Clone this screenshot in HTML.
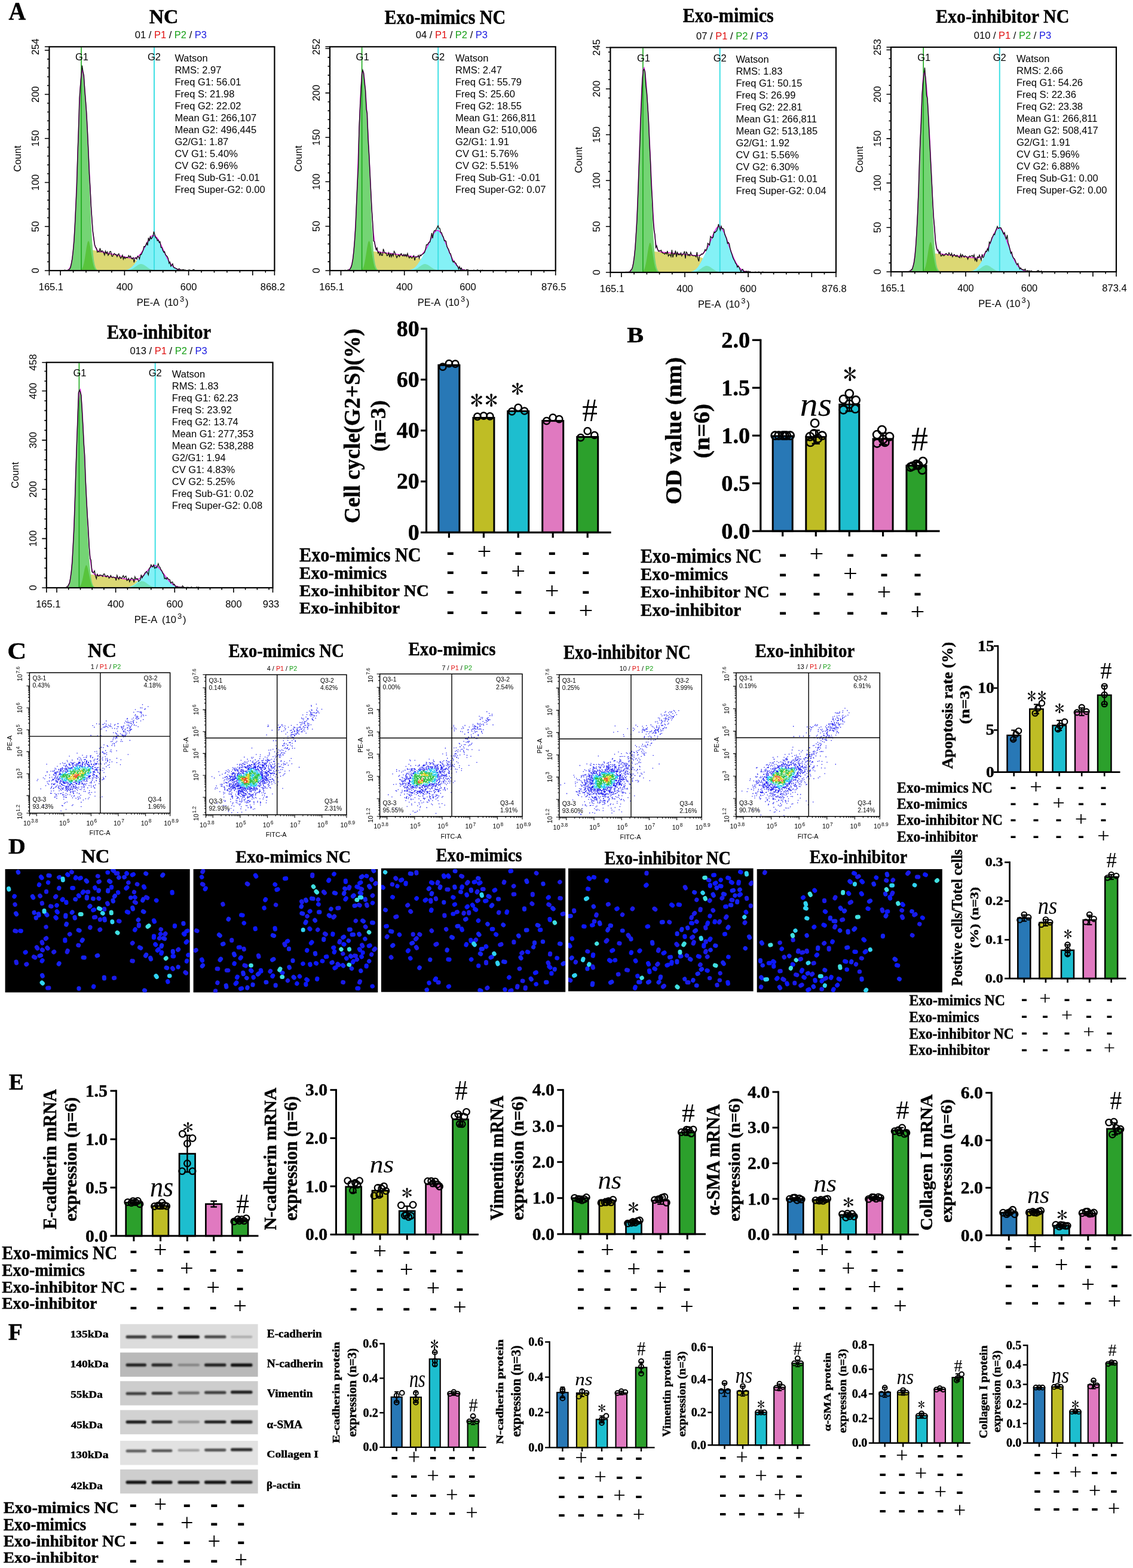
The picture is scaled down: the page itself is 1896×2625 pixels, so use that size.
<!DOCTYPE html>
<html><head><meta charset="utf-8"><title>Figure</title><style>
html,body{margin:0;padding:0;background:#fff;}
svg{display:block;}
.Sb{font-family:'Liberation Serif','Times New Roman',serif;font-weight:bold;stroke:#000;stroke-width:0.45px;}
.Sn{font-family:'Liberation Serif','Times New Roman',serif;font-weight:normal;}
.Sni{font-family:'Liberation Serif','Times New Roman',serif;font-weight:normal;font-style:italic;}
.Sbi{font-family:'Liberation Serif','Times New Roman',serif;font-weight:bold;font-style:italic;}
.Ast{font-family:IPAGothic,'Liberation Serif',serif;font-weight:normal;}
.An{font-family:'Liberation Sans',Arial,sans-serif;font-weight:normal;}
.Ab{font-family:'Liberation Sans',Arial,sans-serif;font-weight:bold;}
</style></head><body><svg width="1896" height="2625" viewBox="0 0 1896 2625"><rect width="1896" height="2625" fill="#fff"/>
<text x="14.61" y="33" class="Sb" font-size="43.02" textLength="28.68" lengthAdjust="spacingAndGlyphs">A</text>
<path d="M107.4 453L107.4 453L108.9 453L110.4 453L111.9 453L113.4 453L114.9 453L116.4 453L117.9 453L119.4 453L120.9 453L122.4 453L123.9 453L125.4 453L126.9 452.9L128.4 452.8L129.9 452.7L131.4 452.5L132.9 452.1L134.4 451.4L135.9 450.2L137.4 448.1L138.9 445.1L140.4 440.8L141.9 435.7L143.4 430.5L144.9 426L146.4 422.8L147.9 420.7L149.4 419.3L150.9 418.6L152.4 418.4L153.9 418.5L155.4 418.7L156.9 418.9L158.4 419.2L159.9 419.5L161.4 419.8L162.9 420.1L164.4 420.4L165.9 420.7L167.4 421.1L168.9 421.4L170.4 421.7L171.9 422L173.4 422.3L174.9 422.6L176.4 423L177.9 423.3L179.4 423.6L180.9 423.9L182.4 424.2L183.9 424.6L185.4 424.9L186.9 425.2L188.4 425.5L189.9 425.8L191.4 426.2L192.9 426.5L194.4 426.8L195.9 427.2L197.4 427.5L198.9 427.8L200.4 428.2L201.9 428.5L203.4 428.9L204.9 429.2L206.4 429.6L207.9 429.9L209.4 430.3L210.9 430.7L212.4 431.1L213.9 431.5L215.4 431.9L216.9 432.3L218.4 432.7L219.9 433.2L221.4 433.7L222.9 434.2L224.4 434.7L225.9 435.3L227.4 435.9L228.9 436.3L230.4 436.7L231.9 437.1L233.4 437.6L234.9 438.1L236.4 438.7L237.9 439.4L239.4 440L240.9 440.8L242.4 441.5L243.9 442.3L245.4 443.1L246.9 443.9L248.4 444.7L249.9 445.5L251.4 446.2L252.9 446.9L254.4 447.6L255.9 448.2L257.4 448.8L258.9 449.3L260.4 449.8L261.9 450.2L263.4 450.6L264.9 450.9L266.4 451.2L267.9 451.5L269.4 451.7L270.9 451.9L272.4 452L273.9 452.2L275.4 452.3L276.9 452.4L278.4 452.5L279.9 452.6L281.4 452.6L282.9 452.7L284.4 452.7L285.9 452.8L287.4 452.8L288.9 452.8L290.4 452.9L291.9 452.9L293.4 452.9L294.9 452.9L296.4 452.9L297.9 452.9L299.4 452.9L300.9 453L302.4 453L303.9 453L305.4 453L306.9 453L308.4 453L309.9 453L311.4 453L312.9 453L314.4 453L315.9 453L317.4 453L318.9 453L320.4 453L321.9 453L323.4 453L324.9 453L326.4 453L327.9 453L329.4 453L330.9 453L332.4 453L332.4 453 Z" fill="#dcd874"/>
<path d="M107.4 453L107.4 453L108.9 453L110.4 453L111.9 453L113.4 453L114.9 453L116.4 453L117.9 453L119.4 453L120.9 453L122.4 453L123.9 453L125.4 453L126.9 453L128.4 453L129.9 453L131.4 453L132.9 453L134.4 453L135.9 453L137.4 453L138.9 453L140.4 453L141.9 453L143.4 453L144.9 453L146.4 453L147.9 453L149.4 453L150.9 453L152.4 453L153.9 453L155.4 453L156.9 453L158.4 453L159.9 453L161.4 453L162.9 453L164.4 453L165.9 453L167.4 453L168.9 453L170.4 453L171.9 453L173.4 453L174.9 453L176.4 453L177.9 453L179.4 453L180.9 453L182.4 453L183.9 453L185.4 453L186.9 453L188.4 453L189.9 453L191.4 453L192.9 453L194.4 453L195.9 452.9L197.4 452.9L198.9 452.9L200.4 452.8L201.9 452.8L203.4 452.7L204.9 452.6L206.4 452.5L207.9 452.3L209.4 452.1L210.9 451.8L212.4 451.5L213.9 451L215.4 450.4L216.9 449.6L218.4 448.6L219.9 447.5L221.4 446.1L222.9 444.6L224.4 442.8L225.9 441L227.4 439.1L228.9 437L230.4 434.7L231.9 432.4L233.4 430.1L234.9 427.7L236.4 425.1L237.9 422.5L239.4 419.7L240.9 416.9L242.4 413.9L243.9 411L245.4 408L246.9 405.1L248.4 402.4L249.9 399.9L251.4 397.8L252.9 396.1L254.4 394.9L255.9 394.3L257.4 394.3L258.9 394.8L260.4 395.8L261.9 397.3L263.4 399.2L264.9 401.5L266.4 404.1L267.9 406.9L269.4 410L270.9 413.3L272.4 416.6L273.9 419.9L275.4 423.2L276.9 426.4L278.4 429.5L279.9 432.4L281.4 435.2L282.9 437.7L284.4 439.9L285.9 442L287.4 443.8L288.9 445.4L290.4 446.7L291.9 447.9L293.4 448.9L294.9 449.7L296.4 450.4L297.9 451L299.4 451.4L300.9 451.8L302.4 452.1L303.9 452.3L305.4 452.5L306.9 452.6L308.4 452.7L309.9 452.8L311.4 452.8L312.9 452.9L314.4 452.9L315.9 452.9L317.4 453L318.9 453L320.4 453L321.9 453L323.4 453L324.9 453L326.4 453L327.9 453L329.4 453L330.9 453L332.4 453L332.4 453 Z" fill="#84f1f6"/>
<path d="M107.4 453L107.4 453L108.9 453L110.4 453L111.9 453L113.4 453L114.9 453L116.4 453L117.9 453L119.4 453L120.9 453L122.4 453L123.9 453L125.4 453L126.9 453L128.4 453L129.9 453L131.4 453L132.9 453L134.4 453L135.9 453L137.4 453L138.9 453L140.4 453L141.9 453L143.4 453L144.9 453L146.4 453L147.9 453L149.4 453L150.9 453L152.4 453L153.9 453L155.4 453L156.9 453L158.4 453L159.9 453L161.4 453L162.9 453L164.4 453L165.9 453L167.4 453L168.9 453L170.4 453L171.9 453L173.4 453L174.9 453L176.4 453L177.9 453L179.4 453L180.9 453L182.4 453L183.9 453L185.4 453L186.9 453L188.4 453L189.9 453L191.4 453L192.9 453L194.4 453L195.9 453L197.4 453L198.9 453L200.4 453L201.9 453L203.4 453L204.9 453L206.4 453L207.9 452.9L209.4 452.9L210.9 452.8L212.4 452.6L213.9 452.5L215.4 452.2L216.9 451.8L218.4 451.4L219.9 450.8L221.4 450L222.9 449.2L224.4 448.2L225.9 447.1L227.4 446L228.9 444.9L230.4 443.9L231.9 443.1L233.4 442.4L234.9 442.1L236.4 442L237.9 442.2L239.4 442.8L240.9 443.5L242.4 444.5L243.9 445.5L245.4 446.6L246.9 447.7L248.4 448.7L249.9 449.7L251.4 450.5L252.9 451.1L254.4 451.6L255.9 452L257.4 452.3L258.9 452.6L260.4 452.7L261.9 452.8L263.4 452.9L264.9 452.9L266.4 453L267.9 453L269.4 453L270.9 453L272.4 453L273.9 453L275.4 453L276.9 453L278.4 453L279.9 453L281.4 453L282.9 453L284.4 453L285.9 453L287.4 453L288.9 453L290.4 453L291.9 453L293.4 453L294.9 453L296.4 453L297.9 453L299.4 453L300.9 453L302.4 453L303.9 453L305.4 453L306.9 453L308.4 453L309.9 453L311.4 453L312.9 453L314.4 453L315.9 453L317.4 453L318.9 453L320.4 453L321.9 453L323.4 453L324.9 453L326.4 453L327.9 453L329.4 453L330.9 453L332.4 453L332.4 453 Z" fill="#6ee0b4" fill-opacity="0.9"/>
<path d="M107.4 453L107.4 453L108.9 452.9L110.4 452.8L111.9 452.6L113.4 452.2L114.9 451.3L116.4 449.7L117.9 446.7L119.4 441.5L120.9 433.1L122.4 420.3L123.9 401.8L125.4 376.5L126.9 344.2L128.4 305.7L129.9 262.8L131.4 219.1L132.9 178.9L134.4 146.5L135.9 125.6L137.4 118L138.9 121.2L140.4 132.6L141.9 150L143.4 171.9L144.9 197.8L146.4 227.7L147.9 262L149.4 299.5L150.9 337.5L152.4 372L153.9 399.9L155.4 420.4L156.9 434.3L158.4 442.8L159.9 447.8L161.4 450.4L162.9 451.8L164.4 452.4L165.9 452.7L167.4 452.9L168.9 452.9L170.4 453L171.9 453L173.4 453L174.9 453L174.9 453 Z" fill="#74d474"/>
<path d="M107.4 453L107.4 453L108.9 453L110.4 453L111.9 453L113.4 453L114.9 453L116.4 453L117.9 453L119.4 453L120.9 453L122.4 453L123.9 453L125.4 453L126.9 453L128.4 453L129.9 453L131.4 452.9L132.9 452.8L134.4 452.5L135.9 451.7L137.4 449.9L138.9 446.5L140.4 441L141.9 433L143.4 423.3L144.9 413.6L146.4 406.1L147.9 403L149.4 405.4L150.9 412.4L152.4 422L153.9 431.8L155.4 440.1L156.9 445.9L158.4 449.5L159.9 451.5L161.4 452.4L162.9 452.8L164.4 452.9L165.9 453L167.4 453L168.9 453L170.4 453L171.9 453L173.4 453L174.9 453L174.9 453 Z" fill="#58c43c"/>
<line x1="136" y1="79.3" x2="136" y2="453" stroke="#1aa81a" stroke-width="1.6"/>
<line x1="258" y1="79.3" x2="258" y2="453" stroke="#3ee0e4" stroke-width="2"/>
<path d="M107.4 453L108.9 452.9L110.4 452.8L111.9 452.6L113.4 452.2L114.9 451.3L116.4 449.7L117.9 446.7L119.4 441.5L120.9 433.1L122.4 420.3L123.9 401.8L125.4 376.5L126.9 344.2L128.4 305.7L129.9 262.8L131.4 219.1L132.9 178.9L134.4 146.5L135.9 125.6L137.4 118L138.9 121.2L140.4 132.5L141.9 149.7L143.4 171.1L144.9 195.8L146.4 223.4L147.9 253.6L149.4 285.2L150.9 316.5L152.4 345.4L153.9 369.7L155.4 388.3L156.9 401.2L158.4 409.5L159.9 414.5L161.4 417.3L162.9 418.9L164.4 419.9L165.9 420.5L167.4 420.9L168.9 421.3L170.4 421.7L171.9 422L173.4 422.3L174.9 422.6L176.4 423L177.9 423.3L179.4 423.6L180.9 423.9L182.4 424.2L183.9 424.6L185.4 424.9L186.9 425.2L188.4 425.5L189.9 425.8L191.4 426.2L192.9 426.5L194.4 426.8L195.9 427.2L197.4 427.5L198.9 427.8L200.4 428.2L201.9 428.5L203.4 428.8L204.9 429.2L206.4 429.5L207.9 429.9L209.4 430.2L210.9 430.5L212.4 430.9L213.9 431.2L215.4 431.5L216.9 431.8L218.4 432L219.9 432.2L221.4 432.3L222.9 432.3L224.4 432.3L225.9 432L227.4 431.7L228.9 431L230.4 430L231.9 428.7L233.4 427.2L234.9 425.5L236.4 423.6L237.9 421.3L239.4 418.9L240.9 416.3L242.4 413.5L243.9 410.7L245.4 407.8L246.9 405L248.4 402.3L249.9 399.9L251.4 397.8L252.9 396.1L254.4 394.9L255.9 394.3L257.4 394.3L258.9 394.8L260.4 395.8L261.9 397.3L263.4 399.2L264.9 401.5L266.4 404.1L267.9 406.9L269.4 410L270.9 413.3L272.4 416.6L273.9 419.9L275.4 423.2L276.9 426.4L278.4 429.5L279.9 432.4L281.4 435.2L282.9 437.7L284.4 439.9L285.9 442L287.4 443.8L288.9 445.4L290.4 446.7L291.9 447.9L293.4 448.9L294.9 449.7L296.4 450.4L297.9 451L299.4 451.4L300.9 451.8L302.4 452.1L303.9 452.3L305.4 452.5L306.9 452.6L308.4 452.7L309.9 452.8L311.4 452.8L312.9 452.9L314.4 452.9L315.9 452.9L317.4 453L318.9 453L320.4 453L321.9 453L323.4 453L324.9 453L326.4 453L327.9 453L329.4 453L330.9 453L332.4 453" fill="none" stroke="#e41ce4" stroke-width="1.6"/>
<path d="M107.4 452.2L108.9 452.1L110.4 452.8L111.9 453L113.4 452.9L114.9 451.3L116.4 450.5L117.9 448L119.4 441.3L120.9 433L122.4 419.5L123.9 403.3L125.4 376.5L126.9 344.5L128.4 313L129.9 259.9L131.4 217.2L132.9 163.8L134.4 145.1L135.9 126.6L137.4 109.5L138.9 119.8L140.4 126.3L141.9 152.1L143.4 169.7L144.9 189.5L146.4 219.4L147.9 252.9L149.4 290.8L150.9 314.3L152.4 345.1L153.9 366.9L155.4 387.5L156.9 397.6L158.4 409.7L159.9 413.9L161.4 415.3L162.9 422.1L164.4 421L165.9 421.9L167.4 415.3L168.9 421.6L170.4 419.8L171.9 420.2L173.4 423.1L174.9 427L176.4 420.3L177.9 424.4L179.4 421.6L180.9 427.5L182.4 425.5L183.9 421.1L185.4 420.9L186.9 428.8L188.4 429.2L189.9 426L191.4 424.2L192.9 426.1L194.4 426L195.9 429.8L197.4 425.9L198.9 424.8L200.4 429.3L201.9 432.3L203.4 430.8L204.9 427.2L206.4 434L207.9 430.1L209.4 432.8L210.9 430.9L212.4 431.5L213.9 431.2L215.4 427.7L216.9 430.7L218.4 428.6L219.9 432.5L221.4 433.5L222.9 431.4L224.4 439.4L225.9 432.1L227.4 431.3L228.9 434.1L230.4 428.7L231.9 430.2L233.4 433.8L234.9 426.1L236.4 426.3L237.9 422.8L239.4 419.4L240.9 412.6L242.4 413.2L243.9 410.8L245.4 406.5L246.9 410.9L248.4 398.2L249.9 403.5L251.4 396.3L252.9 400L254.4 398.3L255.9 395.7L257.4 387.6L258.9 392.4L260.4 397.9L261.9 398.3L263.4 403.1L264.9 401.6L266.4 406L267.9 404.6L269.4 414.3L270.9 414.3L272.4 419.1L273.9 422L275.4 421.2L276.9 426.1L278.4 428L279.9 429.5L281.4 432.4L282.9 440.8L284.4 438.7L285.9 445.7L287.4 443.9L288.9 441.6L290.4 447.1L291.9 448.6L293.4 448.6L294.9 449.7L296.4 450.4L297.9 452.1L299.4 449.8L300.9 450.5L302.4 452.4L303.9 451.9L305.4 451.6L306.9 451.3L308.4 452.2L309.9 451.9L311.4 453L312.9 453L314.4 453L315.9 451.8L317.4 451.8L318.9 452.8L320.4 453L321.9 452.6L323.4 451.1L324.9 451.5L326.4 453L327.9 453L329.4 453L330.9 453L332.4 452.8" fill="none" stroke="#111" stroke-width="1.3"/>
<rect x="82.4" y="78.3" width="377" height="374.7" fill="none" stroke="#000" stroke-width="2.2"/>
<text x="65.4" y="453" class="An" font-size="16.5" text-anchor="middle" transform="rotate(-90 65.4 453)">0</text>
<text x="65.4" y="379.2" class="An" font-size="16.5" text-anchor="middle" transform="rotate(-90 65.4 379.2)">50</text>
<text x="65.4" y="305.5" class="An" font-size="16.5" text-anchor="middle" transform="rotate(-90 65.4 305.5)">100</text>
<text x="65.4" y="231.7" class="An" font-size="16.5" text-anchor="middle" transform="rotate(-90 65.4 231.7)">150</text>
<text x="65.4" y="158" class="An" font-size="16.5" text-anchor="middle" transform="rotate(-90 65.4 158)">200</text>
<text x="65.4" y="78.3" class="An" font-size="16.5" text-anchor="middle" transform="rotate(-90 65.4 78.3)">254</text>
<text x="35.4" y="265.6" class="An" font-size="16.5" text-anchor="middle" transform="rotate(-90 35.4 265.6)">Count</text>
<path d="M74.9 453H82.4M78.9 438.2H82.4M78.9 423.5H82.4M78.9 408.7H82.4M78.9 394H82.4M74.9 379.2H82.4M78.9 364.5H82.4M78.9 349.7H82.4M78.9 335H82.4M78.9 320.2H82.4M74.9 305.5H82.4M78.9 290.7H82.4M78.9 276H82.4M78.9 261.2H82.4M78.9 246.5H82.4M74.9 231.7H82.4M78.9 217H82.4M78.9 202.2H82.4M78.9 187.5H82.4M78.9 172.7H82.4M74.9 158H82.4M78.9 143.2H82.4M78.9 128.5H82.4M78.9 113.7H82.4M78.9 99H82.4M74.9 84.2H82.4M74.9 78.3H82.4M101.1 453V461M122.6 453V456.5M144 453V456.5M165.5 453V456.5M186.9 453V456.5M208.4 453V461M229.8 453V456.5M251.2 453V456.5M272.7 453V456.5M294.1 453V456.5M315.6 453V461M337 453V456.5M358.5 453V456.5M379.9 453V456.5M401.4 453V456.5M422.8 453V461M444.3 453V456.5M82.4 453V461M459.4 453V461" fill="none" stroke="#000" stroke-width="1.6"/>
<text x="85.4" y="486" class="An" font-size="16.5" text-anchor="middle">165.1</text>
<text x="208.4" y="486" class="An" font-size="16.5" text-anchor="middle">400</text>
<text x="315.6" y="486" class="An" font-size="16.5" text-anchor="middle">600</text>
<text x="456.4" y="486" class="An" font-size="16.5" text-anchor="middle">868.2</text>
<text x="247.9" y="512" class="An" font-size="16.5" text-anchor="middle">PE-A</text>
<text x="274.9" y="512" class="An" font-size="16.5">(10</text>
<text x="300.9" y="505" class="An" font-size="13">3</text>
<text x="309.9" y="512" class="An" font-size="16.5">)</text>
<text x="137" y="101.3" class="An" font-size="16.5" text-anchor="middle">G1</text>
<text x="258" y="101.3" class="An" font-size="16.5" text-anchor="middle">G2</text>
<text x="292.4" y="103.3" class="An" font-size="16.5">Watson</text>
<text x="292.4" y="123.3" class="An" font-size="16.5">RMS: 2.97</text>
<text x="292.4" y="143.3" class="An" font-size="16.5">Freq G1: 56.01</text>
<text x="292.4" y="163.3" class="An" font-size="16.5">Freq S: 21.98</text>
<text x="292.4" y="183.3" class="An" font-size="16.5">Freq G2: 22.02</text>
<text x="292.4" y="203.3" class="An" font-size="16.5">Mean G1: 266,107</text>
<text x="292.4" y="223.3" class="An" font-size="16.5">Mean G2: 496,445</text>
<text x="292.4" y="243.3" class="An" font-size="16.5">G2/G1: 1.87</text>
<text x="292.4" y="263.3" class="An" font-size="16.5">CV G1: 5.40%</text>
<text x="292.4" y="283.3" class="An" font-size="16.5">CV G2: 6.96%</text>
<text x="292.4" y="303.3" class="An" font-size="16.5">Freq Sub-G1: -0.01</text>
<text x="292.4" y="323.3" class="An" font-size="16.5">Freq Super-G2: 0.00</text>
<text x="249.65" y="39.08" class="Sb" font-size="32.74" textLength="48.93" lengthAdjust="spacingAndGlyphs">NC</text>
<text x="285.9" y="64.3" class="An" font-size="16.5" text-anchor="middle"><tspan>01 / </tspan><tspan fill="#e01010">P1</tspan><tspan> / </tspan><tspan fill="#18a018">P2</tspan><tspan> / </tspan><tspan fill="#1818e0">P3</tspan></text>
<path d="M577 453L577 453L578.5 453L580 453L581.5 453L583 453L584.5 453L586 453L587.5 453L589 453L590.5 453L592 453L593.5 453L595 453L596.5 452.9L598 452.9L599.5 452.7L601 452.5L602.5 452.2L604 451.5L605.5 450.4L607 448.5L608.5 445.7L610 441.7L611.5 437L613 432.2L614.5 428.1L616 425.1L617.5 423.1L619 421.9L620.5 421.2L622 421L623.5 420.9L625 421L626.5 421.1L628 421.3L629.5 421.4L631 421.6L632.5 421.8L634 422L635.5 422.2L637 422.4L638.5 422.5L640 422.7L641.5 422.9L643 423.1L644.5 423.3L646 423.5L647.5 423.7L649 423.9L650.5 424.1L652 424.3L653.5 424.4L655 424.6L656.5 424.8L658 425L659.5 425.2L661 425.4L662.5 425.6L664 425.8L665.5 426L667 426.2L668.5 426.4L670 426.6L671.5 426.8L673 427L674.5 427.2L676 427.4L677.5 427.7L679 427.9L680.5 428.1L682 428.3L683.5 428.6L685 428.8L686.5 429.1L688 429.4L689.5 429.7L691 430L692.5 430.3L694 430.6L695.5 431L697 431.4L698.5 431.8L700 432.3L701.5 432.8L703 433.3L704.5 433.7L706 434.2L707.5 434.7L709 435.3L710.5 435.9L712 436.6L713.5 437.3L715 438.2L716.5 439L718 439.9L719.5 440.8L721 441.7L722.5 442.7L724 443.6L725.5 444.5L727 445.3L728.5 446.1L730 446.9L731.5 447.6L733 448.3L734.5 448.9L736 449.4L737.5 449.9L739 450.3L740.5 450.7L742 451L743.5 451.3L745 451.5L746.5 451.7L748 451.9L749.5 452.1L751 452.2L752.5 452.3L754 452.4L755.5 452.5L757 452.6L758.5 452.7L760 452.7L761.5 452.7L763 452.8L764.5 452.8L766 452.8L767.5 452.9L769 452.9L770.5 452.9L772 452.9L773.5 452.9L775 452.9L776.5 453L778 453L779.5 453L781 453L782.5 453L784 453L785.5 453L787 453L788.5 453L790 453L791.5 453L793 453L794.5 453L796 453L797.5 453L799 453L800.5 453L802 453L803.5 453L805 453L806.5 453L808 453L808 453 Z" fill="#dcd874"/>
<path d="M577 453L577 453L578.5 453L580 453L581.5 453L583 453L584.5 453L586 453L587.5 453L589 453L590.5 453L592 453L593.5 453L595 453L596.5 453L598 453L599.5 453L601 453L602.5 453L604 453L605.5 453L607 453L608.5 453L610 453L611.5 453L613 453L614.5 453L616 453L617.5 453L619 453L620.5 453L622 453L623.5 453L625 453L626.5 453L628 453L629.5 453L631 453L632.5 453L634 453L635.5 453L637 453L638.5 453L640 453L641.5 453L643 453L644.5 453L646 453L647.5 453L649 453L650.5 453L652 453L653.5 453L655 453L656.5 453L658 453L659.5 453L661 453L662.5 453L664 453L665.5 453L667 453L668.5 453L670 452.9L671.5 452.9L673 452.9L674.5 452.9L676 452.8L677.5 452.8L679 452.7L680.5 452.6L682 452.4L683.5 452.2L685 452L686.5 451.6L688 451.2L689.5 450.6L691 449.9L692.5 448.9L694 447.8L695.5 446.4L697 444.8L698.5 442.9L700 440.8L701.5 438.6L703 436.3L704.5 433.8L706 431.2L707.5 428.5L709 425.8L710.5 423L712 420.1L713.5 417L715 413.9L716.5 410.6L718 407.2L719.5 403.8L721 400.4L722.5 397.2L724 394.2L725.5 391.5L727 389.2L728.5 387.4L730 386.2L731.5 385.7L733 385.8L734.5 386.6L736 388L737.5 389.8L739 392.1L740.5 394.8L742 397.8L743.5 401.2L745 404.8L746.5 408.5L748 412.3L749.5 416.2L751 419.9L752.5 423.6L754 427.1L755.5 430.3L757 433.4L758.5 436.2L760 438.7L761.5 441L763 443L764.5 444.7L766 446.2L767.5 447.5L769 448.6L770.5 449.5L772 450.2L773.5 450.8L775 451.3L776.5 451.7L778 452L779.5 452.2L781 452.4L782.5 452.6L784 452.7L785.5 452.8L787 452.8L788.5 452.9L790 452.9L791.5 452.9L793 453L794.5 453L796 453L797.5 453L799 453L800.5 453L802 453L803.5 453L805 453L806.5 453L808 453L808 453 Z" fill="#84f1f6"/>
<path d="M577 453L577 453L578.5 453L580 453L581.5 453L583 453L584.5 453L586 453L587.5 453L589 453L590.5 453L592 453L593.5 453L595 453L596.5 453L598 453L599.5 453L601 453L602.5 453L604 453L605.5 453L607 453L608.5 453L610 453L611.5 453L613 453L614.5 453L616 453L617.5 453L619 453L620.5 453L622 453L623.5 453L625 453L626.5 453L628 453L629.5 453L631 453L632.5 453L634 453L635.5 453L637 453L638.5 453L640 453L641.5 453L643 453L644.5 453L646 453L647.5 453L649 453L650.5 453L652 453L653.5 453L655 453L656.5 453L658 453L659.5 453L661 453L662.5 453L664 453L665.5 453L667 453L668.5 453L670 453L671.5 453L673 453L674.5 453L676 453L677.5 453L679 453L680.5 453L682 452.9L683.5 452.9L685 452.8L686.5 452.7L688 452.6L689.5 452.4L691 452.1L692.5 451.7L694 451.2L695.5 450.6L697 449.8L698.5 448.9L700 447.9L701.5 446.8L703 445.7L704.5 444.7L706 443.7L707.5 442.9L709 442.3L710.5 442L712 442L713.5 442.4L715 442.9L716.5 443.8L718 444.7L719.5 445.8L721 446.9L722.5 448L724 449L725.5 449.9L727 450.6L728.5 451.3L730 451.8L731.5 452.1L733 452.4L734.5 452.6L736 452.8L737.5 452.8L739 452.9L740.5 452.9L742 453L743.5 453L745 453L746.5 453L748 453L749.5 453L751 453L752.5 453L754 453L755.5 453L757 453L758.5 453L760 453L761.5 453L763 453L764.5 453L766 453L767.5 453L769 453L770.5 453L772 453L773.5 453L775 453L776.5 453L778 453L779.5 453L781 453L782.5 453L784 453L785.5 453L787 453L788.5 453L790 453L791.5 453L793 453L794.5 453L796 453L797.5 453L799 453L800.5 453L802 453L803.5 453L805 453L806.5 453L808 453L808 453 Z" fill="#6ee0b4" fill-opacity="0.9"/>
<path d="M577 453L577 453L578.5 452.9L580 452.8L581.5 452.6L583 452.2L584.5 451.3L586 449.7L587.5 446.7L589 441.5L590.5 433.2L592 420.4L593.5 401.8L595 376.6L596.5 344.4L598 305.8L599.5 263.1L601 219.4L602.5 179.2L604 146.9L605.5 126.2L607 118.7L608.5 122.2L610 133.8L611.5 151.6L613 173.8L614.5 199.9L616 229.9L617.5 263.9L619 301.1L620.5 338.6L622 372.6L623.5 400.2L625 420.6L626.5 434.3L628 442.9L629.5 447.8L631 450.4L632.5 451.8L634 452.4L635.5 452.7L637 452.9L638.5 452.9L640 453L641.5 453L643 453L644.5 453L644.5 453 Z" fill="#74d474"/>
<path d="M577 453L577 453L578.5 453L580 453L581.5 453L583 453L584.5 453L586 453L587.5 453L589 453L590.5 453L592 453L593.5 453L595 453L596.5 453L598 453L599.5 453L601 452.9L602.5 452.8L604 452.5L605.5 451.7L607 449.9L608.5 446.5L610 441L611.5 433L613 423.3L614.5 413.6L616 406.1L617.5 403L619 405.4L620.5 412.4L622 422L623.5 431.8L625 440.1L626.5 445.9L628 449.5L629.5 451.5L631 452.4L632.5 452.8L634 452.9L635.5 453L637 453L638.5 453L640 453L641.5 453L643 453L644.5 453L644.5 453 Z" fill="#58c43c"/>
<line x1="605.6" y1="79.3" x2="605.6" y2="453" stroke="#1aa81a" stroke-width="1.6"/>
<line x1="733.2" y1="79.3" x2="733.2" y2="453" stroke="#3ee0e4" stroke-width="2"/>
<path d="M577 453L578.5 452.9L580 452.8L581.5 452.6L583 452.2L584.5 451.3L586 449.7L587.5 446.7L589 441.5L590.5 433.2L592 420.4L593.5 401.8L595 376.6L596.5 344.4L598 305.8L599.5 263.1L601 219.4L602.5 179.2L604 146.9L605.5 126.2L607 118.7L608.5 122.1L610 133.7L611.5 151.3L613 173.1L614.5 198.1L616 225.9L617.5 256.2L619 287.8L620.5 319.1L622 348L623.5 372.2L625 390.6L626.5 403.4L628 411.6L629.5 416.4L631 419.1L632.5 420.6L634 421.4L635.5 421.9L637 422.2L638.5 422.5L640 422.7L641.5 422.9L643 423.1L644.5 423.3L646 423.5L647.5 423.7L649 423.9L650.5 424.1L652 424.3L653.5 424.4L655 424.6L656.5 424.8L658 425L659.5 425.2L661 425.4L662.5 425.6L664 425.8L665.5 426L667 426.2L668.5 426.4L670 426.6L671.5 426.8L673 427L674.5 427.2L676 427.4L677.5 427.6L679 427.9L680.5 428.1L682 428.3L683.5 428.5L685 428.7L686.5 428.9L688 429.1L689.5 429.3L691 429.5L692.5 429.6L694 429.7L695.5 429.7L697 429.7L698.5 429.5L700 429.2L701.5 428.8L703 428.2L704.5 427.2L706 426L707.5 424.5L709 422.7L710.5 420.7L712 418.4L713.5 415.8L715 413L716.5 409.9L718 406.8L719.5 403.5L721 400.2L722.5 397L724 394.1L725.5 391.4L727 389.1L728.5 387.4L730 386.2L731.5 385.7L733 385.8L734.5 386.6L736 388L737.5 389.8L739 392.1L740.5 394.8L742 397.8L743.5 401.2L745 404.8L746.5 408.5L748 412.3L749.5 416.2L751 419.9L752.5 423.6L754 427.1L755.5 430.3L757 433.4L758.5 436.2L760 438.7L761.5 441L763 443L764.5 444.7L766 446.2L767.5 447.5L769 448.6L770.5 449.5L772 450.2L773.5 450.8L775 451.3L776.5 451.7L778 452L779.5 452.2L781 452.4L782.5 452.6L784 452.7L785.5 452.8L787 452.8L788.5 452.9L790 452.9L791.5 452.9L793 453L794.5 453L796 453L797.5 453L799 453L800.5 453L802 453L803.5 453L805 453L806.5 453L808 453" fill="none" stroke="#e41ce4" stroke-width="1.6"/>
<path d="M577 451.7L578.5 453L580 452.6L581.5 452.5L583 451.6L584.5 452.4L586 450L587.5 447.4L589 442.7L590.5 434.2L592 421.1L593.5 402.3L595 380.1L596.5 342.5L598 308.5L599.5 280.4L601 212.4L602.5 181.7L604 151.8L605.5 124.3L607 117.2L608.5 121.8L610 139.5L611.5 150L613 182.8L614.5 189.3L616 233.3L617.5 257.3L619 287.7L620.5 318.1L622 349L623.5 370.3L625 403.6L626.5 404.2L628 412.5L629.5 418.1L631 415L632.5 423.8L634 422L635.5 428.1L637 421.8L638.5 427.5L640 427.5L641.5 416.6L643 421.5L644.5 423.7L646 423.4L647.5 428.1L649 427.2L650.5 423.2L652 430.5L653.5 424.1L655 429.8L656.5 424.9L658 428.5L659.5 420.7L661 423L662.5 427.4L664 431.4L665.5 428.5L667 426.7L668.5 429.5L670 426.2L671.5 424.5L673 427.5L674.5 428.8L676 425.7L677.5 428.8L679 425.9L680.5 429.3L682 424.3L683.5 429.6L685 431.9L686.5 429L688 431.2L689.5 432.2L691 430.2L692.5 428L694 435.8L695.5 430.2L697 430.4L698.5 430.2L700 427.4L701.5 432.6L703 426.7L704.5 428.2L706 426L707.5 425.5L709 424L710.5 422.6L712 417.5L713.5 409.8L715 410L716.5 407.6L718 405.3L719.5 405.4L721 398.5L722.5 390.2L724 399L725.5 388.8L727 385.8L728.5 386.7L730 383.6L731.5 380.8L733 377.9L734.5 382.1L736 382.2L737.5 388.9L739 389.4L740.5 394.4L742 397.1L743.5 403L745 402.8L746.5 404.1L748 413L749.5 415.6L751 418.3L752.5 423.7L754 424.6L755.5 429.8L757 436.4L758.5 438.8L760 437.1L761.5 439.7L763 440.7L764.5 444.3L766 445.9L767.5 450.4L769 446.2L770.5 451.1L772 448.6L773.5 452.6L775 452.3L776.5 451.5L778 452.6L779.5 453L781 451.3L782.5 451.7L784 452.2L785.5 453L787 453L788.5 453L790 453L791.5 453L793 452.1L794.5 453L796 453L797.5 453L799 451.6L800.5 452.8L802 452.8L803.5 452.7L805 452.4L806.5 452.9L808 451.7" fill="none" stroke="#111" stroke-width="1.3"/>
<rect x="552" y="78.3" width="377.7" height="374.7" fill="none" stroke="#000" stroke-width="2.2"/>
<text x="535" y="453" class="An" font-size="16.5" text-anchor="middle" transform="rotate(-90 535 453)">0</text>
<text x="535" y="378.7" class="An" font-size="16.5" text-anchor="middle" transform="rotate(-90 535 378.7)">50</text>
<text x="535" y="304.3" class="An" font-size="16.5" text-anchor="middle" transform="rotate(-90 535 304.3)">100</text>
<text x="535" y="230" class="An" font-size="16.5" text-anchor="middle" transform="rotate(-90 535 230)">150</text>
<text x="535" y="155.6" class="An" font-size="16.5" text-anchor="middle" transform="rotate(-90 535 155.6)">200</text>
<text x="535" y="78.3" class="An" font-size="16.5" text-anchor="middle" transform="rotate(-90 535 78.3)">252</text>
<text x="505" y="265.6" class="An" font-size="16.5" text-anchor="middle" transform="rotate(-90 505 265.6)">Count</text>
<path d="M544.5 453H552M548.5 438.1H552M548.5 423.3H552M548.5 408.4H552M548.5 393.5H552M544.5 378.7H552M548.5 363.8H552M548.5 348.9H552M548.5 334H552M548.5 319.2H552M544.5 304.3H552M548.5 289.4H552M548.5 274.6H552M548.5 259.7H552M548.5 244.8H552M544.5 230H552M548.5 215.1H552M548.5 200.2H552M548.5 185.4H552M548.5 170.5H552M544.5 155.6H552M548.5 140.8H552M548.5 125.9H552M548.5 111H552M548.5 96.1H552M544.5 81.3H552M544.5 78.3H552M570.5 453V461M591.8 453V456.5M613 453V456.5M634.2 453V456.5M655.5 453V456.5M676.7 453V461M698 453V456.5M719.2 453V456.5M740.4 453V456.5M761.7 453V456.5M782.9 453V461M804.1 453V456.5M825.4 453V456.5M846.6 453V456.5M867.8 453V456.5M889.1 453V461M910.3 453V456.5M552 453V461M929.7 453V461" fill="none" stroke="#000" stroke-width="1.6"/>
<text x="555" y="486" class="An" font-size="16.5" text-anchor="middle">165.1</text>
<text x="676.7" y="486" class="An" font-size="16.5" text-anchor="middle">400</text>
<text x="782.9" y="486" class="An" font-size="16.5" text-anchor="middle">600</text>
<text x="926.7" y="486" class="An" font-size="16.5" text-anchor="middle">876.5</text>
<text x="717.9" y="512" class="An" font-size="16.5" text-anchor="middle">PE-A</text>
<text x="744.9" y="512" class="An" font-size="16.5">(10</text>
<text x="770.9" y="505" class="An" font-size="13">3</text>
<text x="779.9" y="512" class="An" font-size="16.5">)</text>
<text x="606.6" y="101.3" class="An" font-size="16.5" text-anchor="middle">G1</text>
<text x="733.2" y="101.3" class="An" font-size="16.5" text-anchor="middle">G2</text>
<text x="762" y="103.3" class="An" font-size="16.5">Watson</text>
<text x="762" y="123.3" class="An" font-size="16.5">RMS: 2.47</text>
<text x="762" y="143.3" class="An" font-size="16.5">Freq G1: 55.79</text>
<text x="762" y="163.3" class="An" font-size="16.5">Freq S: 25.60</text>
<text x="762" y="183.3" class="An" font-size="16.5">Freq G2: 18.55</text>
<text x="762" y="203.3" class="An" font-size="16.5">Mean G1: 266,811</text>
<text x="762" y="223.3" class="An" font-size="16.5">Mean G2: 510,006</text>
<text x="762" y="243.3" class="An" font-size="16.5">G2/G1: 1.91</text>
<text x="762" y="263.3" class="An" font-size="16.5">CV G1: 5.76%</text>
<text x="762" y="283.3" class="An" font-size="16.5">CV G2: 5.51%</text>
<text x="762" y="303.3" class="An" font-size="16.5">Freq Sub-G1: -0.01</text>
<text x="762" y="323.3" class="An" font-size="16.5">Freq Super-G2: 0.07</text>
<text x="643.39" y="39.87" class="Sb" font-size="33.93" textLength="202.9" lengthAdjust="spacingAndGlyphs">Exo-mimics NC</text>
<text x="755.9" y="64.3" class="An" font-size="16.5" text-anchor="middle"><tspan>04 / </tspan><tspan fill="#e01010">P1</tspan><tspan> / </tspan><tspan fill="#18a018">P2</tspan><tspan> / </tspan><tspan fill="#1818e0">P3</tspan></text>
<path d="M1046.4 456L1046.4 456L1047.9 456L1049.4 456L1050.9 456L1052.4 456L1053.9 456L1055.4 456L1056.9 456L1058.4 456L1059.9 456L1061.4 456L1062.9 456L1064.4 456L1065.9 455.9L1067.4 455.9L1068.9 455.8L1070.4 455.6L1071.9 455.4L1073.4 454.9L1074.9 454L1076.4 452.5L1077.9 450.1L1079.4 446.5L1080.9 441.8L1082.4 436.6L1083.9 431.6L1085.4 427.6L1086.9 424.9L1088.4 423.1L1089.9 422L1091.4 421.5L1092.9 421.3L1094.4 421.2L1095.9 421.2L1097.4 421.3L1098.9 421.4L1100.4 421.5L1101.9 421.7L1103.4 421.8L1104.9 421.9L1106.4 422.1L1107.9 422.2L1109.4 422.4L1110.9 422.5L1112.4 422.6L1113.9 422.8L1115.4 422.9L1116.9 423L1118.4 423.2L1119.9 423.3L1121.4 423.5L1122.9 423.6L1124.4 423.7L1125.9 423.9L1127.4 424L1128.9 424.2L1130.4 424.3L1131.9 424.5L1133.4 424.6L1134.9 424.7L1136.4 424.9L1137.9 425L1139.4 425.2L1140.9 425.3L1142.4 425.5L1143.9 425.6L1145.4 425.8L1146.9 426L1148.4 426.1L1149.9 426.3L1151.4 426.5L1152.9 426.7L1154.4 426.9L1155.9 427.1L1157.4 427.3L1158.9 427.6L1160.4 427.8L1161.9 428.1L1163.4 428.4L1164.9 428.7L1166.4 429L1167.9 429.4L1169.4 429.8L1170.9 430.3L1172.4 430.8L1173.9 431.3L1175.4 431.9L1176.9 432.4L1178.4 433L1179.9 433.7L1181.4 434.5L1182.9 435.3L1184.4 436.2L1185.9 437.2L1187.4 438.2L1188.9 439.3L1190.4 440.4L1191.9 441.6L1193.4 442.7L1194.9 443.9L1196.4 445L1197.9 446.1L1199.4 447.1L1200.9 448.1L1202.4 449L1203.9 449.8L1205.4 450.6L1206.9 451.3L1208.4 451.9L1209.9 452.4L1211.4 452.9L1212.9 453.3L1214.4 453.7L1215.9 454L1217.4 454.3L1218.9 454.6L1220.4 454.8L1221.9 455L1223.4 455.1L1224.9 455.2L1226.4 455.4L1227.9 455.5L1229.4 455.5L1230.9 455.6L1232.4 455.7L1233.9 455.7L1235.4 455.8L1236.9 455.8L1238.4 455.8L1239.9 455.9L1241.4 455.9L1242.9 455.9L1244.4 455.9L1245.9 455.9L1247.4 455.9L1248.9 455.9L1250.4 456L1251.9 456L1253.4 456L1254.9 456L1256.4 456L1257.9 456L1259.4 456L1260.9 456L1262.4 456L1263.9 456L1265.4 456L1266.9 456L1268.4 456L1269.9 456L1271.4 456L1272.9 456L1274.4 456L1275.9 456L1277.4 456L1278.9 456L1278.9 456 Z" fill="#dcd874"/>
<path d="M1046.4 456L1046.4 456L1047.9 456L1049.4 456L1050.9 456L1052.4 456L1053.9 456L1055.4 456L1056.9 456L1058.4 456L1059.9 456L1061.4 456L1062.9 456L1064.4 456L1065.9 456L1067.4 456L1068.9 456L1070.4 456L1071.9 456L1073.4 456L1074.9 456L1076.4 456L1077.9 456L1079.4 456L1080.9 456L1082.4 456L1083.9 456L1085.4 456L1086.9 456L1088.4 456L1089.9 456L1091.4 456L1092.9 456L1094.4 456L1095.9 456L1097.4 456L1098.9 456L1100.4 456L1101.9 456L1103.4 456L1104.9 456L1106.4 456L1107.9 456L1109.4 456L1110.9 456L1112.4 456L1113.9 456L1115.4 456L1116.9 456L1118.4 456L1119.9 456L1121.4 456L1122.9 456L1124.4 456L1125.9 456L1127.4 456L1128.9 456L1130.4 456L1131.9 456L1133.4 456L1134.9 456L1136.4 456L1137.9 456L1139.4 456L1140.9 455.9L1142.4 455.9L1143.9 455.9L1145.4 455.9L1146.9 455.8L1148.4 455.8L1149.9 455.7L1151.4 455.6L1152.9 455.4L1154.4 455.2L1155.9 454.9L1157.4 454.6L1158.9 454.1L1160.4 453.5L1161.9 452.6L1163.4 451.6L1164.9 450.3L1166.4 448.8L1167.9 446.9L1169.4 444.8L1170.9 442.3L1172.4 439.7L1173.9 437L1175.4 434L1176.9 431L1178.4 428L1179.9 424.9L1181.4 421.7L1182.9 418.5L1184.4 415.1L1185.9 411.6L1187.4 408L1188.9 404.3L1190.4 400.5L1191.9 396.8L1193.4 393.1L1194.9 389.7L1196.4 386.6L1197.9 383.9L1199.4 381.7L1200.9 380.2L1202.4 379.3L1203.9 379.3L1205.4 380L1206.9 381.3L1208.4 383.2L1209.9 385.6L1211.4 388.5L1212.9 391.9L1214.4 395.6L1215.9 399.6L1217.4 403.8L1218.9 408.1L1220.4 412.5L1221.9 416.8L1223.4 421L1224.9 425L1226.4 428.8L1227.9 432.4L1229.4 435.7L1230.9 438.7L1232.4 441.4L1233.9 443.7L1235.4 445.8L1236.9 447.6L1238.4 449.2L1239.9 450.5L1241.4 451.6L1242.9 452.5L1244.4 453.3L1245.9 453.9L1247.4 454.3L1248.9 454.7L1250.4 455L1251.9 455.3L1253.4 455.5L1254.9 455.6L1256.4 455.7L1257.9 455.8L1259.4 455.8L1260.9 455.9L1262.4 455.9L1263.9 455.9L1265.4 456L1266.9 456L1268.4 456L1269.9 456L1271.4 456L1272.9 456L1274.4 456L1275.9 456L1277.4 456L1278.9 456L1278.9 456 Z" fill="#84f1f6"/>
<path d="M1046.4 456L1046.4 456L1047.9 456L1049.4 456L1050.9 456L1052.4 456L1053.9 456L1055.4 456L1056.9 456L1058.4 456L1059.9 456L1061.4 456L1062.9 456L1064.4 456L1065.9 456L1067.4 456L1068.9 456L1070.4 456L1071.9 456L1073.4 456L1074.9 456L1076.4 456L1077.9 456L1079.4 456L1080.9 456L1082.4 456L1083.9 456L1085.4 456L1086.9 456L1088.4 456L1089.9 456L1091.4 456L1092.9 456L1094.4 456L1095.9 456L1097.4 456L1098.9 456L1100.4 456L1101.9 456L1103.4 456L1104.9 456L1106.4 456L1107.9 456L1109.4 456L1110.9 456L1112.4 456L1113.9 456L1115.4 456L1116.9 456L1118.4 456L1119.9 456L1121.4 456L1122.9 456L1124.4 456L1125.9 456L1127.4 456L1128.9 456L1130.4 456L1131.9 456L1133.4 456L1134.9 456L1136.4 456L1137.9 456L1139.4 456L1140.9 456L1142.4 456L1143.9 456L1145.4 456L1146.9 456L1148.4 456L1149.9 456L1151.4 456L1152.9 456L1154.4 455.9L1155.9 455.9L1157.4 455.8L1158.9 455.7L1160.4 455.5L1161.9 455.2L1163.4 454.9L1164.9 454.4L1166.4 453.9L1167.9 453.2L1169.4 452.3L1170.9 451.3L1172.4 450.3L1173.9 449.2L1175.4 448.1L1176.9 447.1L1178.4 446.2L1179.9 445.5L1181.4 445.1L1182.9 445L1184.4 445.2L1185.9 445.7L1187.4 446.4L1188.9 447.3L1190.4 448.4L1191.9 449.5L1193.4 450.6L1194.9 451.6L1196.4 452.5L1197.9 453.4L1199.4 454L1200.9 454.6L1202.4 455L1203.9 455.3L1205.4 455.5L1206.9 455.7L1208.4 455.8L1209.9 455.9L1211.4 455.9L1212.9 456L1214.4 456L1215.9 456L1217.4 456L1218.9 456L1220.4 456L1221.9 456L1223.4 456L1224.9 456L1226.4 456L1227.9 456L1229.4 456L1230.9 456L1232.4 456L1233.9 456L1235.4 456L1236.9 456L1238.4 456L1239.9 456L1241.4 456L1242.9 456L1244.4 456L1245.9 456L1247.4 456L1248.9 456L1250.4 456L1251.9 456L1253.4 456L1254.9 456L1256.4 456L1257.9 456L1259.4 456L1260.9 456L1262.4 456L1263.9 456L1265.4 456L1266.9 456L1268.4 456L1269.9 456L1271.4 456L1272.9 456L1274.4 456L1275.9 456L1277.4 456L1278.9 456L1278.9 456 Z" fill="#6ee0b4" fill-opacity="0.9"/>
<path d="M1046.4 456L1046.4 456L1047.9 456L1049.4 455.9L1050.9 455.8L1052.4 455.5L1053.9 454.9L1055.4 453.7L1056.9 451.6L1058.4 447.7L1059.9 441.3L1061.4 431.1L1062.9 415.7L1064.4 394.1L1065.9 365.4L1067.4 329.6L1068.9 288.1L1070.4 243.5L1071.9 199.6L1073.4 161.1L1074.9 132.4L1076.4 116.3L1077.9 113.7L1079.4 120.8L1080.9 135.4L1082.4 155.5L1083.9 179.9L1085.4 208.3L1086.9 240.8L1088.4 277.3L1089.9 316.2L1091.4 353.7L1092.9 386.2L1094.4 411.4L1095.9 429.3L1097.4 441L1098.9 448L1100.4 452L1101.9 454L1103.4 455.1L1104.9 455.6L1106.4 455.8L1107.9 455.9L1109.4 456L1110.9 456L1112.4 456L1113.9 456L1115.4 456L1115.4 456 Z" fill="#74d474"/>
<path d="M1046.4 456L1046.4 456L1047.9 456L1049.4 456L1050.9 456L1052.4 456L1053.9 456L1055.4 456L1056.9 456L1058.4 456L1059.9 456L1061.4 456L1062.9 456L1064.4 456L1065.9 456L1067.4 456L1068.9 456L1070.4 456L1071.9 455.9L1073.4 455.7L1074.9 455.2L1076.4 454.1L1077.9 451.8L1079.4 447.6L1080.9 441.1L1082.4 432.3L1083.9 422.3L1085.4 413.2L1086.9 407.2L1088.4 406.3L1089.9 410.7L1091.4 419.1L1092.9 429L1094.4 438.4L1095.9 445.7L1097.4 450.6L1098.9 453.5L1100.4 454.9L1101.9 455.6L1103.4 455.9L1104.9 456L1106.4 456L1107.9 456L1109.4 456L1110.9 456L1112.4 456L1113.9 456L1115.4 456L1115.4 456 Z" fill="#58c43c"/>
<line x1="1075.9" y1="80.5" x2="1075.9" y2="456" stroke="#1aa81a" stroke-width="1.6"/>
<line x1="1204.7" y1="80.5" x2="1204.7" y2="456" stroke="#3ee0e4" stroke-width="2"/>
<path d="M1046.4 456L1047.9 456L1049.4 455.9L1050.9 455.8L1052.4 455.5L1053.9 454.9L1055.4 453.7L1056.9 451.6L1058.4 447.7L1059.9 441.3L1061.4 431.1L1062.9 415.7L1064.4 394.1L1065.9 365.4L1067.4 329.6L1068.9 288.1L1070.4 243.5L1071.9 199.6L1073.4 161.1L1074.9 132.4L1076.4 116.3L1077.9 113.7L1079.4 120.7L1080.9 135.2L1082.4 155L1083.9 178.7L1085.4 205.6L1086.9 235.1L1088.4 266.8L1089.9 299.2L1091.4 330.2L1092.9 357.8L1094.4 380L1095.9 396.2L1097.4 407.1L1098.9 413.8L1100.4 417.7L1101.9 419.8L1103.4 420.9L1104.9 421.5L1106.4 421.9L1107.9 422.1L1109.4 422.3L1110.9 422.5L1112.4 422.6L1113.9 422.8L1115.4 422.9L1116.9 423L1118.4 423.2L1119.9 423.3L1121.4 423.5L1122.9 423.6L1124.4 423.7L1125.9 423.9L1127.4 424L1128.9 424.2L1130.4 424.3L1131.9 424.5L1133.4 424.6L1134.9 424.7L1136.4 424.9L1137.9 425L1139.4 425.2L1140.9 425.3L1142.4 425.5L1143.9 425.6L1145.4 425.8L1146.9 426L1148.4 426.1L1149.9 426.3L1151.4 426.5L1152.9 426.6L1154.4 426.8L1155.9 427L1157.4 427.2L1158.9 427.3L1160.4 427.5L1161.9 427.6L1163.4 427.7L1164.9 427.8L1166.4 427.8L1167.9 427.7L1169.4 427.5L1170.9 427.2L1172.4 426.7L1173.9 426.1L1175.4 425.2L1176.9 423.9L1178.4 422.4L1179.9 420.6L1181.4 418.5L1182.9 416.1L1184.4 413.4L1185.9 410.4L1187.4 407.1L1188.9 403.7L1190.4 400.1L1191.9 396.5L1193.4 392.9L1194.9 389.5L1196.4 386.5L1197.9 383.8L1199.4 381.6L1200.9 380.1L1202.4 379.3L1203.9 379.2L1205.4 380L1206.9 381.3L1208.4 383.2L1209.9 385.6L1211.4 388.5L1212.9 391.9L1214.4 395.6L1215.9 399.6L1217.4 403.8L1218.9 408.1L1220.4 412.5L1221.9 416.8L1223.4 421L1224.9 425L1226.4 428.8L1227.9 432.4L1229.4 435.7L1230.9 438.7L1232.4 441.4L1233.9 443.7L1235.4 445.8L1236.9 447.6L1238.4 449.2L1239.9 450.5L1241.4 451.6L1242.9 452.5L1244.4 453.3L1245.9 453.9L1247.4 454.3L1248.9 454.7L1250.4 455L1251.9 455.3L1253.4 455.5L1254.9 455.6L1256.4 455.7L1257.9 455.8L1259.4 455.8L1260.9 455.9L1262.4 455.9L1263.9 455.9L1265.4 456L1266.9 456L1268.4 456L1269.9 456L1271.4 456L1272.9 456L1274.4 456L1275.9 456L1277.4 456L1278.9 456" fill="none" stroke="#e41ce4" stroke-width="1.6"/>
<path d="M1046.4 455.9L1047.9 455.2L1049.4 456L1050.9 455.2L1052.4 455.7L1053.9 455.1L1055.4 452.3L1056.9 451.4L1058.4 447.8L1059.9 440.4L1061.4 429.6L1062.9 415.8L1064.4 392L1065.9 369.4L1067.4 331.3L1068.9 290.4L1070.4 251L1071.9 208.9L1073.4 171.7L1074.9 134L1076.4 117.5L1077.9 115.9L1079.4 120.3L1080.9 144.2L1082.4 155.6L1083.9 177.2L1085.4 201L1086.9 240L1088.4 268.9L1089.9 309.3L1091.4 332.6L1092.9 367L1094.4 385.4L1095.9 392.4L1097.4 414.4L1098.9 411.3L1100.4 416.7L1101.9 420.7L1103.4 419.6L1104.9 420L1106.4 418.8L1107.9 422.8L1109.4 424L1110.9 424.2L1112.4 425.5L1113.9 422.9L1115.4 425.2L1116.9 420L1118.4 428.6L1119.9 426.5L1121.4 426.2L1122.9 429.6L1124.4 418.3L1125.9 430.8L1127.4 424.8L1128.9 425.7L1130.4 419.6L1131.9 430.1L1133.4 421.5L1134.9 426.8L1136.4 425.3L1137.9 426.9L1139.4 423.4L1140.9 428.5L1142.4 425.7L1143.9 424.7L1145.4 420.6L1146.9 432.7L1148.4 421.9L1149.9 423.7L1151.4 427.8L1152.9 425.8L1154.4 428.1L1155.9 422.4L1157.4 426.6L1158.9 427.9L1160.4 428.1L1161.9 428.2L1163.4 428.2L1164.9 430.2L1166.4 422.1L1167.9 433L1169.4 437.5L1170.9 427.5L1172.4 427.1L1173.9 425L1175.4 425.7L1176.9 424.4L1178.4 421.5L1179.9 417.8L1181.4 419.9L1182.9 417.3L1184.4 407.3L1185.9 408.7L1187.4 410.3L1188.9 395.8L1190.4 397.4L1191.9 398.5L1193.4 397.1L1194.9 388.4L1196.4 389.5L1197.9 387.8L1199.4 386.6L1200.9 382.1L1202.4 375.1L1203.9 380.9L1205.4 385.5L1206.9 378.7L1208.4 382.9L1209.9 382.5L1211.4 384.1L1212.9 392.5L1214.4 396.1L1215.9 399.8L1217.4 407.6L1218.9 405.9L1220.4 408.1L1221.9 416.2L1223.4 421.7L1224.9 425.7L1226.4 431L1227.9 434.5L1229.4 436.7L1230.9 440.7L1232.4 442.4L1233.9 447.2L1235.4 445.1L1236.9 447.5L1238.4 451.4L1239.9 454.7L1241.4 451.6L1242.9 450.7L1244.4 454.4L1245.9 454.6L1247.4 455.2L1248.9 453.8L1250.4 456L1251.9 453.9L1253.4 455.9L1254.9 454.4L1256.4 455.7L1257.9 456L1259.4 456L1260.9 456L1262.4 456L1263.9 455.2L1265.4 455.7L1266.9 456L1268.4 455.5L1269.9 454.9L1271.4 456L1272.9 456L1274.4 456L1275.9 455.1L1277.4 455.4L1278.9 456" fill="none" stroke="#111" stroke-width="1.3"/>
<rect x="1021.4" y="79.5" width="377.6" height="376.5" fill="none" stroke="#000" stroke-width="2.2"/>
<text x="1004.4" y="456" class="An" font-size="16.5" text-anchor="middle" transform="rotate(-90 1004.4 456)">0</text>
<text x="1004.4" y="379.2" class="An" font-size="16.5" text-anchor="middle" transform="rotate(-90 1004.4 379.2)">50</text>
<text x="1004.4" y="302.3" class="An" font-size="16.5" text-anchor="middle" transform="rotate(-90 1004.4 302.3)">100</text>
<text x="1004.4" y="225.5" class="An" font-size="16.5" text-anchor="middle" transform="rotate(-90 1004.4 225.5)">150</text>
<text x="1004.4" y="148.7" class="An" font-size="16.5" text-anchor="middle" transform="rotate(-90 1004.4 148.7)">200</text>
<text x="1004.4" y="79.5" class="An" font-size="16.5" text-anchor="middle" transform="rotate(-90 1004.4 79.5)">245</text>
<text x="974.4" y="267.8" class="An" font-size="16.5" text-anchor="middle" transform="rotate(-90 974.4 267.8)">Count</text>
<path d="M1013.9 456H1021.4M1017.9 440.6H1021.4M1017.9 425.3H1021.4M1017.9 409.9H1021.4M1017.9 394.5H1021.4M1013.9 379.2H1021.4M1017.9 363.8H1021.4M1017.9 348.4H1021.4M1017.9 333.1H1021.4M1017.9 317.7H1021.4M1013.9 302.3H1021.4M1017.9 287H1021.4M1017.9 271.6H1021.4M1017.9 256.2H1021.4M1017.9 240.9H1021.4M1013.9 225.5H1021.4M1017.9 210.1H1021.4M1017.9 194.8H1021.4M1017.9 179.4H1021.4M1017.9 164H1021.4M1013.9 148.7H1021.4M1017.9 133.3H1021.4M1017.9 117.9H1021.4M1017.9 102.6H1021.4M1017.9 87.2H1021.4M1013.9 79.5H1021.4M1039.9 456V464M1061.1 456V459.5M1082.4 456V459.5M1103.6 456V459.5M1124.8 456V459.5M1146 456V464M1167.3 456V459.5M1188.5 456V459.5M1209.7 456V459.5M1230.9 456V459.5M1252.1 456V464M1273.4 456V459.5M1294.6 456V459.5M1315.8 456V459.5M1337 456V459.5M1358.3 456V464M1379.5 456V459.5M1021.4 456V464M1399 456V464" fill="none" stroke="#000" stroke-width="1.6"/>
<text x="1024.4" y="489" class="An" font-size="16.5" text-anchor="middle">165.1</text>
<text x="1146" y="489" class="An" font-size="16.5" text-anchor="middle">400</text>
<text x="1252.1" y="489" class="An" font-size="16.5" text-anchor="middle">600</text>
<text x="1396" y="489" class="An" font-size="16.5" text-anchor="middle">876.8</text>
<text x="1187.2" y="515" class="An" font-size="16.5" text-anchor="middle">PE-A</text>
<text x="1214.2" y="515" class="An" font-size="16.5">(10</text>
<text x="1240.2" y="508" class="An" font-size="13">3</text>
<text x="1249.2" y="515" class="An" font-size="16.5">)</text>
<text x="1076.9" y="102.5" class="An" font-size="16.5" text-anchor="middle">G1</text>
<text x="1204.7" y="102.5" class="An" font-size="16.5" text-anchor="middle">G2</text>
<text x="1231.4" y="104.5" class="An" font-size="16.5">Watson</text>
<text x="1231.4" y="124.5" class="An" font-size="16.5">RMS: 1.83</text>
<text x="1231.4" y="144.5" class="An" font-size="16.5">Freq G1: 50.15</text>
<text x="1231.4" y="164.5" class="An" font-size="16.5">Freq S: 26.99</text>
<text x="1231.4" y="184.5" class="An" font-size="16.5">Freq G2: 22.81</text>
<text x="1231.4" y="204.5" class="An" font-size="16.5">Mean G1: 266,811</text>
<text x="1231.4" y="224.5" class="An" font-size="16.5">Mean G2: 513,185</text>
<text x="1231.4" y="244.5" class="An" font-size="16.5">G2/G1: 1.92</text>
<text x="1231.4" y="264.5" class="An" font-size="16.5">CV G1: 5.56%</text>
<text x="1231.4" y="284.5" class="An" font-size="16.5">CV G2: 6.30%</text>
<text x="1231.4" y="304.5" class="An" font-size="16.5">Freq Sub-G1: 0.01</text>
<text x="1231.4" y="324.5" class="An" font-size="16.5">Freq Super-G2: 0.04</text>
<text x="1142.69" y="37.37" class="Sb" font-size="33.41" textLength="152.05" lengthAdjust="spacingAndGlyphs">Exo-mimics</text>
<text x="1225.2" y="65.5" class="An" font-size="16.5" text-anchor="middle"><tspan>07 / </tspan><tspan fill="#e01010">P1</tspan><tspan> / </tspan><tspan fill="#18a018">P2</tspan><tspan> / </tspan><tspan fill="#1818e0">P3</tspan></text>
<path d="M1516 455L1516 455L1517.5 455L1519 455L1520.5 455L1522 455L1523.5 455L1525 455L1526.5 455L1528 455L1529.5 455L1531 455L1532.5 455L1534 455L1535.5 454.9L1537 454.9L1538.5 454.8L1540 454.7L1541.5 454.4L1543 453.9L1544.5 453L1546 451.5L1547.5 449.2L1549 445.9L1550.5 441.6L1552 436.9L1553.5 432.7L1555 429.4L1556.5 427.1L1558 425.7L1559.5 424.9L1561 424.5L1562.5 424.4L1564 424.4L1565.5 424.5L1567 424.6L1568.5 424.7L1570 424.9L1571.5 425L1573 425.2L1574.5 425.3L1576 425.5L1577.5 425.7L1579 425.8L1580.5 426L1582 426.1L1583.5 426.3L1585 426.5L1586.5 426.6L1588 426.8L1589.5 427L1591 427.1L1592.5 427.3L1594 427.5L1595.5 427.6L1597 427.8L1598.5 428L1600 428.1L1601.5 428.3L1603 428.5L1604.5 428.6L1606 428.8L1607.5 429L1609 429.1L1610.5 429.3L1612 429.5L1613.5 429.7L1615 429.9L1616.5 430.1L1618 430.2L1619.5 430.4L1621 430.6L1622.5 430.9L1624 431.1L1625.5 431.3L1627 431.6L1628.5 431.8L1630 432.1L1631.5 432.4L1633 432.7L1634.5 433L1636 433.3L1637.5 433.7L1639 434.1L1640.5 434.6L1642 435.1L1643.5 435.6L1645 436L1646.5 436.5L1648 437L1649.5 437.7L1651 438.3L1652.5 439L1654 439.8L1655.5 440.7L1657 441.5L1658.5 442.4L1660 443.4L1661.5 444.3L1663 445.2L1664.5 446.1L1666 447L1667.5 447.8L1669 448.6L1670.5 449.3L1672 450L1673.5 450.6L1675 451.2L1676.5 451.7L1678 452.1L1679.5 452.5L1681 452.9L1682.5 453.2L1684 453.4L1685.5 453.7L1687 453.8L1688.5 454L1690 454.2L1691.5 454.3L1693 454.4L1694.5 454.5L1696 454.6L1697.5 454.6L1699 454.7L1700.5 454.7L1702 454.8L1703.5 454.8L1705 454.8L1706.5 454.9L1708 454.9L1709.5 454.9L1711 454.9L1712.5 454.9L1714 454.9L1715.5 454.9L1717 455L1718.5 455L1720 455L1721.5 455L1723 455L1724.5 455L1726 455L1727.5 455L1729 455L1730.5 455L1732 455L1733.5 455L1735 455L1736.5 455L1738 455L1739.5 455L1741 455L1742.5 455L1744 455L1745.5 455L1747 455L1747 455 Z" fill="#dcd874"/>
<path d="M1516 455L1516 455L1517.5 455L1519 455L1520.5 455L1522 455L1523.5 455L1525 455L1526.5 455L1528 455L1529.5 455L1531 455L1532.5 455L1534 455L1535.5 455L1537 455L1538.5 455L1540 455L1541.5 455L1543 455L1544.5 455L1546 455L1547.5 455L1549 455L1550.5 455L1552 455L1553.5 455L1555 455L1556.5 455L1558 455L1559.5 455L1561 455L1562.5 455L1564 455L1565.5 455L1567 455L1568.5 455L1570 455L1571.5 455L1573 455L1574.5 455L1576 455L1577.5 455L1579 455L1580.5 455L1582 455L1583.5 455L1585 455L1586.5 455L1588 455L1589.5 455L1591 455L1592.5 455L1594 455L1595.5 455L1597 455L1598.5 455L1600 455L1601.5 455L1603 455L1604.5 455L1606 455L1607.5 455L1609 455L1610.5 454.9L1612 454.9L1613.5 454.9L1615 454.8L1616.5 454.8L1618 454.7L1619.5 454.6L1621 454.5L1622.5 454.3L1624 454.1L1625.5 453.8L1627 453.4L1628.5 452.9L1630 452.2L1631.5 451.3L1633 450.2L1634.5 448.9L1636 447.3L1637.5 445.5L1639 443.5L1640.5 441.2L1642 438.8L1643.5 436.2L1645 433.5L1646.5 430.7L1648 427.8L1649.5 424.8L1651 421.7L1652.5 418.4L1654 414.9L1655.5 411.3L1657 407.6L1658.5 403.8L1660 400L1661.5 396.3L1663 392.8L1664.5 389.6L1666 386.8L1667.5 384.6L1669 382.9L1670.5 382L1672 381.8L1673.5 382.3L1675 383.5L1676.5 385.2L1678 387.5L1679.5 390.3L1681 393.4L1682.5 397L1684 400.8L1685.5 404.8L1687 408.9L1688.5 413.1L1690 417.2L1691.5 421.3L1693 425.2L1694.5 428.8L1696 432.3L1697.5 435.4L1699 438.3L1700.5 440.9L1702 443.2L1703.5 445.2L1705 446.9L1706.5 448.4L1708 449.7L1709.5 450.8L1711 451.6L1712.5 452.4L1714 452.9L1715.5 453.4L1717 453.8L1718.5 454.1L1720 454.3L1721.5 454.5L1723 454.6L1724.5 454.7L1726 454.8L1727.5 454.9L1729 454.9L1730.5 454.9L1732 454.9L1733.5 455L1735 455L1736.5 455L1738 455L1739.5 455L1741 455L1742.5 455L1744 455L1745.5 455L1747 455L1747 455 Z" fill="#84f1f6"/>
<path d="M1516 455L1516 455L1517.5 455L1519 455L1520.5 455L1522 455L1523.5 455L1525 455L1526.5 455L1528 455L1529.5 455L1531 455L1532.5 455L1534 455L1535.5 455L1537 455L1538.5 455L1540 455L1541.5 455L1543 455L1544.5 455L1546 455L1547.5 455L1549 455L1550.5 455L1552 455L1553.5 455L1555 455L1556.5 455L1558 455L1559.5 455L1561 455L1562.5 455L1564 455L1565.5 455L1567 455L1568.5 455L1570 455L1571.5 455L1573 455L1574.5 455L1576 455L1577.5 455L1579 455L1580.5 455L1582 455L1583.5 455L1585 455L1586.5 455L1588 455L1589.5 455L1591 455L1592.5 455L1594 455L1595.5 455L1597 455L1598.5 455L1600 455L1601.5 455L1603 455L1604.5 455L1606 455L1607.5 455L1609 455L1610.5 455L1612 455L1613.5 455L1615 455L1616.5 455L1618 455L1619.5 455L1621 455L1622.5 454.9L1624 454.9L1625.5 454.8L1627 454.7L1628.5 454.5L1630 454.2L1631.5 453.9L1633 453.4L1634.5 452.9L1636 452.2L1637.5 451.3L1639 450.3L1640.5 449.3L1642 448.2L1643.5 447.1L1645 446.1L1646.5 445.2L1648 444.5L1649.5 444.1L1651 444L1652.5 444.2L1654 444.7L1655.5 445.4L1657 446.3L1658.5 447.4L1660 448.5L1661.5 449.6L1663 450.6L1664.5 451.5L1666 452.4L1667.5 453L1669 453.6L1670.5 454L1672 454.3L1673.5 454.5L1675 454.7L1676.5 454.8L1678 454.9L1679.5 454.9L1681 455L1682.5 455L1684 455L1685.5 455L1687 455L1688.5 455L1690 455L1691.5 455L1693 455L1694.5 455L1696 455L1697.5 455L1699 455L1700.5 455L1702 455L1703.5 455L1705 455L1706.5 455L1708 455L1709.5 455L1711 455L1712.5 455L1714 455L1715.5 455L1717 455L1718.5 455L1720 455L1721.5 455L1723 455L1724.5 455L1726 455L1727.5 455L1729 455L1730.5 455L1732 455L1733.5 455L1735 455L1736.5 455L1738 455L1739.5 455L1741 455L1742.5 455L1744 455L1745.5 455L1747 455L1747 455 Z" fill="#6ee0b4" fill-opacity="0.9"/>
<path d="M1516 455L1516 455L1517.5 455L1519 454.9L1520.5 454.7L1522 454.4L1523.5 453.8L1525 452.5L1526.5 450.1L1528 445.9L1529.5 439L1531 428.1L1532.5 412L1534 389.6L1535.5 360.1L1537 324L1538.5 282.6L1540 238.9L1541.5 196.8L1543 160.8L1544.5 135.2L1546 122.4L1547.5 122.1L1549 130.9L1550.5 146.6L1552 167.4L1553.5 192.1L1555 220.6L1556.5 253L1558 288.9L1559.5 326.5L1561 362.1L1562.5 392.3L1564 415.4L1565.5 431.6L1567 442L1568.5 448.2L1570 451.6L1571.5 453.3L1573 454.2L1574.5 454.6L1576 454.8L1577.5 454.9L1579 455L1580.5 455L1582 455L1583.5 455L1585 455L1585 455 Z" fill="#74d474"/>
<path d="M1516 455L1516 455L1517.5 455L1519 455L1520.5 455L1522 455L1523.5 455L1525 455L1526.5 455L1528 455L1529.5 455L1531 455L1532.5 455L1534 455L1535.5 455L1537 455L1538.5 455L1540 455L1541.5 454.9L1543 454.7L1544.5 454.1L1546 452.7L1547.5 450.1L1549 445.5L1550.5 438.5L1552 429.4L1553.5 419.3L1555 410.6L1556.5 405.6L1558 405.8L1559.5 411.1L1561 420L1562.5 430L1564 439L1565.5 445.9L1567 450.3L1568.5 452.9L1570 454.1L1571.5 454.7L1573 454.9L1574.5 455L1576 455L1577.5 455L1579 455L1580.5 455L1582 455L1583.5 455L1585 455L1585 455 Z" fill="#58c43c"/>
<line x1="1545.2" y1="80" x2="1545.2" y2="455" stroke="#1aa81a" stroke-width="1.6"/>
<line x1="1672.8" y1="80" x2="1672.8" y2="455" stroke="#3ee0e4" stroke-width="2"/>
<path d="M1516 455L1517.5 455L1519 454.9L1520.5 454.7L1522 454.4L1523.5 453.8L1525 452.5L1526.5 450.1L1528 445.9L1529.5 439L1531 428.1L1532.5 412L1534 389.6L1535.5 360.1L1537 324L1538.5 282.6L1540 238.9L1541.5 196.8L1543 160.8L1544.5 135.2L1546 122.4L1547.5 122.1L1549 130.8L1550.5 146.5L1552 166.9L1553.5 190.9L1555 217.8L1556.5 247.2L1558 278.5L1559.5 310.3L1561 340.4L1562.5 366.6L1564 387.4L1565.5 402.3L1567 412.2L1568.5 418.2L1570 421.6L1571.5 423.4L1573 424.4L1574.5 425L1576 425.3L1577.5 425.6L1579 425.8L1580.5 426L1582 426.1L1583.5 426.3L1585 426.5L1586.5 426.6L1588 426.8L1589.5 427L1591 427.1L1592.5 427.3L1594 427.5L1595.5 427.6L1597 427.8L1598.5 428L1600 428.1L1601.5 428.3L1603 428.5L1604.5 428.6L1606 428.8L1607.5 429L1609 429.1L1610.5 429.3L1612 429.5L1613.5 429.7L1615 429.9L1616.5 430L1618 430.2L1619.5 430.4L1621 430.6L1622.5 430.8L1624 431L1625.5 431.2L1627 431.3L1628.5 431.5L1630 431.6L1631.5 431.7L1633 431.8L1634.5 431.8L1636 431.7L1637.5 431.5L1639 431.2L1640.5 430.7L1642 430L1643.5 429.1L1645 427.8L1646.5 426.2L1648 424.4L1649.5 422.2L1651 419.8L1652.5 417L1654 413.9L1655.5 410.6L1657 407.1L1658.5 403.4L1660 399.7L1661.5 396.1L1663 392.7L1664.5 389.5L1666 386.8L1667.5 384.5L1669 382.9L1670.5 382L1672 381.8L1673.5 382.3L1675 383.5L1676.5 385.2L1678 387.5L1679.5 390.3L1681 393.4L1682.5 397L1684 400.8L1685.5 404.8L1687 408.9L1688.5 413.1L1690 417.2L1691.5 421.3L1693 425.2L1694.5 428.8L1696 432.3L1697.5 435.4L1699 438.3L1700.5 440.9L1702 443.2L1703.5 445.2L1705 446.9L1706.5 448.4L1708 449.7L1709.5 450.8L1711 451.6L1712.5 452.4L1714 452.9L1715.5 453.4L1717 453.8L1718.5 454.1L1720 454.3L1721.5 454.5L1723 454.6L1724.5 454.7L1726 454.8L1727.5 454.9L1729 454.9L1730.5 454.9L1732 454.9L1733.5 455L1735 455L1736.5 455L1738 455L1739.5 455L1741 455L1742.5 455L1744 455L1745.5 455L1747 455" fill="none" stroke="#e41ce4" stroke-width="1.6"/>
<path d="M1516 455L1517.5 454.7L1519 455L1520.5 454.5L1522 453.8L1523.5 453.5L1525 451.2L1526.5 450.9L1528 445.8L1529.5 439.8L1531 429.2L1532.5 412.3L1534 388.8L1535.5 358.4L1537 321.6L1538.5 270.9L1540 233.9L1541.5 206.6L1543 159.5L1544.5 139.4L1546 126L1547.5 113.2L1549 132.3L1550.5 159.4L1552 164.9L1553.5 192.7L1555 224.7L1556.5 252.4L1558 281.8L1559.5 310.4L1561 342.3L1562.5 366.3L1564 380.6L1565.5 405L1567 414.7L1568.5 418.9L1570 418.4L1571.5 425.4L1573 420.4L1574.5 428.7L1576 428.2L1577.5 425.7L1579 428.2L1580.5 427.7L1582 424.9L1583.5 424.3L1585 426.2L1586.5 427.4L1588 423.1L1589.5 425.9L1591 427.8L1592.5 424L1594 429.9L1595.5 427.2L1597 426L1598.5 428L1600 429.7L1601.5 427.3L1603 429.9L1604.5 430.2L1606 431.5L1607.5 425.5L1609 430.6L1610.5 426.2L1612 428.5L1613.5 430.4L1615 428.1L1616.5 429.3L1618 429.9L1619.5 434L1621 430.4L1622.5 428.4L1624 429.7L1625.5 428.6L1627 427.4L1628.5 430.4L1630 426.5L1631.5 435.7L1633 432.4L1634.5 438.3L1636 429.6L1637.5 431.2L1639 426.8L1640.5 431.7L1642 435.4L1643.5 425.6L1645 431.4L1646.5 429.7L1648 424.9L1649.5 420.4L1651 421.3L1652.5 416.4L1654 419.7L1655.5 405.1L1657 407.3L1658.5 403L1660 397.7L1661.5 395.5L1663 392L1664.5 392.9L1666 387.2L1667.5 382.9L1669 379L1670.5 382.4L1672 381.4L1673.5 381.1L1675 381.4L1676.5 384.5L1678 388.4L1679.5 392.1L1681 389.4L1682.5 395.9L1684 400.7L1685.5 393.3L1687 406.1L1688.5 410.4L1690 416.8L1691.5 424.2L1693 422L1694.5 429.1L1696 432.1L1697.5 432.9L1699 435.9L1700.5 440.3L1702 443.1L1703.5 440.9L1705 445.8L1706.5 450.4L1708 448.3L1709.5 450.5L1711 451.6L1712.5 451.3L1714 452.6L1715.5 450.4L1717 453.5L1718.5 453.7L1720 452.7L1721.5 455L1723 453.3L1724.5 454.8L1726 453.3L1727.5 455L1729 454.4L1730.5 455L1732 455L1733.5 454.9L1735 454.4L1736.5 452.8L1738 452.9L1739.5 455L1741 455L1742.5 453.6L1744 454.5L1745.5 455L1747 454.5" fill="none" stroke="#111" stroke-width="1.3"/>
<rect x="1491" y="79" width="377" height="376" fill="none" stroke="#000" stroke-width="2.2"/>
<text x="1474" y="455" class="An" font-size="16.5" text-anchor="middle" transform="rotate(-90 1474 455)">0</text>
<text x="1474" y="380.7" class="An" font-size="16.5" text-anchor="middle" transform="rotate(-90 1474 380.7)">50</text>
<text x="1474" y="306.4" class="An" font-size="16.5" text-anchor="middle" transform="rotate(-90 1474 306.4)">100</text>
<text x="1474" y="232.1" class="An" font-size="16.5" text-anchor="middle" transform="rotate(-90 1474 232.1)">150</text>
<text x="1474" y="157.8" class="An" font-size="16.5" text-anchor="middle" transform="rotate(-90 1474 157.8)">200</text>
<text x="1474" y="79" class="An" font-size="16.5" text-anchor="middle" transform="rotate(-90 1474 79)">253</text>
<text x="1444" y="267" class="An" font-size="16.5" text-anchor="middle" transform="rotate(-90 1444 267)">Count</text>
<path d="M1483.5 455H1491M1487.5 440.1H1491M1487.5 425.3H1491M1487.5 410.4H1491M1487.5 395.6H1491M1483.5 380.7H1491M1487.5 365.8H1491M1487.5 351H1491M1487.5 336.1H1491M1487.5 321.2H1491M1483.5 306.4H1491M1487.5 291.5H1491M1487.5 276.7H1491M1487.5 261.8H1491M1487.5 246.9H1491M1483.5 232.1H1491M1487.5 217.2H1491M1487.5 202.4H1491M1487.5 187.5H1491M1487.5 172.6H1491M1483.5 157.8H1491M1487.5 142.9H1491M1487.5 128H1491M1487.5 113.2H1491M1487.5 98.3H1491M1483.5 83.5H1491M1483.5 79H1491M1509.6 455V463M1530.9 455V458.5M1552.2 455V458.5M1573.4 455V458.5M1594.7 455V458.5M1616 455V463M1637.3 455V458.5M1658.6 455V458.5M1679.9 455V458.5M1701.2 455V458.5M1722.5 455V463M1743.8 455V458.5M1765.1 455V458.5M1786.4 455V458.5M1807.6 455V458.5M1828.9 455V463M1850.2 455V458.5M1491 455V463M1868 455V463" fill="none" stroke="#000" stroke-width="1.6"/>
<text x="1494" y="488" class="An" font-size="16.5" text-anchor="middle">165.1</text>
<text x="1616" y="488" class="An" font-size="16.5" text-anchor="middle">400</text>
<text x="1722.5" y="488" class="An" font-size="16.5" text-anchor="middle">600</text>
<text x="1865" y="488" class="An" font-size="16.5" text-anchor="middle">873.4</text>
<text x="1656.5" y="514" class="An" font-size="16.5" text-anchor="middle">PE-A</text>
<text x="1683.5" y="514" class="An" font-size="16.5">(10</text>
<text x="1709.5" y="507" class="An" font-size="13">3</text>
<text x="1718.5" y="514" class="An" font-size="16.5">)</text>
<text x="1546.2" y="102" class="An" font-size="16.5" text-anchor="middle">G1</text>
<text x="1672.8" y="102" class="An" font-size="16.5" text-anchor="middle">G2</text>
<text x="1701" y="104" class="An" font-size="16.5">Watson</text>
<text x="1701" y="124" class="An" font-size="16.5">RMS: 2.66</text>
<text x="1701" y="144" class="An" font-size="16.5">Freq G1: 54.26</text>
<text x="1701" y="164" class="An" font-size="16.5">Freq S: 22.36</text>
<text x="1701" y="184" class="An" font-size="16.5">Freq G2: 23.38</text>
<text x="1701" y="204" class="An" font-size="16.5">Mean G1: 266,811</text>
<text x="1701" y="224" class="An" font-size="16.5">Mean G2: 508,417</text>
<text x="1701" y="244" class="An" font-size="16.5">G2/G1: 1.91</text>
<text x="1701" y="264" class="An" font-size="16.5">CV G1: 5.96%</text>
<text x="1701" y="284" class="An" font-size="16.5">CV G2: 6.88%</text>
<text x="1701" y="304" class="An" font-size="16.5">Freq Sub-G1: 0.00</text>
<text x="1701" y="324" class="An" font-size="16.5">Freq Super-G2: 0.00</text>
<text x="1566.09" y="38.19" class="Sb" font-size="31.98" textLength="223.19" lengthAdjust="spacingAndGlyphs">Exo-inhibitor NC</text>
<text x="1694.5" y="65" class="An" font-size="16.5" text-anchor="middle"><tspan>010 / </tspan><tspan fill="#e01010">P1</tspan><tspan> / </tspan><tspan fill="#18a018">P2</tspan><tspan> / </tspan><tspan fill="#1818e0">P3</tspan></text>
<path d="M102.8 984L102.8 984L104.3 984L105.8 984L107.3 984L108.8 984L110.3 984L111.8 984L113.3 984L114.8 984L116.3 984L117.8 984L119.3 984L120.8 984L122.3 984L123.8 983.9L125.3 983.9L126.8 983.8L128.3 983.6L129.8 983.3L131.3 982.7L132.8 981.8L134.3 980.3L135.8 978L137.3 975L138.8 971.5L140.3 968.3L141.8 965.6L143.3 963.8L144.8 962.6L146.3 961.9L147.8 961.5L149.3 961.5L150.8 961.5L152.3 961.7L153.8 961.8L155.3 962L156.8 962.2L158.3 962.4L159.8 962.6L161.3 962.7L162.8 962.9L164.3 963.1L165.8 963.3L167.3 963.5L168.8 963.7L170.3 963.9L171.8 964.1L173.3 964.3L174.8 964.5L176.3 964.7L177.8 964.9L179.3 965.1L180.8 965.3L182.3 965.5L183.8 965.7L185.3 965.9L186.8 966.1L188.3 966.3L189.8 966.5L191.3 966.7L192.8 966.9L194.3 967.1L195.8 967.3L197.3 967.5L198.8 967.7L200.3 967.9L201.8 968.1L203.3 968.3L204.8 968.5L206.3 968.8L207.8 969L209.3 969.2L210.8 969.4L212.3 969.7L213.8 969.9L215.3 970.1L216.8 970.4L218.3 970.7L219.8 970.9L221.3 971.2L222.8 971.5L224.3 971.8L225.8 972.2L227.3 972.5L228.8 972.9L230.3 973.2L231.8 973.4L233.3 973.7L234.8 974L236.3 974.4L237.8 974.7L239.3 975.1L240.8 975.6L242.3 976L243.8 976.5L245.3 977L246.8 977.5L248.3 978L249.8 978.5L251.3 979L252.8 979.5L254.3 980L255.8 980.4L257.3 980.8L258.8 981.2L260.3 981.6L261.8 981.9L263.3 982.1L264.8 982.4L266.3 982.6L267.8 982.8L269.3 983L270.8 983.1L272.3 983.2L273.8 983.4L275.3 983.5L276.8 983.5L278.3 983.6L279.8 983.7L281.3 983.7L282.8 983.8L284.3 983.8L285.8 983.8L287.3 983.9L288.8 983.9L290.3 983.9L291.8 983.9L293.3 983.9L294.8 983.9L296.3 983.9L297.8 984L299.3 984L300.8 984L302.3 984L303.8 984L305.3 984L306.8 984L308.3 984L309.8 984L311.3 984L312.8 984L314.3 984L315.8 984L317.3 984L318.8 984L320.3 984L321.8 984L323.3 984L324.8 984L326.3 984L327.8 984L329.3 984L330.8 984L332.3 984L333.8 984L333.8 984 Z" fill="#dcd874"/>
<path d="M102.8 984L102.8 984L104.3 984L105.8 984L107.3 984L108.8 984L110.3 984L111.8 984L113.3 984L114.8 984L116.3 984L117.8 984L119.3 984L120.8 984L122.3 984L123.8 984L125.3 984L126.8 984L128.3 984L129.8 984L131.3 984L132.8 984L134.3 984L135.8 984L137.3 984L138.8 984L140.3 984L141.8 984L143.3 984L144.8 984L146.3 984L147.8 984L149.3 984L150.8 984L152.3 984L153.8 984L155.3 984L156.8 984L158.3 984L159.8 984L161.3 984L162.8 984L164.3 984L165.8 984L167.3 984L168.8 984L170.3 984L171.8 984L173.3 984L174.8 984L176.3 984L177.8 984L179.3 984L180.8 984L182.3 984L183.8 984L185.3 984L186.8 984L188.3 984L189.8 984L191.3 984L192.8 984L194.3 984L195.8 984L197.3 984L198.8 983.9L200.3 983.9L201.8 983.9L203.3 983.9L204.8 983.8L206.3 983.8L207.8 983.7L209.3 983.6L210.8 983.5L212.3 983.3L213.8 983.1L215.3 982.8L216.8 982.4L218.3 981.9L219.8 981.3L221.3 980.6L222.8 979.8L224.3 978.8L225.8 977.7L227.3 976.5L228.8 975.3L230.3 974L231.8 972.6L233.3 971.1L234.8 969.7L236.3 968.1L237.8 966.5L239.3 964.9L240.8 963.1L242.3 961.4L243.8 959.5L245.3 957.6L246.8 955.7L248.3 953.9L249.8 952.2L251.3 950.6L252.8 949.2L254.3 948.1L255.8 947.3L257.3 946.8L258.8 946.7L260.3 947L261.8 947.6L263.3 948.5L264.8 949.6L266.3 951L267.8 952.6L269.3 954.4L270.8 956.3L272.3 958.4L273.8 960.5L275.3 962.6L276.8 964.7L278.3 966.8L279.8 968.7L281.3 970.6L282.8 972.4L284.3 974L285.8 975.4L287.3 976.8L288.8 977.9L290.3 979L291.8 979.9L293.3 980.6L294.8 981.3L296.3 981.8L297.8 982.3L299.3 982.6L300.8 982.9L302.3 983.2L303.8 983.4L305.3 983.5L306.8 983.6L308.3 983.7L309.8 983.8L311.3 983.9L312.8 983.9L314.3 983.9L315.8 983.9L317.3 984L318.8 984L320.3 984L321.8 984L323.3 984L324.8 984L326.3 984L327.8 984L329.3 984L330.8 984L332.3 984L333.8 984L333.8 984 Z" fill="#84f1f6"/>
<path d="M102.8 984L102.8 984L104.3 984L105.8 984L107.3 984L108.8 984L110.3 984L111.8 984L113.3 984L114.8 984L116.3 984L117.8 984L119.3 984L120.8 984L122.3 984L123.8 984L125.3 984L126.8 984L128.3 984L129.8 984L131.3 984L132.8 984L134.3 984L135.8 984L137.3 984L138.8 984L140.3 984L141.8 984L143.3 984L144.8 984L146.3 984L147.8 984L149.3 984L150.8 984L152.3 984L153.8 984L155.3 984L156.8 984L158.3 984L159.8 984L161.3 984L162.8 984L164.3 984L165.8 984L167.3 984L168.8 984L170.3 984L171.8 984L173.3 984L174.8 984L176.3 984L177.8 984L179.3 984L180.8 984L182.3 984L183.8 984L185.3 984L186.8 984L188.3 984L189.8 984L191.3 984L192.8 984L194.3 984L195.8 984L197.3 984L198.8 984L200.3 984L201.8 984L203.3 984L204.8 984L206.3 984L207.8 984L209.3 983.9L210.8 983.9L212.3 983.8L213.8 983.7L215.3 983.5L216.8 983.3L218.3 982.9L219.8 982.5L221.3 981.9L222.8 981.2L224.3 980.4L225.8 979.4L227.3 978.4L228.8 977.3L230.3 976.2L231.8 975.1L233.3 974.2L234.8 973.6L236.3 973.1L237.8 973L239.3 973.2L240.8 973.6L242.3 974.3L243.8 975.3L245.3 976.3L246.8 977.4L248.3 978.5L249.8 979.5L251.3 980.5L252.8 981.3L254.3 982L255.8 982.5L257.3 983L258.8 983.3L260.3 983.5L261.8 983.7L263.3 983.8L264.8 983.9L266.3 983.9L267.8 984L269.3 984L270.8 984L272.3 984L273.8 984L275.3 984L276.8 984L278.3 984L279.8 984L281.3 984L282.8 984L284.3 984L285.8 984L287.3 984L288.8 984L290.3 984L291.8 984L293.3 984L294.8 984L296.3 984L297.8 984L299.3 984L300.8 984L302.3 984L303.8 984L305.3 984L306.8 984L308.3 984L309.8 984L311.3 984L312.8 984L314.3 984L315.8 984L317.3 984L318.8 984L320.3 984L321.8 984L323.3 984L324.8 984L326.3 984L327.8 984L329.3 984L330.8 984L332.3 984L333.8 984L333.8 984 Z" fill="#6ee0b4" fill-opacity="0.9"/>
<path d="M102.8 984L102.8 984L104.3 984L105.8 984L107.3 983.9L108.8 983.8L110.3 983.6L111.8 983.1L113.3 982L114.8 979.8L116.3 975.8L117.8 968.7L119.3 957.2L120.8 939.6L122.3 914.5L123.8 881.3L125.3 840.4L126.8 794.4L128.3 747.3L129.8 704.6L131.3 672L132.8 653.7L134.3 652L135.8 662.7L137.3 683.4L138.8 710.8L140.3 742.2L141.8 775.6L143.3 809.8L144.8 844.3L146.3 877.9L147.8 908.5L149.3 933.9L150.8 953L152.3 966.2L153.8 974.5L155.3 979.3L156.8 981.8L158.3 983L159.8 983.6L161.3 983.8L162.8 983.9L164.3 984L165.8 984L167.3 984L168.8 984L170.3 984L171.8 984L171.8 984 Z" fill="#74d474"/>
<path d="M102.8 984L102.8 984L104.3 984L105.8 984L107.3 984L108.8 984L110.3 984L111.8 984L113.3 984L114.8 984L116.3 984L117.8 984L119.3 984L120.8 984L122.3 984L123.8 984L125.3 984L126.8 984L128.3 983.9L129.8 983.8L131.3 983.5L132.8 982.6L134.3 980.9L135.8 977.9L137.3 973.1L138.8 966.5L140.3 958.9L141.8 951.8L143.3 947.1L144.8 946.1L146.3 949.2L147.8 955.4L149.3 963L150.8 970.2L152.3 975.9L153.8 979.7L155.3 982L156.8 983.1L158.3 983.7L159.8 983.9L161.3 984L162.8 984L164.3 984L165.8 984L167.3 984L168.8 984L170.3 984L171.8 984L171.8 984 Z" fill="#58c43c"/>
<line x1="132.4" y1="607.7" x2="132.4" y2="984" stroke="#1aa81a" stroke-width="1.6"/>
<line x1="259.7" y1="607.7" x2="259.7" y2="984" stroke="#3ee0e4" stroke-width="2"/>
<path d="M102.8 984L104.3 984L105.8 984L107.3 983.9L108.8 983.8L110.3 983.6L111.8 983.1L113.3 982L114.8 979.8L116.3 975.8L117.8 968.7L119.3 957.2L120.8 939.6L122.3 914.5L123.8 881.3L125.3 840.4L126.8 794.4L128.3 747.3L129.8 704.6L131.3 672L132.8 653.7L134.3 652L135.8 662.7L137.3 683.3L138.8 710.5L140.3 741.5L141.8 773.9L143.3 806.3L144.8 837.7L146.3 867.1L147.8 893.4L149.3 915.6L150.8 932.8L152.3 945L153.8 952.8L155.3 957.5L156.8 960.1L158.3 961.5L159.8 962.2L161.3 962.6L162.8 962.9L164.3 963.1L165.8 963.3L167.3 963.5L168.8 963.7L170.3 963.9L171.8 964.1L173.3 964.3L174.8 964.5L176.3 964.7L177.8 964.9L179.3 965.1L180.8 965.3L182.3 965.5L183.8 965.7L185.3 965.9L186.8 966.1L188.3 966.3L189.8 966.5L191.3 966.7L192.8 966.9L194.3 967.1L195.8 967.3L197.3 967.5L198.8 967.7L200.3 967.9L201.8 968.1L203.3 968.3L204.8 968.5L206.3 968.7L207.8 969L209.3 969.2L210.8 969.4L212.3 969.6L213.8 969.8L215.3 970L216.8 970.2L218.3 970.4L219.8 970.5L221.3 970.6L222.8 970.7L224.3 970.7L225.8 970.7L227.3 970.6L228.8 970.4L230.3 970L231.8 969.4L233.3 968.6L234.8 967.7L236.3 966.7L237.8 965.4L239.3 964.1L240.8 962.6L242.3 960.9L243.8 959.2L245.3 957.4L246.8 955.6L248.3 953.8L249.8 952.1L251.3 950.5L252.8 949.2L254.3 948.1L255.8 947.2L257.3 946.8L258.8 946.7L260.3 947L261.8 947.6L263.3 948.5L264.8 949.6L266.3 951L267.8 952.6L269.3 954.4L270.8 956.3L272.3 958.4L273.8 960.5L275.3 962.6L276.8 964.7L278.3 966.8L279.8 968.7L281.3 970.6L282.8 972.4L284.3 974L285.8 975.4L287.3 976.8L288.8 977.9L290.3 979L291.8 979.9L293.3 980.6L294.8 981.3L296.3 981.8L297.8 982.3L299.3 982.6L300.8 982.9L302.3 983.2L303.8 983.4L305.3 983.5L306.8 983.6L308.3 983.7L309.8 983.8L311.3 983.9L312.8 983.9L314.3 983.9L315.8 983.9L317.3 984L318.8 984L320.3 984L321.8 984L323.3 984L324.8 984L326.3 984L327.8 984L329.3 984L330.8 984L332.3 984L333.8 984" fill="none" stroke="#e41ce4" stroke-width="1.6"/>
<path d="M102.8 984L104.3 984L105.8 983.6L107.3 984L108.8 983.9L110.3 984L111.8 982.3L113.3 981.8L114.8 978.6L116.3 976.3L117.8 968.2L119.3 957.6L120.8 942L122.3 914L123.8 886.6L125.3 842.1L126.8 790.6L128.3 746.9L129.8 707.2L131.3 657.5L132.8 653.3L134.3 656L135.8 661.6L137.3 686.7L138.8 713L140.3 743.6L141.8 762.5L143.3 806.2L144.8 836.8L146.3 864.1L147.8 885.2L149.3 916.4L150.8 934.9L152.3 937.4L153.8 957L155.3 958.5L156.8 958.3L158.3 955.6L159.8 964.6L161.3 968.8L162.8 961.2L164.3 964.4L165.8 964.3L167.3 962.4L168.8 963.2L170.3 963.2L171.8 965.2L173.3 961.1L174.8 960.8L176.3 964.6L177.8 966L179.3 963.3L180.8 964.1L182.3 968L183.8 966.8L185.3 963.3L186.8 966.3L188.3 967.1L189.8 966L191.3 966.8L192.8 966.9L194.3 971.7L195.8 963.1L197.3 967L198.8 969.8L200.3 965.6L201.8 967.4L203.3 968.3L204.8 966.1L206.3 963.5L207.8 967.7L209.3 965.5L210.8 964.4L212.3 971.9L213.8 971L215.3 968.2L216.8 974L218.3 971L219.8 967.6L221.3 968.3L222.8 969.4L224.3 975L225.8 965.5L227.3 969.3L228.8 968.6L230.3 968.9L231.8 973.3L233.3 971.9L234.8 970.6L236.3 962.1L237.8 967.5L239.3 964.7L240.8 963.2L242.3 959.5L243.8 957.9L245.3 956.7L246.8 959.1L248.3 962.6L249.8 951.6L251.3 949.8L252.8 945.5L254.3 948.4L255.8 949.1L257.3 945.5L258.8 951.4L260.3 950.1L261.8 950.6L263.3 947.6L264.8 943.5L266.3 948.8L267.8 949.4L269.3 953.7L270.8 955.6L272.3 959.6L273.8 961.2L275.3 968.8L276.8 967.7L278.3 969.8L279.8 966.8L281.3 969.1L282.8 969.9L284.3 970.7L285.8 976.1L287.3 974.7L288.8 974.3L290.3 979L291.8 978L293.3 980.9L294.8 983.9L296.3 981.6L297.8 983.5L299.3 982.5L300.8 983.6L302.3 982.7L303.8 984L305.3 980.8L306.8 981.9L308.3 984L309.8 984L311.3 983.8L312.8 983.1L314.3 983.4L315.8 983.5L317.3 984L318.8 984L320.3 982.5L321.8 983.7L323.3 984L324.8 984L326.3 984L327.8 984L329.3 982.7L330.8 984L332.3 982.8L333.8 983.8" fill="none" stroke="#111" stroke-width="1.3"/>
<rect x="77.8" y="606.7" width="378.7" height="377.3" fill="none" stroke="#000" stroke-width="2.2"/>
<text x="60.8" y="984" class="An" font-size="16.5" text-anchor="middle" transform="rotate(-90 60.8 984)">0</text>
<text x="60.8" y="901.6" class="An" font-size="16.5" text-anchor="middle" transform="rotate(-90 60.8 901.6)">100</text>
<text x="60.8" y="819.2" class="An" font-size="16.5" text-anchor="middle" transform="rotate(-90 60.8 819.2)">200</text>
<text x="60.8" y="736.9" class="An" font-size="16.5" text-anchor="middle" transform="rotate(-90 60.8 736.9)">300</text>
<text x="60.8" y="654.5" class="An" font-size="16.5" text-anchor="middle" transform="rotate(-90 60.8 654.5)">400</text>
<text x="60.8" y="606.7" class="An" font-size="16.5" text-anchor="middle" transform="rotate(-90 60.8 606.7)">458</text>
<text x="30.8" y="795.4" class="An" font-size="16.5" text-anchor="middle" transform="rotate(-90 30.8 795.4)">Count</text>
<path d="M70.3 984H77.8M74.3 967.5H77.8M74.3 951H77.8M74.3 934.6H77.8M74.3 918.1H77.8M70.3 901.6H77.8M74.3 885.1H77.8M74.3 868.7H77.8M74.3 852.2H77.8M74.3 835.7H77.8M70.3 819.2H77.8M74.3 802.8H77.8M74.3 786.3H77.8M74.3 769.8H77.8M74.3 753.3H77.8M70.3 736.9H77.8M74.3 720.4H77.8M74.3 703.9H77.8M74.3 687.4H77.8M74.3 671H77.8M70.3 654.5H77.8M74.3 638H77.8M74.3 621.5H77.8M70.3 606.7H77.8M95 984V992M114.7 984V987.5M134.5 984V987.5M154.2 984V987.5M173.9 984V987.5M193.6 984V992M213.4 984V987.5M233.1 984V987.5M252.8 984V987.5M272.6 984V987.5M292.3 984V992M312 984V987.5M331.7 984V987.5M351.5 984V987.5M371.2 984V987.5M390.9 984V992M410.6 984V987.5M430.4 984V987.5M450.1 984V987.5M77.8 984V992M456.5 984V992" fill="none" stroke="#000" stroke-width="1.6"/>
<text x="80.8" y="1017" class="An" font-size="16.5" text-anchor="middle">165.1</text>
<text x="193.6" y="1017" class="An" font-size="16.5" text-anchor="middle">400</text>
<text x="292.3" y="1017" class="An" font-size="16.5" text-anchor="middle">600</text>
<text x="390.9" y="1017" class="An" font-size="16.5" text-anchor="middle">800</text>
<text x="453.5" y="1017" class="An" font-size="16.5" text-anchor="middle">933</text>
<text x="244.1" y="1043" class="An" font-size="16.5" text-anchor="middle">PE-A</text>
<text x="271.1" y="1043" class="An" font-size="16.5">(10</text>
<text x="297.1" y="1036" class="An" font-size="13">3</text>
<text x="306.1" y="1043" class="An" font-size="16.5">)</text>
<text x="133.4" y="629.7" class="An" font-size="16.5" text-anchor="middle">G1</text>
<text x="259.7" y="629.7" class="An" font-size="16.5" text-anchor="middle">G2</text>
<text x="287.8" y="631.7" class="An" font-size="16.5">Watson</text>
<text x="287.8" y="651.7" class="An" font-size="16.5">RMS: 1.83</text>
<text x="287.8" y="671.7" class="An" font-size="16.5">Freq G1: 62.23</text>
<text x="287.8" y="691.7" class="An" font-size="16.5">Freq S: 23.92</text>
<text x="287.8" y="711.7" class="An" font-size="16.5">Freq G2: 13.74</text>
<text x="287.8" y="731.7" class="An" font-size="16.5">Mean G1: 277,353</text>
<text x="287.8" y="751.7" class="An" font-size="16.5">Mean G2: 538,288</text>
<text x="287.8" y="771.7" class="An" font-size="16.5">G2/G1: 1.94</text>
<text x="287.8" y="791.7" class="An" font-size="16.5">CV G1: 4.83%</text>
<text x="287.8" y="811.7" class="An" font-size="16.5">CV G2: 5.25%</text>
<text x="287.8" y="831.7" class="An" font-size="16.5">Freq Sub-G1: 0.02</text>
<text x="287.8" y="851.7" class="An" font-size="16.5">Freq Super-G2: 0.08</text>
<text x="178.88" y="567.27" class="Sb" font-size="33.54" textLength="174.16" lengthAdjust="spacingAndGlyphs">Exo-inhibitor</text>
<text x="282.1" y="592.7" class="An" font-size="16.5" text-anchor="middle"><tspan>013 / </tspan><tspan fill="#e01010">P1</tspan><tspan> / </tspan><tspan fill="#18a018">P2</tspan><tspan> / </tspan><tspan fill="#1818e0">P3</tspan></text>
<rect x="733.9" y="611.3" width="35" height="280" fill="#2878b6" stroke="#000" stroke-width="3"/>
<rect x="791.9" y="699.5" width="35" height="191.8" fill="#bfbd25" stroke="#000" stroke-width="3"/>
<rect x="849.7" y="688.4" width="35" height="202.9" fill="#1dbecf" stroke="#000" stroke-width="3"/>
<rect x="907.7" y="704.6" width="35" height="186.7" fill="#e079c0" stroke="#000" stroke-width="3"/>
<rect x="965.7" y="731.5" width="35" height="159.8" fill="#2ca02c" stroke="#000" stroke-width="3"/>
<circle cx="740.9" cy="614.2" r="5.6" fill="none" stroke="#000" stroke-width="2.5"/>
<circle cx="751.4" cy="608.7" r="5.6" fill="none" stroke="#000" stroke-width="2.5"/>
<circle cx="761.9" cy="609.1" r="5.6" fill="none" stroke="#000" stroke-width="2.5"/>
<circle cx="798.9" cy="697.4" r="5.6" fill="none" stroke="#000" stroke-width="2.5"/>
<circle cx="809.4" cy="696.1" r="5.6" fill="none" stroke="#000" stroke-width="2.5"/>
<circle cx="819.9" cy="696.9" r="5.6" fill="none" stroke="#000" stroke-width="2.5"/>
<circle cx="856.7" cy="688.8" r="5.6" fill="none" stroke="#000" stroke-width="2.5"/>
<circle cx="867.2" cy="682.4" r="5.6" fill="none" stroke="#000" stroke-width="2.5"/>
<circle cx="877.7" cy="688" r="5.6" fill="none" stroke="#000" stroke-width="2.5"/>
<circle cx="914.7" cy="704.6" r="5.6" fill="none" stroke="#000" stroke-width="2.5"/>
<circle cx="925.2" cy="699.1" r="5.6" fill="none" stroke="#000" stroke-width="2.5"/>
<circle cx="935.7" cy="701.6" r="5.6" fill="none" stroke="#000" stroke-width="2.5"/>
<circle cx="971.7" cy="732.7" r="5.6" fill="none" stroke="#000" stroke-width="2.5"/>
<circle cx="983.2" cy="721.7" r="5.6" fill="none" stroke="#000" stroke-width="2.5"/>
<circle cx="994.8" cy="728.5" r="5.6" fill="none" stroke="#000" stroke-width="2.5"/>
<line x1="713.5" y1="548.7" x2="713.5" y2="891.3" stroke="#000" stroke-width="3.2"/>
<line x1="704" y1="891.3" x2="1022.6" y2="891.3" stroke="#000" stroke-width="3.2"/>
<text x="682.78" y="903.73" class="Sb" font-size="37.94" textLength="18.97" lengthAdjust="spacingAndGlyphs">0</text>
<line x1="704" y1="806" x2="713.5" y2="806" stroke="#000" stroke-width="3.2"/>
<text x="663.81" y="818.48" class="Sb" font-size="37.94" textLength="37.94" lengthAdjust="spacingAndGlyphs">20</text>
<line x1="704" y1="720.8" x2="713.5" y2="720.8" stroke="#000" stroke-width="3.2"/>
<text x="663.81" y="733.23" class="Sb" font-size="37.94" textLength="37.94" lengthAdjust="spacingAndGlyphs">40</text>
<line x1="704" y1="635.5" x2="713.5" y2="635.5" stroke="#000" stroke-width="3.2"/>
<text x="663.81" y="647.98" class="Sb" font-size="37.94" textLength="37.94" lengthAdjust="spacingAndGlyphs">60</text>
<line x1="704" y1="550.3" x2="713.5" y2="550.3" stroke="#000" stroke-width="3.2"/>
<text x="663.81" y="562.73" class="Sb" font-size="37.94" textLength="37.94" lengthAdjust="spacingAndGlyphs">80</text>
<line x1="751.4" y1="891.3" x2="751.4" y2="900.3" stroke="#000" stroke-width="3.2"/>
<line x1="809.4" y1="891.3" x2="809.4" y2="900.3" stroke="#000" stroke-width="3.2"/>
<line x1="867.2" y1="891.3" x2="867.2" y2="900.3" stroke="#000" stroke-width="3.2"/>
<line x1="925.2" y1="891.3" x2="925.2" y2="900.3" stroke="#000" stroke-width="3.2"/>
<line x1="983.2" y1="891.3" x2="983.2" y2="900.3" stroke="#000" stroke-width="3.2"/>
<text class="Ast" font-size="43.63" transform="translate(786.74 687.04) scale(1 0.99)">*</text>
<text class="Ast" font-size="43.63" transform="translate(811.19 687.04) scale(1 0.99)">*</text>
<text class="Ast" font-size="43.04" transform="translate(855.36 665.53) scale(1 0.95)">*</text>
<text class="Sn" font-size="51.31" transform="translate(974.27 704.6) scale(1 1.09)">#</text>
<text x="602.48" y="875.9" class="Sb" font-size="37.16" textLength="325.63" lengthAdjust="spacingAndGlyphs" transform="rotate(-90 602.48 875.9)">Cell cycle(G2+S)(%)</text>
<text x="645.18" y="755.95" class="Sb" font-size="36.28" textLength="85.89" lengthAdjust="spacingAndGlyphs" transform="rotate(-90 645.18 755.95)">(n=3)</text>
<text x="501.08" y="939.87" class="Sb" font-size="33.79" textLength="203.51" lengthAdjust="spacingAndGlyphs">Exo-mimics NC</text>
<text x="501.11" y="969.21" class="Sb" font-size="29.79" textLength="146.2" lengthAdjust="spacingAndGlyphs">Exo-mimics</text>
<text x="501.1" y="997.74" class="Sb" font-size="27" textLength="216.6" lengthAdjust="spacingAndGlyphs">Exo-inhibitor NC</text>
<text x="501.1" y="1026.63" class="Sb" font-size="27.43" textLength="168.12" lengthAdjust="spacingAndGlyphs">Exo-inhibitor</text>
<text class="Ab" font-size="39.38" transform="translate(747.26 935.56) scale(1 0.92)">-</text>
<text class="Sn" font-size="42.34" transform="translate(798.54 936.03) scale(1 0.91)">+</text>
<text class="Ab" font-size="39.38" transform="translate(860.76 935.56) scale(1 0.92)">-</text>
<text class="Ab" font-size="39.38" transform="translate(917.16 935.56) scale(1 0.92)">-</text>
<text class="Ab" font-size="39.38" transform="translate(973.86 935.56) scale(1 0.92)">-</text>
<text class="Ab" font-size="39.38" transform="translate(747.26 968.46) scale(1 0.92)">-</text>
<text class="Ab" font-size="39.38" transform="translate(803.96 968.46) scale(1 0.92)">-</text>
<text class="Sn" font-size="42.34" transform="translate(855.34 968.93) scale(1 0.91)">+</text>
<text class="Ab" font-size="39.38" transform="translate(917.16 968.46) scale(1 0.92)">-</text>
<text class="Ab" font-size="39.38" transform="translate(973.86 968.46) scale(1 0.92)">-</text>
<text class="Ab" font-size="39.38" transform="translate(747.26 1001.36) scale(1 0.92)">-</text>
<text class="Ab" font-size="39.38" transform="translate(803.96 1001.36) scale(1 0.92)">-</text>
<text class="Ab" font-size="39.38" transform="translate(860.76 1001.36) scale(1 0.92)">-</text>
<text class="Sn" font-size="42.34" transform="translate(911.74 1001.83) scale(1 0.91)">+</text>
<text class="Ab" font-size="39.38" transform="translate(973.86 1001.36) scale(1 0.92)">-</text>
<text class="Ab" font-size="39.38" transform="translate(747.26 1034.66) scale(1 0.92)">-</text>
<text class="Ab" font-size="39.38" transform="translate(803.96 1034.66) scale(1 0.92)">-</text>
<text class="Ab" font-size="39.38" transform="translate(860.76 1034.66) scale(1 0.92)">-</text>
<text class="Ab" font-size="39.38" transform="translate(917.16 1034.66) scale(1 0.92)">-</text>
<text class="Sn" font-size="42.34" transform="translate(968.44 1035.13) scale(1 0.91)">+</text>
<text x="1049.31" y="572.89" class="Sb" font-size="36.49" textLength="27.86" lengthAdjust="spacingAndGlyphs">B</text>
<rect x="1293.2" y="730" width="33" height="159.1" fill="#2878b6" stroke="#000" stroke-width="3"/>
<rect x="1348.8" y="731.6" width="33" height="157.5" fill="#bfbd25" stroke="#000" stroke-width="3"/>
<rect x="1404.8" y="677.2" width="33" height="211.9" fill="#1dbecf" stroke="#000" stroke-width="3"/>
<rect x="1461.1" y="734.8" width="33" height="154.3" fill="#e079c0" stroke="#000" stroke-width="3"/>
<rect x="1517" y="779.6" width="33" height="109.5" fill="#2ca02c" stroke="#000" stroke-width="3"/>
<circle cx="1297.2" cy="729.2" r="6.6" fill="none" stroke="#000" stroke-width="2.6"/>
<circle cx="1303.1" cy="729.2" r="6.6" fill="none" stroke="#000" stroke-width="2.6"/>
<circle cx="1309.7" cy="729.2" r="6.6" fill="none" stroke="#000" stroke-width="2.6"/>
<circle cx="1316.3" cy="729.2" r="6.6" fill="none" stroke="#000" stroke-width="2.6"/>
<circle cx="1322.2" cy="729.2" r="6.6" fill="none" stroke="#000" stroke-width="2.6"/>
<circle cx="1313" cy="729.2" r="6.6" fill="none" stroke="#000" stroke-width="2.6"/>
<line x1="1365.3" y1="720.4" x2="1365.3" y2="742.8" stroke="#000" stroke-width="2.6"/>
<line x1="1358.7" y1="720.4" x2="1371.9" y2="720.4" stroke="#000" stroke-width="2.6"/>
<line x1="1358.7" y1="742.8" x2="1371.9" y2="742.8" stroke="#000" stroke-width="2.6"/>
<circle cx="1355.4" cy="730.8" r="6.6" fill="none" stroke="#000" stroke-width="2.6"/>
<circle cx="1363.6" cy="708.4" r="6.6" fill="none" stroke="#000" stroke-width="2.6"/>
<circle cx="1375.9" cy="729.2" r="6.6" fill="none" stroke="#000" stroke-width="2.6"/>
<circle cx="1356.1" cy="740.4" r="6.6" fill="none" stroke="#000" stroke-width="2.6"/>
<circle cx="1368.6" cy="734" r="6.6" fill="none" stroke="#000" stroke-width="2.6"/>
<circle cx="1362" cy="726" r="6.6" fill="none" stroke="#000" stroke-width="2.6"/>
<line x1="1421.3" y1="666" x2="1421.3" y2="688.4" stroke="#000" stroke-width="2.6"/>
<line x1="1414.7" y1="666" x2="1427.9" y2="666" stroke="#000" stroke-width="2.6"/>
<line x1="1414.7" y1="688.4" x2="1427.9" y2="688.4" stroke="#000" stroke-width="2.6"/>
<circle cx="1411.4" cy="668.4" r="6.6" fill="none" stroke="#000" stroke-width="2.6"/>
<circle cx="1421.3" cy="658.8" r="6.6" fill="none" stroke="#000" stroke-width="2.6"/>
<circle cx="1432.2" cy="670" r="6.6" fill="none" stroke="#000" stroke-width="2.6"/>
<circle cx="1411.4" cy="686" r="6.6" fill="none" stroke="#000" stroke-width="2.6"/>
<circle cx="1431.2" cy="684.4" r="6.6" fill="none" stroke="#000" stroke-width="2.6"/>
<circle cx="1421.3" cy="676.4" r="6.6" fill="none" stroke="#000" stroke-width="2.6"/>
<line x1="1477.6" y1="725.2" x2="1477.6" y2="744.4" stroke="#000" stroke-width="2.6"/>
<line x1="1471" y1="725.2" x2="1484.2" y2="725.2" stroke="#000" stroke-width="2.6"/>
<line x1="1471" y1="744.4" x2="1484.2" y2="744.4" stroke="#000" stroke-width="2.6"/>
<circle cx="1467.7" cy="727.6" r="6.6" fill="none" stroke="#000" stroke-width="2.6"/>
<circle cx="1475.9" cy="719.6" r="6.6" fill="none" stroke="#000" stroke-width="2.6"/>
<circle cx="1488.5" cy="730.8" r="6.6" fill="none" stroke="#000" stroke-width="2.6"/>
<circle cx="1467.7" cy="742" r="6.6" fill="none" stroke="#000" stroke-width="2.6"/>
<circle cx="1480.9" cy="740.4" r="6.6" fill="none" stroke="#000" stroke-width="2.6"/>
<circle cx="1477.6" cy="735.6" r="6.6" fill="none" stroke="#000" stroke-width="2.6"/>
<line x1="1533.5" y1="774" x2="1533.5" y2="785.2" stroke="#000" stroke-width="2.6"/>
<line x1="1526.9" y1="774" x2="1540.1" y2="774" stroke="#000" stroke-width="2.6"/>
<line x1="1526.9" y1="785.2" x2="1540.1" y2="785.2" stroke="#000" stroke-width="2.6"/>
<circle cx="1523.6" cy="782" r="6.6" fill="none" stroke="#000" stroke-width="2.6"/>
<circle cx="1533.5" cy="777.2" r="6.6" fill="none" stroke="#000" stroke-width="2.6"/>
<circle cx="1544.4" cy="772.4" r="6.6" fill="none" stroke="#000" stroke-width="2.6"/>
<circle cx="1526.9" cy="780.4" r="6.6" fill="none" stroke="#000" stroke-width="2.6"/>
<circle cx="1543.4" cy="786.8" r="6.6" fill="none" stroke="#000" stroke-width="2.6"/>
<circle cx="1536.8" cy="778.8" r="6.6" fill="none" stroke="#000" stroke-width="2.6"/>
<line x1="1272.8" y1="567.7" x2="1272.8" y2="889.1" stroke="#000" stroke-width="3.2"/>
<line x1="1258.8" y1="889.1" x2="1572.6" y2="889.1" stroke="#000" stroke-width="3.2"/>
<text x="1207.31" y="901.56" class="Sb" font-size="38.28" textLength="47.85" lengthAdjust="spacingAndGlyphs">0.0</text>
<line x1="1258.8" y1="809.1" x2="1272.8" y2="809.1" stroke="#000" stroke-width="3.2"/>
<text x="1207.25" y="821.61" class="Sb" font-size="38.28" textLength="47.85" lengthAdjust="spacingAndGlyphs">0.5</text>
<line x1="1258.8" y1="729.2" x2="1272.8" y2="729.2" stroke="#000" stroke-width="3.2"/>
<text x="1207.31" y="741.66" class="Sb" font-size="38.28" textLength="47.85" lengthAdjust="spacingAndGlyphs">1.0</text>
<line x1="1258.8" y1="649.2" x2="1272.8" y2="649.2" stroke="#000" stroke-width="3.2"/>
<text x="1206.92" y="661.7" class="Sb" font-size="38.56" textLength="48.2" lengthAdjust="spacingAndGlyphs">1.5</text>
<line x1="1258.8" y1="569.3" x2="1272.8" y2="569.3" stroke="#000" stroke-width="3.2"/>
<text x="1207.31" y="581.76" class="Sb" font-size="38.28" textLength="47.85" lengthAdjust="spacingAndGlyphs">2.0</text>
<line x1="1309.7" y1="889.1" x2="1309.7" y2="898.1" stroke="#000" stroke-width="3.2"/>
<line x1="1365.3" y1="889.1" x2="1365.3" y2="898.1" stroke="#000" stroke-width="3.2"/>
<line x1="1421.3" y1="889.1" x2="1421.3" y2="898.1" stroke="#000" stroke-width="3.2"/>
<line x1="1477.6" y1="889.1" x2="1477.6" y2="898.1" stroke="#000" stroke-width="3.2"/>
<line x1="1533.5" y1="889.1" x2="1533.5" y2="898.1" stroke="#000" stroke-width="3.2"/>
<text x="1338.88" y="696.45" class="Sni" font-size="56.14" textLength="52.92" lengthAdjust="spacingAndGlyphs">ns</text>
<text class="Ast" font-size="45.41" transform="translate(1411.07 643.68) scale(1 1.05)">*</text>
<text class="Sn" font-size="56.05" transform="translate(1524.99 754) scale(1 1.01)">#</text>
<text x="1140.44" y="844.5" class="Sb" font-size="38.82" textLength="246.51" lengthAdjust="spacingAndGlyphs" transform="rotate(-90 1140.44 844.5)">OD value (nm)</text>
<text x="1186.63" y="767.15" class="Sb" font-size="38.38" textLength="91.2" lengthAdjust="spacingAndGlyphs" transform="rotate(-90 1186.63 767.15)">(n=6)</text>
<text x="1071.99" y="941.68" class="Sb" font-size="32.74" textLength="202.8" lengthAdjust="spacingAndGlyphs">Exo-mimics NC</text>
<text x="1072.01" y="970.71" class="Sb" font-size="30.1" textLength="146.2" lengthAdjust="spacingAndGlyphs">Exo-mimics</text>
<text x="1072.01" y="999.73" class="Sb" font-size="27.71" textLength="215.69" lengthAdjust="spacingAndGlyphs">Exo-inhibitor NC</text>
<text x="1072" y="1030.72" class="Sb" font-size="28.42" textLength="168.12" lengthAdjust="spacingAndGlyphs">Exo-inhibitor</text>
<text class="Ab" font-size="39.38" transform="translate(1303.46 939.36) scale(1 0.92)">-</text>
<text class="Sn" font-size="42.34" transform="translate(1354.54 939.83) scale(1 0.91)">+</text>
<text class="Ab" font-size="39.38" transform="translate(1416.46 939.36) scale(1 0.92)">-</text>
<text class="Ab" font-size="39.38" transform="translate(1472.96 939.36) scale(1 0.92)">-</text>
<text class="Ab" font-size="39.38" transform="translate(1528.96 939.36) scale(1 0.92)">-</text>
<text class="Ab" font-size="39.38" transform="translate(1303.46 972.06) scale(1 0.92)">-</text>
<text class="Ab" font-size="39.38" transform="translate(1359.96 972.06) scale(1 0.92)">-</text>
<text class="Sn" font-size="42.34" transform="translate(1411.04 972.53) scale(1 0.91)">+</text>
<text class="Ab" font-size="39.38" transform="translate(1472.96 972.06) scale(1 0.92)">-</text>
<text class="Ab" font-size="39.38" transform="translate(1528.96 972.06) scale(1 0.92)">-</text>
<text class="Ab" font-size="39.38" transform="translate(1303.46 1003.86) scale(1 0.92)">-</text>
<text class="Ab" font-size="39.38" transform="translate(1359.96 1003.86) scale(1 0.92)">-</text>
<text class="Ab" font-size="39.38" transform="translate(1416.46 1003.86) scale(1 0.92)">-</text>
<text class="Sn" font-size="42.34" transform="translate(1467.54 1004.33) scale(1 0.91)">+</text>
<text class="Ab" font-size="39.38" transform="translate(1528.96 1003.86) scale(1 0.92)">-</text>
<text class="Ab" font-size="39.38" transform="translate(1303.46 1036.36) scale(1 0.92)">-</text>
<text class="Ab" font-size="39.38" transform="translate(1359.96 1036.36) scale(1 0.92)">-</text>
<text class="Ab" font-size="39.38" transform="translate(1416.46 1036.36) scale(1 0.92)">-</text>
<text class="Ab" font-size="39.38" transform="translate(1472.96 1036.36) scale(1 0.92)">-</text>
<text class="Sn" font-size="42.34" transform="translate(1523.54 1036.83) scale(1 0.91)">+</text>
<text x="12.23" y="1102.61" class="Sb" font-size="39.44" textLength="32.05" lengthAdjust="spacingAndGlyphs">C</text>
<path d="M238.5 1179.6h0m9.3 3.3h0m-12.6 2.1h0m2.5 0.2h0m4.3 2.3h0m1.3-0.9h0m-16.8 1.2h0m3.4 3.6h0m2.6-0.1h0m-8.7 1h0m11.9-0.8h0m-1.3 1.2h0m1.9 0.5h0m0.4-0.6h0m-0.2 2.2h0m-9.8 1.6h0m12.6 0.3h0m-13.3 1.1h0m10.6 0.1h0m3.8 0.5h0m3.7-0.7h0m-16.3 1.7h0m1.7-0.6h0m1.2 1.4h0m5.5-0.3h0m-7.6 1.6h0m1.4-0.7h0m-6.7 1h0m3.8 0.6h0m-13.9 0.3h0m18 0.7h0m1.1-0.7h0m-19.5 0.8h0m0 0.3h0m8.2 0.1h0m8.1 0.1h0m10.6 0.7h0m-15.7 1.1h0m-46.2 1.2h0m32.2 0.3h0m3.8-0.2h0m8.8 0.1h0m12.9-0.4h0m-16.2 1.2h0m3.3 0h0m-10.8 0.7h0m4.2 0.4h0m7.2 0.2h0m5.3 0h0m-19.8 1.1h0m4.4-0.8h0m1.8 0.4h0m-39.6 0.9h0m21.9 0.6h0m0.5-0.1h0m19.8-0.7h0m2 0.2h0m0.1 0.4h0m3.8-0.5h0m-61.8 0.8h0m4.3 0.6h0m11.8 0.1h0m7.5-0.2h0m-13.2 0.7h0m0.9-0.2h0m19.7 0.2h0m28.6 0.1h0m3.5 0.4h0m-43 0.5h0m9.9 0.3h0m21.3-0.2h0m2.5-0.3h0m9.2 0.4h0m-69.4 0.7h0m21.9 0.5h0m7.5-0.2h0m22.6 0.2h0m8.6 0.1h0m4-0.3h0m7.8-0.4h0m-50.5 1.9h0m2.1-0.3h0m3.9-0.5h0m19.8 0.8h0m3.9-0.4h0m-32.4 0.8h0m11.4-0.4h0m10.7 0.2h0m1.8 0h0m5.1 0.8h0m1.8-0.4h0m12.4-0.5h0m0.5 0.1h0m13.1-0.1h0m-73.4 0.9h0m14.9 0.4h0m2.6-0.3h0m5.3 0.3h0m33.3 0.2h0m4.3 0.3h0m-30.2 0.8h0m16 0h0m2.6-0.3h0m6.2-0.1h0m3.9 0.4h0m-46.4 1.1h0m21.6-0.8h0m3.8 0.5h0m-27.2 0.9h0m36.4 0.2h0m0.5-0.5h0m4.3 0.1h0m8.2-0.1h0m1.6 0.8h0m0.8-0.5h0m-11.3 1.3h0m8.6-0.3h0m-39.7 1.4h0m28.4 0h0m7-0.3h0m4.6-0.4h0m-21.2 1.5h0m18.7-0.2h0m2-0.2h0m-10.7 1.3h0m1.1-0.5h0m2.2 0.6h0m-20.2 1.6h0m3.6 0.3h0m16.4 0.3h0m2.4 0.1h0m4.3-0.6h0m-21.8 1.3h0m6.8 0.4h0m-5.9 0.7h0m8.6 0.2h0m7 0.2h0m-59.1 1.4h0m43.9 0.1h0m2-0.1h0m6.4 0h0m1.5 0.3h0m0.8-0.3h0m2.3 0.1h0m0.5-0.2h0m0.3-0.3h0m-46.5 1.2h0m5.6-0.1h0m25.6 1.8h0m1.1-0.7h0m13.6 0.5h0m-18.5 1h0m15.8-0.4h0m-12.5 0.6h0m1.8 0.7h0m-6.2 0.9h0m5.8-0.5h0m-2.3 1h0m-4 1.8h0m14 0.1h0m14.3 1h0m-29.3 1.6h0m7.4 0.1h0m6.8 0.1h0m2.5 0.1h0m-19 0.1h0m8.2 1.3h0m-3.2 1.5h0m-2.5 1h0m3.1 0.4h0m-17.4 1.1h0m5.4 1.3h0m7.9-0.1h0m4.4 0.5h0m-12.3 0.1h0m1.1 0.9h0m-11.1 1.6h0m0.3 0h0m3.2 0.6h0m-6.5 1.2h0m19.4 2.6h0m-9.2 1h0m18.5 0.4h0m-36.4 1.5h0m3.1-0.5h0m22.7 0h0m-13.3 1h0m1.3-0.1h0m14-0.2h0m-18.9 1.5h0m4-0.5h0m6.9 0.5h0m-49.4 0.7h0m33.2 0.4h0m11.6-0.5h0m-7 1.8h0m7.4-0.5h0m2.2-0.5h0m2 1.8h0m35.9-0.2h0m-76.4 1.2h0m14.1 0.6h0m12-0.2h0m-48 1.2h0m29-0.4h0m6 0.2h0m0.6 0.3h0m12.1 0.4h0m3.6-0.4h0m-0.1 1.4h0m8.9-0.7h0m-43.9 1.1h0m8.2 0.4h0m3.4-0.3h0m0.9 0.3h0m6.7-0.2h0m3.7-0.1h0m0-0.1h0m16.6 0h0m-37.3 1.3h0m20.3-0.5h0m40.7 0.9h0m-65.7 0.7h0m33.9-0.4h0m7.5 0.3h0m5.7-0.2h0m2.6-0.3h0m-49.4 1.3h0m5.5 0.2h0m23.3-0.2h0m3.4 0.2h0m0.7 0.3h0m4.4-0.2h0m-46.6 1.3h0m20.2-0.8h0m1 0.1h0m1-0.3h0m14.4 0.8h0m19.3 0.1h0m3-0.4h0m4.2 0h0m18.4-0.2h0m-89.9 1.4h0m21-0.6h0m3 0.5h0m8.7 0.4h0m5.9 0h0m14.8-0.3h0m6-0.7h0m8.5 1h0m-35.7 1h0m0.8-0.7h0m6.8 0.3h0m5.2 0.1h0m-44.5 0.9h0m24.9 0.3h0m3.6-0.3h0m3.9 0.2h0m17.7-0.3h0m16.6-0.4h0m7.8 0.7h0m-68.8 0.9h0m6.3 0.3h0m6.6-0.2h0m0.1-0.1h0m1.1-0.6h0m1.6 0.5h0m9.9 0h0m3.3 0.3h0m0.9-0.6h0m3.4 0.1h0m31.6 0.3h0m-78.8 1h0m14.6 0h0m3.3-0.3h0m9.3 0.5h0m0.9-0.3h0m1-0.3h0m0.3-0.2h0m3.7 0.8h0m1.4-0.7h0m0.9 0.4h0m4.4-0.5h0m3.9 0.5h0m29.2-0.1h0m18-0.3h0m-88.4 1.6h0m2.1-0.4h0m6.6 0h0m5-0.1h0m0.7 0.5h0m0.8-0.1h0m10-0.1h0m12.4-0.3h0m0.1-0.2h0m13.8-0.1h0m2 0.9h0m1.7-0.7h0m5.8-0.1h0m-90 1.7h0m22.8-0.7h0m14.8 0.9h0m7.4-0.5h0m4.6 0.3h0m1-0.7h0m0.5 0.1h0m1.5 0.5h0m0.5-0.7h0m3.2 0.3h0m3 0.5h0m0.5-0.6h0m4.5 0.5h0m0.5-0.5h0m2.8 0.7h0m0.6-0.2h0m6.4-0.5h0m3.9 0.7h0m3-0.5h0m2.3 0.1h0m3.5 0h0m3.7 0.1h0m5.9-0.1h0m-64 1.1h0m4.3-0.3h0m1.6 0.4h0m3.8-0.5h0m4.9 0.6h0m12.5 0.2h0m0.3-0.6h0m3.1-0.1h0m5.1 0h0m0.9 0.7h0m0.3-0.9h0m2.3 0.2h0m3.2 0.5h0m0.1-0.4h0m3.3 0.4h0m3.9-0.5h0m22.2 0.4h0m18.7 0h0m-94.6 1.3h0m9.9-0.8h0m0.4 0.7h0m0.1-0.8h0m3.7 0.2h0m4.7 0h0m2.6 0.2h0m1.3-0.1h0m5.9 0.3h0m7.6 0.2h0m5.8-0.1h0m9.4-0.6h0m0.3-0.1h0m22.1 0.8h0m-70.5 0.9h0m1.1-0.3h0m11.8-0.1h0m3.9 0.3h0m5.3-0.7h0m1.6 0.8h0m0.3-0.3h0m0.3 0.1h0m0.1 0.1h0m3.3-0.2h0m11.1-0.3h0m0.2 0.3h0m0.5 0.2h0m-53.7 0.7h0m13.4-0.1h0m0-0.1h0m3.6 0.7h0m8.8-0.6h0m5.7 0.1h0m6-0.1h0m2.5 0h0m5.9 0.2h0m0.1-0.2h0m5.3 0.1h0m1.6 0.2h0m0.6-0.6h0m0.3 0.5h0m1.5 0.3h0m3.2 0.1h0m1.4-0.7h0m21.9 0.8h0m-54.7 0.2h0m13.6 0h0m1.3-0.1h0m13.6 0.2h0m0.3 0h0m3.4-0.3h0m-51.1 1.5h0m6.1 0.2h0m0.1-0.4h0m3.5 0.2h0m0.1 0.3h0m5 0h0m0.8-0.1h0m1.1-0.3h0m0.1 0.2h0m33.1 0h0m4.4-0.3h0m0.8 0.1h0m0.6-0.1h0m3.3 0h0m2.2 0.1h0m17.8-0.2h0m-91.1 1.4h0m12.8 0h0m9.9 0.3h0m1.6-0.8h0m0.5 0.9h0m0.6-0.1h0m0.1-0.2h0m0.7-0.2h0m1.8-0.4h0m0.3 0.8h0m42.4-0.9h0m9.5 0.5h0m-78.7 1.5h0m7.8-0.9h0m1.8 0.5h0m0.4-0.1h0m0.2 0.3h0m3.4-0.2h0m0.4 0.1h0m1.8 0.1h0m0.6-0.3h0m1 0.2h0m0.9-0.2h0m8.6-0.4h0m33.6 0h0m0.7 0.3h0m0.7 0.2h0m0.1 0.3h0m5.6-0.3h0m13.6 0.3h0m-76.9 0.6h0m3-0.1h0m8.2-0.1h0m2-0.3h0m48.7 1h0m1.9-0.2h0m0.1-0.8h0m5.2 0.4h0m1 0.5h0m-76.7 0.8h0m7.2 0h0m2.5-0.2h0m1 0.2h0m2.5-0.6h0m7.3 0h0m1.4 0.9h0m44.8-0.7h0m2.3 0.2h0m0.9 0h0m2.6-0.2h0m-61.7 1.5h0m0.3-0.7h0m3.5 0.7h0m1.6 0.1h0m2.8-0.8h0m52.2 0.4h0m4.9-0.3h0m1.1-0.1h0m0.2-0.1h0m3.2 0.3h0m-86.8 1.4h0m3.1-0.4h0m0.6 0.6h0m1.9-0.7h0m10.3 0h0m8.4 0.7h0m3.3-0.8h0m0.8 0.6h0m44.8 0h0m-79.9 1.1h0m1.1 0.1h0m16.2-0.4h0m0.3 0.4h0m2.1-0.1h0m2.7-0.6h0m2.9-0.1h0m7.7 0.8h0m0.9 0h0m43.5-0.9h0m0.8 0.7h0m0.4-0.2h0m-65.4 1h0m1.9-0.2h0m1.7 0.2h0m4.7-0.4h0m5.8-0.1h0m4.6 0.1h0m0.9 0.2h0m46.5-0.2h0m1.3 0.5h0m4.2-0.6h0m1.4 0.7h0m9.4 0.2h0m-81.1 0.6h0m58 0.2h0m0.6-0.5h0m4.6-0.1h0m10.4 0.5h0m-75.7 0.7h0m1.6 0.2h0m0.2-0.5h0m1.8 0.4h0m5.9-0.4h0m1.5 0.8h0m54 0h0m-62.1 0.9h0m5.5-0.5h0m1.6-0.2h0m0.8 0.5h0m55.1 0.4h0m1.2-0.1h0m8.4-0.7h0m-83.4 1.7h0m6.5-0.3h0m1.1 0.3h0m8.2-0.4h0m1.2-0.2h0m-5.8 1.1h0m7.1-0.1h0m50 0.5h0m3.8-0.5h0m0.6 0.2h0m2.2-0.4h0m2.7 0.9h0m1.7-0.3h0m-85.7 0.4h0m15.8 0.2h0m4.9 0.4h0m50.8-0.3h0m0 0.6h0m1.4-0.2h0m0.8-0.5h0m11.2 0.7h0m-12 0.2h0m0.8 0.3h0m0.2 0.1h0m0.7-0.4h0m5.8 0h0m5.8 0h0m13.9 0.4h0m-89.6 1.1h0m5.7-0.6h0m0.3 0.5h0m2.7-0.4h0m52.9 0.4h0m0.6 0.1h0m0.1-0.5h0m12.5 0.2h0m10.9 0.6h0m-100.2 0.7h0m10.5-0.1h0m8.1 0.4h0m5.1-0.5h0m2.7 0.4h0m46.6 0.1h0m1.9-0.7h0m7 0.7h0m2-0.7h0m2.7-0.1h0m5.4 0.1h0m-73.1 1.3h0m0.3-0.3h0m3.3 0.1h0m4.5-0.3h0m44.6 0.3h0m0.5 0h0m5.3 0.1h0m0.6 0.2h0m10.7 0.1h0m0.7-0.3h0m5.2 0.5h0m6.5-0.3h0m-98.8 0.7h0m13.1 0.5h0m6-0.5h0m3.3 0.3h0m0.4-0.1h0m3.6-0.4h0m45.9 0.2h0m8.4-0.1h0m17 0.6h0m1.5-0.2h0m-110.6 0.5h0m25.2 0.8h0m0.9-0.7h0m0.6 0.5h0m6.8-0.6h0m1.1 0.6h0m1.5-0.6h0m5 0.6h0m36.6 0.1h0m0.6-0.2h0m0.4 0h0m2.8 0.3h0m0.3-0.3h0m21.5 0h0m4.3 0.4h0m-82.7 0.8h0m4.8 0h0m1.7 0.1h0m2.7-0.3h0m7 0h0m33.6 0h0m1.9-0.5h0m14.2 0.3h0m0.6 0.3h0m6.2 0.1h0m-98.8 0.6h0m20.6 0.6h0m3.6-0.3h0m7.6-0.3h0m6.9-0.3h0m40 0.6h0m4.3-0.4h0m16 0.2h0m-79.2 0.7h0m13.5 0.7h0m1.2 0.1h0m4.6-1h0m1 0.2h0m0.9-0.1h0m3.5 0.9h0m19.2-0.4h0m0.2 0h0m0.4-0.1h0m1.5 0.2h0m0.5-0.1h0m3.5 0.4h0m4.2-0.1h0m4.3-0.7h0m2.9 0.7h0m2.3-0.4h0m20.8 0h0m-87.5 0.7h0m14.6 0h0m0.9 0.4h0m6-0.5h0m4.2 0.4h0m0.3-0.1h0m0.4 0.3h0m2.2 0.2h0m2.3-0.9h0m2.3 0.3h0m11.6 0.7h0m10.1-0.5h0m3.2-0.3h0m15.8-0.2h0m5.1 0.9h0m-61.6 0.6h0m4-0.1h0m5.8 0.2h0m1.3 0.2h0m0.1-0.1h0m2.3 0.2h0m2.3-0.4h0m0.3 0.3h0m10.8-0.7h0m0 0.1h0m0.8 0.2h0m2-0.1h0m7.3 0h0m0 0.7h0m19.1-0.8h0m-72.3 1.8h0m20.8-0.8h0m5.4 0.7h0m1.6-0.2h0m1.2-0.1h0m3.1 0.3h0m2.2 0.1h0m0.2-0.3h0m12.2-0.2h0m1.2 0h0m3.9-0.1h0m0.9-0.3h0m3.9 0.2h0m0.7 0.2h0m13.2-0.4h0m2.3 0.5h0m-66 0.8h0m2.5 0.5h0m2.4-0.4h0m8.2 0.2h0m0.1-0.5h0m2.5 0.7h0m0.7 0h0m4.2-0.7h0m1.6 0h0m5.4 0.3h0m4.2 0h0m0.2-0.4h0m0.9 0.6h0m0.7-0.5h0m7 0.5h0m1-0.3h0m5 0.3h0m4.8-0.4h0m3.8 0.4h0m2.7-0.6h0m20.7 0.3h0m-84 1.4h0m4.6-0.5h0m3.2 0.5h0m1.5-0.5h0m12.2 0.6h0m14.2-0.6h0m10.2 0.1h0m3.2-0.1h0m0.5-0.2h0m1.4 0.7h0m4.5-0.7h0m3 0.1h0m1.9 0.1h0m-51.5 0.9h0m5.4 0.7h0m7.8-0.4h0m0.8 0.2h0m8.6-0.5h0m2.9-0.2h0m1.4 0.2h0m1 0.2h0m3.2-0.2h0m0.5 0.5h0m0.2-0.3h0m2.2-0.2h0m15.2 0h0m3.8 0.5h0m16.2-0.2h0m-83.2 1.3h0m24.3 0.2h0m4.7-0.9h0m1.3 0.2h0m9.7 0.1h0m10.3 0.5h0m13.4-0.2h0m8.9-0.2h0m3.2-0.4h0m-65.4 1.5h0m7.2 0.1h0m4-0.3h0m2.3 0h0m8.2-0.3h0m3.3 0.4h0m2.5 0.2h0m0.5 0h0m0.6 0.2h0m3.5-0.5h0m3.6 0h0m3.4 0.5h0m30.3 0h0m0.5-0.9h0m-62.8 1.7h0m8.4 0.3h0m7.7-0.7h0m0.9 0.1h0m1.5 0.5h0m1.9-0.4h0m5.3 0.5h0m3.2-0.2h0m0-0.6h0m0.2 0.4h0m1.2 0.3h0m11.8-0.5h0m2.8 0.5h0m2.4-0.7h0m11.4 0.8h0m-66.4 0.5h0m6.2 0.1h0m4.8-0.4h0m1.2 0.6h0m11.1-0.5h0m2 0.3h0m7.1 0.3h0m3.3-0.5h0m4.1 0.4h0m1.4-0.4h0m0.5 0.1h0m3.8-0.3h0m-45.7 0.8h0m4 0.6h0m15.5 0.3h0m0.5-0.6h0m9.4-0.2h0m13.6 0.1h0m7.8 0.7h0m3.8-0.9h0m6 0.5h0m10.8-0.4h0m1.2 0.7h0m-73.7 0.8h0m4.2 0.3h0m9.2-0.2h0m0.9 0.1h0m2.8 0.1h0m2-0.5h0m5.3 0h0m1.4-0.4h0m1.6 0.3h0m1.6-0.3h0m8.7 0.3h0m2.6-0.1h0m1.3 0.6h0m4.3-0.4h0m-62.7 0.7h0m36.4 0.6h0m0.9 0.3h0m6.1-0.3h0m3.1 0.3h0m2.3-1h0m1.2 1h0m0.8-0.7h0m2.2-0.2h0m7.2 0.5h0m-27.1 0.8h0m9.6 0.4h0m3.4-0.6h0m0.6 0h0m2.8 0.4h0m3.5-0.1h0m12.7-0.3h0m2 0.1h0m5-0.1h0m-38.3 1.5h0m6.6-0.3h0m3.3-0.3h0m2.5 0h0m14.6 0.5h0m-43.9 1.2h0m4.1-0.4h0m9.3 0h0m13.9 0.3h0m3.8-0.5h0m5.5 0.6h0m2.9 0.1h0m0.4-0.1h0m24.1-0.7h0m-37.4 1.2h0m6 0.7h0m0.6 0h0m3.6-1h0m17.8 0.3h0m2.5 0.2h0m-21.1 0.8h0m0.9 0.6h0m36.3-0.2h0m-53.3 0.4h0m12 0.6h0m11.5 0.2h0m20.8-0.4h0m3.5-0.3h0m-68.8 1.3h0m1.7 0.1h0m5.7 0.3h0m10.5-0.1h0m8 0h0m12.1 0h0m9.8 0.2h0m15.7-0.8h0m-50.6 1.2h0m3.4-0.2h0m22.4-0.2h0m9.4 0.2h0m-38.3 1.3h0m10.7-0.3h0m8.2 0.4h0m3.8 0.3h0m33.7 0h0m-57.4 0.4h0m11.6 0.3h0m2-0.1h0m3.3 0.5h0m24.7-0.2h0m-10.6 0.5h0m-29.4 0.8h0m25 0.1h0m3.6 0.4h0m35.4-0.2h0m-67.7 1.6h0m1.5-0.4h0m13.4 0.1h0m1.4 0h0m25.4-0.4h0m37.9 0h0m-60.9 0.8h0m0.3 0h0m0.8 0.5h0m19.3-0.6h0m18.7 0.6h0m18.5-0.2h0m-72.7 1.6h0m26.5-0.9h0m5.6 0.7h0m7.4-0.1h0m-2.7 0.6h0m11.7 0.3h0m4.2 0.3h0m-40.9 0.4h0m24 0.4h0m8.7 1.1h0m-27.2 3.4h0m23.7 0.3h0m-26.7 0.6h0m-1.6 1.5h0m14.4 2.1h0m-18.2 1.3h0m-30.5 0.1h0m31.7 0.6h0m15.7-0.5h0m15.1 1.6h0m-25.3 4.9h0m-8.4 2.5h0" fill="none" stroke="#1818f0" stroke-width="1.3" stroke-linecap="square"/>
<path d="M131.4 1281.3h0m-1 0.9h0m-1.1 1h0m-0.7 1h0m0-0.2h0m0.4-0.1h0m0.7 0.3h0m0.2-0.4h0m2.7 0.4h0m0.7-0.2h0m6.2 0h0m0.3 0.4h0m2.3 0.1h0m4.4-0.3h0m5.9 0.3h0m-28.8 0.7h0m0.5 0.3h0m1.2-0.5h0m1.2-0.3h0m2.9 0.4h0m3-0.2h0m1.9 0.1h0m2.5-0.2h0m0.3-0.3h0m1 0.9h0m1.7-0.8h0m1.5 0.6h0m2.7-0.3h0m2.5 0.1h0m0.4-0.1h0m0.8 0.1h0m4.8-0.4h0m0.2 0.1h0m-25.6 1.5h0m2.7-0.1h0m2.1-0.1h0m1-0.4h0m1.3-0.1h0m7.3 0.6h0m0.3-0.4h0m2.2 0.6h0m2.8-0.3h0m0.1-0.4h0m3.8 0.1h0m1.4 0.6h0m-34.1 0.9h0m0.5 0.2h0m7-0.7h0m0.5-0.1h0m0.6 0.3h0m1.1 0.1h0m0.2 0.2h0m0.6-0.5h0m0.1-0.2h0m1.7 0.8h0m0.1-0.5h0m0.8 0.4h0m11.8-0.5h0m1.5 0.7h0m0.1-0.8h0m5.6 0.4h0m0.5-0.4h0m0.2 0.8h0m-36.9 0.8h0m0.7-0.2h0m2-0.2h0m1 0h0m5.3 0.5h0m4-0.7h0m0.2 0.4h0m0.4-0.1h0m2.1 0.4h0m1.4 0.1h0m20.9-0.6h0m-34.2 1.5h0m2.6-0.5h0m0.7 0.2h0m1.2 0.2h0m0.7-0.7h0m3.7 1h0m18.5-0.5h0m0.7-0.4h0m0.4 0.1h0m4.1 0.2h0m-33.1 0.6h0m0.3 0.4h0m4.3-0.3h0m23.9 0.2h0m4.8 0.3h0m-36.5 0.9h0m1.4-0.2h0m0.7 0.5h0m34-0.5h0m0.7 0.5h0m0 0.9h0m0.3 0h0m-42.4 0.9h0m2.4 0.2h0m36.7-0.3h0m4.9-0.2h0m-48.3 1h0m5.2 0h0m5.7 0.6h0m0.2-0.1h0m0.1 0h0m30.9-0.6h0m0.1 0.7h0m1.9-0.2h0m0.2-0.5h0m-41.2 1.7h0m0.3-0.6h0m6.8 0.4h0m1.1-0.2h0m28.3 0.5h0m1.9-0.5h0m0.1 0h0m1.2 0.4h0m2 0.1h0m-46.6 0.9h0m0.4-0.1h0m1.1-0.2h0m1.1-0.5h0m1.9 0.4h0m0.5-0.5h0m1.4 0.3h0m0.6-0.3h0m0.5 0.5h0m0.5-0.1h0m2.9-0.2h0m2.8 0.1h0m26.3 0.2h0m0.3 0.1h0m4.7-0.1h0m0.9-0.1h0m1 0h0m-47.6 1.4h0m0.1-0.5h0m0.2-0.2h0m0.5 0.4h0m2.1 0.4h0m36.8-0.9h0m0.9 0.9h0m0.3-0.1h0m0.6 0.2h0m-39.8 0.5h0m1.2 0.5h0m36.6-0.5h0m4.4 0h0m0.3 0.5h0m-44.9 1h0m43.5-1h0m-45.1 1.4h0m42.8 0.2h0m-41.5 0.9h0m40.5 0h0m1 0.2h0m-42.5 0.7h0m3.9 0.1h0m5.8 0.5h0m28.5 0h0m0.1-0.4h0m3.6 0.1h0m1.2-0.1h0m-39.7 1.2h0m1.9-0.7h0m5.7 0.2h0m27.6 0.2h0m0.2 0.1h0m1.3 0.2h0m0.6-0.4h0m1.1 0.3h0m-37.4 1.2h0m0.1 0h0m0-0.5h0m2.5 0.3h0m0.7-0.3h0m1.1-0.1h0m31.1-0.2h0m0 0.5h0m-37.1 0.4h0m0.9 0.2h0m4.7 0.1h0m2 0.5h0m0.4 0.1h0m1.2-0.2h0m0.5-0.2h0m12.8 0.2h0m14.6-0.2h0m1.1-0.2h0m1.6 0.1h0m-35.9 1.3h0m1.7 0.3h0m1.7-0.5h0m0.6 0.2h0m2.3-0.2h0m11.4-0.1h0m7.4-0.3h0m0.7 0.4h0m0.6 0.3h0m1.3 0h0m-28.5 0.8h0m0.6 0h0m0.2 0.2h0m1.1-0.7h0m1.7 0h0m1.2 0.8h0m20.3-0.5h0m2 0.4h0m0.2-0.4h0m0.4-0.1h0m0.1-0.1h0m1.7-0.2h0m0.6 0.6h0m-26.7 0.4h0m7.9 0.7h0m0.5 0.2h0m3 0h0m8.6-0.7h0m-14.7 1.6h0m1.1-0.8h0m2.1 0.6h0m1.5-0.5h0m1.5 0.6h0m9.8-0.1h0m0.9 0.4h0m-14.3 0.5h0m1.4 0h0m11.1-0.1h0m1.7-0.4h0m-14.1 1h0m0.6 0h0m1.4 0.1h0m0.2 0h0" fill="none" stroke="#18c8f0" stroke-width="1.3" stroke-linecap="square"/>
<path d="M132.2 1287.3h0m3.5-0.1h0m2.8-0.1h0m0.9 0h0m1.9 0.3h0m7.3 0h0m-23.5 0.9h0m0.4-0.5h0m6.9 0.5h0m0.9 0h0m5.6-0.7h0m0.4 0.4h0m0-0.3h0m0.8 0h0m1.3 0.8h0m6.7-0.1h0m1.4-0.6h0m0.1 0.2h0m-26.5 1.4h0m0.2-0.9h0m13.4 0.6h0m3-0.5h0m4.2 0.2h0m3.1-0.2h0m0.5 0.7h0m2.2-0.7h0m-24 1.4h0m2.6 0.4h0m1.4 0h0m1.9-0.3h0m1.7-0.6h0m0.2 0h0m3.3 0h0m0.7 0.4h0m0.1-0.4h0m0.2 0h0m1.1 0.3h0m0.5 0.4h0m1.7-0.6h0m0.2 0.5h0m0.9-0.6h0m2.1 1h0m0.3-0.2h0m2.4 0h0m1.4-0.7h0m0.7 0.7h0m0.3-0.3h0m-31.3 0.5h0m0.1 0.7h0m3-0.4h0m1.7 0.4h0m0.3-0.2h0m1.3-0.2h0m0-0.2h0m4.1 0h0m2.1 0.6h0m3.3-0.1h0m0.3-0.5h0m0.2 0.7h0m4.3-0.8h0m1.3 0.8h0m4 0h0m0.7-0.7h0m-26.8 1.4h0m1.6-0.1h0m0.7 0.1h0m0.6 0.3h0m1.6-0.3h0m2.2 0.1h0m1.2-0.3h0m1-0.2h0m2.3 0.9h0m2.7-0.8h0m2.3 0.6h0m0.1-0.6h0m3.9 0.4h0m0.5 0h0m1.3 0.1h0m0.1 0.3h0m2.7-0.8h0m1.4 0.1h0m3.9-0.2h0m0.5 0.7h0m-29.9 0.3h0m1.7 0h0m1.9 0h0m2 0.6h0m1.6-0.3h0m3.5 0.2h0m0.7-0.6h0m0.5 0.3h0m7.7 0h0m3.7 0.1h0m0.9 0.4h0m0.1-0.5h0m3.1-0.2h0m1.9 0.3h0m0.7-0.2h0m-29.8 1.5h0m0.1-0.6h0m0.6 0.1h0m3.4 0.7h0m0.6 0.1h0m0.1-0.3h0m0.2-0.1h0m0.4 0h0m1-0.5h0m0.4-0.1h0m3.3 0.9h0m0.4-0.8h0m0-0.1h0m13.1 0.9h0m0.3-0.4h0m-25.4 1h0m1.1 0.3h0m0.6-0.2h0m0.1 0.2h0m2 0.2h0m0.7-0.1h0m0.4-0.5h0m0.1 0.4h0m0.3-0.2h0m1.2-0.4h0m5.2 0h0m0-0.1h0m0.2 0h0m1.4 0.5h0m0.2-0.6h0m10.2 0.7h0m1-0.2h0m1.2 0.1h0m-34.9 1.1h0m4.5 0h0m1-0.1h0m5-0.6h0m1 0.5h0m0.4-0.3h0m2.2-0.1h0m1.3 0.2h0m7.8 0.1h0m0.3-0.1h0m5.3 0.3h0m0.7 0.2h0m0.7-0.1h0m-33.3 0.9h0m0.4 0h0m0.8-0.6h0m0.5 0.3h0m0.2 0.6h0m1.9-0.6h0m0.4 0.4h0m0.6 0.3h0m1.2-0.3h0m1-0.2h0m5.2 0.3h0m18.2-0.1h0m0.9-0.5h0m1.9 0.3h0m1.5-0.3h0m0.8 0.7h0m-34.9 0.6h0m0.3 0.5h0m1.3-0.2h0m3.3-0.7h0m0.3 0h0m1.4 0.6h0m1.8-0.6h0m2.1 0.9h0m0.4-0.8h0m19.8 0.2h0m1.1 0h0m0.7-0.2h0m0.4 0.7h0m1.3-0.1h0m-37.8 1.1h0m2.3-0.4h0m4.1-0.1h0m1.2-0.1h0m0.3 0.6h0m0 0.1h0m0.3-0.3h0m2.3-0.4h0m2.3-0.1h0m0.2 0.8h0m0.9-0.5h0m0.3 0h0m15.3 0.2h0m1.9 0.1h0m2.3-0.2h0m0.8 0.2h0m1.1 0h0m0.3 0h0m-33.3 0.2h0m0.6 0.7h0m0.3-0.1h0m1.4-0.2h0m0.7 0h0m3.2 0h0m0.7 0.3h0m0.6 0.3h0m3-0.3h0m1.5 0h0m13.2 0.1h0m1.5-0.6h0m1.7 0.6h0m0.2-0.1h0m1.9-0.2h0m3.8 0.4h0m0.9-0.1h0m-37.6 0.7h0m1.1-0.1h0m1.3 0h0m1.6 0.1h0m1-0.1h0m0.9 0.2h0m2.4 0.2h0m0.3-0.3h0m0.3 0.2h0m0.8-0.6h0m0 0.9h0m2.4-0.9h0m0.3 0.3h0m1.6-0.1h0m12.5 0.3h0m0.4 0.4h0m1.5-0.5h0m0.6-0.5h0m2.5 0.7h0m3.1-0.1h0m0.9 0.1h0m2.1-0.5h0m0.1 0.6h0m0.6-0.2h0m-28.6 0.6h0m0-0.1h0m0.5 0.9h0m0.4-0.8h0m16.3 0.2h0m0.9 0h0m0.1 0.5h0m0.5-0.3h0m0.6-0.4h0m3.5 0.2h0m2.8 0h0m1.9-0.3h0m-28.4 1.7h0m17.7-0.4h0m1.1 0.5h0m0.6-0.4h0m6.2 0.4h0m-25.8 0.3h0m0 0.2h0m1.6-0.1h0m17 0.1h0m0.9 0h0m0.8-0.3h0m4 0.2h0m1.2 0.6h0m0.6-0.3h0m-23.2 1.3h0m1.5-0.2h0m4-0.2h0m8.9 0.4h0m5-0.6h0m1.2 0.2h0m0.1-0.4h0m0.6-0.1h0m1.5 0.1h0m-21.6 1.8h0m3.1-0.7h0m4.2 0.1h0m3.8 0.5h0m0.7 0.1h0m1.7-0.8h0m-13 1.7h0m0.4 0h0m1.2 0h0m1.8-0.6h0m0.2 0.6h0m1.2-0.7h0m0.3 0.2h0m0.6 0.6h0m6.9-0.1h0m-10.4 0.2h0m1.6 0.3h0m1.1-0.3h0m6.4 0.4h0" fill="none" stroke="#28c040" stroke-width="1.3" stroke-linecap="square"/>
<path d="M135.1 1290h0m0.2 1.1h0m0.4 0.1h0m0.1 0.2h0m1.1 0.1h0m0.3-1h0m0.1 0.2h0m-1.6 0.8h0m0.4 0.1h0m1.4 0.3h0m0.3-0.1h0m-10.8 1.5h0m10.9-0.5h0m2.7 0.6h0m-14.3 0.2h0m1.1 0.2h0m5.4 0.7h0m0.5-0.9h0m0.6 0.2h0m1.2 0.4h0m3.1 0h0m2.1-0.3h0m-13 1.1h0m1.3 0.3h0m5-0.2h0m0.5 0.4h0m0.9-0.6h0m0.9 0.1h0m1.5-0.3h0m1.7 0.6h0m0.2 0h0m0.2-0.5h0m0.9-0.3h0m-20.2 1.9h0m6.4-0.7h0m5.6 0.7h0m2.9-0.8h0m5 0h0m-20 1h0m1.4 0.8h0m0.9-0.6h0m0.1-0.1h0m-0.8 1.4h0m0.3 0.4h0m0.5-1h0m11 0.1h0m1.4 0.8h0m-14.6 0.8h0m0.2-0.2h0m0.2 0.2h0m0.3-0.4h0m1.8 0.3h0m9.3-0.3h0m1-0.1h0m0.6 0.2h0m-16.1 1.1h0m0.4 0h0m1.1 0.2h0m0.1 0.2h0m0.3-0.4h0m0.9 0h0m2.1 0.1h0m0.2 1h0m-4.7 0.8h0m0.1 0.2h0m4-0.1h0m0.2-0.1h0m0.2-0.3h0m0.7 0.9h0m1.5-0.3h0m0.9 0.2h0m0.8 0h0m0.2 0h0m0 0h0m-12.6 0.8h0m1.3 0h0m1.2 0.1h0m0.7-0.5h0m0.4-0.1h0m1.3 0.1h0m0.3 0h0m0.4-0.2h0m0.4-0.1h0m0.5 0.2h0m1.7 0.8h0m1.8-0.2h0m2.6-0.5h0m-11.8 1.4h0m0.4-0.2h0m1.3 0h0m0.2 0.3h0m0.2-0.2h0m0.2 0h0m0.3-0.2h0m1.3 0.6h0m3.3-0.3h0m1.6 0.1h0m0.1-0.1h0m1.1-0.6h0m0.5 0.3h0m0.4 0.4h0m0.1-0.4h0m0.9-0.2h0m-8 1.1h0m0.4 0h0m2.2 0.1h0m0.2 0h0m1.5-0.3h0m0.1 0.1h0m1.7 0h0" fill="none" stroke="#e0d020" stroke-width="1.3" stroke-linecap="square"/>
<path d="M123.3 1296.1h0m8.3 0.3h0m-6.9 0.2h0m1.9 0.4h0m2.4-0.3h0m0.7 0.8h0m0.5-0.8h0m1.4-0.1h0m-6.2 1.6h0m2-0.6h0m0.4 0.8h0m2.7-0.2h0m1-0.6h0m0.3 0.2h0m-7.5 1.2h0m1.4-0.3h0m2.3 0.3h0m1 0.3h0m0.3-0.6h0m1-0.1h0m-6.9 1.6h0m0.4-0.5h0m1.6 0.3h0m0.6 0h0m0.1 0.3h0m0.5-0.3h0m0.9 0.2h0m-3.8 0.4h0m2.1 0.7h0m2.7-0.5h0m0.3-0.3h0m-2.2 1.5h0m0.6-0.2h0m1.1 0h0m0.4 0h0m0.3-0.3h0" fill="none" stroke="#e8501c" stroke-width="1.3" stroke-linecap="square"/>
<rect x="49.4" y="1126.2" width="235.2" height="235.1" fill="none" stroke="#000" stroke-width="1.5"/>
<line x1="167.9" y1="1126.2" x2="167.9" y2="1361.3" stroke="#000" stroke-width="1.4"/>
<line x1="49.4" y1="1232.6" x2="284.6" y2="1232.6" stroke="#000" stroke-width="1.4"/>
<path d="M51.1 1361.3V1363.8M54.2 1361.3V1363.8M56.8 1361.3V1363.8M59.2 1361.3V1363.8M61.3 1361.3V1366.3M75 1361.3V1363.8M83 1361.3V1363.8M88.7 1361.3V1363.8M93.1 1361.3V1363.8M96.7 1361.3V1363.8M99.8 1361.3V1363.8M102.4 1361.3V1363.8M104.7 1361.3V1363.8M106.8 1361.3V1366.3M120.6 1361.3V1363.8M128.6 1361.3V1363.8M134.3 1361.3V1363.8M138.7 1361.3V1363.8M142.3 1361.3V1363.8M145.4 1361.3V1363.8M148 1361.3V1363.8M150.3 1361.3V1363.8M152.4 1361.3V1366.3M166.1 1361.3V1363.8M174.2 1361.3V1363.8M179.9 1361.3V1363.8M184.3 1361.3V1363.8M187.9 1361.3V1363.8M190.9 1361.3V1363.8M193.6 1361.3V1363.8M195.9 1361.3V1363.8M198 1361.3V1366.3M211.7 1361.3V1363.8M219.7 1361.3V1363.8M225.4 1361.3V1363.8M229.9 1361.3V1363.8M233.5 1361.3V1363.8M236.5 1361.3V1363.8M239.2 1361.3V1363.8M241.5 1361.3V1363.8M243.6 1361.3V1366.3M257.3 1361.3V1363.8M265.3 1361.3V1363.8M271 1361.3V1363.8M275.4 1361.3V1363.8M279 1361.3V1363.8M282.1 1361.3V1363.8M49.4 1361.3V1366.3M284.6 1361.3V1366.3M46.9 1357.6H49.4M46.9 1351.1H49.4M46.9 1346.5H49.4M46.9 1343H49.4M46.9 1340.1H49.4M46.9 1337.6H49.4M46.9 1335.5H49.4M46.9 1333.6H49.4M44.4 1331.9H49.4M46.9 1320.9H49.4M46.9 1314.4H49.4M46.9 1309.8H49.4M46.9 1306.2H49.4M46.9 1303.3H49.4M46.9 1300.9H49.4M46.9 1298.7H49.4M46.9 1296.9H49.4M44.4 1295.2H49.4M46.9 1284.1H49.4M46.9 1277.7H49.4M46.9 1273.1H49.4M46.9 1269.5H49.4M46.9 1266.6H49.4M46.9 1264.1H49.4M46.9 1262H49.4M46.9 1260.1H49.4M44.4 1258.4H49.4M46.9 1247.4H49.4M46.9 1240.9H49.4M46.9 1236.3H49.4M46.9 1232.8H49.4M46.9 1229.9H49.4M46.9 1227.4H49.4M46.9 1225.3H49.4M46.9 1223.4H49.4M44.4 1221.7H49.4M46.9 1210.7H49.4M46.9 1204.2H49.4M46.9 1199.6H49.4M46.9 1196H49.4M46.9 1193.1H49.4M46.9 1190.7H49.4M46.9 1188.5H49.4M46.9 1186.7H49.4M44.4 1185H49.4M46.9 1173.9H49.4M46.9 1167.4H49.4M46.9 1162.9H49.4M46.9 1159.3H49.4M46.9 1156.4H49.4M46.9 1153.9H49.4M46.9 1151.8H49.4M46.9 1149.9H49.4M44.4 1148.2H49.4M46.9 1137.2H49.4M46.9 1130.7H49.4M44.4 1126.2H49.4M44.4 1361.3H49.4" fill="none" stroke="#000" stroke-width="1.1"/>
<text x="39" y="1381.8" class="An" font-size="10.8">10</text>
<text x="52.1" y="1377.3" class="An" font-size="8.4">3.8</text>
<text x="99" y="1381.8" class="An" font-size="10.8">10</text>
<text x="112" y="1377.3" class="An" font-size="8.4">5</text>
<text x="144.6" y="1381.8" class="An" font-size="10.8">10</text>
<text x="157.6" y="1377.3" class="An" font-size="8.4">6</text>
<text x="190.1" y="1381.8" class="An" font-size="10.8">10</text>
<text x="203.2" y="1377.3" class="An" font-size="8.4">7</text>
<text x="235.7" y="1381.8" class="An" font-size="10.8">10</text>
<text x="248.7" y="1377.3" class="An" font-size="8.4">8</text>
<text x="274.2" y="1381.8" class="An" font-size="10.8">10</text>
<text x="287.3" y="1377.3" class="An" font-size="8.4">8.9</text>
<g transform="rotate(-90 37.4 1304.03)">
<text x="37.4" y="1304" class="An" font-size="10.8">10</text>
<text x="50.4" y="1299.5" class="An" font-size="8.4">3</text>
</g>
<g transform="rotate(-90 37.4 1267.29)">
<text x="37.4" y="1267.3" class="An" font-size="10.8">10</text>
<text x="50.4" y="1262.8" class="An" font-size="8.4">4</text>
</g>
<g transform="rotate(-90 37.4 1230.56)">
<text x="37.4" y="1230.6" class="An" font-size="10.8">10</text>
<text x="50.4" y="1226" class="An" font-size="8.4">5</text>
</g>
<g transform="rotate(-90 37.4 1193.82)">
<text x="37.4" y="1193.8" class="An" font-size="10.8">10</text>
<text x="50.4" y="1189.3" class="An" font-size="8.4">6</text>
</g>
<g transform="rotate(-90 37.4 1371.66)">
<text x="37.4" y="1371.7" class="An" font-size="10.8">10</text>
<text x="50.4" y="1367.1" class="An" font-size="8.4">1.2</text>
</g>
<g transform="rotate(-90 37.4 1140.56)">
<text x="37.4" y="1140.6" class="An" font-size="10.8">10</text>
<text x="50.4" y="1136" class="An" font-size="8.4">7.6</text>
</g>
<text x="167" y="1398.3" class="An" font-size="10.8" text-anchor="middle">FITC-A</text>
<text x="20.4" y="1243.8" class="An" font-size="10.8" text-anchor="middle" transform="rotate(-90 20.4 1243.8)">PE-A</text>
<text x="54.4" y="1139.2" class="An" font-size="10.3">Q3-1</text>
<text x="54.4" y="1151.4" class="An" font-size="10.3">0.43%</text>
<text x="240.6" y="1139.2" class="An" font-size="10.3">Q3-2</text>
<text x="240.6" y="1151.4" class="An" font-size="10.3">4.18%</text>
<text x="54.4" y="1342.3" class="An" font-size="10.3">Q3-3</text>
<text x="54.4" y="1354.3" class="An" font-size="10.3">93.43%</text>
<text x="247.6" y="1342.3" class="An" font-size="10.3">Q3-4</text>
<text x="247.6" y="1354.3" class="An" font-size="10.3">1.96%</text>
<text x="177" y="1119.7" class="An" font-size="10.8" text-anchor="middle"><tspan>1 / </tspan><tspan fill="#e01010">P1</tspan><tspan> / </tspan><tspan fill="#18a018">P2</tspan></text>
<text x="146.97" y="1099.68" class="Sb" font-size="32.74" textLength="47.85" lengthAdjust="spacingAndGlyphs">NC</text>
<path d="M529.4 1178.9h0m-8.5 1.9h0m0.3 1.5h0m9.6 3h0m0 0.4h0m7.7 1.7h0m-8.8 0.9h0m-8.6 0.2h0m0.9 0.5h0m8.2 0.2h0m-12.4 1.1h0m14.2 0.4h0m-12.2 1.2h0m12.4 0.3h0m-18.5 0.4h0m6.4 0h0m5.1 0.6h0m0.4-0.6h0m4.3 0.3h0m-9.8 1.2h0m2.4-0.6h0m5.3 0.3h0m2 0.1h0m4.1-0.3h0m-13.5 1.6h0m-6.9 1.1h0m7.3 0.1h0m1.3 0h0m-15.4 0.5h0m12-0.1h0m2.8 0.1h0m2 0h0m1.6 0.9h0m1.4 0.7h0m3-0.1h0m-9.2 0.5h0m-8.2 1.5h0m11.8 0.2h0m-19.2 1.3h0m23.5 0.4h0m-22.5 1h0m2.4-0.4h0m6.7 0.1h0m1 0.1h0m6.4 0.3h0m-7 0.7h0m8-0.1h0m-15.4 1.2h0m15.1 0.2h0m-9.5 0.7h0m11.2 0h0m-15 1.9h0m2.1 0h0m-9.9 1.5h0m4.2-0.5h0m3.2-0.1h0m-5.3 0.9h0m11 0.6h0m-6.3 0.4h0m0.1 0.3h0m0.2-0.1h0m0.9 0h0m-4.1 0.6h0m9.6 0h0m1.8 0.3h0m-45 1.5h0m25.3-0.3h0m6.5 0.3h0m16.5 0h0m-71.8 0.5h0m17.2-0.1h0m5.6 0.1h0m16.1 0.5h0m15.6-0.8h0m6.9 0.4h0m1.6 0.4h0m3-0.8h0m2.4 0.6h0m-40.1 1.1h0m39.2 0.1h0m-68.2 0.9h0m1.5-0.4h0m23.9-0.2h0m35 0.6h0m-40.2 1h0m1.3-0.7h0m13.2 0.8h0m9.3-0.2h0m9.3-0.3h0m1.6-0.1h0m4.6 0.1h0m6.6 0.6h0m0.8-0.3h0m-50.4 1.2h0m2.6-0.5h0m0.9 0.5h0m8.4 0h0m15.9-0.3h0m1.5 0.1h0m3.6 0.2h0m2.5-0.2h0m2.6 0.2h0m8.1-0.8h0m-5.1 1.8h0m3.5-0.5h0m6.2-0.3h0m-37.3 1.1h0m19.7 0.5h0m-30.3 0.9h0m23.4-0.6h0m1 0.4h0m5.3 0.6h0m6.4-0.9h0m1.4 0.8h0m10.3-0.7h0m7.8-0.1h0m-56.5 1.6h0m11-0.5h0m10.6 0.8h0m9.9 0h0m3.2-0.5h0m7.7-0.5h0m-53.4 1h0m30.6 0.5h0m6.3 0.4h0m4.7-0.3h0m10 0.1h0m-35.4 1.3h0m3.3-0.8h0m18.4 0.2h0m5.5-0.3h0m1.6 0.6h0m9.6 0h0m-20.1 1.1h0m3.3-0.3h0m3.7-0.1h0m7.4 0h0m0.3 0.5h0m1.7-0.2h0m-25.4 0.9h0m7.7 0.1h0m9.5 0h0m-34.3 0.6h0m23.7 0h0m9.7 0.4h0m1.9 0.1h0m13.2 0h0m-18.5 1h0m2.5 0.1h0m-17.9 0.4h0m12.6 0.6h0m4.5 0.1h0m5-0.4h0m-54.3 1.2h0m40.7-0.1h0m2.3-0.7h0m3 0.9h0m-4 0.1h0m5.4 0.8h0m-7.6 1.1h0m6.8-0.2h0m0.4-0.6h0m-11.2 1.2h0m6.4 0.7h0m1.6 1h0m1.5 0.1h0m-16.4 1.3h0m5.8-0.4h0m1.5 0.3h0m18.2-0.2h0m-8.9 2h0m-10 1.7h0m-24.1 0.7h0m4.1 0h0m12.7-0.1h0m14.5 0h0m5.4 0.1h0m0 1.4h0m-10.3 1.9h0m1.6-0.7h0m-9.4 1.3h0m9.6-0.2h0m3.3 0.6h0m-13.9 1.2h0m0.4-0.3h0m3.4 0.1h0m2.9 2.1h0m4.2-0.3h0m-24.2 1.4h0m10.9-0.2h0m0.9 0.2h0m2-0.3h0m5.4-0.4h0m7.7 1.1h0m0.2 0.1h0m-11.1 2.5h0m-56.3 0.8h0m59.4-0.2h0m0.4-0.4h0m8.2 0.8h0m-26.8 0.1h0m13.2 0h0m2.8 0.8h0m2 0h0m12.4-0.7h0m-36.3 1.7h0m6.1-0.9h0m21.2 0.5h0m-17.7 1.3h0m5.2 0.1h0m11.1-0.3h0m-32.9 0.8h0m3.1-0.3h0m20.9 0.8h0m-5 0.6h0m9.2 0.8h0m-18.3 0.9h0m5.8 0.7h0m-14.9 0.7h0m13.1 0h0m8.4-0.3h0m2.6 0.7h0m-11.5 0.4h0m8-0.4h0m5.3 0.3h0m-25.5 1.1h0m12.1 0.6h0m-34.3 0.6h0m40.7-0.6h0m3.9 0.6h0m-37.8 0.6h0m14.9 0.1h0m13.1 0.2h0m2.2-0.5h0m0.2 0h0m2.1 0.3h0m5.7 0.3h0m-5.7 0.7h0m1.9 0.6h0m-21.5 0.1h0m12.1 0.4h0m2.1 0.3h0m1.8-0.7h0m-55.7 2h0m26.5-0.8h0m8.3 0.7h0m13.4-0.8h0m10.3 0.5h0m-46.3 0.7h0m2.6 0.1h0m37.7 0.4h0m7.4-0.3h0m-21.6 0.7h0m-25.3 1h0m12.9 0.3h0m6.3 0.4h0m46.3-0.7h0m-73.2 1.3h0m34.7 0.5h0m5.8-0.4h0m4.6-0.2h0m-32 1.1h0m20-0.5h0m4.7 0.6h0m11-0.3h0m-59.5 1.1h0m29.5 0.2h0m6.5 0.3h0m1.2-0.5h0m3.8 0h0m1.6 0.5h0m2.7-0.7h0m1 0.7h0m-34.3 0.7h0m3.6-0.6h0m4.5 0.7h0m8.1-0.1h0m6.2-0.4h0m10.1 0.3h0m3.1-0.4h0m7.6 0.5h0m11.9-0.6h0m14.2 0.2h0m-74.9 1.3h0m19.6 0.3h0m17.8-0.1h0m10.6-0.5h0m1.2 0.3h0m11.2-0.3h0m5.7 0.2h0m-62.8 1h0m9.1-0.3h0m0.9 0.8h0m11-0.3h0m5.4-0.2h0m8 0.3h0m6.4 0.2h0m-46.1 1h0m2.6-0.5h0m14.7 0.4h0m2.3-0.1h0m1-0.1h0m4.4-0.2h0m2.2 0.2h0m3.6-0.2h0m1.9 0.1h0m3.1 0.2h0m1.9-0.1h0m5.4 0.2h0m29.2 0h0m-74.7 0.8h0m8.1-0.2h0m19.5 0.1h0m9 0.1h0m0.7-0.2h0m3.1 0.1h0m5.3-0.4h0m8.9 0.6h0m14.4-0.2h0m-72.5 1.4h0m5-0.4h0m18.1-0.5h0m1.3 0.3h0m0.4 0.4h0m4.8-0.7h0m12.1 0.4h0m1.3 0.3h0m19.2 0h0m2.3-0.5h0m10.2 0.3h0m11.8-0.4h0m-91.2 1.1h0m3.5 0.1h0m3.1 0.3h0m5-0.1h0m1.3-0.4h0m7.2 0.6h0m2.9 0h0m1.5-0.4h0m3.3 0.4h0m1.2 0.2h0m2.4-0.5h0m6.1-0.1h0m1.8 0.6h0m2.2-0.4h0m1.4 0.3h0m2.2-0.4h0m0.8 0.2h0m9.1-0.3h0m3.8-0.3h0m2.9 0.3h0m12.2 0.1h0m6.7 0h0m-73.2 1.1h0m10.2 0.3h0m2.5-0.1h0m1 0.3h0m2.9-0.8h0m3.1 0.1h0m1.9-0.2h0m6.3 0.7h0m0.1-0.4h0m6.7 0.5h0m2.1-0.3h0m3.9-0.3h0m4.4 0.3h0m3.7 0h0m21.4-0.6h0m7.6 0.5h0m-81.4 0.9h0m13.2 0.2h0m1.3 0.4h0m1.9-0.5h0m0.7-0.2h0m1 0.1h0m7.5 0.4h0m1.3-0.5h0m10.9-0.1h0m1.7 0.3h0m0.7 0.2h0m5-0.3h0m0.4-0.2h0m7.7 0.6h0m6.7-0.4h0m-55.1 0.9h0m0.4-0.1h0m0-0.2h0m7.3 0.3h0m5.8 0.1h0m6.1 0.4h0m1.2-0.7h0m0 0.5h0m4.6-0.1h0m0.8 0.1h0m0.9-0.3h0m6.1-0.1h0m2.9 0.3h0m3.5 0h0m4 0.3h0m3.5-0.3h0m6.6-0.2h0m4.5-0.2h0m2.7 0.9h0m3-0.7h0m-71.9 1.5h0m5.7-0.2h0m5 0.1h0m0.8-0.7h0m1.2 0.9h0m0.7-0.4h0m0.2-0.3h0m3.6 0.4h0m5.7-0.5h0m3.4 0.4h0m2.9-0.2h0m1.2 0.1h0m2.3-0.2h0m0.7 0.4h0m2.7 0.4h0m1.3-0.3h0m4.5-0.1h0m14.4-0.1h0m4.4-0.1h0m9.6-0.2h0m-78.8 1.6h0m11.9-0.6h0m3.2 0.3h0m1.6 0.3h0m4.6-0.1h0m0.5 0.2h0m1.8-0.6h0m1.9 0.1h0m2.3-0.3h0m0.4 0.2h0m0.7 0h0m7.3-0.2h0m0.2 0.6h0m1.4 0h0m0.3 0.1h0m0.6-0.1h0m0.1 0.2h0m6.7 0h0m1.4-0.6h0m0.2 0.2h0m0.8 0.3h0m1.6-0.3h0m1.8-0.4h0m1.9 0.3h0m1.1 0.6h0m5.3-0.7h0m6.7-0.3h0m2.1 0.6h0m0.5 0.4h0m6.1-0.1h0m7.8-0.5h0m1.9 0h0m26.5-0.4h0m-108.8 1.2h0m2.8 0.3h0m5.7-0.1h0m1.1-0.4h0m10.9 0.6h0m2.8 0.3h0m4.4-0.3h0m2.1-0.5h0m1.6 0.6h0m0.1 0.2h0m0.9-0.7h0m2.7 0.4h0m0.5-0.2h0m3.3 0.3h0m4.6-0.3h0m2.4-0.3h0m6.9 0h0m9.2 0.4h0m-62.4 1.4h0m1-0.1h0m22.3-0.2h0m1.1-0.4h0m1.1-0.2h0m3.5 0.1h0m0.4 0h0m3.5-0.1h0m7.1 0.8h0m0.9 0.2h0m3.8-0.2h0m2-0.3h0m3.1 0.4h0m3-0.4h0m5.8-0.4h0m6.1-0.1h0m-62 1.8h0m2-0.6h0m4.1-0.2h0m3 0.2h0m11.6-0.1h0m0.9 0.6h0m0.2-0.2h0m0.8 0h0m10.5 0.2h0m1.1-0.1h0m0.9 0.2h0m1.4-0.2h0m12.1 0.3h0m0.1-0.7h0m7-0.1h0m1 0.5h0m9-0.6h0m12.9 0.9h0m-90.9 0.2h0m7.4 0.3h0m3.5 0.3h0m1.3-0.5h0m2.8-0.1h0m1 0.9h0m5.9-0.7h0m0.8 0.4h0m0.9-0.6h0m1.2 0.7h0m0.5-0.3h0m7 0.4h0m1.7-0.8h0m11.3-0.1h0m1.5 0.2h0m0.3 0.3h0m0.5-0.3h0m3.1 0.2h0m4.6-0.3h0m1.3 0.5h0m13.9 0.2h0m1.3-0.2h0m9.1 0.4h0m0.9-0.3h0m6.3-0.7h0m-91.4 1.8h0m14.3-0.4h0m1.5 0.6h0m2.1-0.9h0m2.4 0.1h0m33.5-0.1h0m1.8 0.4h0m4.6 0.4h0m0.5-0.1h0m6.8-0.3h0m4.7-0.1h0m0 0h0m1.1-0.2h0m2.3-0.1h0m12.1 0.2h0m18.1 0.5h0m-100.7 0.3h0m13.9 0.8h0m4.7-0.9h0m0.8 1h0m1.3-0.7h0m2.2 0h0m1.2 0.6h0m1.2-0.5h0m2.6 0.5h0m0.2-0.9h0m0.2 0.9h0m26.1 0h0m10.6-0.3h0m0.8-0.2h0m8.4-0.4h0m3.8 0.4h0m15.2 0.2h0m-110.6 0.8h0m14.6-0.2h0m6.8-0.1h0m11.7 0.4h0m5-0.2h0m2-0.2h0m0.4 0.2h0m0.7-0.2h0m2.9 0.1h0m2.7 0.6h0m0.6-0.2h0m19.7-0.2h0m2.2 0.1h0m2.7 0.3h0m3.2-0.7h0m2.3 0.4h0m0.8 0.3h0m3.4-0.3h0m1.6-0.2h0m0.5 0.4h0m8.8-0.5h0m-81.2 1.8h0m5.4-0.3h0m8.5 0.3h0m22.2-0.9h0m0.1 0.2h0m22.5 0.1h0m1-0.2h0m0.5 0.2h0m0.7 0h0m6-0.4h0m1.1 0.4h0m1.4 0.6h0m4.3-0.6h0m15.8 0.6h0m2.3-0.4h0m-80.6 1h0m0.9-0.5h0m0.8 0.5h0m8.7 0.1h0m1.3-0.6h0m2.4 0.8h0m2.2-0.1h0m0.4-0.4h0m1 0.1h0m1.3-0.1h0m31.7-0.1h0m3.5 0.2h0m1.7-0.5h0m1 0.4h0m0.6-0.3h0m5.7 0.5h0m0.3 0.3h0m3.2-0.9h0m2.4 0.5h0m-81.3 0.7h0m14 0.6h0m1.9-0.4h0m0.2 0.6h0m2.2-0.9h0m3 0.8h0m0.3-0.8h0m3.8 0.8h0m4.9-0.7h0m29.2 0h0m1 0.4h0m1-0.3h0m2.1 0.3h0m3.6 0.3h0m1.9-0.2h0m0.7-0.1h0m0.2 0.1h0m0.5 0h0m5-0.6h0m0.6 0.1h0m0.2 0.8h0m1.2-0.7h0m0.5 0.6h0m1.4-0.5h0m2.6 0.4h0m0.9-0.5h0m17.2 0.1h0m-104.7 1.2h0m15.2-0.5h0m1.7 0.2h0m0.7-0.2h0m2.9 0.1h0m5.2 0.4h0m1-0.4h0m2.2 0.1h0m0.7 0h0m6.1-0.1h0m28.1 0.3h0m2.2 0.5h0m10.6-0.4h0m13.5 0h0m0.3 0h0m12.7 0.2h0m-93.8 0.5h0m7.5 0.2h0m4.5 0.4h0m0-0.7h0m0.5 0.4h0m3.3 0h0m42.2-0.5h0m7.7 0h0m2.1-0.1h0m14.1 0.7h0m-95.5 0.7h0m29.5-0.3h0m0.8 0.4h0m38.6-0.4h0m0.7 0.1h0m0.7 0.2h0m0.3-0.4h0m0.9 0.1h0m0.8 0.5h0m5.3-0.6h0m3.7 0.2h0m0.5 0.5h0m3.3 0.2h0m4.7-0.5h0m16.2 0.4h0m-89.6 0.4h0m0.1 0h0m2.8 0.8h0m5.8-0.8h0m0.6 0.4h0m3.4-0.3h0m41.5-0.2h0m0.5-0.1h0m0.3 1h0m3.3-1h0m0.1 1h0m2.8-0.1h0m1.7-0.2h0m0-0.5h0m1 0.2h0m21.5 0.6h0m-114.9 0.6h0m24.2 0.1h0m0.1-0.2h0m5 0h0m1.6-0.1h0m0.8-0.3h0m1-0.1h0m0.2 0.3h0m0.7-0.1h0m0.8 0.3h0m1.8-0.3h0m1.2-0.1h0m1.4 0.4h0m0-0.1h0m0.5 0.5h0m47 0h0m3.3-0.5h0m-68 1.4h0m1.1-0.1h0m2.9-0.7h0m6.1 0.8h0m7.5-0.4h0m44.5 0h0m0.9 0.1h0m4.2 0.3h0m1.3 0h0m0.9-0.3h0m4.6 0.4h0m2.6-0.4h0m8.1-0.5h0m-75.2 1.3h0m3.5 0h0m1.9 0.2h0m1.9 0.2h0m0.3 0h0m1.3 0.2h0m43.4-0.5h0m2 0.3h0m0.2 0.1h0m5.6-0.2h0m19-0.2h0m-106.2 0.6h0m14.6 0.1h0m7.5-0.1h0m3.9 0.3h0m1.7-0.1h0m3.6 0h0m2.7 0.6h0m3.2-0.7h0m0.1 0.8h0m42.8-0.6h0m0.1 0.4h0m2.5-0.2h0m1.1-0.2h0m2.5-0.1h0m0.9 0h0m0 0.1h0m1.2 0.2h0m8.4 0.3h0m-76.6 0.5h0m3.3 0.3h0m1.5-0.4h0m5.7 0.7h0m0.6-0.6h0m2.8-0.2h0m1.2 0.1h0m44.4 0.4h0m1-0.3h0m0.2-0.2h0m0.1 0.6h0m3.3 0.2h0m2.5-0.7h0m3.4 0.5h0m7 0.3h0m-79.6 0.9h0m10.3-0.8h0m0.3 0.6h0m1.1 0.1h0m0.9 0.1h0m1.5-0.3h0m0.5-0.1h0m0.7 0.3h0m1.3-0.7h0m4.2 0.9h0m39.7-0.1h0m4.1 0h0m1.7-0.7h0m0.8-0.1h0m1.7 0h0m1.4 0h0m1.5 0.3h0m3.5-0.2h0m0.5 0.1h0m1.5 0.5h0m3.7-0.5h0m-77.2 0.8h0m5.2 0.1h0m3-0.1h0m1 0.7h0m0.9 0.2h0m2.2-0.8h0m5.5-0.1h0m1.1 0.8h0m41.3 0h0m1.4-0.5h0m2.4 0.3h0m0.3 0h0m1.1 0.1h0m2.5 0h0m10.7 0h0m-83.6 1h0m10-0.5h0m1.1 0h0m4.3 0.1h0m5.9-0.2h0m39.8 0h0m2.9 0.7h0m0.2-0.7h0m1.2 0.5h0m4.5-0.7h0m1.7 0.5h0m2.9-0.1h0m8.5 0h0m0.4-0.3h0m-75.5 1.3h0m0.2 0.1h0m5.3-0.2h0m4.6 0.6h0m1.7-0.6h0m1.4 0.3h0m42.3 0h0m3.4-0.1h0m0.3-0.3h0m8.1 0.3h0m-58.9 1.3h0m0.5-0.6h0m5.8 0.8h0m35.4-0.1h0m0.6-0.3h0m2.8-0.4h0m0.4-0.1h0m2.1 0.4h0m1.7 0.3h0m2.3-0.7h0m4.6 0.9h0m3.4-0.6h0m2.9 0.2h0m1.4-0.4h0m3.5 0.6h0m6.9-0.5h0m-88.1 1.1h0m1.5 0h0m3.2 0.2h0m6.9 0h0m7.8-0.4h0m35.3 0.6h0m4-0.3h0m4.1-0.5h0m0.3 0.5h0m2.1 0.1h0m2.7-0.5h0m5.7 0.5h0m-76 0.9h0m3.7-0.4h0m1.4 0.2h0m8.8-0.2h0m2.9 0.1h0m4.1 0.1h0m1.9 0.6h0m1.1-0.1h0m0.6-0.1h0m0.3 0h0m42.7 0.3h0m0.9-0.9h0m-58.8 1.1h0m2.3 0.5h0m4.1-0.1h0m3.2-0.4h0m0.1 0.1h0m0.2 0.3h0m7.4 0.2h0m31.8-0.6h0m0.8 0h0m0.1 0.5h0m0.2 0h0m1.3-0.3h0m3.2 0.1h0m1.6 0.3h0m1.2-0.6h0m2.8-0.1h0m4.9 0h0m10.7 0.1h0m-91.6 1.5h0m2.4-0.6h0m12.4 0.4h0m0.3-0.1h0m2.2 0.1h0m4.5 0.4h0m0.4-0.6h0m3.2 0.7h0m1.1-0.9h0m1.7 0.4h0m2.7-0.2h0m55.2-0.3h0m-83.5 1.5h0m12.5 0.3h0m4.3-0.5h0m1.5 0.1h0m3.2 0.3h0m0.7 0h0m4.1-0.3h0m0.4 0h0m1.4 0.1h0m32.7 0.3h0m3.3 0.1h0m1.3 0h0m3.7-0.1h0m7.7-0.7h0m1.1 0.3h0m14.7 0.4h0m-85 1.1h0m6-0.4h0m7.8 0h0m3 0.1h0m2.1-0.1h0m0.2-0.1h0m0.4 0.2h0m2 0.1h0m1.1-0.6h0m0.2 0.6h0m32.4-0.5h0m6.9 0.8h0m9.7-0.6h0m-88.7 0.8h0m7.9 0.3h0m11.1-0.2h0m2.4-0.1h0m4.4 0.4h0m1.3-0.4h0m0.9 0h0m1.1-0.2h0m4 0.9h0m1-0.4h0m0.9-0.4h0m0.2 0.6h0m1.7-0.5h0m0.6 0.1h0m31-0.2h0m2.5 0.2h0m-61.5 0.9h0m3.4 0.3h0m8.8 0h0m0.2-0.1h0m3.2 0.3h0m2.8-0.3h0m2.7-0.1h0m5.1 0.1h0m0.9-0.3h0m2.6 0.7h0m0.4-0.5h0m3 0.5h0m2 0h0m12.8 0h0m4.5-0.1h0m0.5 0h0m9.2-0.5h0m1.3 0.3h0m7.6 0.2h0m1.4 0.3h0m5.2-1h0m-74.2 1.6h0m10.6-0.4h0m0.4 0.7h0m2.2-0.4h0m2 0.4h0m0.5-0.4h0m1.9 0.2h0m2.5-0.4h0m3.1 0.1h0m3.2 0h0m0.7 0.6h0m0.4-0.5h0m0.3-0.3h0m3.5 0.7h0m2.6 0h0m6-0.5h0m1.3-0.4h0m0.6 0.3h0m0.4 0.6h0m0.1-0.5h0m0.5 0.1h0m0.2 0.1h0m6-0.4h0m1.6 0.7h0m3.2 0h0m8.9 0h0m2.5-0.2h0m11.2 0.2h0m-90.9 0.2h0m2.7 0.9h0m12.9-0.4h0m13.2 0.2h0m1.5-0.6h0m0.6 0.1h0m1.3 0.6h0m0.8-0.4h0m7.6 0.5h0m1.3 0h0m1.3-0.4h0m0.7 0h0m0.1-0.5h0m1.8 0.3h0m2.1 0.2h0m1.5 0.3h0m0.6-0.2h0m3.5 0.2h0m5.8 0.1h0m0.5-0.5h0m5-0.1h0m1.3-0.1h0m2.1 0.4h0m10.7-0.1h0m4.5 0.3h0m8.6-0.2h0m0.3-0.1h0m-70.2 0.9h0m4.6 0.5h0m3.3-0.9h0m6.9 0.6h0m1.7-0.2h0m0.1-0.4h0m0.1 0h0m0.1 0.5h0m8.2-0.1h0m1.3 0.1h0m5.1-0.4h0m0.6 0.8h0m2.4-0.1h0m0.9-0.2h0m0.9-0.1h0m1.2 0.3h0m1.1-0.3h0m0.3-0.2h0m0.4 0.5h0m2.2-0.8h0m0.4 0.3h0m5.5 0h0m0.3 0.4h0m11.4-0.5h0m5-0.3h0m26.3 0.4h0m-113 0.9h0m16.1 0.2h0m7.8-0.1h0m0.9-0.1h0m0.3-0.3h0m4.4 0h0m4.1 0.7h0m0.6-0.6h0m0.6 0.3h0m2.7-0.2h0m0.4 0h0m3 0h0m0.8 0.2h0m2.8 0.6h0m1.3-1h0m4.8 0.1h0m0.2 0.1h0m0.8 0.1h0m1.9 0.6h0m1.4-0.3h0m1.6 0h0m6.2-0.2h0m2.7 0.1h0m1.5-0.2h0m0.1 0.1h0m1.2-0.1h0m2.6-0.2h0m9.2 0.5h0m0.5-0.4h0m-60.3 1.7h0m0.9-0.4h0m6.2 0.2h0m4.6 0.1h0m12-0.6h0m2 0.8h0m1.5-0.7h0m0.7 0.5h0m2.5-0.2h0m7.1 0.1h0m1.1-0.1h0m0-0.2h0m6 0.5h0m5.3-0.5h0m4.6-0.3h0m-58.3 0.9h0m3.4 0.6h0m6.7 0.4h0m11.9-0.3h0m0.7-0.3h0m1.6 0.2h0m0.9 0.3h0m2.7-0.3h0m4.3 0.2h0m0.5-0.6h0m3.2 0.7h0m0.5 0.1h0m7.2-0.8h0m2.2 0.2h0m1.5-0.1h0m0-0.1h0m3.4 0.2h0m0.6-0.1h0m13.5 0.4h0m-59.8 0.6h0m2.5 0.5h0m8.7-0.8h0m7.8 0.5h0m0.2-0.3h0m1.3 0.6h0m0.7-0.1h0m0.2-0.1h0m3.2-0.1h0m6.5-0.1h0m5-0.1h0m2.7 0.4h0m6.5 0h0m7.6-0.5h0m1.4 0.6h0m5.8-0.2h0m-73.6 1.3h0m18.1-0.2h0m13.1-0.6h0m0.3 0.4h0m2.9-0.2h0m2.2-0.3h0m1.4 0.4h0m5.3-0.4h0m7.2 0.9h0m1.6-0.3h0m13.6 0.3h0m1-0.2h0m1.3-0.6h0m-61.8 1.7h0m9.7-0.2h0m12.1-0.5h0m2.6-0.1h0m0.7 1h0m2.5-0.3h0m0.9-0.7h0m1.8 0.5h0m0.6-0.4h0m0.7 0.4h0m1.9-0.4h0m0.3 0.8h0m6.3-0.5h0m6.5-0.2h0m12.3 0.5h0m8.1 0.2h0m-53 0.8h0m10.4-0.5h0m0.9 0.2h0m7.7 0.6h0m0.1-0.3h0m6.5-0.3h0m12.5-0.3h0m4.2 0.6h0m0.4-0.6h0m3 0.5h0m4.4 0.2h0m-62.1 0.3h0m22.8 0h0m1.1 0.7h0m1.4-0.7h0m1.4 0.8h0m4.8-0.5h0m2.2-0.2h0m18.7 0.2h0m15.5 0.3h0m-69.8 0.9h0m9.2-0.3h0m2.9 0.5h0m0.3-0.5h0m11.9-0.1h0m1.5 0.4h0m4.2 0.2h0m4-0.7h0m2.1 0h0m0.6 0.4h0m0.8-0.3h0m3.5 0.5h0m1.5-0.7h0m1.2 0.3h0m0.3-0.1h0m5.9 0.5h0m3.7-0.2h0m14.5-0.2h0m13.6 0.4h0m-72.2 0.5h0m3.4 0.7h0m7.3-0.7h0m3.7 0h0m0.9 0.3h0m1-0.4h0m4.9 0.4h0m7.2 0.1h0m7.2 0.4h0m2.1-0.4h0m0.2 0.3h0m0.5-0.3h0m0.7 0.2h0m-23.9 0.6h0m7.2 0.2h0m1.8-0.5h0m0.6 0.9h0m1.1-0.1h0m1.7 0h0m6.2-0.7h0m2.4 0.7h0m3.7 0h0m3.6-0.2h0m0.6-0.3h0m11.2 0.3h0m-49.9 1.3h0m5.8 0h0m6.2-0.9h0m4.7 0.4h0m1.1 0.2h0m1.5-0.5h0m12.4 0.3h0m21.7 0.2h0m-54.3 0.3h0m14.8 0.9h0m5.6-0.5h0m6.1 0.1h0m3.8 0.4h0m1.8-0.5h0m2.1-0.1h0m0.2 0.5h0m-47.9 1.1h0m12.7-0.6h0m2 0.3h0m7.6-0.3h0m6.4-0.3h0m3 0.4h0m2.1-0.4h0m8.6 0.8h0m0.7-0.6h0m28.8-0.1h0m0.5 0.9h0m-58.1 0h0m8.7 0.6h0m1.6 0.3h0m7.2 0h0m2.7-0.5h0m4.5 0.3h0m0.2-0.1h0m1-0.5h0m1.1 0.6h0m6.1-0.3h0m1.4 0.2h0m3.7-0.4h0m13.8 0.4h0m4.3-0.5h0m-56 1.9h0m8.4-0.1h0m16.8-0.3h0m14.1-0.3h0m-32.4 1h0m8.6 0h0m5.8 0.7h0m14.3-0.7h0m10 0.4h0m-49.1 0.8h0m14.8-0.3h0m21.2 0.1h0m18.4-0.2h0m-35.4 1.6h0m3.8-0.6h0m-33.9 1.2h0m20.3 0h0m9.8 0.1h0m3.9-0.1h0m7.8-0.2h0m29.5 0.5h0m-68.7 0.6h0m19.3-0.1h0m4.7 0.6h0m13-0.5h0m1.2 0h0m2.1 0.7h0m1.6-0.3h0m11.9 0.3h0m-54.7 0.3h0m9.5 0.5h0m15.8-0.2h0m3.2-0.4h0m8.1 0.2h0m22.6 0.6h0m-40.4 0.8h0m8.7-0.3h0m6.3-0.2h0m7.4 0h0m6.6-0.1h0m0.5 0h0m0.8 0.3h0m5.5 0.3h0m5.3 0.3h0m-46.4 0.5h0m7 0.4h0m15.5-0.4h0m1.9-0.3h0m1-0.1h0m30.2 0.2h0m-82.3 1.2h0m72.5-0.4h0m-46.7 1.3h0m10.9 0.2h0m2.2-0.1h0m23-0.2h0m-50.6 2.7h0m26.6-0.6h0m10.8 0.6h0m6.7-0.9h0m17.2 0h0m-57.4 1.3h0m9.5-0.2h0m25.9 0.1h0m-22.3 0.8h0m28 0.8h0m-15.8 0.3h0m16.6-0.2h0m-5.1 1.5h0m5.7 0.1h0m-34.4 1.2h0m33-0.8h0m-16.5 1.5h0m23.3-0.2h0m-2.5 1.1h0m-50.3 0.7h0m9.6 0.3h0m7.6 0.5h0m20.7-0.3h0m-29 2.4h0m15.3 1.9h0m6.9-0.7h0m-16.8 0.8h0" fill="none" stroke="#1818f0" stroke-width="1.3" stroke-linecap="square"/>
<path d="M419.6 1287.5h0m1.8-0.2h0m1.4-0.2h0m-5.6 0.5h0m0.6 0.3h0m0.2-0.2h0m0.9 0.4h0m1.8 0.4h0m4-0.9h0m0.1 0.2h0m0.2 0.3h0m-7.4 0.5h0m1.5 0h0m6.1 0.4h0m-9.3 1.1h0m3.3-0.4h0m1.5-0.2h0m0.4 0.5h0m2 0.4h0m4.2-0.1h0m1.1-0.3h0m2.7 0.3h0m-15.8 1.2h0m2.2-0.7h0m1.2-0.1h0m0.1 0.2h0m5.7 0.5h0m1.7-0.3h0m3 0.4h0m0.6-0.7h0m-13.6 1.3h0m0.5 0.3h0m0.6 0.1h0m0.2-0.4h0m1.2 0h0m0.6 0.3h0m7.3-0.8h0m3.8 0.3h0m-19 1.3h0m0.2 0h0m1.2 0h0m0.8 0.2h0m0.4-0.1h0m5.9-0.8h0m3.2 0.4h0m1.6-0.2h0m2.4 0.2h0m0.6-0.2h0m2.3 0.7h0m0.4-0.8h0m0.6 0.7h0m-18.9 0.9h0m0.3-0.4h0m0.1 0.2h0m1.1 0.4h0m0.1 0h0m15.7-0.2h0m0.2-0.2h0m0.2 0.1h0m0.3 0h0m0.5-0.5h0m2.3 0.6h0m1.6-0.6h0m-26.4 1.3h0m2-0.3h0m2.1 0h0m0.6 0.3h0m0.4-0.3h0m17.3 0.8h0m0.4-0.3h0m1.8-0.3h0m-33.3 1.3h0m4.2 0.3h0m16.5-0.2h0m2.7-0.1h0m1.1 0.1h0m5.1-0.4h0m0.4 0h0m0.8 0h0m0.2 0.1h0m0.6-0.1h0m0.8-0.3h0m1.5 0.2h0m1.6-0.1h0m-34.7 1.5h0m0.8 0.2h0m3.2 0h0m0-0.7h0m3.7 0.8h0m1-0.9h0m1.7 0h0m12.1 0h0m0.8 0.6h0m0.3 0.2h0m1.4 0.1h0m-25.8 0.9h0m0.8-0.6h0m1.9 0.8h0m0.4-0.2h0m0.1-0.5h0m0.8 0.1h0m1-0.2h0m3.6 0.6h0m1.8 0h0m0.9-0.1h0m9.4-0.2h0m2.1-0.4h0m0.2 0.3h0m1.2-0.3h0m1 0.9h0m-24.8 0.2h0m3-0.1h0m1.4-0.1h0m2.6 0.1h0m14.3 0.1h0m0.9 0.6h0m1.4-0.4h0m-26 1.1h0m22.8-0.2h0m2.1-0.1h0m0.5 0h0m1.1-0.1h0m9 0.2h0m0.1-0.2h0m1.6 0.8h0m0.1-0.3h0m0.8 0.1h0m1.3-0.3h0m0 0.4h0m0.6-0.6h0m-41.2 1.3h0m0.5-0.5h0m1 0h0m23.7 0.9h0m0.9-0.8h0m3.3 0.5h0m11-0.3h0m-15 1h0m0.4 0.5h0m2.4-0.7h0m8.7 0.6h0m1.9-0.1h0m2.2-0.2h0m0-0.3h0m-39.5 1.6h0m0.5-0.4h0m0.7-0.1h0m22.8 0.3h0m0.9 0.2h0m10.8-0.4h0m1.2-0.2h0m0.8 0.2h0m2.5 0.5h0m-41.9 0.8h0m0.9-0.1h0m0.4-0.5h0m1.4 0.1h0m22-0.1h0m1 0.9h0m11.5-0.7h0m3.1 0.7h0m0.1-0.3h0m-35 1.2h0m0.1 0.2h0m0.1-0.4h0m31 0.3h0m-31.5 1.1h0m0.2-0.7h0m33 0.6h0m0.6-0.1h0m-34.2 0.8h0m31.8-0.1h0m-33.1 1h0m1.7-0.2h0m0.6 0h0m30.9 0.1h0m0.3-0.1h0m1.2 0h0m-34.5 1.9h0m0 0.4h0m0.6-0.2h0m0.3 0h0m2 0.5h0m1.5-0.5h0m0.5 0.5h0m0.4-0.2h0m-5.1 0.7h0m5.2 0h0m13.1 0.6h0m2.7-0.4h0m0.2 0.3h0m5.5-0.1h0m0.5-0.2h0m0.1 0h0m-21.8 1.2h0m0.1-0.2h0m1.2-0.3h0m0.7-0.1h0m12 0.2h0m0.2 0h0m0.8 0h0m0.6 0.2h0m0.1 0.1h0m1.8-0.4h0m3.8 0h0m2.1 0.6h0m0.4 0h0m0.2-0.2h0m0.8-0.2h0m-27.9 0.6h0m0.9 0.1h0m1.2 0.8h0m1.9-0.6h0m1 0h0m0.6-0.1h0m9.8 0h0m1.8 0.4h0m3.3 0h0m0.1-0.1h0m4-0.5h0m3.2 0.2h0m-25 1.1h0m1 0.2h0m2.2 0.3h0m0.3-0.1h0m2.1-0.1h0m6.2 0h0m0.1-0.2h0m2.1 0.5h0m0.8-0.6h0m0.4-0.3h0m0-0.1h0m0.5 0.4h0m2.3-0.4h0m1.4 0.8h0m0.3-0.1h0m2.1-0.6h0m2.1 0h0m0.6-0.1h0m-27 1.9h0m0.9-0.5h0m1.5 0.3h0m0.4-0.3h0m2-0.1h0m7.2 0.5h0m5.5-0.1h0m1.3-0.2h0m0.2 0.4h0m1.8-0.1h0m1.8-0.4h0m0.1 0.6h0m1.4-0.6h0m1 0.6h0m0.2-0.6h0m0.6-0.1h0m0-0.2h0m0.3 0.7h0m-25.4 0.7h0m2.3-0.4h0m2.1-0.1h0m0.3 0.7h0m2.9 0h0m4.2-0.2h0m0.2 0.1h0m0.3-0.4h0m2.6 0.3h0m2.1 0h0m2.1 0.4h0m4.4-0.1h0m2-0.1h0m-25 0.5h0m4.7-0.1h0m0.8 0.1h0m4 0.7h0m2.5-0.5h0m8.7-0.1h0m1-0.2h0m-13.7 1.2h0m1.3 0.6h0m-1.8 0.4h0m0.1 0.6h0m0.4-0.8h0m0.3 0.4h0m1.9 0.1h0" fill="none" stroke="#18c8f0" stroke-width="1.3" stroke-linecap="square"/>
<path d="M420.5 1290.5h0m0.9 0h0m0.1 0.8h0m0.1-0.3h0m0.2 0.4h0m0.8-0.3h0m0.2-0.5h0m-1.9 1.2h0m0.1-0.1h0m1.5 0.7h0m-3.6 0.9h0m2.8-0.2h0m0.5-0.3h0m1 0.6h0m-5.5 0.1h0m1.4 0.8h0m0.6-0.2h0m2.5-0.4h0m0.5 0.2h0m0.2-0.3h0m0.5 0.3h0m1.2 0.2h0m0.1 0.2h0m1.1-0.5h0m0.5 0.6h0m0.6-0.1h0m0.4-0.1h0m0-0.4h0m-10.6 1.4h0m0.9-0.6h0m0.8 0.8h0m0.1-0.2h0m0.8 0.1h0m0.8-0.3h0m0-0.2h0m0.8 0.5h0m0.3 0.1h0m3.4 0h0m1.9 0h0m1.3-0.7h0m-16 1.8h0m0.5-0.2h0m1.8-0.7h0m3.1 0.6h0m3.7-0.3h0m0.5-0.2h0m5.1 0.6h0m5.5 0.1h0m0.3 0h0m0.4-0.2h0m-21.3 0.5h0m0.6-0.1h0m0.6 0.9h0m0.5-0.7h0m5.5 0.1h0m0.1 0.5h0m7.5-0.1h0m0.1 0h0m0-0.5h0m2 0h0m1.2 0.7h0m0.8-0.3h0m1.4-0.5h0m1.1 0.4h0m0-0.5h0m0.6 0.3h0m0.6 0.3h0m0.4-0.1h0m-21.5 0.9h0m4.9-0.3h0m0 0.6h0m0.8-0.1h0m9.8 0.1h0m2.2-0.2h0m0.1-0.2h0m0.8 0h0m0.5 0.4h0m1.3-0.1h0m-34.3 0.8h0m1 0.4h0m0.5-0.1h0m0.3 0.1h0m3.7-0.2h0m7.5-0.3h0m0.8-0.1h0m0.3 0h0m0.2 0.1h0m5.9-0.3h0m0.7 0.5h0m6.8 0.3h0m1-0.5h0m3.1 0.2h0m3.5-0.1h0m-34.7 0.8h0m1.1 0.4h0m0.9-0.5h0m1.5 0.7h0m1.5-0.8h0m1.4 0.6h0m0.1-0.4h0m0.8 0.1h0m1 0.2h0m0.7 0.2h0m0.8 0.1h0m8.6-0.6h0m8 0.5h0m0.1-0.4h0m3-0.1h0m0.7-0.2h0m1.4 0.8h0m0.8-0.1h0m-32.9 0.8h0m3.4-0.1h0m0.2 0.2h0m0.4 0h0m0.3-0.4h0m0.4 0.6h0m0.6-0.2h0m1.4-0.2h0m1.8 0.1h0m1.8-0.6h0m1.1 0.1h0m0.1 0.7h0m6.5-0.2h0m0.9 0h0m8.3 0.2h0m0.7-0.8h0m0.9 0.2h0m0 0.3h0m0.5 0.2h0m1.1 0.2h0m0.1-0.2h0m-29.4 1h0m1.2 0.1h0m0.5 0.1h0m0.3-0.5h0m2.1-0.2h0m3 0.2h0m0.7-0.2h0m1.4 0h0m9.7 0.2h0m4.4 0.1h0m1 0.4h0m1.9-0.6h0m1.6-0.1h0m0.9 0.5h0m0.7-0.2h0m0.9-0.3h0m0.4 0.2h0m0.2 0.3h0m-12.4 0.7h0m0.5-0.3h0m5.3 0.7h0m0.2 0.1h0m1.1 0h0m0.5-0.5h0m0.8-0.1h0m0-0.1h0m1.3 0h0m0.2 0.8h0m1.8-0.3h0m0.1-0.3h0m0.2 0.1h0m0.4-0.1h0m-32 0.8h0m1.2 0.4h0m0.5-0.2h0m0.1 0.5h0m16.4-0.6h0m0.4-0.1h0m1.4 0.2h0m0 0.6h0m0.4-0.4h0m4.4 0.3h0m0.7-0.9h0m3.4 0.8h0m1 0h0m0.6 0.1h0m0.1 0h0m-30.7 0.3h0m0.9 0.1h0m2.8 0.6h0m0.6-0.2h0m0.6 0.1h0m13.6-0.2h0m1.3 0.1h0m0.3-0.2h0m4.3-0.2h0m0.1 0.6h0m0.9 0h0m1.2-0.2h0m4.2 0.2h0m0.3-0.6h0m0.6 0.3h0m1.1-0.2h0m-29.7 0.9h0m0.9-0.2h0m1.4 0h0m13.4 0h0m1-0.1h0m1.5 0.1h0m1.3 0.4h0m0.6 0.3h0m2.6-0.4h0m0.9 0.4h0m3.6 0.1h0m0.5-0.6h0m0.5 0.4h0m0.2-0.1h0m-26.2 0.7h0m0.5 0.6h0m13.8-0.8h0m0.4 0.6h0m0.4-0.5h0m1 0.5h0m0 0h0m0.5 0h0m1.3 0h0m0.2 0.3h0m2.8-0.4h0m4.1 0.1h0m0.3-0.6h0m0.8 0.4h0m-27.3 0.7h0m4 0.5h0m11-0.6h0m1.9 0.3h0m0.9-0.1h0m0 0.6h0m2.1-0.5h0m0.3 0.5h0m0-0.7h0m5.4 0.7h0m0.3-0.3h0m0.4 0h0m1.8 0.1h0m-13.9 1.2h0m0-0.7h0m0.9 0.5h0m0.1-0.3h0m0.7 0h0m0.3 0.1h0m0.4 0h0m0.7-0.3h0m0.8 0.3h0m2.3 0.1h0m1.1-0.2h0m1.6-0.4h0m0.5 0.9h0m0.5-0.4h0m1.6 0h0m0.9-0.2h0m0.1 0.2h0m0.2-0.1h0m0.1 0.1h0m1.4-0.2h0m-26.4 0.9h0m0.6-0.1h0m1.4 0h0m10.9 0.9h0m1.1-0.4h0m1.4-0.5h0m2.1 0.1h0m0.8 0.6h0m0-0.4h0m0.5 0.4h0m2.5 0h0m3.4-0.6h0m0-0.2h0m-24.6 1.1h0m2.5 0.4h0m0.7 0.1h0m0.2 0.2h0m3.2-0.1h0m0.3-0.1h0m2.8 0.3h0m0.4-0.1h0m0.4 0h0m3-0.6h0m4.4 0.3h0m1.1 0.4h0m1.2 0h0m1.9-0.8h0m-17.7 1.8h0m0.4-0.8h0m0.5 0.2h0m0.1 0.4h0m0.1-0.4h0m1.2 0.1h0m0.9-0.4h0m0 0.7h0m0.7 0.1h0m0.2-0.6h0m1.9 0.2h0m8-0.3h0m0 0.1h0m0.5 0.4h0m1-0.2h0m-17 1.3h0m2-0.6h0m0.2 0.1h0m1.5 0.2h0m2.8 0.5h0m0.3 0h0m0.6-0.6h0m0.7 0.6h0m0.2-0.5h0m0.5 0.4h0m0.1-0.2h0m7.2 0h0m0.1-0.3h0m1.7 0.3h0m-16.4 0.7h0m2.2 0h0m0.7 0.3h0m0.3 0h0m0.3 0.7h0m-0.8 1.3h0m0.6-0.2h0m0.4 0.1h0" fill="none" stroke="#28c040" stroke-width="1.3" stroke-linecap="square"/>
<path d="M414.4 1296.1h0m1.5 0.2h0m-1.7 0.9h0m0.1 0h0m0.2 0.2h0m1.7-0.7h0m0.7-0.1h0m0 0.8h0m-1.4 1h0m0.3-0.4h0m0.1-0.2h0m1.1 0.7h0m-3.3 0.9h0m1.9 0h0m-3.1 0.9h0m1.6-0.4h0m1.6 0.3h0m0 0.1h0m0.3-0.4h0m0.1-0.4h0m0.6 0.5h0m-5.5 1.2h0m0.1-0.7h0m0.3 0.1h0m0 0.2h0m0.4 0.3h0m0.2 0.1h0m1.8-0.1h0m0.4-0.1h0m0.3 0.4h0m0.3-0.6h0m0.5 0.7h0m1-0.4h0m-12.7 1.1h0m10.8 0h0m0.2 0h0m1.4 0h0m-1.5 1.3h0m0.5-0.7h0m0 0.2h0m0.3-0.2h0m1.3 0.5h0m-13.8 0.5h0m1.5-0.1h0m0.3-0.2h0m0.1 0.8h0m0.1-0.8h0m9.4 0.9h0m0.2-0.4h0m1.2-0.3h0m0.9 0.5h0m-13.1 0.6h0m2.1 0.3h0m0.7 0.3h0m8.9-0.2h0m0.3 0.1h0m0.2 0.1h0m0.1-0.3h0m0.9-0.5h0m10.4 0.7h0m0.4 0.1h0m0.2-0.2h0m0.4-0.1h0m-23.1 1.1h0m0.6-0.3h0m0.3-0.1h0m0.9-0.1h0m0.4 0.4h0m19.5-0.3h0m1.1 0.6h0m0.3-0.3h0m0.7-0.1h0m-23.8 0.7h0m0.6 0.1h0m0.2 0.3h0m0.5-0.1h0m0.2 0.4h0m8-0.6h0m0.3 0h0m0.3 0.4h0m1.7-0.6h0m10.8 0.3h0m0.4 0.5h0m0.3-0.5h0m-22 1h0m8.2-0.2h0m1.1 0.1h0m1.1 0.7h0m11.2-0.8h0m-12.5 1.3h0m0.2 1.3h0m1.1 0.2h0m-1.7 0.2h0" fill="none" stroke="#e0d020" stroke-width="1.3" stroke-linecap="square"/>
<path d="M405.9 1302.2h0m0.5 0h0m0.1-0.1h0m4 0.2h0m0.1 0.1h0m-4.9 0.6h0m0.2 0.4h0m0.1-0.1h0m1.3-0.1h0m1.9-0.4h0m0.2 0.5h0m0-0.6h0m1 0.2h0m0.7-0.2h0m0.3 0.7h0m0.6-0.2h0m0.5-0.5h0m0.4 0.3h0m0.1 0.1h0m0.5 0.2h0m-8.4 0.6h0m0.9 0.2h0m0.2-0.1h0m1-0.1h0m2.1 0.2h0m1 0.1h0m1.6-0.5h0m0.2 0.4h0m-5 0.5h0m1.2 0.5h0m0 0h0m0.8 0h0m0.4 0h0m0.8-0.5h0m0.4 0.9h0m0-0.1h0m-1.8 0.5h0m0.4 0.1h0m0.5 0.1h0m0.4-0.2h0m0.2-0.1h0m0.7 0.6h0m0.9-0.8h0m0 0.6h0m0.4-0.6h0m0.8 0.7h0m-4.3 1.1h0m0.4-0.2h0m0.4-0.5h0m2.6 0.7h0m0.3-0.2h0m0.3-0.6h0m0.6 0.6h0m-5.1 0.9h0m0.1-0.6h0m0.1 0.8h0m3.5 0h0m0.4-0.1h0m0.8 0h0m0.6-0.3h0m-2 1.2h0m0.4 0.2h0m1.5-0.8h0m-4.9 1.5h0m0.7 0.3h0m1.6 0.1h0m0.1 0.1h0m0.6-0.3h0m0.3 0h0m1.1-0.7h0m0.6 0.1h0m-5.3 1.3h0" fill="none" stroke="#e8501c" stroke-width="1.3" stroke-linecap="square"/>
<rect x="344.4" y="1129.5" width="235.5" height="234.5" fill="none" stroke="#000" stroke-width="1.5"/>
<line x1="463.7" y1="1129.5" x2="463.7" y2="1364" stroke="#000" stroke-width="1.4"/>
<line x1="344.4" y1="1235.5" x2="579.9" y2="1235.5" stroke="#000" stroke-width="1.4"/>
<path d="M346.1 1364V1366.5M349.2 1364V1366.5M351.8 1364V1366.5M354.2 1364V1366.5M356.3 1364V1369M370 1364V1366.5M378 1364V1366.5M383.7 1364V1366.5M388.2 1364V1366.5M391.8 1364V1366.5M394.8 1364V1366.5M397.5 1364V1366.5M399.8 1364V1366.5M401.9 1364V1369M415.6 1364V1366.5M423.7 1364V1366.5M429.4 1364V1366.5M433.8 1364V1366.5M437.4 1364V1366.5M440.5 1364V1366.5M443.1 1364V1366.5M445.5 1364V1366.5M447.5 1364V1369M461.3 1364V1366.5M469.3 1364V1366.5M475 1364V1366.5M479.4 1364V1366.5M483.1 1364V1366.5M486.1 1364V1366.5M488.8 1364V1366.5M491.1 1364V1366.5M493.2 1364V1369M506.9 1364V1366.5M515 1364V1366.5M520.7 1364V1366.5M525.1 1364V1366.5M528.7 1364V1366.5M531.8 1364V1366.5M534.4 1364V1366.5M536.7 1364V1366.5M538.8 1364V1369M552.6 1364V1366.5M560.6 1364V1366.5M566.3 1364V1366.5M570.7 1364V1366.5M574.3 1364V1366.5M577.4 1364V1366.5M344.4 1364V1369M579.9 1364V1369M341.9 1360.3H344.4M341.9 1353.8H344.4M341.9 1349.3H344.4M341.9 1345.7H344.4M341.9 1342.8H344.4M341.9 1340.4H344.4M341.9 1338.2H344.4M341.9 1336.4H344.4M339.4 1334.7H344.4M341.9 1323.7H344.4M341.9 1317.2H344.4M341.9 1312.6H344.4M341.9 1309.1H344.4M341.9 1306.2H344.4M341.9 1303.7H344.4M341.9 1301.6H344.4M341.9 1299.7H344.4M339.4 1298H344.4M341.9 1287H344.4M341.9 1280.6H344.4M341.9 1276H344.4M341.9 1272.4H344.4M341.9 1269.5H344.4M341.9 1267.1H344.4M341.9 1265H344.4M341.9 1263.1H344.4M339.4 1261.4H344.4M341.9 1250.4H344.4M341.9 1243.9H344.4M341.9 1239.3H344.4M341.9 1235.8H344.4M341.9 1232.9H344.4M341.9 1230.4H344.4M341.9 1228.3H344.4M341.9 1226.4H344.4M339.4 1224.8H344.4M341.9 1213.7H344.4M341.9 1207.3H344.4M341.9 1202.7H344.4M341.9 1199.2H344.4M341.9 1196.3H344.4M341.9 1193.8H344.4M341.9 1191.7H344.4M341.9 1189.8H344.4M339.4 1188.1H344.4M341.9 1177.1H344.4M341.9 1170.6H344.4M341.9 1166.1H344.4M341.9 1162.5H344.4M341.9 1159.6H344.4M341.9 1157.2H344.4M341.9 1155H344.4M341.9 1153.2H344.4M339.4 1151.5H344.4M341.9 1140.5H344.4M341.9 1134H344.4M339.4 1129.5H344.4M339.4 1364H344.4" fill="none" stroke="#000" stroke-width="1.1"/>
<text x="334" y="1384.5" class="An" font-size="10.8">10</text>
<text x="347.1" y="1380" class="An" font-size="8.4">3.8</text>
<text x="394.1" y="1384.5" class="An" font-size="10.8">10</text>
<text x="407.1" y="1380" class="An" font-size="8.4">5</text>
<text x="439.7" y="1384.5" class="An" font-size="10.8">10</text>
<text x="452.7" y="1380" class="An" font-size="8.4">6</text>
<text x="485.3" y="1384.5" class="An" font-size="10.8">10</text>
<text x="498.3" y="1380" class="An" font-size="8.4">7</text>
<text x="531" y="1384.5" class="An" font-size="10.8">10</text>
<text x="544" y="1380" class="An" font-size="8.4">8</text>
<text x="569.5" y="1384.5" class="An" font-size="10.8">10</text>
<text x="582.6" y="1380" class="An" font-size="8.4">8.9</text>
<g transform="rotate(-90 332.4 1306.9)">
<text x="332.4" y="1306.9" class="An" font-size="10.8">10</text>
<text x="345.4" y="1302.4" class="An" font-size="8.4">3</text>
</g>
<g transform="rotate(-90 332.4 1270.26)">
<text x="332.4" y="1270.3" class="An" font-size="10.8">10</text>
<text x="345.4" y="1265.7" class="An" font-size="8.4">4</text>
</g>
<g transform="rotate(-90 332.4 1233.61)">
<text x="332.4" y="1233.6" class="An" font-size="10.8">10</text>
<text x="345.4" y="1229.1" class="An" font-size="8.4">5</text>
</g>
<g transform="rotate(-90 332.4 1196.97)">
<text x="332.4" y="1197" class="An" font-size="10.8">10</text>
<text x="345.4" y="1192.4" class="An" font-size="8.4">6</text>
</g>
<g transform="rotate(-90 332.4 1374.36)">
<text x="332.4" y="1374.4" class="An" font-size="10.8">10</text>
<text x="345.4" y="1369.8" class="An" font-size="8.4">1.2</text>
</g>
<g transform="rotate(-90 332.4 1143.86)">
<text x="332.4" y="1143.9" class="An" font-size="10.8">10</text>
<text x="345.4" y="1139.3" class="An" font-size="8.4">7.6</text>
</g>
<text x="462.1" y="1401" class="An" font-size="10.8" text-anchor="middle">FITC-A</text>
<text x="315.4" y="1246.8" class="An" font-size="10.8" text-anchor="middle" transform="rotate(-90 315.4 1246.8)">PE-A</text>
<text x="349.4" y="1142.5" class="An" font-size="10.3">Q3-1</text>
<text x="349.4" y="1154.7" class="An" font-size="10.3">0.14%</text>
<text x="535.9" y="1142.5" class="An" font-size="10.3">Q3-2</text>
<text x="535.9" y="1154.7" class="An" font-size="10.3">4.62%</text>
<text x="349.4" y="1345" class="An" font-size="10.3">Q3-3</text>
<text x="349.4" y="1357" class="An" font-size="10.3">92.93%</text>
<text x="542.9" y="1345" class="An" font-size="10.3">Q3-4</text>
<text x="542.9" y="1357" class="An" font-size="10.3">2.31%</text>
<text x="472.1" y="1123" class="An" font-size="10.8" text-anchor="middle"><tspan>4 / </tspan><tspan fill="#e01010">P1</tspan><tspan> / </tspan><tspan fill="#18a018">P2</tspan></text>
<text x="382.51" y="1099.7" class="Sb" font-size="30.51" textLength="193.07" lengthAdjust="spacingAndGlyphs">Exo-mimics NC</text>
<path d="M814.7 1191.5h0m3.9 2.9h0m4.9 1.3h0m-3.6 2.3h0m3.5 0h0m-21.3 1.1h0m3 2h0m2.4 0h0m9.3 0.3h0m-9.9 1.8h0m8.3-0.7h0m-11.4 1.3h0m11.7 0.1h0m2.7 0.6h0m-14.7 0h0m13.1 0.5h0m3.5-0.1h0m-6.9 0.7h0m4.5 0.6h0m-3.7 0.5h0m1.9 0.8h0m-7.7 0.2h0m5.7 1.4h0m-2.6 0.5h0m-12.3 1.3h0m4.6 0.3h0m-4.1 1.1h0m1.9-0.1h0m7.2-0.1h0m6.2 0.2h0m-23.3 0.3h0m11.9 0.9h0m2.6-0.5h0m19 0.5h0m-65.8 0.9h0m18.9 0.1h0m31.2-0.5h0m-17.7 1.3h0m2.9-0.7h0m0 1.3h0m2.2 0.6h0m6-0.9h0m1.2 0.5h0m-44.6 0.5h0m15.2 0.3h0m10.9 0.2h0m10-0.5h0m3.9 0.3h0m-42.9 1.5h0m37-0.9h0m-32.2 1.2h0m14.4 0.3h0m18.6 0.5h0m4.5-0.7h0m0.8-0.3h0m-43.2 1.4h0m7 0.4h0m9.6-0.4h0m19.5 0.4h0m2.5-0.7h0m8.2 0.1h0m0.1 0.2h0m-43.2 0.9h0m31-0.3h0m3.8 0.1h0m2.1 0.1h0m2.7 0.2h0m2.4 0.5h0m2.9-0.4h0m-21.8 1.4h0m0.4-0.9h0m5.8 0.5h0m19.3-0.4h0m-48.5 1.9h0m10.7 1h0m18.9-0.1h0m4.2-0.7h0m11.9 0.5h0m-31.9 1h0m22.2-0.6h0m2.1 0h0m7.8 0.9h0m-22.5 0.1h0m11.6 0.7h0m-11.5 0.4h0m8.5 1.2h0m15.2-0.2h0m-29.6 1.3h0m10.8 1.2h0m12-0.4h0m-0.8 0.8h0m0.9 1.3h0m-11.7 0.7h0m-5.1 1.6h0m0.6-0.3h0m8.9 0.2h0m-3.7 0.4h0m4.4 0.8h0m5.1 0.9h0m-20.1 0.4h0m1.3 0.5h0m1.9-0.5h0m14.7 0h0m-14.1 1.2h0m-6.7 3.4h0m8.7-0.6h0m-2.3 0.9h0m0.3 0.4h0m2.4-0.2h0m-5 0.9h0m3.3 0.6h0m-15.1 1.1h0m21.4-0.1h0m-20.4 1.2h0m19.3 0.6h0m-11.9 0.6h0m2.1 0h0m7.4 0.4h0m-13.9 0.6h0m14 0.1h0m-2.4 0.9h0m-14.3 1.8h0m0.4-0.2h0m5.5-0.1h0m-15.9 2.1h0m3.6-0.3h0m13.3 0.5h0m-31.3 0.1h0m26.4 2h0m2.3-0.2h0m7.1 0h0m-14.5 1h0m16.8-0.1h0m6.5-0.3h0m-25.9 1.6h0m11.7 0h0m26-0.6h0m-31.5 1.5h0m-8.2 0.5h0m14 0.5h0m-9.7 0.1h0m10.6 1.2h0m-29.9 0.9h0m-6.2 1.5h0m20.5-0.3h0m1.3-0.2h0m0.9 0.6h0m13.4 0.4h0m-29.7 1.4h0m13 0.3h0m9.5-0.4h0m11.8 0.6h0m-18.9 0.3h0m3.1 0.1h0m-10.6 0.8h0m3.5-0.1h0m0.1 0h0m29.2 0.6h0m-26.7 0.4h0m3 1.7h0m0.1-0.8h0m17.1 0.7h0m-32.7 1.3h0m18.3-0.2h0m-9.4 0.2h0m-39.4 1.4h0m40.6 0.4h0m-72.9 0.9h0m39.4 0.3h0m-31 0.4h0m48.4 0.4h0m4.7-0.2h0m6.9 0.2h0m4.3-0.2h0m-71.8 0.6h0m60.1-0.1h0m-20.9 1h0m0.4 0.4h0m10 0.1h0m4.6 0.2h0m7.9-0.5h0m2.4 0.2h0m13 0.1h0m-50.9 1h0m23.5 0.2h0m0.5-0.5h0m14 0.6h0m3.1-0.1h0m43.4 0.1h0m-83.7 0.4h0m4 0h0m1.4 0h0m3.4 0.1h0m1.5 0.5h0m14.9-0.1h0m8.4-0.1h0m18.8 0h0m-53.5 1.2h0m7.9-0.8h0m28.2 0.8h0m-28.5 0.3h0m3.8 0.7h0m0.7-0.3h0m0.8 0.1h0m14.2-0.3h0m1.2 0.2h0m13.1-0.3h0m-70.2 0.7h0m17.4 1h0m7.4-0.1h0m4.9-0.7h0m5.5-0.1h0m6.3 0h0m5.6 0.6h0m2.4-0.5h0m7.3 0.1h0m8.1 0.6h0m0.4-0.9h0m0.6 0.8h0m2.5-0.6h0m4.5 0.5h0m3.1-0.6h0m-64.7 1.7h0m12.8-0.1h0m2.2-0.1h0m1-0.5h0m16.6 0.4h0m3.9-0.1h0m4.4 0.3h0m1.1-0.5h0m5.7 0.4h0m3.4 0h0m38 0.3h0m-97.3 0.6h0m14-0.3h0m0.5-0.1h0m5.7 0.8h0m1.6 0.1h0m0.1-0.8h0m6.6 0.2h0m0.1 0.3h0m10.1-0.4h0m4.6 0h0m0.7 0.6h0m0.7 0h0m4.9-0.5h0m1.5 0.4h0m10 0h0m2.8 0.1h0m2.9-0.7h0m0.6 0h0m2-0.2h0m1.7 1h0m10.4-0.8h0m-89.5 1.5h0m20.2-0.7h0m17.9 0.7h0m0.4 0h0m5.5 0.3h0m4.5-0.7h0m1.4 0.1h0m2.6-0.2h0m6.9 0.8h0m2.7-1h0m1.5 0.5h0m0 0.1h0m9.1 0.2h0m-45.9 0.8h0m7.8 0h0m0.6-0.4h0m2.4 0.2h0m0.2-0.2h0m3.2-0.1h0m1 0.4h0m0.2-0.3h0m2.3 0.5h0m4.1 0h0m0.4-0.7h0m4.8 0.3h0m6.1 0.7h0m0.1-0.2h0m14.9-0.7h0m2 0.3h0m3.8-0.2h0m-56.9 1.2h0m2.5 0h0m1.5 0.6h0m5.5 0h0m4.5-0.5h0m2.7-0.5h0m2.1 0.4h0m2.4-0.3h0m3.9 0.5h0m2.4-0.4h0m7.2 0.1h0m3.4 0.4h0m9.4 0h0m0.1-0.3h0m0.6 0.6h0m17.3-0.7h0m-60.4 1.2h0m1.7 0h0m13.3-0.2h0m4.1 0.2h0m0.6-0.4h0m2.9 0.7h0m1.1-0.7h0m1.2 0.4h0m4.9 0.2h0m0.4 0.3h0m0.2-1h0m1.2 0.3h0m0.6 0.6h0m6-0.4h0m0.8 0.4h0m-65.7 0.6h0m6.6-0.4h0m2.4 0.4h0m2.3 0.4h0m0.7-0.8h0m8.9 0.1h0m2 0.4h0m9.5-0.4h0m2.7 0.3h0m1.1-0.4h0m0.5 0.2h0m3 0.1h0m0.7-0.1h0m1.5-0.1h0m6.3 0.2h0m4 0.2h0m6.1-0.4h0m5 0.5h0m4.8 0.1h0m5.8-0.6h0m17 0h0m-90.3 1.3h0m0.5 0.2h0m2.3-0.4h0m3.7 0.1h0m1.4-0.3h0m3.8 0.4h0m1.3 0.1h0m5.2 0.2h0m1.1-0.4h0m0.2-0.1h0m2.3 0.7h0m0.8-0.9h0m0 0.6h0m2.7-0.3h0m2.2 0.3h0m1.8-0.2h0m2.5-0.3h0m0 0.6h0m0.7 0h0m15.9 0h0m2.2-0.3h0m4.6 0.2h0m0.4-0.4h0m0 0.5h0m4.4-0.1h0m1.6 0h0m2.3-0.5h0m2.3 0.5h0m6.4-0.4h0m7.4-0.3h0m2.7 0.6h0m-101.2 0.4h0m24.1 0.1h0m15.5 0.9h0m3.8-0.6h0m1.5 0.2h0m2.2-0.1h0m4-0.4h0m15.2 0.4h0m2.6-0.4h0m6.3 0h0m1.8 0.4h0m4.3-0.5h0m-76.9 2h0m9.7-1h0m10.1 0.8h0m1.2-0.7h0m8.8 0.5h0m3.7-0.6h0m0.8 0.3h0m1.3 0.1h0m4.8-0.1h0m0.4-0.1h0m21.4-0.2h0m0.4 0.6h0m0.5-0.4h0m3.9 0.5h0m7.1-0.6h0m8.7-0.1h0m21.4 0.3h0m-108.6 1.6h0m10.9-0.6h0m16.1-0.3h0m2.3 0.2h0m1.7 0.7h0m40.7-0.1h0m1-0.2h0m0.5 0h0m2.9-0.3h0m4.7 0.4h0m-57.5 0.4h0m7.2 0.2h0m1.3-0.1h0m3.4 0.8h0m31.6-0.3h0m6.1 0.1h0m0.3-0.4h0m0.5 0.4h0m2.1 0.1h0m0.6-0.3h0m1.7 0.2h0m1.8 0.1h0m7.6-0.9h0m1.1 0.5h0m11.5 0.3h0m-91.7 0.3h0m12.4 0.1h0m9.1 0.1h0m37.3 0.1h0m1.4 0h0m2.1-0.3h0m1.9 0.5h0m1.3-0.4h0m5.2 0.2h0m-61.4 1.5h0m6.6-0.6h0m3.4 0.2h0m0.8-0.1h0m0.6 0.4h0m39.8-0.2h0m3.3-0.3h0m1.2 0.3h0m12.9-0.5h0m0.7 0.3h0m5.2 0.5h0m-74.8 0.2h0m1.9 0.9h0m7.6-0.2h0m47.6-0.4h0m5.2 0.3h0m7.9 0h0m0.9-0.7h0m-95.2 1.1h0m23.1 0.4h0m4.5-0.1h0m2.3 0.6h0m1.8-0.7h0m3.6-0.3h0m41.5 0.4h0m0.6 0.6h0m5.6-0.1h0m7.2-0.3h0m-72.3 1.1h0m5-0.2h0m52.4-0.2h0m6.1 0.6h0m0.3 0.1h0m2.3-0.2h0m3.9 0h0m2.2 0h0m-78.5 0.8h0m10.3 0.4h0m10.1-0.1h0m0.3-0.8h0m43.3 0.8h0m0.6-0.2h0m0.2 0h0m8.2-0.2h0m0.7-0.2h0m0.6 0.5h0m0.9-0.1h0m1.9-0.2h0m-78.4 1.5h0m18.4-0.5h0m2.8-0.2h0m1.4 0.4h0m43.1 0.1h0m2.3 0.2h0m0-0.3h0m2.3 0.1h0m2.4-0.5h0m7.4 0.7h0m-68.7 0.1h0m1.7 0.1h0m0.6 0.1h0m55.2 0.3h0m3-0.4h0m4.6-0.2h0m2.1 0.2h0m2-0.1h0m4.1-0.1h0m-79.1 1.9h0m8.6 0h0m4.9 0h0m0.8-0.3h0m45-0.3h0m0.3 0.2h0m0.9 0.2h0m0.4 0.2h0m8.4-0.2h0m-63.4 0.4h0m1.8 0.4h0m5.8-0.1h0m49.8-0.2h0m0.1 0.8h0m6.5-0.3h0m11.2-0.4h0m0.2 0.3h0m-79.9 0.6h0m6.5 0h0m3.2 0.1h0m1.8 0.6h0m0.1-0.4h0m0.9 0.1h0m0.6-0.1h0m1.9-0.3h0m47.1 0.2h0m2.1-0.1h0m0.2 0.1h0m7.3-0.2h0m0.6 0.1h0m3.8 0.4h0m-73.2 0.3h0m0.2 0.7h0m2.5 0.1h0m0.4-0.2h0m0.4 0.1h0m1.8-0.1h0m0.5-0.2h0m1.1 0.5h0m48.9-0.1h0m0.6-0.4h0m1.7 0.3h0m0.5 0.2h0m5.9-0.6h0m0.1-0.2h0m7.5-0.1h0m-80.6 1.5h0m1-0.1h0m9.2-0.2h0m51.3 0.7h0m5-0.4h0m0.6-0.3h0m12.3 0.3h0m4-0.4h0m-81 1.3h0m3 0.2h0m4.1-0.4h0m6.9 0.5h0m0.3-0.3h0m47.5 0.3h0m11-0.6h0m0.5 0.8h0m-72.1 1.1h0m4.6-0.3h0m0.7-0.5h0m7.1-0.1h0m0.7 0.3h0m0.4 0.2h0m45.6-0.4h0m4.4 0.2h0m0 0.3h0m6 0.1h0m-67 0.9h0m1.1-0.5h0m2.5 0.2h0m6.9 0.4h0m0.7-0.3h0m0.6-0.2h0m44.6-0.1h0m4.8 0.6h0m6.1 0.2h0m8.8-0.7h0m0.7-0.2h0m2.5 0h0m7.1 0h0m-88.3 1.1h0m1.1 0.8h0m10.8-0.2h0m0.8-0.2h0m0.2-0.4h0m44.3 0.2h0m5.1 0.3h0m4.2-0.1h0m3.7-0.5h0m3.1 0.1h0m-63.9 1.5h0m52.1-0.6h0m0 0.9h0m8 0h0m16.2-0.4h0m-89.4 1.4h0m7.4-0.5h0m3.2 0.2h0m4.4-0.1h0m0.2-0.4h0m0.6 0.8h0m48.6-0.2h0m0.4-0.6h0m15 0.6h0m3.7-0.7h0m-78.8 1.5h0m0.3-0.5h0m4.3 0.3h0m5 0.3h0m0.3-0.7h0m1 0.9h0m34.9-0.3h0m2.5 0.1h0m1.7 0.2h0m2.5-0.3h0m0.2-0.3h0m3 0.2h0m1.2 0.5h0m6.6-0.4h0m2-0.2h0m5.5-0.1h0m-86.3 1.6h0m4.4-0.6h0m7.2 0.6h0m0.3-0.5h0m2.6-0.3h0m2-0.1h0m7.4 0.1h0m4 0.6h0m0.1 0.2h0m32.5-0.5h0m2.1-0.1h0m1.7 0.4h0m2.3-0.3h0m2.3-0.1h0m3.4-0.2h0m0.9 0.2h0m3.7 0.5h0m-62.9 0.9h0m7.2-0.3h0m6.9 0.4h0m0.7 0.1h0m11.2 0h0m4.1-0.2h0m5.9-0.2h0m1.1 0.5h0m8.2-1h0m0 0.5h0m0.7 0.4h0m0.6-0.9h0m5 0.1h0m0.5-0.1h0m0.1 0.5h0m0.8 0.5h0m4.6-0.2h0m3.2-0.4h0m0.3 0h0m0.8 0.6h0m2.1-1h0m10.6 0.2h0m-68.9 0.8h0m4.8 0.3h0m0.4-0.2h0m1.1 0.8h0m7.2-0.8h0m4.4 0.2h0m1.1 0h0m9.3 0.1h0m1.7 0.4h0m0.8 0h0m0.3-0.2h0m2.7-0.3h0m4.1-0.1h0m5.6 0.4h0m8.2 0.2h0m-60.1 0.7h0m6.1 0.1h0m5.6 0.4h0m8.2-0.5h0m7.1-0.2h0m0.4 0h0m0.6 0.1h0m5.2-0.3h0m3.3 0.6h0m4.5 0.2h0m1.8-0.5h0m1.7-0.2h0m0.1-0.1h0m2.6 0.6h0m1.1-0.6h0m2.1 0h0m3 0.2h0m1.7 0.6h0m2.5-0.9h0m0.6 0h0m1.1 0.4h0m0.3 0.5h0m7.6-0.2h0m-61.8 0.7h0m2.6 0.6h0m8.6-1h0m2.3 0.5h0m1.4-0.4h0m0.9 0.7h0m1.1-0.2h0m0.1 0.3h0m3.2 0.1h0m0.1 0h0m10.8-0.1h0m3.7-0.1h0m1.5-0.4h0m1.9-0.2h0m0.1 0.2h0m1.9-0.2h0m8.9 0h0m0.5-0.1h0m-46.9 1.9h0m0-0.9h0m2.7 0.4h0m1.3-0.1h0m5.6 0.6h0m2.8-0.5h0m1.9-0.4h0m0.4 0.7h0m2.9-0.7h0m3.4 0.1h0m0.1 0.2h0m2.6 0.3h0m0.7 0.1h0m2.3-0.4h0m2.2 0.6h0m4.2-0.3h0m5.1 0.1h0m0 0h0m6.1 0.1h0m0.9-0.1h0m0 0.2h0m5.1-0.7h0m3.8 0.3h0m12.2 0.4h0m-67.2 0.7h0m3.3-0.1h0m2.7-0.3h0m5.9 0.7h0m1.7-0.3h0m2.9-0.4h0m2.8-0.2h0m6.6 0.4h0m4.3-0.2h0m7.4 0.4h0m23.3 0.1h0m0.3-0.7h0m5.5 0h0m-54.8 1.6h0m7.3-0.6h0m5.4 0.4h0m2-0.1h0m8.6 0.3h0m2.6-0.5h0m3.3 0.3h0m3.1-0.4h0m2 0.5h0m12.6 0h0m7.9 0.2h0m-63.4 0.8h0m2.4-0.1h0m2-0.2h0m0.2 0.4h0m1.4 0h0m0.1-0.1h0m5.2 0.2h0m17.3-0.4h0m3.2 0.5h0m8-0.1h0m7.6-0.6h0m0.6 0.8h0m0.7-0.1h0m3.2 0h0m2.3 0.1h0m10.1 0h0m3.9-0.9h0m-82.2 1.2h0m38.3-0.2h0m1.2 0.6h0m0.7-0.6h0m0 0.6h0m5.1-0.2h0m1.7-0.5h0m16.5 0.1h0m1.6 0.1h0m10.2 0.4h0m-68.7 1.1h0m4.4 0.2h0m4.2 0.1h0m0.5-0.7h0m6.8 0.2h0m4.7 0.5h0m1.8-0.3h0m0.4 0.2h0m11-0.4h0m1.6 0.4h0m2.8-0.4h0m19.9-0.3h0m2.6 0.2h0m3.1 0.5h0m8.4-0.1h0m-82.8 0.3h0m1.3 0.8h0m13.1-0.1h0m1.1-0.3h0m2.3 0.3h0m0.2-0.4h0m17.8 0.5h0m3.6-0.6h0m2 0.2h0m0.1-0.5h0m3.6 0.9h0m0.5 0h0m0.4-0.5h0m3.1 0.2h0m7.9 0.2h0m6.1-0.4h0m1.5-0.3h0m7.4-0.1h0m-52.4 1.3h0m2.8-0.3h0m9.3 0.4h0m4.5 0.5h0m0.6-0.8h0m0.9 0.1h0m2.1 0h0m4.6 0.2h0m3 0.4h0m4.3-0.4h0m1.2 0.2h0m0.4 0.4h0m2.1-0.2h0m2-0.6h0m2.3 0.4h0m6.4 0.1h0m4.2-0.6h0m1.7 0.4h0m-61.5 0.6h0m14 0.4h0m6-0.1h0m8.2-0.1h0m0.2 0.7h0m0.3-0.8h0m1.1 0.2h0m0.1 0.6h0m1.6-1h0m6.3 0.8h0m3.8 0h0m0.6-0.6h0m12.3 0.6h0m6.7-0.6h0m-62.8 1.7h0m13.6-0.6h0m3.1 0h0m1.4 0.2h0m0.9 0.1h0m0.5-0.3h0m5.7-0.2h0m1.7 0.2h0m6.5 0.2h0m1-0.5h0m9.8 0.2h0m11.4 0.6h0m28.2-0.6h0m-67.1 1.5h0m2.4-0.2h0m8.2 0.3h0m0.3-0.4h0m0.4 0.4h0m7.5-0.6h0m1.4 0.5h0m7.1-0.4h0m2.5 0.1h0m0.9 0.5h0m18.7-0.3h0m-60.6 1.4h0m4.7-0.7h0m12 0.1h0m9.8-0.2h0m5.1 0h0m0.4 0.3h0m4.2 0.2h0m5.7-0.6h0m0.5 0.5h0m-69.4 1.4h0m34.5-0.3h0m0-0.2h0m12.2 0.1h0m13.5-0.5h0m14.9 0.6h0m-54.6 1h0m14.5-0.2h0m0.9 0.5h0m2.3-0.8h0m19.7 0.4h0m15.5-0.1h0m6.5-0.3h0m1.7 0.4h0m0.6 0.2h0m-46.2 0.2h0m0.5 0.1h0m2.7-0.1h0m11.4 0.5h0m18.3-0.1h0m11.3 0.6h0m-27.3 0.9h0m5.1-0.4h0m17.1-0.2h0m9.4-0.3h0m6.8 0.9h0m-85.2 0.8h0m25-0.7h0m6.1 0.2h0m27.9 0.5h0m3.9 0.2h0m0.5-0.4h0m0.9-0.4h0m4 0.7h0m4.2-0.6h0m-51.1 1.7h0m2.8-0.4h0m0.1 0.3h0m3.9-0.4h0m10.3 0.5h0m31.1-0.7h0m7.4 0.1h0m6.8-0.2h0m-60 1.6h0m0.6 0.2h0m28.1 0h0m0.1-0.2h0m0.9 0.2h0m10.3 0h0m5.2-0.4h0m6.6 0.2h0m-48.3 0.6h0m17.9 0.5h0m10.2-0.8h0m-23.5 1h0m3.3 0.7h0m19-0.2h0m10.9-0.5h0m8.5 0.3h0m-41.5 1.1h0m29.3 0.6h0m0.3-0.6h0m-38.6 1.4h0m25.1 0.2h0m19.7-0.2h0m9.3 0h0m-14.7 0.6h0m-33.7 1.9h0m9.7 0.3h0m14.4-0.2h0m5.7-0.2h0m1.5 0.5h0m-14.8 0.4h0m4.9 0.5h0m33.6 1.3h0m-50.9 0.2h0m13.1 0.5h0m20.2-0.2h0m12.5-0.2h0m-10.9 1.7h0m-34.7 0.2h0m55.2 0.2h0m-45.4 1.1h0m-17.5 1.3h0m22.3-0.1h0m32.4 1.2h0m-33 0.5h0m11.1 0.2h0m-52.2 1.6h0m40.2 2.3h0m-10.9 1.9h0m7.2 0.2h0m-4.5 2.1h0m2.1-0.3h0m33.5 1.8h0m-42.8 1.7h0" fill="none" stroke="#1818f0" stroke-width="1.3" stroke-linecap="square"/>
<path d="M718 1287.1h0m2.6 0h0m5.2 0h0m-7.9 1.2h0m0.4 0h0m1.6-0.4h0m0.1 0.5h0m2.6-0.8h0m2.1 0.1h0m3.3-0.1h0m0.8 0.2h0m-8.5 1h0m2.5-0.3h0m3.9 0.7h0m-26.2 0.9h0m2.9 0h0m11.7 0.3h0m3.3-0.7h0m1.6 0.2h0m0.9 0.3h0m0.9 0.3h0m0.2-0.8h0m0.5 0.7h0m3.8-0.4h0m0.5-0.4h0m-25.4 1.2h0m0.8 0h0m2.2 0h0m7.1 0.5h0m1.3 0h0m0.6-0.1h0m2.7-0.6h0m3.7 0.8h0m0.1-0.3h0m0.3 0.4h0m0.3-0.3h0m4.3-0.2h0m2.9 0h0m1.2-0.3h0m-29.6 1h0m1.5 0.3h0m3.8 0h0m6.4 0h0m1.6-0.1h0m0.5 0.5h0m0.3-0.6h0m0.2 0.5h0m6.7 0h0m2.9-0.3h0m1.8-0.2h0m0.6 0.6h0m2.1-0.1h0m-32.9 1.1h0m0.6 0.1h0m9.5-0.9h0m7.6 0.1h0m0.6 0h0m1.5-0.2h0m3.3 0.1h0m3 0.2h0m3.4 0h0m0.8 0.1h0m0.8-0.2h0m0.8 0.6h0m1.4-0.4h0m0.1 0.3h0m0.5-0.5h0m0 0.8h0m2.9-0.3h0m-38.1 1h0m0.6 0.2h0m0.3-0.9h0m1.1 0.9h0m0.8-0.7h0m3.6 0.6h0m25.5 0.1h0m3.2-0.6h0m2.5 0.3h0m0.7 0h0m-37.2 0.9h0m2.8-0.4h0m0.9-0.1h0m0.2 0.1h0m1.6 0h0m0.5 0.1h0m0 0h0m23.6 0.7h0m6-0.7h0m0.8-0.2h0m0.6 0.1h0m-39.1 1.6h0m7.8-0.5h0m27.5 0.1h0m-4.7 1h0m1.4 0.6h0m0.1 0h0m1.2-0.7h0m0.9 0h0m1.5 0h0m0.1 0h0m1.3-0.2h0m1.6 0.2h0m-7.8 0.9h0m0.2 0.1h0m0 0h0m1.1 0.1h0m1.1 0.3h0m1.7-0.4h0m1.2-0.1h0m1.2 0.6h0m1 0.2h0m-39.1 0.9h0m35.4-0.7h0m4 0.8h0m-40.7 0.6h0m38.7 0.4h0m1.1-0.1h0m1.1 0.3h0m-40.3 1.3h0m37.4 0.2h0m0.7 0.3h0m0.2-0.1h0m2-0.1h0m0.2 0h0m-41.3 0.7h0m1.5 0.5h0m0.6-0.4h0m-1.4 1h0m35.6 0.1h0m0.2 0.2h0m1-0.1h0m0.2-0.3h0m1 0.2h0m-39.4 0.9h0m38.6-0.1h0m0 0.4h0m1.7-0.6h0m-40.5 1h0m1.9 0.5h0m0.9-0.5h0m0.8 0.3h0m30.3-0.1h0m0.2 0.1h0m0.1-0.4h0m2.9 0.3h0m1.6 0.3h0m-37.7 1.2h0m2.5 0h0m33.7 0h0m0.5-0.9h0m1.5 0.4h0m0.4 0.2h0m-39.9 0.8h0m1.5 0.6h0m0.7-0.2h0m0.7-0.6h0m25.6 0.8h0m6.5-0.6h0m0.1 0.5h0m1-0.4h0m0.5-0.5h0m1.1 0.4h0m1-0.4h0m-40.2 1.8h0m1-0.8h0m30.5 0h0m7.4 0.7h0m-38.3 0.3h0m0.1 0.4h0m1.9 0.3h0m0.3 0h0m0.2 0.2h0m0.8-0.2h0m0.5 0h0m0.5 0.3h0m24.9 0h0m0-0.1h0m0-0.2h0m0.2-0.4h0m1.3 0.6h0m0.2-0.6h0m0.3-0.1h0m0 0.1h0m3.9-0.3h0m0.1 0.9h0m5.5-0.2h0m-37.6 1.1h0m0.2-0.4h0m0-0.1h0m0.1 0.5h0m14.4 0.2h0m12.9-0.8h0m7.3-0.1h0m1.6 0h0m-37.3 1.4h0m0.7 0.3h0m1.4-0.1h0m12.5-0.2h0m4.3-0.4h0m2.5 0.6h0m1 0.1h0m1 0h0m-24.8 0.5h0m0.1 0.2h0m2.9 0.2h0m0.6-0.6h0m12.5 0h0m0.6 0.1h0m3.5 0.3h0m0.5 0.5h0m2.8-0.7h0m2.8 0.2h0m-19.7 1.1h0m3.5 0.2h0m1.2-0.2h0m11.7-0.4h0m1.1 0.3h0m1.4-0.1h0m-20.5 0.8h0m-0.4 0.8h0m0.4 0.4h0m1 0.1h0m4 0.1h0" fill="none" stroke="#18c8f0" stroke-width="1.3" stroke-linecap="square"/>
<path d="M709.5 1290.1h0m-4 1.2h0m1.7-0.2h0m0.8-0.3h0m0.9 0.5h0m0.4-0.1h0m1.4 0h0m-5.5 0.8h0m-1.4 1.1h0m1.9-0.4h0m0.3 0.5h0m1.7-0.4h0m2.7 0h0m3.3 0.6h0m2.8-0.2h0m2.7 0.2h0m-15.9 0.6h0m2.4-0.4h0m0.7 0.7h0m0-0.7h0m4.8 0h0m1.1 0.6h0m0.9-0.1h0m0.9 0.2h0m1.4-0.1h0m0.3-0.1h0m0.4 0h0m0.7 0.1h0m1.6-0.3h0m3.7-0.1h0m-19.4 1.3h0m1.3-0.1h0m0.4 0.4h0m0.6-0.1h0m0.6-0.5h0m2 0.6h0m0.2-0.5h0m3.6 0.2h0m0.8-0.2h0m2.8 0h0m1.9-0.2h0m1.6 0.6h0m0.6-0.7h0m0.1 0h0m1.2 0.3h0m2.2-0.2h0m0.1 0.7h0m-28.7 0.6h0m1.2 0.2h0m6.7-0.5h0m0.6-0.1h0m1.7-0.1h0m2.6 0.4h0m5.5 0h0m1.2 0.1h0m3.4 0h0m1.8-0.1h0m0.2 0.4h0m2.5-0.6h0m-26.9 1.8h0m0.3-0.5h0m0 0.3h0m1-0.1h0m0.3-0.1h0m0.6-0.2h0m0.8 0.2h0m0.2-0.4h0m19.3-0.1h0m0.2 0.1h0m0.9 0.2h0m1.7 0.3h0m1.9 0.2h0m0.1-0.3h0m0.1 0.2h0m0.3 0.1h0m-28.6 0.5h0m0.8-0.4h0m0.1 0.1h0m0.7 0.6h0m5.7 0h0m0.1-0.2h0m0.1-0.4h0m0.1 0.3h0m1.1 0.3h0m0.1-0.4h0m17 0.1h0m0.9 0h0m-27.1 1h0m1 0.5h0m0.4 0.1h0m0.6-0.1h0m2.6-0.2h0m0.1-0.6h0m1.1 0.1h0m0.5 0.1h0m0.7 0.5h0m3.5 0.1h0m0.3 0h0m3.7-0.4h0m0.3 0.2h0m0.7 0.3h0m0.4-0.3h0m2.8-0.2h0m1.8 0.4h0m3.7-0.5h0m0.2 0h0m0.5 0.2h0m0.7-0.1h0m2.9 0.4h0m0.5-0.3h0m2.1 0.1h0m-31.4 1.1h0m1-0.7h0m2 0.1h0m0.6-0.2h0m1.8 0.4h0m1.5-0.3h0m0.2 0.4h0m0.2 0.4h0m1.5-0.5h0m0.2 0.2h0m0 0h0m2.4-0.3h0m0.5 0.5h0m0.6 0.2h0m0.4-0.7h0m0.1 0.4h0m0.7-0.5h0m2 0.7h0m0.4-0.2h0m1.5-0.3h0m3.7 0h0m0 0.2h0m2 0.4h0m1.1-0.7h0m0.9-0.2h0m0.9 0h0m0.3 0.3h0m1.2-0.2h0m0-0.1h0m0.6 0.2h0m2.8 0.2h0m1.2 0.2h0m0.5-0.6h0m1.1 0.4h0m2.1-0.1h0m-35.7 0.8h0m2.3 0.1h0m1.6-0.3h0m4.5 0.8h0m0.8-0.5h0m0.8 0.3h0m1.6 0.3h0m0.1-0.1h0m0.1-0.1h0m5-0.1h0m0.5 0.1h0m0.6-0.3h0m0.3-0.2h0m1.1 0.1h0m3.1 0.3h0m1-0.2h0m0.2 0.5h0m2.8-0.1h0m1-0.5h0m0.2 0.6h0m2.7-0.3h0m1.7 0.3h0m-32.2 0.8h0m1.5-0.7h0m0.2 0h0m1.8 0.8h0m0.3-0.8h0m1 0.3h0m3.6-0.3h0m3.1 0.2h0m7.7 0.8h0m0.7-0.1h0m3.3-0.3h0m0.7-0.2h0m6.3 0.1h0m0.4-0.3h0m1.2 0.3h0m-31 0.9h0m0.8 0.3h0m2.8 0.1h0m0.8-0.5h0m0.5 0.7h0m0-0.9h0m0.7 0h0m0.8 0.8h0m0.1-0.1h0m2.4-0.8h0m0.3 0.2h0m0.7 0.3h0m4.7 0.2h0m0.2 0h0m2.7-0.2h0m4.8 0.2h0m0.9 0.2h0m2.7-0.4h0m1.5 0.1h0m0.8-0.4h0m1.8 0h0m2 0.2h0m-32 0.9h0m1.1 0h0m5 0h0m3.3-0.1h0m0.6 0.6h0m0.5-0.6h0m3.9-0.2h0m1 0.1h0m0.3 0.3h0m0.3 0.3h0m1.1 0.1h0m1.2 0.1h0m0.8-0.2h0m3.5 0.1h0m1 0.2h0m2-0.8h0m1.4 0.7h0m0.7-0.3h0m1.5-0.5h0m0.1 0.5h0m-30.1 0.9h0m2.4-0.4h0m1.4 0.6h0m1.1-0.1h0m0.2 0.4h0m0.7-0.1h0m0.5-0.5h0m3.7-0.1h0m1.3 0.1h0m0.1-0.2h0m4.2 0.8h0m1.8-0.7h0m0.6 0h0m2.7 0h0m0.3 0.5h0m0-0.1h0m1.2-0.2h0m0.3-0.4h0m2.3 0.4h0m0.4-0.1h0m1.7 0.3h0m0.2-0.3h0m2 0.1h0m0.4 0.4h0m1-0.5h0m2.1-0.1h0m-30.1 1.2h0m2.4-0.2h0m11.4 0.7h0m0.2-0.7h0m0.8 0.1h0m0.2 0.1h0m0.9 0.1h0m2.1-0.2h0m2 0.6h0m1.2 0h0m1.5-0.3h0m0.4 0.2h0m1.4-0.4h0m-26.7 0.5h0m0.2 0.1h0m0.6 0.5h0m0.1 0.1h0m0.7-0.6h0m1.3 0.2h0m1.6 0.3h0m0.5-0.6h0m0.4 0.9h0m10.2-0.1h0m0.8-0.7h0m0.3-0.1h0m0.6 0.9h0m3.8-0.4h0m0-0.1h0m0.1-0.3h0m2.7 0.1h0m2.4 0.7h0m0.1 0.1h0m0.6-0.7h0m1.6 0.5h0m0.7 0.1h0m-28.8 0.3h0m0.2 0.8h0m0.1-0.7h0m2.1 0.5h0m0.1-0.6h0m12 0.3h0m0.7-0.1h0m0.5-0.2h0m0.2 0.5h0m1 0.2h0m0.7 0h0m0.5-0.3h0m1.6-0.5h0m3.4 0.6h0m4.8-0.4h0m0.4 0h0m0.7-0.1h0m-29.5 1.2h0m3.1 0.2h0m1.2-0.6h0m0.8 0.7h0m10.1 0h0m0.6-0.3h0m2.4 0.1h0m0.7 0.3h0m1.1-0.5h0m0.6-0.3h0m-20.5 1.5h0m1.1 0h0m3.1-0.2h0m0.4-0.1h0m0.7 0.4h0m10.1-0.2h0m2.9 0h0m1.4-0.3h0m1.6 0.6h0m0.1-0.1h0m0.2 0h0m-20.1 0.5h0m1.6 0.7h0m0.6-0.2h0m1.2-0.5h0m0.9 0.7h0m16-0.6h0m1.3 0.2h0m-23.1 0.7h0m0.9 0.6h0m2.4-0.4h0m0.2 0.2h0m1.8 0.5h0m1.2-0.6h0m2.8-0.1h0m0.3-0.1h0m0.4 0h0m1 0.3h0m0.2-0.2h0m-7 1.7h0m0.1-0.5h0m3.3-0.5h0m1.8 0.2h0m-3.6 1h0m1.6 0.3h0" fill="none" stroke="#28c040" stroke-width="1.3" stroke-linecap="square"/>
<path d="M709.4 1294.2h0m0.7 0.6h0m0.1-0.1h0m-3.9 1.8h0m1.4-0.3h0m0.7-0.2h0m0.2-0.2h0m0.1-0.1h0m0.6 0.1h0m0.2 0.3h0m0.9-0.6h0m0.2 0.8h0m1-0.2h0m0.8 0.1h0m-7.2 0.3h0m0.6 0.9h0m5.3 0h0m1.8 0h0m2.4-0.4h0m0.6 0.4h0m-9.7 0.1h0m3.7 0.3h0m0.4 0.2h0m0.3 0.3h0m1.6-0.3h0m2.3-0.3h0m1 0.4h0m0.8-0.3h0m0.1 0.4h0m-10.8 0.4h0m0.4 0.1h0m2.9 0h0m3.1 0h0m1.7-0.1h0m1.1 0.2h0m0.8 0h0m-11 6.6h0m-2 0.4h0m0.2 0.2h0m2-0.4h0m-2.7 1h0m0.6 0h0m-0.2 1.2h0m0.1 0h0m1.7 0.6h0m-2.1 1h0m0.6-0.1h0m0.1 0h0m0.2-0.7h0m0.4 0.9h0m1-0.9h0m0.3 0h0m2.4 0.2h0m-4 1.2h0m1.6 0h0m0.1-0.4h0m1.1 0.8h0m0.8-0.6h0m0.2 0.3h0m-3.6 0.9h0m0.6 0h0m2.1-0.3h0m0.6 0.3h0" fill="none" stroke="#e0d020" stroke-width="1.3" stroke-linecap="square"/>
<path d="M706.6 1302.1h0m-1.3 1h0m2.6 0.7h0m-2.1 1.5h0m-4.9 0.7h0m4.3 0.5h0m2-0.5h0m0.2 0.4h0m0.2-0.5h0m-2.3 1.6h0m0.1-0.4h0m0.2 0h0m1.4 0h0m-6.9 1h0m7.7-0.4h0m-8.2 1.1h0m0.3-0.2h0m0.2 0h0m0.5-0.1h0m0.6 0.1h0m0.2 0.9h0m-1 0.3h0m1.4 0.4h0m-0.9 0.6h0m0.7-0.3h0m0 0.3h0" fill="none" stroke="#e8501c" stroke-width="1.3" stroke-linecap="square"/>
<rect x="635.6" y="1128.3" width="238.4" height="238.5" fill="none" stroke="#000" stroke-width="1.5"/>
<line x1="756" y1="1128.3" x2="756" y2="1366.8" stroke="#000" stroke-width="1.4"/>
<line x1="635.6" y1="1235.5" x2="874" y2="1235.5" stroke="#000" stroke-width="1.4"/>
<path d="M637.4 1366.8V1369.3M640.5 1366.8V1369.3M643.1 1366.8V1369.3M645.5 1366.8V1369.3M647.6 1366.8V1371.8M661.5 1366.8V1369.3M669.7 1366.8V1369.3M675.4 1366.8V1369.3M679.9 1366.8V1369.3M683.6 1366.8V1369.3M686.7 1366.8V1369.3M689.3 1366.8V1369.3M691.7 1366.8V1369.3M693.8 1366.8V1371.8M707.7 1366.8V1369.3M715.9 1366.8V1369.3M721.6 1366.8V1369.3M726.1 1366.8V1369.3M729.8 1366.8V1369.3M732.9 1366.8V1369.3M735.5 1366.8V1369.3M737.9 1366.8V1369.3M740 1366.8V1371.8M753.9 1366.8V1369.3M762.1 1366.8V1369.3M767.8 1366.8V1369.3M772.3 1366.8V1369.3M776 1366.8V1369.3M779.1 1366.8V1369.3M781.7 1366.8V1369.3M784.1 1366.8V1369.3M786.2 1366.8V1371.8M800.1 1366.8V1369.3M808.3 1366.8V1369.3M814 1366.8V1369.3M818.5 1366.8V1369.3M822.2 1366.8V1369.3M825.3 1366.8V1369.3M827.9 1366.8V1369.3M830.3 1366.8V1369.3M832.4 1366.8V1371.8M846.3 1366.8V1369.3M854.5 1366.8V1369.3M860.2 1366.8V1369.3M864.7 1366.8V1369.3M868.4 1366.8V1369.3M871.5 1366.8V1369.3M635.6 1366.8V1371.8M874 1366.8V1371.8M633.1 1363H635.6M633.1 1356.5H635.6M633.1 1351.8H635.6M633.1 1348.2H635.6M633.1 1345.3H635.6M633.1 1342.8H635.6M633.1 1340.6H635.6M633.1 1338.7H635.6M630.6 1337H635.6M633.1 1325.8H635.6M633.1 1319.2H635.6M633.1 1314.6H635.6M633.1 1310.9H635.6M633.1 1308H635.6M633.1 1305.5H635.6M633.1 1303.3H635.6M633.1 1301.4H635.6M630.6 1299.7H635.6M633.1 1288.5H635.6M633.1 1281.9H635.6M633.1 1277.3H635.6M633.1 1273.7H635.6M633.1 1270.7H635.6M633.1 1268.2H635.6M633.1 1266.1H635.6M633.1 1264.2H635.6M630.6 1262.5H635.6M633.1 1251.2H635.6M633.1 1244.7H635.6M633.1 1240H635.6M633.1 1236.4H635.6M633.1 1233.5H635.6M633.1 1231H635.6M633.1 1228.8H635.6M633.1 1226.9H635.6M630.6 1225.2H635.6M633.1 1214H635.6M633.1 1207.4H635.6M633.1 1202.8H635.6M633.1 1199.1H635.6M633.1 1196.2H635.6M633.1 1193.7H635.6M633.1 1191.5H635.6M633.1 1189.6H635.6M630.6 1187.9H635.6M633.1 1176.7H635.6M633.1 1170.1H635.6M633.1 1165.5H635.6M633.1 1161.9H635.6M633.1 1158.9H635.6M633.1 1156.4H635.6M633.1 1154.3H635.6M633.1 1152.4H635.6M630.6 1150.7H635.6M633.1 1139.4H635.6M633.1 1132.9H635.6M630.6 1128.3H635.6M630.6 1366.8H635.6" fill="none" stroke="#000" stroke-width="1.1"/>
<text x="625.2" y="1387.3" class="An" font-size="10.8">10</text>
<text x="638.3" y="1382.8" class="An" font-size="8.4">3.8</text>
<text x="686" y="1387.3" class="An" font-size="10.8">10</text>
<text x="699" y="1382.8" class="An" font-size="8.4">5</text>
<text x="732.2" y="1387.3" class="An" font-size="10.8">10</text>
<text x="745.2" y="1382.8" class="An" font-size="8.4">6</text>
<text x="778.4" y="1387.3" class="An" font-size="10.8">10</text>
<text x="791.4" y="1382.8" class="An" font-size="8.4">7</text>
<text x="824.6" y="1387.3" class="An" font-size="10.8">10</text>
<text x="837.6" y="1382.8" class="An" font-size="8.4">8</text>
<text x="863.6" y="1387.3" class="An" font-size="10.8">10</text>
<text x="876.7" y="1382.8" class="An" font-size="8.4">8.9</text>
<g transform="rotate(-90 623.6 1308.57)">
<text x="623.6" y="1308.6" class="An" font-size="10.8">10</text>
<text x="636.6" y="1304" class="An" font-size="8.4">3</text>
</g>
<g transform="rotate(-90 623.6 1271.31)">
<text x="623.6" y="1271.3" class="An" font-size="10.8">10</text>
<text x="636.6" y="1266.8" class="An" font-size="8.4">4</text>
</g>
<g transform="rotate(-90 623.6 1234.04)">
<text x="623.6" y="1234" class="An" font-size="10.8">10</text>
<text x="636.6" y="1229.5" class="An" font-size="8.4">5</text>
</g>
<g transform="rotate(-90 623.6 1196.77)">
<text x="623.6" y="1196.8" class="An" font-size="10.8">10</text>
<text x="636.6" y="1192.2" class="An" font-size="8.4">6</text>
</g>
<g transform="rotate(-90 623.6 1377.16)">
<text x="623.6" y="1377.2" class="An" font-size="10.8">10</text>
<text x="636.6" y="1372.6" class="An" font-size="8.4">1.2</text>
</g>
<g transform="rotate(-90 623.6 1142.66)">
<text x="623.6" y="1142.7" class="An" font-size="10.8">10</text>
<text x="636.6" y="1138.1" class="An" font-size="8.4">7.6</text>
</g>
<text x="754.8" y="1403.8" class="An" font-size="10.8" text-anchor="middle">FITC-A</text>
<text x="606.6" y="1247.5" class="An" font-size="10.8" text-anchor="middle" transform="rotate(-90 606.6 1247.5)">PE-A</text>
<text x="640.6" y="1141.3" class="An" font-size="10.3">Q3-1</text>
<text x="640.6" y="1153.5" class="An" font-size="10.3">0.00%</text>
<text x="830" y="1141.3" class="An" font-size="10.3">Q3-2</text>
<text x="830" y="1153.5" class="An" font-size="10.3">2.54%</text>
<text x="640.6" y="1347.8" class="An" font-size="10.3">Q3-3</text>
<text x="640.6" y="1359.8" class="An" font-size="10.3">95.55%</text>
<text x="837" y="1347.8" class="An" font-size="10.3">Q3-4</text>
<text x="837" y="1359.8" class="An" font-size="10.3">1.91%</text>
<text x="764.8" y="1121.8" class="An" font-size="10.8" text-anchor="middle"><tspan>7 / </tspan><tspan fill="#e01010">P1</tspan><tspan> / </tspan><tspan fill="#18a018">P2</tspan></text>
<text x="683.51" y="1096.99" class="Sb" font-size="31.3" textLength="145.9" lengthAdjust="spacingAndGlyphs">Exo-mimics</text>
<path d="M1127.5 1189.4h0m8.3 0.3h0m-21.8 1.5h0m7.1 0.1h0m3 0.2h0m4.7-0.9h0m-16 2h0m6.2 0.5h0m3.8-0.5h0m7.7 0.6h0m-4.7 1.5h0m-19.4 0.9h0m8.5 0.7h0m5.7-0.2h0m11.7 0.2h0m-20.8 1.1h0m0.6-0.4h0m-4.3 1.3h0m9.8-0.3h0m5.1 0.3h0m5.8-0.4h0m-13.2 0.8h0m9 0.9h0m2 0h0m1 0.4h0m-13.3 1.4h0m5.2-0.4h0m0.7-0.4h0m6.4 0.3h0m-24.7 1h0m21.1 0.1h0m-19 0.5h0m7.7 0.3h0m2.9-0.1h0m2.1 0.7h0m8.9-0.6h0m-11.6 0.8h0m0.3 0.6h0m2.4-0.6h0m2.6 0.1h0m-15.3 1.7h0m3.2 0h0m11.8-0.4h0m5.1 0.4h0m-17.2 0.9h0m6.2-0.1h0m0.2 0.2h0m-3.8 0.7h0m7.9 0.4h0m-17.3 0.4h0m7.9 0.5h0m4.8-0.3h0m-15.7 0.4h0m10.4 1.2h0m-6.3 0.9h0m5.5 0.9h0m12.5-0.8h0m-6.6 1.4h0m5.4 0.2h0m-28.4 1.2h0m-25.2 0.5h0m42.7 0.4h0m2-0.1h0m0.4-0.1h0m4.1-0.7h0m-84 1.8h0m52.5-0.7h0m17 0.5h0m9-0.3h0m-41 1.5h0m8.3-0.5h0m16.1 0.1h0m12-0.4h0m-10.2 1.6h0m6.1-0.2h0m-22.6 1.4h0m6.9-0.1h0m15.2-0.1h0m13.2-0.6h0m3.4 0.8h0m-55.7 0.7h0m35.7 0.1h0m6.5-0.6h0m2 0h0m10.4 0.1h0m-63.9 1.3h0m31.1-0.3h0m20.5 0.7h0m7.3 0.1h0m0.4-0.6h0m1.4-0.1h0m-49.2 0.9h0m13.7 0.2h0m1.8 0h0m2.6 0.5h0m2-0.5h0m1.1-0.1h0m14.8 0.5h0m3.4 0.1h0m0.9-0.5h0m3.6 0.6h0m-26.8 0.8h0m17.7-0.2h0m3.2 0h0m-40.1 1h0m15.1-0.3h0m2.3-0.2h0m13.5 0.7h0m5.1 0.2h0m0.2 0h0m1.2-0.9h0m2.5 0.5h0m1.9-0.2h0m5.4 0.5h0m2.5-0.5h0m-30.4 0.8h0m16.2-0.1h0m7.2 0.7h0m3.6-0.4h0m-72.1 0.9h0m41.3 0.6h0m6.8-0.5h0m2.1-0.2h0m4 0.1h0m2.1 0.1h0m6.1 0.3h0m5.6 0.4h0m-75 0.4h0m42.6-0.2h0m5.2-0.1h0m12.8 0h0m6 0.2h0m4-0.2h0m-3.1 1.6h0m3 0.3h0m0.7-0.3h0m-12.1 1.2h0m5.9-0.7h0m5 0h0m10.6 0h0m-51.7 1.8h0m25.6-0.4h0m23.2 0.2h0m0.9-0.6h0m-62 0.9h0m44.1 2.6h0m8-0.7h0m-51.4 1.1h0m34.4 0.4h0m22.1-0.3h0m-15.6 1h0m4.5 0h0m-11.6 0.9h0m0.5 0.1h0m11.2 0.2h0m10.9 0.2h0m-15.4 2.4h0m4.3 1.6h0m4.7 0.2h0m2.7-0.6h0m-12.3 3.7h0m-3 0.3h0m0-0.2h0m9.1 1.5h0m-1.2 0.9h0m-14.1 1.1h0m8.3 0h0m0.4 1.1h0m-20.6 0.7h0m16.1-0.1h0m8.6 0.1h0m-13.8 1.1h0m3 0.5h0m3.8-0.2h0m-15.7 0.8h0m14.5 0.1h0m-10.3 0.5h0m12.6 0.7h0m-10.3 2.2h0m2.9 0.6h0m-5 1.2h0m6.4 0.6h0m-8.4 0.8h0m-10.4 1.3h0m7.6-0.3h0m8.8 0.3h0m-38.9 0.9h0m21.5 0.3h0m4 0h0m17.3-0.3h0m-29.4 1.4h0m13.5-0.3h0m4.5 0.4h0m0.3-0.7h0m14.2 0.6h0m-30.9 1.1h0m4.2-0.4h0m1.2-0.1h0m19.5-0.2h0m-34.9 0.9h0m37 0.5h0m1.4-0.1h0m-49.8 0.6h0m29.9 0.5h0m9.6 0.3h0m-11.9 0.4h0m1.2 0.6h0m3.6-0.3h0m5.8 0h0m11.4 0.3h0m0.6-0.1h0m14.4 0.3h0m-91.8 1h0m38.2 0.8h0m2.7-0.1h0m3.2 0.1h0m13.1-0.5h0m14.7 0.5h0m-35.7 0.3h0m12.7 0.7h0m1.8-0.4h0m9 0.5h0m-6.5 1.4h0m14.6 0.5h0m-43.8 0.3h0m25.9 0.7h0m0.7-0.6h0m4.3 0.2h0m1.7 0.2h0m7.4-0.4h0m-40.7 1.2h0m12.4 0.2h0m22.3-0.4h0m4-0.2h0m-24.8 1.6h0m32.4-0.2h0m-41.4 1.4h0m9.4-0.3h0m14.4 0.4h0m6.5-0.9h0m6.9 0.1h0m-39.3 1.3h0m0.9-0.5h0m8.7 0.5h0m15.2 0.1h0m-41.5 1h0m26.2-0.5h0m0.8 0.6h0m0.3-0.4h0m31.5 0.6h0m-51.6 0.9h0m3.2-0.6h0m0.7 0.4h0m11.1-0.5h0m7.3 0.2h0m12.3-0.1h0m5.2 0.1h0m-46.8 1h0m0.7 0.4h0m6.6 0.3h0m17.2-0.2h0m1 0.1h0m5.4-0.8h0m1.2 0.6h0m26.1-0.4h0m2.9-0.3h0m-83 1.7h0m27-0.2h0m29-0.1h0m0.5 0h0m1.8-0.1h0m1.5 0.3h0m9.4 0.1h0m-76.1 0.6h0m26 0.5h0m31 0h0m0.8-0.6h0m4.5 0.6h0m6.2-0.2h0m12.7 0.2h0m2.8-0.7h0m37 0.4h0m-109.6 0.7h0m0.7 0.5h0m3.8-0.4h0m3.8-0.3h0m1.5 0.9h0m2.7 0.1h0m3.4-0.3h0m8.9-0.4h0m3.6 0.2h0m3 0h0m2.7-0.2h0m1.5 0.2h0m17.1 0.1h0m2.7-0.3h0m-61.3 0.8h0m1.3 0.6h0m30.3-0.6h0m8.3 0.7h0m7.8 0h0m0.8-0.2h0m0.6-0.2h0m5.2 0.3h0m4.7 0.2h0m1.6-0.5h0m4.6 0.2h0m-82.4 0.4h0m36.9 0.6h0m3.7 0.1h0m3.7 0h0m2.4 0.1h0m2.1-0.1h0m5.5 0h0m2.9-0.1h0m3 0.3h0m6.3-0.8h0m7.1 0.5h0m4.4 0.1h0m3.8-0.5h0m1.3 0.2h0m3 0.1h0m-54.4 1.3h0m13.2 0.2h0m1-0.8h0m2 0.3h0m2.8 0.4h0m7.3-0.2h0m2 0.2h0m16.6 0h0m5.4-0.6h0m17.9-0.2h0m-77.9 1.5h0m0.8 0.2h0m0.5-0.3h0m4.2-0.3h0m6.9 0.3h0m6.2-0.1h0m4.1 0.4h0m2.3 0h0m4.6-0.1h0m2.8-0.5h0m4.4 0.5h0m6.5-0.3h0m7.2-0.3h0m3.7 0.3h0m2.4 0.5h0m0.3 0h0m6.9-0.1h0m2.5 0.1h0m12.2-0.6h0m-67.9 0.8h0m2.3 0.8h0m4.7-0.8h0m5.9 0.7h0m2.8-0.1h0m0.5 0.2h0m0.7-0.3h0m9.1-0.4h0m1.5 0.3h0m0-0.2h0m0.6-0.2h0m7.5 0.2h0m2.5-0.3h0m7.9 0.8h0m2.8-0.1h0m-59 1.1h0m0.4-0.1h0m1-0.3h0m1.3 0.1h0m2.1-0.4h0m6.5 0.5h0m10.9 0.2h0m2.6-0.8h0m0.4 1h0m10.8-0.8h0m6.9-0.2h0m3.7 0.4h0m9.7 0.5h0m7.4 0.1h0m2.6-1h0m33.3 0.6h0m-104.8 1h0m10.4 0h0m19.7-0.1h0m0.6 0.2h0m2.2-0.3h0m3 0.4h0m1.8-0.6h0m3.2 0h0m3 0.7h0m4-0.2h0m10.1-0.4h0m1.9-0.1h0m3.5-0.2h0m-58.8 1.5h0m15.1 0.5h0m6-0.3h0m1.6-0.3h0m0.9 0.6h0m2.1-0.6h0m4.2 0.2h0m1.8-0.1h0m1.7 0h0m3 0.3h0m5.2-0.6h0m2.3 0.6h0m8.6-0.5h0m5.2-0.3h0m3 0.8h0m3.2-0.3h0m1.5 0.1h0m9.1-0.3h0m4 0.4h0m-92.2 0.4h0m6.9 0.4h0m7-0.3h0m0.5 0.5h0m7.1-0.2h0m3.4-0.2h0m4-0.1h0m5.1 0.2h0m4.3 0.1h0m3.1-0.1h0m2.1-0.2h0m1.4 0.2h0m1.3 0.3h0m2.8-0.1h0m5.8-0.2h0m5.9 0.1h0m4.8-0.3h0m17.3 0h0m5.4 0.1h0m-85.9 1.3h0m5.3 0.4h0m9.3-0.5h0m5.4 0.2h0m1.9 0h0m1.7 0.1h0m4.2-0.2h0m4.3-0.3h0m1 0.1h0m10.4 0.5h0m2.3-0.2h0m0.1-0.1h0m0.3-0.5h0m4.6 0.8h0m1.7-0.2h0m2.6-0.3h0m7.1-0.2h0m4.8 0h0m16.9 0.6h0m-78.4 0.9h0m1.8-0.5h0m4.1-0.1h0m3.1 0.7h0m1.5 0.1h0m2.4-0.4h0m6.1 0.3h0m0.3-0.2h0m9.2-0.1h0m4.9-0.5h0m0.3 0.1h0m1.9 0.3h0m1 0h0m2.5 0.1h0m2.5-0.2h0m0.1 0.6h0m1.7-0.2h0m0.9-0.2h0m1.2-0.3h0m0.6 0.3h0m0.6-0.3h0m6.2 0h0m0.9 0.4h0m2-0.3h0m2.2-0.1h0m2.9 0.6h0m2.9-0.3h0m-73.8 0.6h0m9.4 0.5h0m6.2-0.2h0m2.1 0h0m0.5-0.1h0m3 0.6h0m1.3-0.9h0m4 0.9h0m2.8-0.7h0m0.9 0.6h0m2.8 0.1h0m2.5-0.1h0m0.2-0.7h0m4.6-0.1h0m0.7 0.4h0m1.2 0.2h0m4.5-0.1h0m0.1 0.1h0m0.1 0.3h0m3.4-0.3h0m1.2 0h0m0.2-0.2h0m5.3-0.2h0m1.1 0h0m2.9 0h0m13.1 0.6h0m-61.1 1.1h0m4.1-0.4h0m9.8-0.1h0m4.7-0.4h0m1.7 0.3h0m1 0.1h0m3.4 0.1h0m3.5-0.1h0m0.3-0.3h0m5.7 0.1h0m1.6 0h0m3.6 0.2h0m2.7-0.4h0m1 0.1h0m5-0.1h0m1.2 0.1h0m7.6 0.2h0m1.4-0.2h0m30.4 0.1h0m-89.9 1.1h0m2.3 0h0m0.4 0.7h0m2.1-0.7h0m0.4 0h0m0.1 0.5h0m0.4-0.6h0m1.6 0.7h0m2 0h0m0.8-0.8h0m0.4 0.7h0m5.6 0.1h0m32.2-0.6h0m7.5 0.5h0m2.2-0.2h0m7.3-0.4h0m13.6 0.2h0m5.9 0.4h0m-82.2 0.3h0m2.9 0.7h0m0.4-0.5h0m0.6 0h0m2.4 0.3h0m6 0h0m0.6 0h0m27.5-0.2h0m0.4 0.6h0m18.5-0.9h0m-69.5 1.9h0m4-0.7h0m1.3 0.3h0m4.8-0.4h0m9.2 0.1h0m0.1 0.4h0m31.9-0.4h0m5.9 0.5h0m2.7-0.8h0m4.6 0.7h0m2.8-0.6h0m2.6 0.3h0m1.4 0.1h0m2.8 0.4h0m0.7-0.7h0m2.5 0.1h0m2.3 0.1h0m14.2 0.1h0m-96.5 1.1h0m1.6 0.4h0m12-1h0m8.8 0.5h0m3.2-0.3h0m1.5 0.1h0m28 0.1h0m0.1-0.2h0m4.4 0h0m0 0.3h0m0.8-0.4h0m8.4 0.4h0m-86.3 0.8h0m15 0h0m11.2-0.1h0m1.8-0.1h0m2.2 0.9h0m12.2-0.7h0m1 0.2h0m1.3-0.2h0m25.2 0.5h0m2.2-0.6h0m0.3-0.1h0m0.5 0.5h0m0.8 0.3h0m0-0.1h0m3 0.2h0m1.2-0.3h0m0.5-0.4h0m3.7 0.4h0m12.9-0.4h0m2.1 0.7h0m4.9-0.1h0m0.4 0h0m-90.2 0.7h0m0.9 0.1h0m3.3-0.5h0m8.9-0.1h0m0.1 0.7h0m1-0.5h0m2.9 0.1h0m1 0.2h0m0.2-0.5h0m0 0.1h0m10.6 0h0m0.9 0.2h0m31.6 0.1h0m1.8-0.3h0m0.4 0.4h0m2.9-0.6h0m32 0.2h0m-97.4 0.8h0m8.4 0h0m2.2 0h0m3.2 0.6h0m51-0.6h0m2.5 0.6h0m0.4-0.2h0m4.1-0.4h0m3.2 0.4h0m21.9 0h0m-109.1 1h0m15.5-0.3h0m9.4 0.6h0m3.3-0.6h0m1.6 0.5h0m45.6-0.5h0m0.3 0.7h0m0.6-0.1h0m16.9-0.2h0m-82 0.7h0m8.8 0.2h0m6.2 0.1h0m2.1-0.2h0m43.5 0.5h0m4.3 0.2h0m0.5-0.4h0m2.4-0.5h0m2 0.5h0m0.7-0.2h0m2.8-0.2h0m1.2 0.1h0m0.3 0.4h0m12.1 0.1h0m17.3 0.1h0m-112.1 0.7h0m19.5-0.2h0m5.9 0h0m1.2-0.1h0m0.1 0.2h0m42.6 0.5h0m2.9-0.9h0m0.3 0.4h0m0.1 0.3h0m5.5-0.4h0m-61.2 1.1h0m3.2 0h0m3-0.2h0m3.5-0.3h0m45.3 0.5h0m2 0.5h0m2-0.6h0m2.9 0.2h0m0.4 0.3h0m14-0.4h0m-91.7 1.5h0m3.5 0h0m8-0.3h0m6.3 0.2h0m2.7-0.9h0m2 0.5h0m0.8 0.2h0m3.3-0.6h0m43.9 0.3h0m1.9 0.4h0m1.5-0.5h0m0.2 0.5h0m0.4-0.5h0m0.2 0.4h0m1.3-0.3h0m1.7 0.5h0m1-0.7h0m2.6 0.1h0m0.2-0.3h0m-78.7 1.1h0m9.3 0.7h0m2.5-0.2h0m1.3-0.1h0m4.7-0.5h0m0.3 0.5h0m3.9 0.1h0m1.3 0.4h0m36.8-0.6h0m1.5 0h0m1.3-0.1h0m4.4-0.2h0m12.1 0.8h0m18.2 0h0m-94.4 0.5h0m6.4 0.4h0m9.5 0.1h0m1.5-0.3h0m1.6 0.1h0m0.1 0.2h0m0.9-0.2h0m0.1 0.2h0m37.3 0h0m1.6-0.2h0m0.1-0.6h0m0.6 0.7h0m3-0.7h0m1 0.2h0m2.5 0.5h0m0-0.4h0m3.7-0.2h0m8.4 0.4h0m7.8-0.3h0m5.8-0.1h0m4.5 0.8h0m18.7-0.6h0m-105.4 1.6h0m1-0.7h0m0.7 0.3h0m3.4 0.4h0m4.7-0.1h0m0.9-0.5h0m40-0.3h0m2.8 0.1h0m4.1 0.5h0m9.7-0.2h0m9.3 0h0m-95.7 1.2h0m10.4-0.1h0m5.3-0.2h0m6 0.4h0m2.3 0h0m4.2-0.7h0m44.4 0.3h0m0.2-0.4h0m2.8 0.8h0m0.4-0.8h0m0.7 0.2h0m5 0.1h0m6.6 0h0m16.6 0.4h0m-101.9 0.4h0m8.8 0.3h0m4.8 0.5h0m1.6-0.6h0m7 0.6h0m0.2 0h0m0.8-0.2h0m2.8 0.2h0m40.8-0.3h0m1.2-0.1h0m0.7 0.2h0m1.8-0.3h0m0.5 0.3h0m-91.9 1.2h0m30.1-0.3h0m4 0h0m3.6-0.1h0m5.1 0h0m2-0.3h0m0.7 0h0m2.2 0.6h0m33.5-0.2h0m1.5 0.2h0m0.4-0.2h0m0.1 0.1h0m2.3 0h0m2-0.4h0m0.6 0h0m1.2-0.1h0m2.4 0.5h0m0.2-0.6h0m0.6 0.9h0m-74.4 0.5h0m16.9 0.2h0m0.8-0.2h0m0.3 0.3h0m5-0.3h0m3.1 0.1h0m0.2 0.2h0m0-0.7h0m0.9 0.9h0m0.4-0.1h0m0.1-0.1h0m1.2-0.3h0m2.8-0.5h0m33.3 0.4h0m3.4 0.1h0m3.8 0.4h0m1.9-0.2h0m0.8-0.6h0m0.4 0.6h0m2.7-0.5h0m5.2 0h0m6.8 0.4h0m-26 1h0m1-0.4h0m4.5-0.1h0m3.7 0.1h0m4.1 0.8h0m14.3-0.5h0m-116.3 1h0m33.6-0.1h0m4.4 0.1h0m2.3-0.3h0m1.6-0.2h0m4.2 0.3h0m3.1-0.1h0m1.7 0h0m3.6 0h0m34.1 0.4h0m0.8-0.4h0m2.6 0.8h0m0-0.1h0m1.5-0.2h0m1 0h0m3.8-0.7h0m1.4 0h0m1.5 0.6h0m4.7-0.2h0m9.9-0.2h0m-80.3 1.3h0m3.6-0.4h0m1.4 0.1h0m5.2 0.5h0m42.3-0.6h0m1.3 0.7h0m0.1-0.5h0m0.5 0h0m7.6-0.3h0m4.3 0.5h0m6.1-0.2h0m-82.9 1h0m10.4 0.5h0m7.2-0.7h0m3.2 0.4h0m3.1-0.2h0m4.1 0.5h0m0.9-0.5h0m34.1-0.1h0m2.3 0.4h0m0.7-0.3h0m1.2 0h0m13.8 0.4h0m-65.2 1.3h0m2.5-0.1h0m1.9-0.3h0m7.1 0h0m2.1 0.2h0m0.3-0.3h0m21.9 0.5h0m7.1-0.1h0m7.9-0.1h0m0.4-0.4h0m1.7 0.6h0m11.5-0.3h0m2 0.1h0m-68.5 0.9h0m7.9-0.3h0m1.9-0.1h0m2.7 0.2h0m0.6 0.2h0m1.3-0.3h0m0.5 0.6h0m23.4-0.8h0m2.8-0.2h0m0.5 0.4h0m0.6 0.2h0m0.6-0.1h0m3.4 0.3h0m1.5-0.6h0m8.8 0.1h0m4.4 0.2h0m7-0.2h0m-65.3 1.1h0m4.6 0.4h0m2.2-0.4h0m1 0.4h0m0.1-0.3h0m3.3-0.3h0m0.1-0.1h0m0.5 0h0m0.5 0.2h0m0.3-0.2h0m24.1 0.5h0m0.9-0.2h0m0 0.1h0m3.4 0.1h0m1.6-0.3h0m5.9 0.7h0m1.8-0.1h0m12.3-0.4h0m14.2 0.1h0m-86.8 1.2h0m2.6 0.2h0m8.2-0.2h0m2.9 0h0m4.5-0.6h0m0.9 0.2h0m1.5 0.1h0m3.4 0.4h0m8.9-0.1h0m0.1-0.2h0m7.2 0.3h0m1-0.1h0m3.3-0.2h0m2.7 0.1h0m3.6-0.5h0m0.3 0h0m2.3 0.1h0m4.6-0.1h0m7.9 0.4h0m0.4 0h0m3-0.4h0m6.5 0.6h0m4.4-0.6h0m-77.7 1.1h0m6.1-0.1h0m0.6 0.2h0m0.2-0.1h0m0.6 0.7h0m3.8-0.4h0m1.7 0.4h0m3.7-0.4h0m5.5 0.4h0m1-0.1h0m0.5-0.4h0m0-0.2h0m0.7 0.7h0m2.6-1h0m0.8 0.9h0m0.6-0.1h0m0.3-0.5h0m1.3 0.4h0m1.5 0.2h0m0.6-0.2h0m9 0.1h0m9 0.1h0m12.5-0.2h0m13.2-0.5h0m2.1 0.5h0m-78 0.7h0m7.1-0.4h0m8.5 0.8h0m0.6-0.2h0m2.1-0.5h0m0.2 0.2h0m0.6 0.1h0m0.8-0.1h0m2 0.5h0m2.9-0.6h0m4.3 0.5h0m3.1-0.6h0m0.3 0.5h0m0.7 0.2h0m3.6 0.2h0m0.5-0.6h0m1.3-0.2h0m1 0h0m0.6 0.1h0m2 0.7h0m1.8-1h0m5.3 0.1h0m0 0.2h0m0.7 0h0m5.6 0.1h0m0.2-0.2h0m1.4-0.2h0m10.5 1h0m2.3-1h0m0.5 0.1h0m-64.9 1.3h0m0-0.2h0m6.8 0.1h0m1.1 0.7h0m0.5-0.1h0m3.5-0.2h0m4.6-0.3h0m0.6 0.4h0m4.5-0.3h0m1.4 0.1h0m0.9 0h0m2.3-0.5h0m3.4 0.8h0m1.8-0.7h0m2.1 0.7h0m4.3 0h0m0.6-0.1h0m2.7-0.5h0m0.8-0.1h0m14.5 0.8h0m-65 0.6h0m1.4-0.4h0m9.8 0.5h0m1.3-0.3h0m7.1-0.1h0m1.2-0.1h0m2.8 0.7h0m4.1-0.8h0m3.1 0.6h0m2 0h0m1.6 0h0m2.6-0.5h0m0 0.7h0m5.1-0.9h0m6.8 0.9h0m1.7-0.1h0m1-0.5h0m1.5 0h0m6.2 0.7h0m0.5-0.7h0m3.6 0.1h0m3.2 0.2h0m-71.5 1h0m1.4 0.2h0m3-0.8h0m1.8 0.9h0m3.3-0.7h0m6.3 0h0m6.2 0.2h0m2.7 0.4h0m0.6-0.2h0m5.2-0.4h0m2.1 0h0m2.4-0.2h0m8 0.2h0m2.7 0.2h0m1.4 0.1h0m1-0.1h0m1 0.3h0m7.8-0.1h0m8.5-0.5h0m6.2 0.8h0m3.7-0.3h0m2.5 0h0m-76.1 0.9h0m13.9-0.4h0m6.5 0.5h0m13.1 0h0m0.7-0.2h0m0 0.1h0m11.2 0.2h0m1.3-0.1h0m7.1-0.4h0m0.7 0.4h0m2.8 0h0m1.3 0.3h0m0.5-0.4h0m1.9 0.5h0m6.3 0h0m10.2 0h0m-74.5 0.9h0m6.3-0.4h0m1.9-0.5h0m0.3 0.8h0m0.6-0.6h0m4.2 0.5h0m1.8 0.2h0m6.6-0.7h0m0.7-0.2h0m4.6 0.7h0m0.1 0.2h0m6-0.4h0m4.9 0h0m4.1-0.4h0m1.1 0.1h0m8.4 0.4h0m1.6 0h0m1.5 0.2h0m9.4-0.5h0m8.2 0.3h0m0.9 0.2h0m3.7-0.4h0m-97.2 1.6h0m22-0.1h0m7.6-0.7h0m15.7-0.1h0m4 0.8h0m2-0.5h0m1.9 0.6h0m2.2-0.9h0m1 0.4h0m0.7-0.5h0m0.8 0.8h0m0.6-0.8h0m0.8 0.1h0m1.3 0.7h0m6.9-0.2h0m11 0.1h0m3.9 0.2h0m11.8-0.9h0m4.4 0.7h0m6.5-0.1h0m-69.7 1.1h0m0.1-0.7h0m1.7 0.9h0m1.6 0.1h0m0.7-0.3h0m5.1 0.1h0m0.3-0.6h0m0.4 0.5h0m3.6-0.7h0m0.3 0.1h0m0.3 0.3h0m3.8 0.4h0m0.7-0.2h0m4.1-0.3h0m0.8 0.6h0m1.7-0.4h0m1.7 0.3h0m3-0.7h0m0 0.4h0m0.2 0.5h0m1.9-0.6h0m3.2 0.2h0m6.1 0.3h0m4.4-0.7h0m-62.8 1.3h0m20.1 0h0m3.7-0.5h0m6.9 0.1h0m6.6 0.1h0m3.5 0.6h0m0.1 0.1h0m0.3-0.7h0m1.6 0.4h0m1.5-0.3h0m0.5-0.1h0m1.1 0.6h0m1.1-0.2h0m0.3-0.1h0m3.3-0.3h0m4.7 0.2h0m2.8 0.1h0m2.3-0.1h0m-58.8 1.2h0m10.1-0.5h0m5.1 0.8h0m3.3-0.2h0m11.8-0.1h0m24.3 0.3h0m12.2-0.2h0m0-0.2h0m-67.1 0.8h0m15-0.2h0m28 0.2h0m1.6-0.1h0m23 0.2h0m5.2 0.3h0m20.9 0.2h0m-80 0.5h0m8.5 0.2h0m10.9 0.2h0m7-0.3h0m0.5-0.1h0m1.5 0.4h0m2.3 0.1h0m8.8-0.8h0m-47.8 1.3h0m6.5-0.1h0m1.8-0.1h0m9.6 0.7h0m3-0.1h0m1.6-0.3h0m1.5-0.2h0m7.1 0.2h0m8 0.4h0m1.9-0.6h0m2.9 0.2h0m12.9-0.4h0m-44.3 1.1h0m5.2 0.4h0m0.8 0.3h0m4.4 0h0m0.5-0.4h0m5.6-0.2h0m14.8 0.6h0m0.8-0.9h0m5.9 0.1h0m0.9 0.6h0m7.6-0.5h0m2.4-0.1h0m16 0.8h0m-56 0.3h0m3.1 0.4h0m12.4 0.4h0m-17 0.3h0m2.2 0.7h0m3.4-0.5h0m3.8-0.2h0m6.8 0.2h0m10.3-0.2h0m4.6 0.5h0m0.6-0.5h0m2.2 0.6h0m9.3-0.5h0m-51.7 1.4h0m3.8-0.5h0m7 0.3h0m2.7-0.2h0m20 0.3h0m10.6-0.7h0m11.1 0.5h0m-81.6 1.1h0m31.5-0.2h0m5.5 0h0m2.2 0h0m1.2 0.5h0m6-0.2h0m14.8 0h0m19.3-0.2h0m4.5-0.4h0m-51.6 1.6h0m7.4-0.5h0m10.4 0.1h0m0.8 0.6h0m0.6-0.4h0m1-0.4h0m-21.7 1h0m3.1 0.5h0m0.3-0.5h0m10.6 0.1h0m2.8 0h0m5.7 0.1h0m5.1-0.1h0m26.5 0h0m10.5 0.3h0m-76.7 1.1h0m12.2 0.4h0m9.7-0.1h0m16.5-0.9h0m16.1 0.1h0m-28.9 0.9h0m4 0.2h0m2.4-0.1h0m0.9 0.2h0m5.5 0.3h0m-29.8 1.1h0m13.5 0h0m2.6 0.3h0m1.4-0.8h0m7.9 0.4h0m-21 0.4h0m2.3 0.6h0m39.1-0.4h0m-22.2 1.7h0m1.8-0.8h0m9.8 0.1h0m4 0.6h0m12.5-0.1h0m-59.2 0.6h0m28.9 0h0m13 0.3h0m-46.3 0.5h0m4.5 0.9h0m9.2-0.1h0m0.1-0.1h0m3.5 0h0m-10.7 1h0m5.8-0.7h0m11.4 0.7h0m19-0.4h0m19.6 1.4h0m-40.1 0.5h0m32 1h0m-20 1.1h0m13.5 0.1h0m-48.1 0.9h0m20.1-0.2h0m2.7 1.8h0m2.9-0.7h0m2.4 1.6h0m21.2-0.2h0m12.2-0.5h0m-37.3 1h0m10.4 0.5h0m18.2 1h0m12.9 0.9h0m-48.7 1.2h0m-22.7 0.7h0m17.7 0h0m8.6 0.3h0m28.7-0.2h0m-52 1.7h0m0.2 1.2h0" fill="none" stroke="#1818f0" stroke-width="1.3" stroke-linecap="square"/>
<path d="M1006.7 1293.4h0m1.2 0.1h0m0.6-0.2h0m0.9 0.2h0m8.5-0.4h0m1.1 0.3h0m1.4 0h0m0.7-0.2h0m1.6-0.1h0m3.9 0.1h0m1.8-0.2h0m-21.8 1.2h0m0.9-0.5h0m0.6-0.2h0m0.5 0.4h0m1.2-0.3h0m1.4 0.1h0m1.3 0.4h0m0.9 0.2h0m0.3 0.1h0m1.6-0.1h0m0.9 0h0m4.1-0.1h0m2.6 0.1h0m0.3-0.1h0m0.5-0.1h0m0.3-0.2h0m1.4 0.2h0m1.8-0.4h0m-20.7 1.2h0m0.5 0.2h0m0.8 0.4h0m2.4-0.9h0m0.1 0.2h0m0.8 0.2h0m1.8 0h0m0.5 0.3h0m0.5-0.7h0m0.8 0.9h0m0.3-0.3h0m1.1-0.4h0m2.1 0.6h0m0.1 0.1h0m0.5-0.6h0m0.2-0.3h0m0.7 0.8h0m0.9-0.3h0m0.9-0.4h0m1.6 0.1h0m1.6 0.4h0m0.7 0h0m-19.6 0.3h0m2.6 0.1h0m3 0.2h0m2.4-0.2h0m12.6 0.7h0m0.3-0.1h0m1.2 0.2h0m-34.6 0.9h0m4.2 0.1h0m0.4-0.4h0m9.9 0.1h0m-14.7 1h0m0.4 0.4h0m0.1-0.8h0m2.5 0.2h0m0.8 0.1h0m0.4-0.2h0m8.8 0.5h0m22.6 0h0m0.1-0.3h0m-31.9 1.2h0m0.2 0h0m1.2-0.6h0m1.6 0.9h0m1.1-0.4h0m4 0.1h0m0.7-0.1h0m22-0.3h0m0.3 0h0m3.4 0.6h0m3.6 0h0m-40.8 1h0m0.1-0.2h0m3.2-0.5h0m0 0.5h0m1.6-0.3h0m1.4 0.1h0m0.7 0h0m1.5 0.1h0m0.2 0h0m0.3 0.4h0m1.9-0.6h0m0.9 0.5h0m1.3-0.1h0m0.1 0.2h0m0 0h0m23-0.8h0m0.1-0.1h0m0.8 0.3h0m0.6 0h0m0.9 0.1h0m0 0.1h0m1.1 0.3h0m-40 1h0m0.9-0.3h0m1.3-0.5h0m0.8 0.7h0m1.4-0.2h0m0.5-0.5h0m0.1 0.2h0m1.2 0.3h0m5.1-0.6h0m0.8 0.3h0m23.7 0.4h0m1.3-0.5h0m2.4-0.2h0m-39.5 1.8h0m0.4-0.3h0m0.1-0.2h0m2.1 0.1h0m3.7-0.4h0m0.9 0.3h0m4.1 0h0m25.2 0.1h0m0.3 0.1h0m0.1-0.2h0m0.5-0.1h0m1.7 0h0m-38.6 1.5h0m1.2 0h0m33.8-0.5h0m0.7 0.6h0m1.3-0.8h0m-38.3 1h0m2.4 0.6h0m35.5-0.6h0m-37 1.1h0m0.4 0.8h0m0.2-0.5h0m2.2 0.2h0m26.9 0.2h0m1.6-0.3h0m0.5 0.2h0m0.1 0h0m1.6 0.3h0m-33.9 0.6h0m3.4-0.1h0m1.6 0.2h0m0.3-0.1h0m25.3 0.3h0m3.4 0h0m0.5-0.8h0m-34.7 1.3h0m0.2 0.3h0m2.8 0.1h0m1.8 0h0m25.6-0.5h0m3.4 0.4h0m-33.9 0.5h0m4 0h0m0.2 0.5h0m25.5-0.5h0m0.8 0.7h0m3.4-0.6h0m-30.6 1.1h0m1.6 0.5h0m0.1-0.4h0m0.1-0.2h0m24.7-0.3h0m1.1 0.1h0m0.1-0.1h0m1.5 0.4h0m1.8 0.2h0m0.7 0.2h0m0.5-0.2h0m-33.1 1h0m1.3-0.3h0m0.4 0.6h0m1.6-0.6h0m24.2 0.3h0m0.6 0.3h0m0.5-0.5h0m0.2-0.3h0m-31.4 1h0m4 0.5h0m0.3-0.5h0m12.5 0.5h0m1.6 0.2h0m12-0.1h0m1.1 0h0m2.6-0.5h0m-30.8 1.5h0m0.8 0.1h0m0.9-0.2h0m0.6-0.5h0m9.8 0.1h0m3.9 0.4h0m12-0.1h0m-27.8 0.7h0m0 0.2h0m11.5-0.2h0m2.1 0.5h0m1.2 0.3h0m1.5-0.5h0m10.6-0.2h0m0.1-0.1h0m0.2 0h0m-28.5 1.5h0m3 0.1h0m0.2-0.8h0m6.8 0.9h0m0.6 0h0m4.5-0.9h0m1.1 0.5h0m1.9 0.4h0m0.5-0.4h0m0.2 0.4h0m0.9-0.4h0m1.7 0.2h0m3.7-0.1h0m4.1-0.2h0m0.2-0.1h0m-29.5 1.6h0m2.8-0.7h0m7.1 0.4h0m0.5-0.1h0m0.5 0.3h0m0.7 0h0m0.5-0.4h0m4.2 0.2h0m5.6-0.1h0m3 0.4h0m2.1 0h0m0.2-0.5h0m0.2-0.1h0m0.4 0.6h0m-29.7 0.6h0m4.7-0.5h0m0.7 0.3h0m8.8-0.2h0m2 0.8h0m0.6-0.3h0m0.6-0.6h0m0.7 0.7h0m1.4 0.3h0m3-0.4h0m0-0.4h0m2.7 0h0m1.5-0.1h0m1.7-0.1h0m1.5 0.3h0m-29.3 1.1h0m0-0.2h0m1.5 0.5h0m1.7-0.1h0m0.3 0h0m0.4-0.4h0m3.9 0.4h0m3.4-0.4h0m1.2-0.2h0m0.8 0.6h0m0.2-0.6h0m2 0.3h0m1.1 0.1h0m1 0.6h0m0.5-0.6h0m5.4-0.2h0m-21.1 1.2h0m1.5 0.1h0m0.7-0.4h0m0.8-0.1h0m0.1 0.6h0m5.8-0.6h0m2.8 0h0m3.5 0.3h0m1.8 0.3h0m0 0.2h0m0.2 0.1h0m0.2-0.8h0m-19.4 1.2h0m1.5 0h0m5 0.4h0m0.1-0.2h0m0.2 0.2h0m4.8 0h0m0.3-0.2h0m2.4-0.1h0m0.7 0.1h0m0.3-0.2h0m0.8-0.3h0m1.5 0.5h0m0.6 0.3h0m0.1 0.1h0m-14.7 0.5h0m0 0h0m11.9 0h0m0.2 0h0" fill="none" stroke="#18c8f0" stroke-width="1.3" stroke-linecap="square"/>
<path d="M1009.6 1296.5h0m1.5-0.2h0m1.4 0h0m3.8 0h0m1.5-0.2h0m1.1 0.2h0m-10.8 0.7h0m2 0h0m0.2 0.3h0m0 0.1h0m3.8-0.1h0m2.2 0.1h0m0.1 0.1h0m0.9-0.3h0m0.5-0.7h0m2.5 0.1h0m1.3 0.8h0m2.5-0.6h0m0.8-0.1h0m0.4 0.1h0m0.7 0.7h0m0-0.1h0m-16 1h0m0.4-0.9h0m0.2 0.2h0m0.6 0.6h0m0-0.7h0m0.7 0.2h0m2.9-0.1h0m0.8 0.7h0m0.3 0h0m1.1-0.4h0m1.4 0.2h0m1 0.3h0m3.2-0.4h0m0.7 0h0m0.7 0.3h0m0.4-0.1h0m0.4-0.4h0m-14.8 1.2h0m0.4 0.3h0m0.2-0.1h0m1.5 0h0m1.7-0.3h0m1.6-0.1h0m5.2-0.3h0m1.2-0.1h0m1.6 0.9h0m0.1-0.5h0m0.5 0h0m1.7 0.1h0m2 0.5h0m-19.1 0.3h0m0.6 0.1h0m1.2 0.3h0m0.3-0.6h0m2 0.6h0m0.8-0.6h0m0.1 0.3h0m9.8 0h0m0.8-0.3h0m0.7 0.6h0m0.5-0.4h0m0.4 0.7h0m0.5-0.1h0m0.1-0.2h0m0.3-0.3h0m-17.7 0.9h0m0 0.1h0m0.1 0.1h0m1.4-0.2h0m2.8 0h0m0.2 0.4h0m0-0.1h0m9.7-0.5h0m0.7 0.3h0m0.1 0.4h0m0.5 0.1h0m1.4 0.1h0m-29.1 0.7h0m1.2 0.1h0m0.3 0.2h0m0.9-0.3h0m4.1-0.2h0m1.7 0.2h0m6.7-0.7h0m1.4 0.2h0m8.5 0.8h0m4.6-0.8h0m-30 1.2h0m1.2 0.3h0m2.5-0.2h0m0.7-0.4h0m5.1 0.9h0m0.6-0.6h0m1.1 0.2h0m13.6-0.4h0m0.8 0.3h0m2.2 0.4h0m3.1-0.8h0m1.7 0.5h0m-32.1 1.1h0m0.3 0.1h0m0.9-0.7h0m1.4 0.2h0m0.4-0.2h0m1.2 0.4h0m1.2 0.1h0m0.2 0.1h0m1-0.7h0m0.1 0.7h0m0.5 0.1h0m2.4-0.1h0m0.5-0.6h0m13.6 0.8h0m0.4 0h0m3.4 0.1h0m1.7-0.2h0m0.3-0.2h0m0.3 0h0m0.6-0.4h0m0.9 0.5h0m0.7-0.2h0m0.1 0.1h0m-30.2 0.8h0m2.8 0.2h0m2.9-0.4h0m0.7 0.3h0m0.2-0.1h0m1.7 0.6h0m0.3-0.1h0m0.1-0.7h0m13.4-0.2h0m2 0.1h0m0.5 0.4h0m2 0h0m0.1-0.1h0m0.1-0.3h0m-24.3 1.3h0m3.3 0h0m1.1 0.6h0m1.3-0.1h0m0.5-0.5h0m0.2-0.3h0m1.5 0h0m0.5 0.8h0m0.7-0.3h0m0.8-0.4h0m10 0.8h0m-21.7 0.9h0m0.4-0.3h0m1.5 0.2h0m0.3-0.5h0m0.7 0.3h0m2.3-0.3h0m1.4-0.2h0m0.4 0.3h0m0.5 0.2h0m0.3 0.3h0m1.6-0.3h0m1 0.2h0m1.2 0.1h0m10.7-0.1h0m0.8-0.6h0m0 0.4h0m-23.2 0.7h0m0.7 0.3h0m0.6-0.4h0m1.2 0.3h0m0.4 0h0m0.1 0.2h0m1.3 0.1h0m2 0h0m0.1-0.5h0m0.8 0.3h0m1.5-0.5h0m1.8 0.2h0m0.3 0.2h0m0.6-0.4h0m3.4 0.8h0m3.3-0.2h0m0.1 0h0m3.8-0.4h0m0.5 0.6h0m0.1 0h0m-22.6 0.2h0m2.5 0.2h0m0.3 0h0m1.5 0.5h0m3-0.1h0m3.2 0h0m0.2-0.2h0m3.5 0.5h0m0.1-0.4h0m0.2-0.1h0m4.3-0.5h0m0.2 0.1h0m0.4 0.3h0m0-0.1h0m4.4 0.3h0m-20.4 0.9h0m0.4 0h0m0.6 0.2h0m0.5 0.2h0m0-0.4h0m0.7 0h0m0.9-0.1h0m0.4 0.6h0m0.2-0.4h0m0.8-0.4h0m2.5 0.3h0m0.3-0.2h0m0.7 0h0m2.2-0.3h0m4.9 0.2h0m0.1-0.1h0m1.8-0.1h0m0.3 0.4h0m1.1 0h0m1.1-0.3h0m-22.3 1.5h0m0.8 0h0m0-0.3h0m4.5 0.3h0m1.1-0.1h0m0.2 0.4h0m0.3-0.8h0m2.9 0h0m2.1 0.2h0m0.2-0.1h0m0.3 0.1h0m3.1 0.4h0m2.6 0.3h0m0.6-0.8h0m3.7 0.6h0m-23.2 0.2h0m1.7 0.6h0m0.4 0h0m0.2-0.3h0m1.3 0.1h0m0.5 0.5h0m0.6-0.7h0m1.6 0.4h0m1.7-0.2h0m9.2 0.4h0m1.3-0.6h0m1.3 0.5h0m0.8 0h0m1.4-0.6h0m0.6 0.3h0m0.6-0.1h0m0.4 0.6h0m0 0.1h0m-22.7 0.5h0m0.8-0.3h0m0-0.2h0m1.5 0.5h0m2.4-0.4h0m1.7 0h0m0.8 0.6h0m7.9 0h0m0.9 0.1h0m0.6-0.2h0m1.2 0.4h0m0.1-0.7h0m0 0.6h0m0-0.1h0m0.7-0.1h0m-18.6 0.9h0m0.3 0.1h0m0.6 0.1h0m2.5-0.7h0m0.1-0.1h0m0.2 0.8h0m0.9 0.1h0m0.6-0.6h0m10.2 0.1h0m0.9-0.1h0m0.7 0h0m1.7-0.1h0m0.4-0.2h0m0.4 0.4h0m-19.7 1.3h0m1.5 0.1h0m0.9 0h0m0.9-0.3h0m-2.9 1.2h0m0.2 0h0m0.3-0.3h0m0.4 0.1h0m0.1 0.2h0m3.4 0.1h0m-3.5 0.4h0m1 0.3h0m0.4 0.4h0m0.4-0.5h0m0.4 0.2h0m1-0.1h0m-1.8 1.3h0m1.7-0.1h0m0.9 0.1h0m-1.6 0.3h0m-0.8 1.1h0" fill="none" stroke="#28c040" stroke-width="1.3" stroke-linecap="square"/>
<path d="M1014.4 1299.1h0m5 0.4h0m0.9-0.3h0m1.4 0.3h0m-7.5 0.4h0m1.6 0.6h0m0.2-0.4h0m0.6 0h0m0.1-0.2h0m0.3 0.3h0m4.8-0.7h0m0.1 0.7h0m0.6 0h0m-7.4 0.5h0m0.5 0.2h0m0.7 0.1h0m0.3 0.1h0m1.1-0.2h0m2-0.2h0m0.3 0h0m0.5 0h0m0.7 0.5h0m1-0.1h0m0.2 0.1h0m0.1 0.3h0m-12.2 1h0m7.7-0.1h0m0.6-0.8h0m0-0.1h0m1.1 0.8h0m2.2-0.7h0m-3.1 1.2h0m0.7 0.5h0m0.1 0.1h0m0.1 0h0m-1.9 0.3h0m0.1 0.8h0m0.5-0.1h0m1.2-0.4h0m-9.6 1h0m2.3 0.1h0m5.4-0.4h0m0.9 0.6h0m0.6-0.3h0m0.5-0.1h0m-8.5 1.4h0m0.8-0.7h0m0 0.8h0m1.1-0.3h0m0.5-0.3h0m0.1 0h0m4.9 0.4h0m-7.5 1.1h0m0.4-0.6h0m0.3-0.1h0m0.8 0.8h0m0.6 0.1h0m0-0.1h0m4.5-0.7h0m1.3 0.1h0m0.5 0.6h0m-5.5 0.6h0m1.3 0.1h0m2.2-0.5h0m1.3 0.1h0m1 0.1h0m-5.4 0.7h0m0.2 0.4h0m0.5-0.1h0m0.6 0.2h0m0.2 1.3h0m0.5-0.3h0" fill="none" stroke="#e0d020" stroke-width="1.3" stroke-linecap="square"/>
<path d="M1011.8 1302.5h0m0.2-0.3h0m3.9 0.3h0m-4.4 0.3h0m2.4 0h0m0.1-0.1h0m1.5 0.6h0m0-0.7h0m0.3 0h0m0.2 0.3h0m-4.5 0.8h0m0.8-0.1h0m0.6 0.1h0m0.2 0.3h0m1.7-0.3h0m1.8 0.2h0m-5.1 1.1h0m2.5-0.4h0m0.7 0.6h0m0.2-0.4h0m1.6-0.2h0m-0.9 1.2h0m0.4 0.5h0m0.1 0.1h0m0.1-0.5h0m0.3 0.2h0m-2.4 0.5h0m1.1 0.9h0m1.2-0.2h0m-1.4 0.3h0m0.9 0.2h0" fill="none" stroke="#e8501c" stroke-width="1.3" stroke-linecap="square"/>
<rect x="935.8" y="1129.5" width="238.4" height="238.5" fill="none" stroke="#000" stroke-width="1.5"/>
<line x1="1056" y1="1129.5" x2="1056" y2="1368" stroke="#000" stroke-width="1.4"/>
<line x1="935.8" y1="1237" x2="1174.2" y2="1237" stroke="#000" stroke-width="1.4"/>
<path d="M937.6 1368V1370.5M940.7 1368V1370.5M943.3 1368V1370.5M945.7 1368V1370.5M947.8 1368V1373M961.7 1368V1370.5M969.9 1368V1370.5M975.6 1368V1370.5M980.1 1368V1370.5M983.8 1368V1370.5M986.9 1368V1370.5M989.5 1368V1370.5M991.9 1368V1370.5M994 1368V1373M1007.9 1368V1370.5M1016.1 1368V1370.5M1021.8 1368V1370.5M1026.3 1368V1370.5M1030 1368V1370.5M1033.1 1368V1370.5M1035.7 1368V1370.5M1038.1 1368V1370.5M1040.2 1368V1373M1054.1 1368V1370.5M1062.3 1368V1370.5M1068 1368V1370.5M1072.5 1368V1370.5M1076.2 1368V1370.5M1079.3 1368V1370.5M1081.9 1368V1370.5M1084.3 1368V1370.5M1086.4 1368V1373M1100.3 1368V1370.5M1108.5 1368V1370.5M1114.2 1368V1370.5M1118.7 1368V1370.5M1122.4 1368V1370.5M1125.5 1368V1370.5M1128.1 1368V1370.5M1130.5 1368V1370.5M1132.6 1368V1373M1146.5 1368V1370.5M1154.7 1368V1370.5M1160.4 1368V1370.5M1164.9 1368V1370.5M1168.6 1368V1370.5M1171.7 1368V1370.5M935.8 1368V1373M1174.2 1368V1373M933.3 1364.2H935.8M933.3 1357.7H935.8M933.3 1353H935.8M933.3 1349.4H935.8M933.3 1346.5H935.8M933.3 1344H935.8M933.3 1341.8H935.8M933.3 1339.9H935.8M930.8 1338.2H935.8M933.3 1327H935.8M933.3 1320.4H935.8M933.3 1315.8H935.8M933.3 1312.1H935.8M933.3 1309.2H935.8M933.3 1306.7H935.8M933.3 1304.5H935.8M933.3 1302.6H935.8M930.8 1300.9H935.8M933.3 1289.7H935.8M933.3 1283.1H935.8M933.3 1278.5H935.8M933.3 1274.9H935.8M933.3 1271.9H935.8M933.3 1269.4H935.8M933.3 1267.3H935.8M933.3 1265.4H935.8M930.8 1263.7H935.8M933.3 1252.4H935.8M933.3 1245.9H935.8M933.3 1241.2H935.8M933.3 1237.6H935.8M933.3 1234.7H935.8M933.3 1232.2H935.8M933.3 1230H935.8M933.3 1228.1H935.8M930.8 1226.4H935.8M933.3 1215.2H935.8M933.3 1208.6H935.8M933.3 1204H935.8M933.3 1200.3H935.8M933.3 1197.4H935.8M933.3 1194.9H935.8M933.3 1192.7H935.8M933.3 1190.8H935.8M930.8 1189.1H935.8M933.3 1177.9H935.8M933.3 1171.3H935.8M933.3 1166.7H935.8M933.3 1163.1H935.8M933.3 1160.1H935.8M933.3 1157.6H935.8M933.3 1155.5H935.8M933.3 1153.6H935.8M930.8 1151.9H935.8M933.3 1140.6H935.8M933.3 1134.1H935.8M930.8 1129.5H935.8M930.8 1368H935.8" fill="none" stroke="#000" stroke-width="1.1"/>
<text x="925.4" y="1388.5" class="An" font-size="10.8">10</text>
<text x="938.5" y="1384" class="An" font-size="8.4">3.8</text>
<text x="986.2" y="1388.5" class="An" font-size="10.8">10</text>
<text x="999.2" y="1384" class="An" font-size="8.4">5</text>
<text x="1032.4" y="1388.5" class="An" font-size="10.8">10</text>
<text x="1045.4" y="1384" class="An" font-size="8.4">6</text>
<text x="1078.6" y="1388.5" class="An" font-size="10.8">10</text>
<text x="1091.6" y="1384" class="An" font-size="8.4">7</text>
<text x="1124.8" y="1388.5" class="An" font-size="10.8">10</text>
<text x="1137.8" y="1384" class="An" font-size="8.4">8</text>
<text x="1163.8" y="1388.5" class="An" font-size="10.8">10</text>
<text x="1176.9" y="1384" class="An" font-size="8.4">8.9</text>
<g transform="rotate(-90 923.8 1309.77)">
<text x="923.8" y="1309.8" class="An" font-size="10.8">10</text>
<text x="936.8" y="1305.2" class="An" font-size="8.4">3</text>
</g>
<g transform="rotate(-90 923.8 1272.51)">
<text x="923.8" y="1272.5" class="An" font-size="10.8">10</text>
<text x="936.8" y="1268" class="An" font-size="8.4">4</text>
</g>
<g transform="rotate(-90 923.8 1235.24)">
<text x="923.8" y="1235.2" class="An" font-size="10.8">10</text>
<text x="936.8" y="1230.7" class="An" font-size="8.4">5</text>
</g>
<g transform="rotate(-90 923.8 1197.97)">
<text x="923.8" y="1198" class="An" font-size="10.8">10</text>
<text x="936.8" y="1193.4" class="An" font-size="8.4">6</text>
</g>
<g transform="rotate(-90 923.8 1378.36)">
<text x="923.8" y="1378.4" class="An" font-size="10.8">10</text>
<text x="936.8" y="1373.8" class="An" font-size="8.4">1.2</text>
</g>
<g transform="rotate(-90 923.8 1143.86)">
<text x="923.8" y="1143.9" class="An" font-size="10.8">10</text>
<text x="936.8" y="1139.3" class="An" font-size="8.4">7.6</text>
</g>
<text x="1055" y="1405" class="An" font-size="10.8" text-anchor="middle">FITC-A</text>
<text x="906.8" y="1248.8" class="An" font-size="10.8" text-anchor="middle" transform="rotate(-90 906.8 1248.8)">PE-A</text>
<text x="940.8" y="1142.5" class="An" font-size="10.3">Q3-1</text>
<text x="940.8" y="1154.7" class="An" font-size="10.3">0.25%</text>
<text x="1130.2" y="1142.5" class="An" font-size="10.3">Q3-2</text>
<text x="1130.2" y="1154.7" class="An" font-size="10.3">3.99%</text>
<text x="940.8" y="1349" class="An" font-size="10.3">Q3-3</text>
<text x="940.8" y="1361" class="An" font-size="10.3">93.60%</text>
<text x="1137.2" y="1349" class="An" font-size="10.3">Q3-4</text>
<text x="1137.2" y="1361" class="An" font-size="10.3">2.16%</text>
<text x="1065" y="1123" class="An" font-size="10.8" text-anchor="middle"><tspan>10 / </tspan><tspan fill="#e01010">P1</tspan><tspan> / </tspan><tspan fill="#18a018">P2</tspan></text>
<text x="942.91" y="1102.68" class="Sb" font-size="32.69" textLength="212.65" lengthAdjust="spacingAndGlyphs">Exo-inhibitor NC</text>
<path d="M1414 1185.6h0m4 3.9h0m-7.5 0.3h0m-5.4 2.2h0m-7.2 1.1h0m12.3-0.5h0m10.6 0.8h0m-21 0.4h0m1.7-0.2h0m1.3 0.5h0m2-0.3h0m5.8 3.5h0m8.4-0.2h0m-15 0.9h0m-7.6 1.1h0m4.3-0.3h0m8.8 0.3h0m5.9-0.2h0m-21.7 1.5h0m19.4 0.1h0m-12.4 0.8h0m10-0.2h0m-8.5 1.3h0m8-0.8h0m0.1 0.4h0m-16.3 0.7h0m9-0.1h0m3.2 0h0m3.6 0.7h0m-16.1 1.2h0m0.5-0.3h0m4.1-0.2h0m9 0.3h0m-12.8 0.2h0m8.9 0.9h0m3.1-0.4h0m0.6 0.3h0m-4.3 0.4h0m7.4 0.2h0m-14.8 0.9h0m5.4-0.1h0m1.4-0.1h0m7.6 0.2h0m-18.4 1.2h0m19.3 0.3h0m2.6 0.3h0m-17.1 0.9h0m3.6 0.1h0m2.8 0.3h0m-9.8 1h0m3.9-0.1h0m3.4-0.1h0m2.8 0.6h0m-16.4 0.9h0m0.6 0.3h0m0.9-0.4h0m1.7-0.2h0m1.7 0h0m1.6 0h0m0.5 0.1h0m0.8 0.2h0m10.7 0.2h0m2.4-0.5h0m3.1 0.1h0m-45.8 0.8h0m3.2 0.4h0m24.9 0.1h0m0.9-0.2h0m3.1-0.1h0m1.7 0.5h0m4.4-0.4h0m1.6-0.1h0m0.8-0.2h0m-42 1.6h0m19.9 0h0m11.6-0.9h0m-29.3 1.4h0m1.9-0.1h0m21.3 0.4h0m4.4 0.1h0m3-0.7h0m2.4 0.9h0m5.9-0.3h0m-76.7 0.8h0m58.8 0.1h0m-35.8 0.9h0m5.3-0.5h0m4.5 0h0m13.4 0.3h0m7.7-0.2h0m8.6 0.3h0m9 0.1h0m7.4 0.5h0m-49.2 0.7h0m1.2 0h0m12.4 0.1h0m12 0h0m3-0.6h0m2.5 0.2h0m2.4 0.3h0m9.6-0.2h0m1.5-0.2h0m-11.2 1.5h0m2.3-0.3h0m1.2 0.4h0m0.9-0.1h0m0.8-0.4h0m0.8 0h0m1.6-0.2h0m4.5 0h0m-48.6 0.9h0m29.4 0.4h0m13-0.2h0m3.8 0.7h0m-43.7 1h0m0.3-0.4h0m16.3 0.2h0m2.5-0.5h0m9.6 0.6h0m3.6-0.8h0m-19.7 0.9h0m15 0.2h0m5.5 0.7h0m3-0.4h0m2.4 0.1h0m2.5-0.6h0m-22.7 1.4h0m8.3-0.4h0m0.1 0.3h0m4.4 0.5h0m1.1-0.5h0m4.3 0.1h0m-36.9 0.9h0m12.9 0.7h0m8.6-0.4h0m3.2-0.1h0m3.9 0.3h0m9.5-0.4h0m0.9 0.1h0m5.1-0.2h0m-24.1 1.4h0m24.9-0.2h0m-17.4 0.8h0m-34.5 1h0m23.5 0.3h0m11.8-0.4h0m15 0.5h0m3.3-0.5h0m0.4 0.1h0m-24.7 1.6h0m4.5-0.9h0m0.4 1.3h0m0.8 0.4h0m0.9 1.1h0m-17.6 0.4h0m10.4 0.2h0m0.7 0.5h0m6.2-0.2h0m2.9-0.1h0m3.6-0.2h0m7.2-0.3h0m-43.8 1.4h0m11.4 0.4h0m12-0.9h0m1.3 0.3h0m5.9 0h0m2.1-0.1h0m-59.2 1.3h0m9.6-0.5h0m6.5 0h0m30.3 0.5h0m7.7 0.3h0m0.2-0.8h0m6.1 0.6h0m-16.1 0.9h0m13.7-0.2h0m5.6-0.1h0m-29.6 1.7h0m15.7-0.5h0m0.2 0.4h0m8.5-0.8h0m2.2 0.2h0m-20.8 1.3h0m14-0.1h0m0.2-0.4h0m11.1 0.1h0m-21.3 0.9h0m3.9 0.5h0m0.8 0.5h0m2.8 0.3h0m2.5-0.2h0m-0.4 1.4h0m1.7 0.5h0m-9.7 0.4h0m17.4-0.2h0m-14.7 1.6h0m2.8 1.1h0m-10.9 0.2h0m2.7 1.8h0m2.4 0.1h0m-7.6 0.7h0m3.2 1.5h0m0.6 0.4h0m4.5-0.6h0m-13.5 1.9h0m1.8-0.6h0m10.4 0.2h0m-0.1 0.6h0m9.6 0.2h0m-55.6 2.1h0m38.5 0.2h0m4.1-0.5h0m2.1 0.3h0m-17.2 0.8h0m0.9 0.2h0m13.3 0.3h0m0.8-0.4h0m3.7 0.6h0m9.2-0.4h0m-13.3 0.8h0m-43.3 2.7h0m42.6-0.3h0m3.2-0.6h0m-34.4 1.7h0m13.8-0.2h0m16.6 0.2h0m-24.6 0.2h0m19.5 0.3h0m10.2 1.6h0m2.2-0.5h0m0.4 0.4h0m2.2-0.2h0m-36.5 0.7h0m19.8-0.2h0m1.2 0h0m2.1 0.1h0m-8.8 1.2h0m12-0.2h0m-42.3 1.1h0m37.5 0.3h0m-24.3 1.1h0m12.1 0.1h0m8.8-0.1h0m2.5 0h0m4.5-0.6h0m-52.2 1.6h0m6.8-0.7h0m30.8 0.5h0m3 0.2h0m4.3-0.3h0m3.7 0.2h0m-29.6 1h0m17.1 0.2h0m5.3-0.4h0m0.8-0.3h0m2.6 0.2h0m0.2 0.5h0m-28.8 0.3h0m35.5 0.9h0m-39.5 0.9h0m7.2 0.1h0m6.1-0.1h0m14.8-0.7h0m0.8 0.7h0m2.8-0.1h0m0.1 0h0m15.1-0.7h0m-71.6 1.2h0m16.9-0.2h0m17.5 0.4h0m16.8 0.3h0m3.5-0.6h0m26.3 0.3h0m-88.5 1h0m18.4-0.1h0m23 0.1h0m13.1 0.1h0m1.2 0.4h0m2.9-0.5h0m8.7 0.2h0m-44.3 0.6h0m14.6 0.1h0m1 0h0m15.1 0.1h0m9.9 0h0m4.4 0.1h0m-47 1.1h0m1.3 0h0m14.8-0.3h0m6.5 0h0m7.9 0.2h0m6.4-0.4h0m4.9 0.1h0m0.4-0.1h0m-61.8 1.1h0m0.6 0.4h0m21.8-0.4h0m18 0.1h0m3.2 0.2h0m1.7-0.3h0m5.2 0h0m-35.2 1.4h0m2.2 0.1h0m2.6-0.3h0m1.6-0.2h0m0.7 0.2h0m10.5 0h0m2.7 0.1h0m2.5 0.3h0m1.4-0.9h0m12.2 0.9h0m-34.7 0.8h0m14-0.5h0m5.8-0.2h0m1.6 0.6h0m0.5 0h0m3.7 0.1h0m13.4 0.3h0m1.9 0h0m3.3-0.1h0m-44.7 0.4h0m13 0.6h0m3.9-0.5h0m8.2 0.2h0m6.6 0.3h0m7.5-0.1h0m4.5 0.2h0m15.7-0.7h0m-75.4 1h0m0.1 0.1h0m4.6-0.1h0m5.8 0.7h0m7.8-0.4h0m4.6 0.4h0m1.8-0.1h0m5-0.5h0m5.1 0.1h0m18.7 0.3h0m10.7-0.6h0m8.7-0.1h0m7 0.1h0m-66.9 1.1h0m11 0h0m3.4 0.2h0m10.9 0.2h0m2.6-0.2h0m5.7 0.1h0m5.5-0.2h0m10.1 0.2h0m1.7-0.2h0m0.6 0.1h0m23.9 0.1h0m-95.1 0.9h0m4.6-0.2h0m9.6-0.1h0m7.7 0.3h0m12.2 0.1h0m1.4-0.2h0m3.5-0.1h0m-36 0.8h0m2.5 0.1h0m16-0.2h0m0.5 0.5h0m3.6 0.1h0m4.4-0.5h0m6.8 0.2h0m1.8 0h0m9.3-0.1h0m2.9 0.5h0m2.6 0.1h0m-31.4 0.9h0m1.5 0.3h0m2.1-0.8h0m13.8 0.1h0m2.3-0.2h0m0.2 0.4h0m4.8-0.3h0m2.3 0.2h0m8.9 0.5h0m4.7-0.3h0m5.3 0.4h0m41.5 0h0m-114.3 0.5h0m3.8-0.2h0m7.8 0.5h0m3.2-0.7h0m8.9 0h0m1.3 0.4h0m0.3 0h0m2.6-0.2h0m1.3-0.3h0m1.9 0.3h0m1.7 0.4h0m1.1-0.1h0m3.3 0.3h0m0.5 0h0m1.8-0.8h0m0.4 0.7h0m0.1-0.1h0m0.6 0.3h0m4.6-0.2h0m1.7-0.8h0m0.7 0.7h0m5.8-0.2h0m38-0.3h0m-93 1h0m3.4 0.8h0m5.4-0.6h0m17 0.5h0m8.3-0.4h0m3.4 0.4h0m1.1-0.9h0m0.1 0.5h0m7.7-0.4h0m0.5 0.7h0m3.4-0.5h0m4.8 0.2h0m0.5 0.4h0m0.7-0.1h0m4.1-0.2h0m-53.2 1.2h0m3.6 0h0m8.2-0.8h0m0.4 0.8h0m2.3-0.2h0m0.4 0h0m0.5-0.3h0m0.6 0.1h0m4.5 0.5h0m1.6-0.1h0m1.9 0h0m3.5-0.1h0m3.6-0.4h0m8.7-0.2h0m1.7 0.8h0m6.9-0.4h0m0.7-0.1h0m10.4 0.1h0m6.2 0.3h0m7.1 0.1h0m5.3-0.5h0m-64.8 1.2h0m1 0.1h0m2.7-0.7h0m2.1 0.3h0m0.8 0.4h0m9.3-0.7h0m16.1 0.2h0m0.4 0.6h0m6.3 0h0m0.8-0.1h0m0.8 0.1h0m0.3-0.2h0m11.2-0.4h0m-68.5 1.4h0m10.4 0.1h0m4.6-0.1h0m1.6 0.4h0m12.1-1h0m0.7 0.3h0m3.9 0.7h0m9.8-0.2h0m2.5-0.2h0m2.5-0.4h0m5.9 0.7h0m0.1-0.6h0m2.2 0h0m0.5-0.1h0m3.8-0.2h0m7.9 0.1h0m7.1 0.3h0m-94.9 1.1h0m12-0.4h0m5 0.5h0m1.3-0.4h0m0.4 0.7h0m15.6 0h0m1.7-0.2h0m0.8-0.4h0m0 0.3h0m11.3 0.1h0m3.7 0.1h0m0.8-0.4h0m0.2 0.5h0m5.9-0.6h0m6 0h0m0.4-0.1h0m2.8 0.1h0m0.1-0.1h0m0.8 0h0m8.3 0.8h0m2.2 0h0m2.1-0.7h0m2-0.2h0m11.6 0.4h0m-96.2 0.7h0m28.5 0.2h0m2.7 0.4h0m0.8 0.2h0m0-0.5h0m1.9 0h0m15.1-0.1h0m1.2 0.1h0m5.3 0.3h0m2-0.3h0m1.6-0.3h0m0.4-0.1h0m3.8 0.2h0m1.9 0.7h0m4.9 0h0m0.3-0.3h0m0.8-0.2h0m1.8-0.3h0m5.9 0.2h0m3.4-0.2h0m11.3 0.1h0m1-0.1h0m14.3 0h0m5.9 0.2h0m-98.7 1.5h0m7.8-0.2h0m3.1-0.2h0m2.5 0.4h0m1.3-0.8h0m1.4 0.5h0m6.3-0.6h0m0.4 0.5h0m11.7-0.4h0m2.4 0.4h0m5-0.4h0m9.3 0.6h0m0.1-0.2h0m3.3 0h0m0.4 0.3h0m2.2-0.6h0m0.7 0.7h0m-65.4 0.8h0m17.9-0.1h0m41.3 0.2h0m0.1 0h0m3.9-0.6h0m1.4 0.4h0m11.3-0.4h0m-70 1.8h0m0.3-0.5h0m2.4 0.4h0m11.8-0.3h0m1.5 0.2h0m1-0.3h0m39.6 0h0m0.6 0h0m2.1 0h0m0.9-0.5h0m1.1 0.3h0m4.9 0.2h0m1.7-0.4h0m8.3 0.5h0m4.2-0.2h0m-86.4 1h0m13.6 0.5h0m44.4-0.8h0m6.9 0.1h0m0.1 0.1h0m3.1 0.1h0m12 0.2h0m1.6-0.1h0m-75.2 1.1h0m0.1-0.5h0m3.3 0h0m2 0.2h0m4.6 0h0m0 0.4h0m4.8-0.4h0m3.8-0.3h0m0.8 0.9h0m0.6-0.8h0m0.6 0.7h0m0.1-0.7h0m41.1 0.5h0m4.2 0.2h0m4.7-0.4h0m12.3-0.2h0m-90.4 1.5h0m0.4-0.7h0m1.7 0.6h0m2.9 0h0m6.5 0h0m8.3-0.5h0m1.6 0.6h0m0-0.6h0m5 0.3h0m1.2 0.4h0m0.2-0.1h0m0.4 0.2h0m34.2-0.9h0m4.1 0.4h0m1.2 0.4h0m6.6-0.4h0m7.7-0.3h0m-72.1 1h0m4.9 0h0m2 0.3h0m2.5 0.1h0m2.5-0.4h0m5.2 0.4h0m1-0.4h0m34.1 0.8h0m0.2-0.4h0m2.6 0.5h0m6.5-0.2h0m0.6-0.1h0m0.5-0.7h0m-61.4 1.9h0m0.4-0.2h0m3.5-0.5h0m4.6 0.8h0m40.6-0.1h0m1-0.5h0m0.9-0.1h0m3.1 0h0m3.6 0h0m1.5 0.2h0m9.5-0.3h0m0.4-0.2h0m-71.4 2h0m1.8-0.5h0m0.1 0h0m2 0.4h0m4.1-0.5h0m0.5 0.4h0m0.6-0.4h0m38.4-0.3h0m5 0.1h0m0.9 0.7h0m3.9-0.8h0m4.1 0.1h0m6.9 0.1h0m29.8 0.4h0m-112.7 0.4h0m0.5 0.7h0m9.5 0.1h0m1 0h0m0.3-0.3h0m3.6 0h0m51.7 0.2h0m5.4-0.6h0m16.5 0.8h0m-73 0.8h0m1.6 0h0m0.3-0.2h0m6.1-0.2h0m1.9 0.5h0m40.3-0.6h0m2.7-0.2h0m11.4 0.7h0m-61.9 0.4h0m0 0.4h0m0.9-0.4h0m6.4 0.4h0m39.6-0.5h0m0.4 0.4h0m2.1 0.4h0m2.5 0h0m-54.8 1h0m0.5-0.6h0m48.4 0.6h0m3.3-0.1h0m1.6-0.4h0m2.1-0.3h0m1.6 0.6h0m11.6 0.3h0m5-0.5h0m-91.8 1h0m2.6 0.3h0m5.7-0.5h0m3.1 0.1h0m3.8-0.2h0m46.3 0.6h0m1.1-0.3h0m4.4 0.2h0m0.4 0.3h0m2.2-0.4h0m5.3 0.2h0m12.3 0.2h0m0.8-0.5h0m19.1 0.4h0m-106.4 1h0m13.6-0.6h0m0.1 0.2h0m3.1 0.1h0m44.8-0.1h0m0.4-0.3h0m0.9-0.2h0m1 0.4h0m0.7 0.1h0m0.9 0.5h0m-59.1 0.5h0m2-0.2h0m3.2 0.6h0m4-0.6h0m2 0.2h0m0.6-0.5h0m46 0.4h0m2.2-0.1h0m1.4-0.1h0m0.4-0.2h0m0.7 0.2h0m10.4 0.7h0m5-0.6h0m19.6 0.5h0m-91.9 0.3h0m5.3-0.1h0m53.8 0.7h0m5.8 0.1h0m19.5 0.2h0m-106.3 0.5h0m21.5-0.2h0m1 0.3h0m49-0.5h0m4.6 0.5h0m11-0.5h0m11.4 0.2h0m-78.2 1.4h0m7.4 0.1h0m0.4-0.3h0m0.3-0.1h0m41.1 0.4h0m6.2-0.2h0m5.9-0.2h0m8.4 0.3h0m-76.4 0.7h0m8.7 0.4h0m0.5-0.8h0m0.6 0.7h0m44.7-0.6h0m3.8 0.7h0m0.6-0.5h0m1.4-0.3h0m2 0.9h0m9 0h0m2.7-0.5h0m-88.3 0.8h0m6.3 0.7h0m4.4-0.2h0m5-0.1h0m3.8-0.5h0m4 0.2h0m2.2 0.3h0m53.7-0.4h0m1.1 0.7h0m-67.8 0.6h0m3-0.1h0m51.2 0.2h0m1.3 0.3h0m1.1-0.9h0m1.3 0.6h0m13.4 0.3h0m2.7-0.3h0m-76.4 0.6h0m0.5 0.5h0m8.1 0.2h0m0.7-0.5h0m7 0.3h0m1.3-0.5h0m1 0h0m36.5 0h0m2.3 0.7h0m0.4-0.6h0m11.2 0h0m12.3-0.1h0m-76.4 1h0m2.7 0h0m3.6-0.1h0m5.8 0.6h0m0.7-0.4h0m0.3 0.6h0m37-0.2h0m1.8-0.1h0m0.5 0.3h0m0.1-0.5h0m9.1 0.4h0m4.4 0.2h0m4.8-0.7h0m-74.6 1.2h0m0.3-0.4h0m1.9-0.1h0m13.4 0.9h0m0.7-0.1h0m0.2-0.7h0m1.5 0h0m0.4 0.4h0m1.3-0.1h0m4 0.3h0m30.6 0.2h0m4.5-0.5h0m2.6 0.3h0m19.8-0.6h0m-79.1 1h0m8 0h0m2.8 0.5h0m0.8-0.3h0m0.1 0.3h0m2.9-0.3h0m6.9 0h0m24.4 0.7h0m1.1-0.2h0m1.6 0.2h0m2-0.5h0m1.6 0.5h0m1.2-0.8h0m6.3-0.2h0m10.6 0.5h0m-73.5 1.1h0m13.6-0.5h0m0.8 0h0m4.6 0.6h0m5.1 0.2h0m2.6-0.8h0m23.4 0.2h0m3.5 0.4h0m2.7 0.2h0m3.3-0.9h0m6.4 0.5h0m6.2 0.1h0m12.8 0.1h0m-87.5 0.9h0m7.7 0.2h0m1.4-0.2h0m4.6 0.1h0m0.7-0.7h0m1.7 0.8h0m0.4-0.1h0m0.2-0.3h0m0.5-0.3h0m5.1 0.4h0m1.2-0.2h0m1.1 0.3h0m1.2 0.1h0m1.8-0.5h0m2.8 0.5h0m3.4 0.3h0m0.6 0h0m20.5 0h0m10.9 0h0m1.7-0.6h0m1.3-0.1h0m9 0h0m8.4-0.1h0m-89.5 1h0m12.5 0.4h0m2.7 0.1h0m3.3 0.2h0m3.1-0.6h0m1 0.4h0m2.2 0.2h0m3.3-0.1h0m5-0.3h0m23.3 0.2h0m0.5 0h0m2.5 0.1h0m-56.4 1.2h0m1.9-0.4h0m12 0h0m10 0.2h0m1.4-0.7h0m7.2 0.4h0m21.6 0.4h0m1.9-0.1h0m4.6-0.4h0m1 0.4h0m5.6-0.5h0m2.2 0.3h0m0.8 0.3h0m0.6-0.8h0m-72.9 1.7h0m16.3-0.5h0m0.1 0.2h0m1.9 0.4h0m0.1-0.2h0m2.6-0.2h0m1.2-0.1h0m0.7 0.1h0m3.2 0.2h0m2.9-0.1h0m3.4 0.2h0m2.5-0.4h0m1 0.5h0m0.8-0.3h0m0.5-0.1h0m2.8 0.3h0m12.3 0h0m1.7-0.5h0m15.8-0.2h0m7.3-0.1h0m1.8 0.4h0m-61.8 0.7h0m1.6 0.6h0m5.4-0.3h0m0.7 0.6h0m5.4-0.6h0m3.6 0.4h0m1.9-0.8h0m3.2 0h0m0.9 0.8h0m1.6 0h0m7.9 0h0m1.1-0.5h0m0.7 0.1h0m0.2 0.5h0m2.5-0.3h0m1.3-0.2h0m-50.8 0.8h0m12.3 0.7h0m1.9-0.9h0m5 0.6h0m0.1 0.1h0m2.1-0.5h0m4.3 0h0m1.1 0.3h0m3.7-0.3h0m2.3 0.3h0m1.4-0.5h0m11.9 0.4h0m0.1-0.2h0m1.8 0.6h0m0.8 0.1h0m3.5-0.2h0m4.4-0.5h0m2.6-0.2h0m9.5 0.2h0m-81.7 1.6h0m9.8-0.7h0m12.8 0.3h0m8.5-0.4h0m4.6 0.1h0m5 0.3h0m1.6 0.2h0m0.4-0.5h0m8.6 0.4h0m1.1 0h0m4.5 0.4h0m0.2 0h0m7.2 0h0m3.2 0h0m1-0.8h0m13.8 0.4h0m-76.5 1.5h0m11.8 0h0m10.3-0.3h0m6.3 0.1h0m3.2 0.1h0m0.8-0.1h0m0.5 0h0m1.1-0.2h0m1.3-0.1h0m2.6 0.3h0m8.4-0.2h0m3.4-0.1h0m13.2-0.5h0m1.7 1h0m5.3-0.9h0m-54.2 1.4h0m9.6-0.4h0m2.5 0.1h0m1.6 0.4h0m4.3-0.1h0m1.7 0.4h0m0.8-0.7h0m4 0.1h0m2.3 0.5h0m4.2-0.6h0m5.2 0.8h0m10.2-0.9h0m1.6 0.6h0m0.8 0.1h0m0.4-0.4h0m4.4-0.2h0m3.6 0.7h0m2.2-0.5h0m-71.5 0.8h0m14.1 0.3h0m14.1 0.5h0m0.5-0.8h0m8 0.2h0m1.6-0.2h0m3 0.7h0m1.4-0.1h0m1.7-0.6h0m9 0.7h0m0.5 0h0m3.5-0.1h0m3.7-0.2h0m2.3-0.1h0m-82.9 1.3h0m27 0.1h0m17.3-0.1h0m5.1-0.8h0m6.6 0.7h0m0.7 0.1h0m3.5-0.6h0m0.8 0.6h0m1.2 0h0m13.7-0.6h0m6 0.2h0m-73.2 1.4h0m25 0.1h0m0.4-0.2h0m19.4-0.2h0m11.2-0.1h0m1.8 0.2h0m4.2-0.4h0m3.9 0.6h0m2.6-0.1h0m-50.9 0.9h0m4.4-0.5h0m0.8 0.4h0m3.2 0.4h0m6.4 0h0m13.4-0.6h0m1.7 0.4h0m3.8-0.4h0m1.1-0.1h0m9.2 0.2h0m2.6 0h0m16.3 0.2h0m-65.5 1.1h0m7.5-0.2h0m1.2-0.4h0m1 0.9h0m0-0.8h0m2.1 0.5h0m4.5-0.5h0m8.5 0h0m5.3-0.1h0m4.2 0.2h0m2.1 0.5h0m24.9-0.6h0m-66.5 1.8h0m4.2-0.4h0m23.9 0h0m5.2-0.5h0m13.3 0.1h0m4.9 0.4h0m3.7 0.2h0m3.7-0.3h0m-59.1 0.7h0m6.6 0.4h0m12.6 0.3h0m10.5-0.5h0m1.8-0.2h0m0.6 0.2h0m2.5 0.5h0m12.5-0.1h0m1.7-0.2h0m0.2-0.4h0m7.6 0.8h0m6.6-0.1h0m-25.7 1h0m8.3-0.7h0m0.8 0.6h0m4-0.1h0m0-0.1h0m24.2-0.1h0m5 0h0m-67.2 1h0m11.8-0.1h0m8.4 0h0m2.6-0.1h0m1.1 0.2h0m16-0.3h0m2.7 0.5h0m-49.1 0.7h0m7.6 0.2h0m3-0.4h0m12.3 0.5h0m4.7-0.6h0m8.3 0.2h0m6.7 0.3h0m-49.7 1.1h0m4-0.5h0m23.9 0.4h0m4.3 0.1h0m9.2-0.1h0m9.7 0.4h0m13.9-0.2h0m2.4 0.2h0m-55.3 0.7h0m22.6-0.3h0m4.2-0.3h0m1.3 0.7h0m1.8-0.2h0m2.2-0.4h0m3 0h0m11.5-0.1h0m-13.7 1.2h0m1.3 0.6h0m2.6-0.6h0m2.9 0.4h0m1.7 0h0m-49.4 0.6h0m8.1 0.3h0m10.9-0.4h0m4.9 0.4h0m6.5 0.2h0m13.7-0.1h0m32.1 0h0m-66.1 0.7h0m20.8-0.4h0m25.6 0.8h0m-47.3 0.5h0m11.4 0.3h0m9.7 0.1h0m0.7-0.2h0m1.4-0.3h0m2.1 0.5h0m13-0.7h0m-25.9 1.4h0m18.7 0.2h0m3.8 0.3h0m-23.3 0.9h0m19.1 0.1h0m6-0.4h0m5.2 0h0m21.5-0.2h0m-20.5 1.2h0m4.1 0h0m30-0.1h0m-68.3 1.1h0m6.7-0.2h0m12.5 0.1h0m9.7 0.5h0m-15 1h0m20-0.6h0m45.9-0.2h0m-26 1.2h0m-40.9 0.9h0m12.5 0.3h0m10.5 0.1h0m-30.5 1.1h0m7.4-0.5h0m31.2 0.4h0m1.8-0.4h0m-70.5 1.7h0m29.5 0.1h0m22.2-0.1h0m44.7 0h0m-50.1 0.6h0m4.5 1.2h0m-2.1 0.3h0m17.7 1.2h0m-27.6 0.8h0m19.6 1.2h0m2.3 0.1h0m2.8 0.1h0m-60.1 2.6h0m38.1-0.8h0m-28.6 1.3h0m30.7 0.4h0m12.3-0.3h0m-23.3 0.8h0m15.7 1.4h0m-7.2 0.9h0m-1.8 0.5h0m-22.2 4.7h0m38.6 0.7h0" fill="none" stroke="#1818f0" stroke-width="1.3" stroke-linecap="square"/>
<path d="M1329 1284.5h0m-21.4 0.6h0m0.2-0.5h0m2 0.8h0m3.9-0.1h0m-7.1 0.3h0m1.1 0.8h0m0.8 0.1h0m4.3-0.9h0m1 0.5h0m12.7 0h0m1.4 0.1h0m0.1-0.3h0m0.3 0.2h0m-17.7 0.6h0m10.1 0.4h0m1.4 0.2h0m6.9-0.7h0m-25.9 1.4h0m0.6 0h0m14.6-0.3h0m0.9 0.2h0m3.8 0.4h0m6.1-0.7h0m0.8 0.3h0m-26 1h0m13.5 0.3h0m2.9 0.2h0m0.1-0.1h0m11.5 0.2h0m-33.9 0.5h0m6.2-0.3h0m25 0.7h0m1.8-0.8h0m-27.8 1.6h0m-5.2 0.7h0m4.5-0.3h0m28.5 0.6h0m-1.6 0.7h0m0.1-0.4h0m-35.1 2h0m1.3-0.1h0m30.3-0.5h0m1.6 0.5h0m1.2-0.9h0m-34.5 1.8h0m33.7-0.8h0m-34.6 1.2h0m0.4-0.1h0m2.1-0.1h0m30.3 0.6h0m0.8-0.2h0m0.4 0.2h0m1.6 0.2h0m-2.1 0.6h0m0.8 0.3h0m-0.4 0.4h0m2.2 0.5h0m-14.6 1.2h0m0.7-0.2h0m1.2 0.4h0m0-0.3h0m6.8 0.2h0m2.4-0.1h0m4.5-0.7h0m0.2 0h0m-46.5 1.7h0m0.6-0.3h0m2.9-0.1h0m1.2 0.5h0m2.7-0.8h0m22.6 0.8h0m0.7-0.2h0m-30.2 0.8h0m0.2-0.3h0m0.5 0h0m1.2 0.2h0m0.2-0.3h0m1.2 0.8h0m2-0.2h0m0.4-0.4h0m23.7 0.1h0m1.3 0.3h0m10.1 0h0m-40.6 0.9h0m3.8-0.1h0m2.8-0.5h0m31.7 0.5h0m1.1 0.2h0m0.9 0.2h0m-40.6 0.5h0m1.3 0.3h0m0.7-0.5h0m33.7 0.1h0m0.3 0.5h0m0.2 0.1h0m0.9-0.5h0m-37.1 1.3h0m1.9 0.2h0m33.5-0.4h0m0.4 0h0m4.1-0.3h0m1.3 0.1h0m-41.2 1.1h0m36.6-0.3h0m-35.4 1h0m29.7 0.6h0m0.4-0.4h0m2.3-0.3h0m2.6 0.1h0m0.1 0.5h0m1.9-0.5h0m-37.1 1.7h0m0.3-0.6h0m28.1-0.2h0m1.2 0.9h0m0.7-0.4h0m0.7 0.1h0m0.7-0.2h0m1.5 0.1h0m1.9-0.4h0m1.1 0.1h0m-37.2 0.9h0m2.7 0.7h0m2.5 0.1h0m1.9-0.2h0m0.6-0.1h0m0.3 0.2h0m25-0.3h0m0.6 0h0m2.3-0.2h0m-30.2 0.9h0m0.1-0.2h0m1.7 0.5h0m22.8 0.4h0m1.5-0.6h0m1.7-0.3h0m-27.6 1.3h0m0 0.5h0m29.2-0.8h0m-32.6 1.5h0m7.5 0.3h0m17.6-0.2h0m1.4 0.4h0m-16.2 0.4h0m0.2-0.3h0m0.1 0h0m3.2 0.1h0m11.1 0.6h0m-17.7 0.2h0m1.2 0.2h0m3.4 0.6h0m14.4-0.2h0m-16.2 0.6h0m1.1 0h0m2.5 0.7h0m0.3-0.8h0m2.1 0.6h0m8.6-0.6h0m-5.7 1.4h0m0.2-0.4h0m0 0.8h0m0.1-0.4h0m1.4 0.1h0m1.2 0.1h0m2.5-0.4h0m0 0.1h0m0.2 0.3h0m-10.1 1.1h0m0.7-0.5h0m0.4 0.4h0m0.8-0.2h0m1.1-0.2h0m1.2-0.1h0m1.4 0.6h0m1.1-0.5h0m1.7 0.3h0m-10 0.4h0m0.8 0.2h0m0.2 0.3h0m1.4-0.2h0m4.8 0.7h0m-4.2 0.1h0m1.4 0.5h0m0.5 0.3h0m2.9-0.5h0m-5.5 0.8h0m2.3 0.8h0m0.7-0.4h0m-0.4 0.9h0" fill="none" stroke="#18c8f0" stroke-width="1.3" stroke-linecap="square"/>
<path d="M1309 1287.4h0m1.5 0.1h0m3-0.3h0m12.6 0.2h0m-19.8 0.2h0m0.3 0h0m3 0.5h0m0.9-0.3h0m2.4 0.3h0m0 0h0m0.2-0.3h0m2.3 0.3h0m8.9-0.5h0m0.6 0.2h0m0.2 0.6h0m0.4-0.7h0m0.9 0.1h0m2.3 0h0m0.2 0.2h0m-22.5 0.7h0m1.4 0.5h0m2.8 0.1h0m0.9-0.5h0m0.9-0.2h0m2.6 0.7h0m0.7-0.4h0m0.4-0.4h0m0 0.6h0m0.2 0.3h0m7.3-0.5h0m2.1 0.1h0m0.9 0.4h0m-21.5 0.8h0m1.6-0.5h0m0.5 0.2h0m0.9-0.3h0m0 0.5h0m0.6-0.2h0m1.5 0.2h0m0.5-0.1h0m4.1 0.3h0m1.4-0.4h0m0.5-0.4h0m1.4 0.6h0m0.2-0.1h0m6.1-0.3h0m2.2 0.2h0m0.9 0.2h0m1.2-0.2h0m-23.2 1.1h0m0.1-0.4h0m1 0.6h0m1-0.4h0m1.2 0.7h0m0.1-0.8h0m0.2 0.8h0m0.6-0.7h0m6.3 0.5h0m0.2-0.1h0m2.9 0.1h0m0.5-0.3h0m0.8-0.2h0m0.1 0.6h0m0.7-0.6h0m0.9 0.1h0m0.1 0h0m0.4-0.3h0m3.4 0.2h0m-18.4 1.3h0m1.4 0.2h0m0.8-0.7h0m4.3 0.4h0m5.5 0.4h0m1.1-0.7h0m5.4 0.3h0m1-0.1h0m0.1 0.5h0m1-0.3h0m-30.8 1.3h0m3.3-0.1h0m2.3 0.1h0m3.1-0.7h0m1.4 0.3h0m0.7-0.1h0m1.8-0.4h0m1.6 0.7h0m3.5-0.4h0m0 0.4h0m2-0.6h0m0.5 0.6h0m6.1 0.3h0m0.3-0.4h0m4.4-0.4h0m0.2 0h0m-30 1.6h0m0.3-0.8h0m1.6 0.7h0m1.4-0.3h0m6.1 0.5h0m0.4-0.5h0m0 0h0m0.4-0.2h0m5.2 0.7h0m1.6-0.6h0m1.4 0.4h0m1.6-0.4h0m0.5 0.5h0m0.6-0.5h0m0 0.6h0m4.2-0.8h0m-25.3 1.4h0m4-0.3h0m0.6 0.4h0m2.1-0.2h0m1.6 0.5h0m1.2-0.2h0m0 0.1h0m0.4-0.4h0m7.6-0.3h0m1.3 0.6h0m1.9 0.3h0m4.1-0.1h0m1.6-0.3h0m-31.2 1h0m1.7 0.2h0m4.5 0h0m0.1-0.8h0m0.8 0.4h0m1.3 0.1h0m3.7-0.3h0m2.4 0.7h0m1.2-0.8h0m1.9 0.3h0m2.2 0.5h0m0.4-0.3h0m2.2-0.3h0m0-0.3h0m2.3 0h0m4.7 0.1h0m1.1 0.7h0m-30.9 0.7h0m1 0.3h0m6.3-0.5h0m0.6 0.2h0m1-0.2h0m0.7 0.7h0m0-0.5h0m0.2 0.5h0m0.7-0.4h0m0.5 0.3h0m2.4 0.1h0m0.3-0.7h0m0.8 0.3h0m2.4-0.4h0m9.7 0.6h0m3.9-0.2h0m0.2-0.4h0m0.4 0.8h0m-28.9 0.7h0m0.1-0.4h0m4.3 0.7h0m0.5-1h0m0.1 0.4h0m0.1 0.6h0m4-0.4h0m7-0.1h0m2.1-0.3h0m2.1 0.5h0m0.3-0.4h0m0.1 0.7h0m4-0.4h0m0.2-0.6h0m1.3 0.9h0m0.7 0h0m0.1-0.7h0m-28.2 1.4h0m0.6-0.2h0m4.9 0.1h0m3.7-0.4h0m1.5 0h0m1.4 0.4h0m1.9-0.1h0m1.4 0h0m1.6-0.1h0m0.5 0.6h0m2.1-0.1h0m7.2 0.1h0m0.3 0h0m0.5-0.1h0m0.3-0.1h0m1.9-0.6h0m-30.1 1.1h0m0.2-0.1h0m1.1 0.3h0m13.2 0h0m0.1 0.2h0m0.1 0h0m3.4-0.3h0m1 0.6h0m0.2-0.8h0m7.4 0.4h0m-12.7 0.5h0m1.8 0.5h0m0 0.3h0m0.5-0.3h0m1.1-0.4h0m0.7 0.5h0m7.2-0.1h0m0 0.4h0m1.6-0.3h0m0.2-0.6h0m0.7 0.1h0m-31.3 1.5h0m3.1-0.6h0m0.3 0.3h0m16.1-0.1h0m0.7 0.2h0m0.7-0.1h0m0.2 0.2h0m5.5 0h0m0.2-0.1h0m-28 0.8h0m1.5 0h0m0.4 0.4h0m1.4-0.5h0m0 0.3h0m18.6-0.1h0m1.2 0.4h0m3.1-0.4h0m0.2 0.5h0m-28.2 1.1h0m5.3 0h0m21.4-0.6h0m1.1 0.7h0m2.6-0.4h0m0.3-0.2h0m-31.3 0.8h0m0.2 0.5h0m1.2-0.4h0m0 0.2h0m0.3-0.3h0m1.3-0.2h0m0.3 0.1h0m0.3 0.9h0m0.1-0.7h0m0.3 0.3h0m0.5-0.3h0m0.1 0.5h0m1-0.7h0m20.4 0.7h0m0.3 0h0m0.1-0.3h0m2.8-0.4h0m3.4 0.3h0m-30.7 0.8h0m1.6 0.3h0m2-0.1h0m18.5 0.3h0m2.2 0h0m0.7-0.5h0m-24.6 1.7h0m0.7-0.4h0m1-0.2h0m0.2 0.7h0m1.1-0.9h0m19.4 0.3h0m0.5-0.1h0m1.2 0.5h0m-15.6 0.7h0m0.4 0.3h0m1.5 0.1h0m4.4-0.1h0m7.2-0.2h0m0.1-0.6h0m-17.7 2h0m0.3-0.7h0m4 0.1h0m0.3 0.1h0m0.3-0.5h0m0.2 0.7h0m3.3-0.3h0m0.2 0.2h0m1.5 0.1h0m1.8 0h0m0.2 0.2h0m0.1-0.8h0m0.4 0.5h0m0.3 0.4h0m0.6 0h0m4.4-0.1h0m0.5-0.1h0m0.6-0.6h0m0.6 0.5h0m-17.8 1.1h0m2.5 0h0m0.3-0.3h0m0.7-0.2h0m1.7 0h0m3.5 0.2h0m0.9 0.1h0m0.4-0.2h0m1.1-0.1h0m0 0.6h0m1-0.1h0m4.9-0.1h0m1.1 0.1h0m-20.5 0.4h0m0.4 0h0m5.3 0.3h0m4.9 0.2h0m0.1-0.5h0m0.8 0.2h0m0.8 0.1h0m0.9-0.3h0m0.6 0.6h0m1.8-0.2h0m0.1 0.4h0m0.4-0.4h0m0 0.1h0m2-0.3h0m-9.1 1.4h0m0.9-0.3h0m1.2-0.5h0m-0.5 1.2h0m6.4 0.6h0m0.6-0.6h0m0 0.8h0" fill="none" stroke="#28c040" stroke-width="1.3" stroke-linecap="square"/>
<path d="M1324.9 1290.2h0m0 0.2h0m-12.6 0.7h0m13.6 0h0m-14.1 1.2h0m0.2-0.7h0m0.2 0.3h0m0.6-0.3h0m0.2-0.1h0m10.7 0.1h0m0.7-0.1h0m0.5 0.8h0m0.7-0.4h0m-14.3 0.9h0m0.4-0.2h0m0.4 0.2h0m8.2 0.5h0m1.5-0.1h0m1.1-0.1h0m-1.3 0.4h0m0.4 0.5h0m-1.9 0.7h0m0.4-0.1h0m0.6 0.5h0m0.5-0.4h0m-23.1 1.7h0m18.7-0.3h0m-19.9 0.7h0m1.2 0h0m18.7-0.1h0m1.3 0.2h0m0.5 0.2h0m0-0.5h0m0.9 0.8h0m-23.4 0.1h0m2.1 0.5h0m0.1 0h0m-2.5 0.7h0m1.1-0.1h0m0 0.2h0m0.4 0.1h0m0.3 0h0m19.4-0.2h0m2.4-0.1h0m-14.5 1.9h0m1.6-0.9h0m0.2 0.6h0m-2 1h0m0.8-0.4h0m0.7 0.5h0m-12 0.7h0m0.4 0.5h0m3.4-0.1h0m6.9-0.5h0m0.9 0.4h0m0.5 0h0m-13.1 0.3h0m0.5 0.1h0m4.4 0h0m1.2 0.1h0m0.2 0.6h0m0-0.2h0m0.2 0h0m0.3-0.5h0m0.3-0.2h0m1.3 0.3h0m3.4 0.4h0m1.3 0.2h0m0-0.2h0m0.4 0h0m0.6-0.2h0m0.8-0.2h0m0.1 0.5h0m-13.4 0.9h0m2.9-0.5h0m1.1 0.8h0m0.3-0.5h0m0.9-0.1h0m5.9 0.1h0m0.1-0.1h0m0 0.1h0m2.2 0.2h0m0.1-0.6h0m1.4 0.7h0m-16.3 0.6h0m3.1 0.5h0m0.6-0.6h0m0.4 0.1h0m0.4 0.1h0m3.6-0.1h0m3.8 0.1h0m1.9-0.5h0m-11.3 1h0m0.4 0.8h0m1.2 0h0m2.4-0.4h0m0.1 0.2h0m0.9 0.1h0m0.3-0.5h0m-4.8 1.7h0m1.7-0.1h0m1.3-0.1h0m1.2-0.2h0m0.5-0.3h0m-3.6 0.9h0m1.5-0.1h0m1.2 0.2h0m8 0.4h0m0.7 0.6h0m0.1 0.4h0m-1.3 0.9h0m0.3-0.1h0m0.1-0.3h0m0.6 0.7h0m0.7 0h0m1-0.7h0" fill="none" stroke="#e0d020" stroke-width="1.3" stroke-linecap="square"/>
<path d="M1297.2 1299.4h0m3.2 0h0m0.1-0.4h0m3.2 0.3h0m-6.4 1.1h0m1.1-0.3h0m1.4-0.5h0m0.7 0.1h0m0.6 0.1h0m0.5-0.3h0m-2.9 1.4h0m0 0.1h0m3.1 0.5h0m1.1-0.4h0m0.1-0.4h0m0.5-0.1h0m1 0.7h0m-8.4 0.5h0m3.2 0.2h0m5.5 0.9h0m-1.5 1.4h0m0.6 0h0m-10.7 1h0m9.4-0.8h0m1.2 0.4h0m0-0.1h0m7.2 0.4h0m-7.6 0.7h0m3.7-0.3h0m2.8 0.2h0m0.3 0h0m-16.9 1.4h0m0.4-0.6h0m1.1 0.8h0m0.9-0.8h0m7 0.8h0m1.2-0.2h0m0.5-0.6h0m0.4 0.7h0m2.4-0.7h0m0.3-0.1h0m0 0.8h0m0.1 0h0m2.8-0.7h0m-17 1.4h0m1-0.3h0m8.1 0h0m2.2-0.1h0m4.6 0.4h0" fill="none" stroke="#e8501c" stroke-width="1.3" stroke-linecap="square"/>
<rect x="1231.9" y="1126.4" width="240.4" height="240.4" fill="none" stroke="#000" stroke-width="1.5"/>
<line x1="1353.2" y1="1126.4" x2="1353.2" y2="1366.8" stroke="#000" stroke-width="1.4"/>
<line x1="1231.9" y1="1235" x2="1472.3" y2="1235" stroke="#000" stroke-width="1.4"/>
<path d="M1233.7 1366.8V1369.3M1236.8 1366.8V1369.3M1239.5 1366.8V1369.3M1241.9 1366.8V1369.3M1244 1366.8V1371.8M1258 1366.8V1369.3M1266.2 1366.8V1369.3M1272.1 1366.8V1369.3M1276.6 1366.8V1369.3M1280.3 1366.8V1369.3M1283.4 1366.8V1369.3M1286.1 1366.8V1369.3M1288.5 1366.8V1369.3M1290.6 1366.8V1371.8M1304.6 1366.8V1369.3M1312.8 1366.8V1369.3M1318.7 1366.8V1369.3M1323.2 1366.8V1369.3M1326.9 1366.8V1369.3M1330 1366.8V1369.3M1332.7 1366.8V1369.3M1335.1 1366.8V1369.3M1337.2 1366.8V1371.8M1351.2 1366.8V1369.3M1359.4 1366.8V1369.3M1365.2 1366.8V1369.3M1369.8 1366.8V1369.3M1373.4 1366.8V1369.3M1376.6 1366.8V1369.3M1379.3 1366.8V1369.3M1381.6 1366.8V1369.3M1383.8 1366.8V1371.8M1397.8 1366.8V1369.3M1406 1366.8V1369.3M1411.8 1366.8V1369.3M1416.3 1366.8V1369.3M1420 1366.8V1369.3M1423.2 1366.8V1369.3M1425.9 1366.8V1369.3M1428.2 1366.8V1369.3M1430.4 1366.8V1371.8M1444.4 1366.8V1369.3M1452.6 1366.8V1369.3M1458.4 1366.8V1369.3M1462.9 1366.8V1369.3M1466.6 1366.8V1369.3M1469.7 1366.8V1369.3M1231.9 1366.8V1371.8M1472.3 1366.8V1371.8M1229.4 1363H1231.9M1229.4 1356.4H1231.9M1229.4 1351.7H1231.9M1229.4 1348.1H1231.9M1229.4 1345.1H1231.9M1229.4 1342.6H1231.9M1229.4 1340.4H1231.9M1229.4 1338.5H1231.9M1226.9 1336.8H1231.9M1229.4 1325.4H1231.9M1229.4 1318.8H1231.9M1229.4 1314.1H1231.9M1229.4 1310.5H1231.9M1229.4 1307.5H1231.9M1229.4 1305H1231.9M1229.4 1302.8H1231.9M1229.4 1300.9H1231.9M1226.9 1299.2H1231.9M1229.4 1287.9H1231.9M1229.4 1281.3H1231.9M1229.4 1276.6H1231.9M1229.4 1272.9H1231.9M1229.4 1270H1231.9M1229.4 1267.4H1231.9M1229.4 1265.3H1231.9M1229.4 1263.3H1231.9M1226.9 1261.6H1231.9M1229.4 1250.3H1231.9M1229.4 1243.7H1231.9M1229.4 1239H1231.9M1229.4 1235.4H1231.9M1229.4 1232.4H1231.9M1229.4 1229.9H1231.9M1229.4 1227.7H1231.9M1229.4 1225.8H1231.9M1226.9 1224.1H1231.9M1229.4 1212.8H1231.9M1229.4 1206.1H1231.9M1229.4 1201.4H1231.9M1229.4 1197.8H1231.9M1229.4 1194.8H1231.9M1229.4 1192.3H1231.9M1229.4 1190.1H1231.9M1229.4 1188.2H1231.9M1226.9 1186.5H1231.9M1229.4 1175.2H1231.9M1229.4 1168.6H1231.9M1229.4 1163.9H1231.9M1229.4 1160.2H1231.9M1229.4 1157.3H1231.9M1229.4 1154.8H1231.9M1229.4 1152.6H1231.9M1229.4 1150.7H1231.9M1226.9 1148.9H1231.9M1229.4 1137.6H1231.9M1229.4 1131H1231.9M1226.9 1126.4H1231.9M1226.9 1366.8H1231.9" fill="none" stroke="#000" stroke-width="1.1"/>
<text x="1221.5" y="1387.3" class="An" font-size="10.8">10</text>
<text x="1234.6" y="1382.8" class="An" font-size="8.4">3.8</text>
<text x="1282.8" y="1387.3" class="An" font-size="10.8">10</text>
<text x="1295.8" y="1382.8" class="An" font-size="8.4">5</text>
<text x="1329.3" y="1387.3" class="An" font-size="10.8">10</text>
<text x="1342.4" y="1382.8" class="An" font-size="8.4">6</text>
<text x="1375.9" y="1387.3" class="An" font-size="10.8">10</text>
<text x="1388.9" y="1382.8" class="An" font-size="8.4">7</text>
<text x="1422.5" y="1387.3" class="An" font-size="10.8">10</text>
<text x="1435.5" y="1382.8" class="An" font-size="8.4">8</text>
<text x="1461.9" y="1387.3" class="An" font-size="10.8">10</text>
<text x="1475" y="1382.8" class="An" font-size="8.4">8.9</text>
<g transform="rotate(-90 1219.9 1308.04)">
<text x="1219.9" y="1308" class="An" font-size="10.8">10</text>
<text x="1232.9" y="1303.5" class="An" font-size="8.4">3</text>
</g>
<g transform="rotate(-90 1219.9 1270.47)">
<text x="1219.9" y="1270.5" class="An" font-size="10.8">10</text>
<text x="1232.9" y="1265.9" class="An" font-size="8.4">4</text>
</g>
<g transform="rotate(-90 1219.9 1232.91)">
<text x="1219.9" y="1232.9" class="An" font-size="10.8">10</text>
<text x="1232.9" y="1228.4" class="An" font-size="8.4">5</text>
</g>
<g transform="rotate(-90 1219.9 1195.35)">
<text x="1219.9" y="1195.3" class="An" font-size="10.8">10</text>
<text x="1232.9" y="1190.8" class="An" font-size="8.4">6</text>
</g>
<g transform="rotate(-90 1219.9 1377.16)">
<text x="1219.9" y="1377.2" class="An" font-size="10.8">10</text>
<text x="1232.9" y="1372.6" class="An" font-size="8.4">1.2</text>
</g>
<g transform="rotate(-90 1219.9 1140.76)">
<text x="1219.9" y="1140.8" class="An" font-size="10.8">10</text>
<text x="1232.9" y="1136.2" class="An" font-size="8.4">7.6</text>
</g>
<text x="1352.1" y="1403.8" class="An" font-size="10.8" text-anchor="middle">FITC-A</text>
<text x="1202.9" y="1246.6" class="An" font-size="10.8" text-anchor="middle" transform="rotate(-90 1202.9 1246.6)">PE-A</text>
<text x="1236.9" y="1139.4" class="An" font-size="10.3">Q3-1</text>
<text x="1236.9" y="1151.6" class="An" font-size="10.3">0.19%</text>
<text x="1428.3" y="1139.4" class="An" font-size="10.3">Q3-2</text>
<text x="1428.3" y="1151.6" class="An" font-size="10.3">6.91%</text>
<text x="1236.9" y="1347.8" class="An" font-size="10.3">Q3-3</text>
<text x="1236.9" y="1359.8" class="An" font-size="10.3">90.76%</text>
<text x="1435.3" y="1347.8" class="An" font-size="10.3">Q3-4</text>
<text x="1435.3" y="1359.8" class="An" font-size="10.3">2.14%</text>
<text x="1362.1" y="1119.9" class="An" font-size="10.8" text-anchor="middle"><tspan>13 / </tspan><tspan fill="#e01010">P1</tspan><tspan> / </tspan><tspan fill="#18a018">P2</tspan></text>
<text x="1263.51" y="1099.99" class="Sb" font-size="31.84" textLength="166.71" lengthAdjust="spacingAndGlyphs">Exo-inhibitor</text>
<rect x="1685.5" y="1231" width="22.5" height="61.6" fill="#2878b6" stroke="#000" stroke-width="2.4"/>
<rect x="1723.2" y="1187" width="22.5" height="105.5" fill="#bfbd25" stroke="#000" stroke-width="2.4"/>
<rect x="1761.5" y="1214.5" width="22.5" height="78.1" fill="#1dbecf" stroke="#000" stroke-width="2.4"/>
<rect x="1799" y="1191.6" width="22.5" height="101" fill="#e079c0" stroke="#000" stroke-width="2.4"/>
<rect x="1837" y="1163.7" width="22.5" height="128.9" fill="#2ca02c" stroke="#000" stroke-width="2.4"/>
<line x1="1696.7" y1="1222.5" x2="1696.7" y2="1239.4" stroke="#000" stroke-width="2.1"/>
<line x1="1692.2" y1="1222.5" x2="1701.2" y2="1222.5" stroke="#000" stroke-width="2.1"/>
<line x1="1692.2" y1="1239.4" x2="1701.2" y2="1239.4" stroke="#000" stroke-width="2.1"/>
<circle cx="1695.6" cy="1237.7" r="4.6" fill="none" stroke="#000" stroke-width="2.2"/>
<circle cx="1700.1" cy="1229.3" r="4.6" fill="none" stroke="#000" stroke-width="2.2"/>
<circle cx="1704.6" cy="1223.6" r="4.6" fill="none" stroke="#000" stroke-width="2.2"/>
<line x1="1734.5" y1="1179.3" x2="1734.5" y2="1194.8" stroke="#000" stroke-width="2.1"/>
<line x1="1730" y1="1179.3" x2="1739" y2="1179.3" stroke="#000" stroke-width="2.1"/>
<line x1="1730" y1="1194.8" x2="1739" y2="1194.8" stroke="#000" stroke-width="2.1"/>
<circle cx="1732.2" cy="1194.1" r="4.6" fill="none" stroke="#000" stroke-width="2.2"/>
<circle cx="1736.8" cy="1185.6" r="4.6" fill="none" stroke="#000" stroke-width="2.2"/>
<circle cx="1743.5" cy="1177.2" r="4.6" fill="none" stroke="#000" stroke-width="2.2"/>
<line x1="1772.7" y1="1206" x2="1772.7" y2="1222.9" stroke="#000" stroke-width="2.1"/>
<line x1="1768.2" y1="1206" x2="1777.2" y2="1206" stroke="#000" stroke-width="2.1"/>
<line x1="1768.2" y1="1222.9" x2="1777.2" y2="1222.9" stroke="#000" stroke-width="2.1"/>
<circle cx="1770.5" cy="1220.8" r="4.6" fill="none" stroke="#000" stroke-width="2.2"/>
<circle cx="1773.8" cy="1215.2" r="4.6" fill="none" stroke="#000" stroke-width="2.2"/>
<circle cx="1781.7" cy="1208.2" r="4.6" fill="none" stroke="#000" stroke-width="2.2"/>
<line x1="1810.2" y1="1185.2" x2="1810.2" y2="1197.9" stroke="#000" stroke-width="2.1"/>
<line x1="1805.7" y1="1185.2" x2="1814.7" y2="1185.2" stroke="#000" stroke-width="2.1"/>
<line x1="1805.7" y1="1197.9" x2="1814.7" y2="1197.9" stroke="#000" stroke-width="2.1"/>
<circle cx="1802.3" cy="1192.7" r="4.6" fill="none" stroke="#000" stroke-width="2.2"/>
<circle cx="1810.2" cy="1184.2" r="4.6" fill="none" stroke="#000" stroke-width="2.2"/>
<circle cx="1818.1" cy="1191.3" r="4.6" fill="none" stroke="#000" stroke-width="2.2"/>
<line x1="1848.2" y1="1148.2" x2="1848.2" y2="1179.2" stroke="#000" stroke-width="2.1"/>
<line x1="1843.7" y1="1148.2" x2="1852.7" y2="1148.2" stroke="#000" stroke-width="2.1"/>
<line x1="1843.7" y1="1179.2" x2="1852.7" y2="1179.2" stroke="#000" stroke-width="2.1"/>
<circle cx="1848.2" cy="1178.6" r="4.6" fill="none" stroke="#000" stroke-width="2.2"/>
<circle cx="1848.2" cy="1163.1" r="4.6" fill="none" stroke="#000" stroke-width="2.2"/>
<circle cx="1848.2" cy="1149.1" r="4.6" fill="none" stroke="#000" stroke-width="2.2"/>
<line x1="1670" y1="1080.2" x2="1670" y2="1292.6" stroke="#000" stroke-width="2.6"/>
<line x1="1663" y1="1292.6" x2="1874.5" y2="1292.6" stroke="#000" stroke-width="2.6"/>
<text x="1650.07" y="1300.66" class="Sb" font-size="24.6" textLength="13.78" lengthAdjust="spacingAndGlyphs">0</text>
<line x1="1663" y1="1222.2" x2="1670" y2="1222.2" stroke="#000" stroke-width="2.6"/>
<text x="1649.84" y="1230.29" class="Sb" font-size="24.98" textLength="13.99" lengthAdjust="spacingAndGlyphs">5</text>
<line x1="1663" y1="1151.9" x2="1670" y2="1151.9" stroke="#000" stroke-width="2.6"/>
<text x="1636.3" y="1159.93" class="Sb" font-size="24.6" textLength="27.55" lengthAdjust="spacingAndGlyphs">10</text>
<line x1="1663" y1="1081.5" x2="1670" y2="1081.5" stroke="#000" stroke-width="2.6"/>
<text x="1636.06" y="1089.56" class="Sb" font-size="24.78" textLength="27.75" lengthAdjust="spacingAndGlyphs">15</text>
<line x1="1696.7" y1="1292.6" x2="1696.7" y2="1299.6" stroke="#000" stroke-width="2.6"/>
<line x1="1734.5" y1="1292.6" x2="1734.5" y2="1299.6" stroke="#000" stroke-width="2.6"/>
<line x1="1772.7" y1="1292.6" x2="1772.7" y2="1299.6" stroke="#000" stroke-width="2.6"/>
<line x1="1810.2" y1="1292.6" x2="1810.2" y2="1299.6" stroke="#000" stroke-width="2.6"/>
<line x1="1848.2" y1="1292.6" x2="1848.2" y2="1299.6" stroke="#000" stroke-width="2.6"/>
<text class="Ast" font-size="30.51" transform="translate(1718.84 1178.42) scale(1 1.11)">*</text>
<text class="Ast" font-size="30.51" transform="translate(1735.94 1178.42) scale(1 1.11)">*</text>
<text class="Ast" font-size="33.11" transform="translate(1764.74 1198.16) scale(1 0.97)">*</text>
<text class="Sn" font-size="38.8" transform="translate(1841.3 1136.3) scale(1 1.04)">#</text>
<text x="1593.83" y="1287.26" class="Sb" font-size="24.26" textLength="212.41" lengthAdjust="spacingAndGlyphs" transform="rotate(-90 1593.83 1287.26)">Apoptosis rate (%)</text>
<text x="1622.3" y="1212.26" class="Sb" font-size="22.06" textLength="65.51" lengthAdjust="spacingAndGlyphs" transform="rotate(-90 1622.3 1212.26)">(n=3)</text>
<text x="1501.1" y="1326.75" class="Sb" font-size="25.3" textLength="159.71" lengthAdjust="spacingAndGlyphs">Exo-mimics NC</text>
<text x="1501.1" y="1353.76" class="Sb" font-size="24.83" textLength="117.46" lengthAdjust="spacingAndGlyphs">Exo-mimics</text>
<text x="1501.1" y="1380.76" class="Sb" font-size="24.16" textLength="176.71" lengthAdjust="spacingAndGlyphs">Exo-inhibitor NC</text>
<text x="1501.1" y="1408.76" class="Sb" font-size="24.16" textLength="135.4" lengthAdjust="spacingAndGlyphs">Exo-inhibitor</text>
<text class="Ab" font-size="31.51" transform="translate(1690.27 1327.33) scale(1 0.96)">-</text>
<text class="Sn" font-size="36.53" transform="translate(1723.18 1327.9) scale(1 0.94)">+</text>
<text class="Ab" font-size="31.51" transform="translate(1766.27 1327.33) scale(1 0.96)">-</text>
<text class="Ab" font-size="31.51" transform="translate(1803.77 1327.33) scale(1 0.96)">-</text>
<text class="Ab" font-size="31.51" transform="translate(1841.27 1327.33) scale(1 0.96)">-</text>
<text class="Ab" font-size="31.51" transform="translate(1690.27 1354.33) scale(1 0.96)">-</text>
<text class="Ab" font-size="31.51" transform="translate(1728.27 1354.33) scale(1 0.96)">-</text>
<text class="Sn" font-size="36.53" transform="translate(1761.18 1354.9) scale(1 0.94)">+</text>
<text class="Ab" font-size="31.51" transform="translate(1803.77 1354.33) scale(1 0.96)">-</text>
<text class="Ab" font-size="31.51" transform="translate(1841.27 1354.33) scale(1 0.96)">-</text>
<text class="Ab" font-size="31.51" transform="translate(1690.27 1381.33) scale(1 0.96)">-</text>
<text class="Ab" font-size="31.51" transform="translate(1728.27 1381.33) scale(1 0.96)">-</text>
<text class="Ab" font-size="31.51" transform="translate(1766.27 1381.33) scale(1 0.96)">-</text>
<text class="Sn" font-size="36.53" transform="translate(1798.68 1381.9) scale(1 0.94)">+</text>
<text class="Ab" font-size="31.51" transform="translate(1841.27 1381.33) scale(1 0.96)">-</text>
<text class="Ab" font-size="31.51" transform="translate(1690.27 1409.33) scale(1 0.96)">-</text>
<text class="Ab" font-size="31.51" transform="translate(1728.27 1409.33) scale(1 0.96)">-</text>
<text class="Ab" font-size="31.51" transform="translate(1766.27 1409.33) scale(1 0.96)">-</text>
<text class="Ab" font-size="31.51" transform="translate(1803.77 1409.33) scale(1 0.96)">-</text>
<text class="Sn" font-size="36.53" transform="translate(1836.18 1409.9) scale(1 0.94)">+</text>
<text x="14.1" y="1428.73" class="Sb" font-size="35.63" textLength="28.85" lengthAdjust="spacingAndGlyphs">D</text>
<rect x="8.6" y="1455" width="309.1" height="206.4" fill="#000"/>
<clipPath id="mc21"><rect x="8.6" y="1455" width="309.1" height="206.4"/></clipPath><g clip-path="url(#mc21)">
<path d="M189 1507.2l0.4 1.7M57.1 1527.5l0.1 0.6M121 1527l-0.7 0.8M145.4 1501.4l-0.1 2.5M30.2 1459.7l0.4 1M70.6 1632.6l0.6 1.5M131.2 1557.1l1.9 0.7M272.8 1464.2l-1.1 1.6M289.3 1592.3l0.1 1.7M188.8 1456.8l1.7 1.2M199.1 1468.9l-0.4 0.4M221.8 1519.5l0.6 2.4M174.8 1538l0.5 2.5M192.4 1499.6l-0.9 1.2M298.2 1618.7l-0.1 0.4M174.3 1636l0.1 2M99.6 1468.4l-1 0.5M54.4 1500.6l1.2 2.2M241.6 1657.9l0.9 0.4M155.6 1504.5l0.6 0.1M125 1535.5l0.3 1.6M139.1 1603l2.1 0.2M239.7 1505.3l-1 2.1M144.1 1474.1l1.4 1.7M239.4 1525.8l1.5 0.8M98.9 1486.5l-0.3 0.9M138.2 1573.3l-1 1.6M180.8 1490.3l-0.2 1.7M68.5 1599.4l-2.5 0.7M64.5 1529.8l0.5 2.5M109.9 1532.2l-0.1 2.3M60.2 1536.3l0.1 0.6M208.4 1468.3l-0.6 0.2M163.6 1599.5l-1.3 0.6M231.6 1539.9l-0.4 0.4M99 1612.7l-0.7 1.2M111.4 1546.6l-0.6 1.4M81 1465.7l2.1 0.1M270.7 1582.4l-0.6 1.9M306.9 1545.5l0.1 0.9M125.8 1505.4l0.8 0.2M273.3 1570.7l2.4 1M244.7 1598.2l-1.1 1.9M182.6 1474.9l2 1.4M165.5 1490.3l-0.5 1.3M251.7 1603.5l0.8 2.3M26.6 1529l1 1.6M233.5 1586.1l2.2 1.1M278.1 1620l1.6 0.5M218.9 1502.8l-0.3 0M150.9 1516.8l-1 1M132 1654.7l0 0.4M243.8 1462.2l0.9 0.6M77.5 1530.3l1.3 1.7" fill="none" stroke="#1422f4" stroke-width="7.2" stroke-linecap="round"/>
<path d="M191.6 1637.2l-1 0.1M225.4 1510l1.9 1.2M215 1477.5l-0.3 0.1M220.9 1608.7l1.4 0.2M56.6 1601.8l2.2 1.2M147.6 1493.2l-1.3 0.1M70.5 1590.1l0.9 0.6M81.9 1653.9l-2.3 0.1M163.4 1466.6l0.7 0.2M166.3 1475.7l-1.4 0.7M232.4 1548.1l-0.1 2.1M288.6 1620.9l0.9 1.2M298.6 1589.4l-0.9 0.8M310 1627.9l1.5 1.1M84.5 1517l1.7 0.4M165 1504l0.7 0.4M119.6 1459.8l0.7 0.2M78.9 1586.6l1.1 1.2M276.9 1562.9l-1 1.2M167.4 1539.2l0.1 0.5M77.6 1570.6l-1.2 0.9M70.3 1511.7l0.2 0.9M174.6 1521.5l0.1 1M27.1 1610.1l0.4 2M224.5 1493.3l-0.1 0.3M267.2 1570.3l-0.7 0.6M24.9 1558.3l2.1 0.6M159.6 1535.4l-2.1 0.3M25 1514.1l0.2 0.3M93.7 1500.6l-1.1 1.1M113.2 1591.5l-0.9 2.3M244.4 1502.1l2.3 1.1M117 1563.7l-0.6 0.4M70.2 1577l0.6 2.1M229.3 1480.2l0.6 0.2M179.6 1511.9l0.7 1.5M66.8 1499.6l0.6 0.7M77.5 1492.3l0 0.6M61.4 1585.7l1.3 2M151 1552.1l-0.3 1M90.7 1593.3l-1 0.7M130.8 1582.4l0.8 0.2M269.1 1555.8l0.4 0.2M196.8 1461.9l-2.5 0.2M77.2 1551.8l-0.3 0.1M167.7 1556.1l-0.8 0.5M44.8 1614l-0.9 0.5M198.5 1541.9l1.5 0.4M222 1578.5l-0.6 0.6" fill="none" stroke="#1a1ae8" stroke-width="7.2" stroke-linecap="round"/>
<path d="M24.3 1500.2l-0.4 0.8M257.5 1540.9l0.9 2.1M211.8 1461.9l0.6 0.6M312.7 1608.3l-0.3 1.2M156.8 1651.1l-0.3 1M120.8 1486.7l1.7 0M226.3 1555.9l-0.7 1.1M257.6 1567l-0.2 2.6M33.9 1558.4l1.4 0.2M259.9 1580.9l0.7 0.7M71 1607.8l-0.8 1.2M105.1 1505.3l-0.9 1.1M135.2 1469.7l-2 0.8M80.6 1477.2l-0.1 0.3M180 1460.6l0.5 0M110.8 1510l0.1 1.3M290.7 1600.8l-1.6 0M95.2 1525.8l1 1.4M212.8 1485.6l-1.7 1.6M95.1 1515.5l-0.3 0.4M131.5 1499l0.8 1.2M197.6 1493.9l0.1 0.5M313.8 1558.2l-1.8 0.8M212.4 1526.4l2.2 1M225.5 1501.9l0.6 0.5M126.9 1468.8l-0.6 1.4M158.7 1485.8l0.5 1.2M307.5 1563.1l1.3 1.2M43.1 1594l-0.9 0.5M268.7 1563.6l-0.2 0.2M112.8 1463.8l1.1 1M139.5 1492.7l-1.3 1.7M93 1535.7l1.2 1.4M292.5 1549.6l-0.1 1.2M265.2 1589.4l-1.8 1.7M280.6 1642.6l0.3 1.1M108.8 1573.1l0.1 1.9M157.4 1523l-1.6 0.7M261.5 1507.2l0.4 0.3M65.7 1480.8l-0.3 0.8M315.3 1598.5l-0.4 0.4M313 1576l-1.7 1.7M186.6 1484.8l-0.1 1M68.5 1467.9l1.5 1.8M288.1 1493.4l0.1 1.6M223.3 1463.7l-2 1M270.6 1594.1l-0.7 2.3M240.6 1484l1 1.9" fill="none" stroke="#0c18ff" stroke-width="7.2" stroke-linecap="round"/>
<path d="M14.5 1487.4l0.4 1.7M105.1 1471l0.2 2.4M70.1 1644.9l1.3 1.3M284.1 1633.7l-0.7 0.1M187.8 1542.8l0.1 0.9M171.4 1528.7l0.8 0.4M165.4 1520.6l2.2 1M74 1524.4l0.1 1.8M261 1633.6l1.3 1.9" fill="none" stroke="#30d4f2" stroke-width="7" stroke-linecap="round"/>
<path d="M249.1 1549.7l-2 1.6M278.2 1604l-0.9 0.7M186.2 1527l0.1 1.8M134.1 1530.4l2.1 0M196.1 1561.1l0.9 0.7" fill="none" stroke="#40e0e0" stroke-width="7" stroke-linecap="round"/>
</g>
<rect x="323.6" y="1455" width="308.7" height="206.4" fill="#000"/>
<clipPath id="mc22"><rect x="323.6" y="1455" width="308.7" height="206.4"/></clipPath><g clip-path="url(#mc22)">
<path d="M592.1 1499l-1.6 1.5M617.8 1609.1l-0.2 0.2M369.5 1605.3l-1.4 1.8M606.3 1467.1l-2 1.4M412.6 1637.2l0.4 0.2M610.8 1571.7l0.2 0.3M378.3 1649.7l0.5 2.5M575.6 1568.3l-1.8 1.2M373.9 1580l-1.4 0.6M382.6 1538.3l-0.5 0.9M603.7 1624.9l0.2 0.6M471.8 1628.3l1.2 0.4M504.9 1529l1.9 0.5M456.4 1565.8l2.2 0.8M504.5 1517.1l-0.4 0.9M586.3 1556.1l-1.9 0.1M406.8 1628.3l0.5 2.4M586.6 1600.4l0.9 1M511.6 1506.2l0.8 1.7M526.8 1540.4l0.6 0.8M490 1607.9l0 0.7M588.3 1621.3l0.3 0.2M617.7 1483.3l1.3 2.2M534.9 1526.9l-1.4 0M512.1 1543.1l-1 2M433 1629.8l-1.6 1.4M391.5 1596.7l0.9 2.2M594.3 1516.2l-1.2 0.2M339.5 1616l-1.1 1.4M541.8 1571.8l-0.1 1.6M559.4 1494.7l2.2 0.7M576 1494.7l-0.5 1.6M423.1 1648.2l-0.1 0.6M491.2 1635.6l1.1 1.2M573.5 1615.7l1.1 1.3M483.9 1618.9l0.5 1.3M600.8 1563.5l0.7 1.2M606.7 1541.2l1.6 1.2M583.1 1574.8l0.4 0.2M591.5 1564.5l-2.4 0.2M554.1 1521.5l-0.3 0.5M461.2 1649l0 0.9M414.1 1652.9l-0.3 1.1M457.9 1605.7l-2.2 1.3M624.7 1456.9l0.8 1.3M556.2 1611.1l-1.2 0.5M527.4 1595.7l0.2 1.4M521.5 1504.2l2.5 0.3M550.4 1532.2l1.5 1.3M622.6 1544.7l1.7 0.2M611.2 1505.2l0.2 1.1M445.8 1644.3l-0.7 0.1M366.5 1564.9l1.7 1.5M602.3 1494.7l2.1 1.2M576.8 1487.4l1.2 0.6M483.5 1588.2l0 0.7" fill="none" stroke="#1422f4" stroke-width="7.2" stroke-linecap="round"/>
<path d="M379.4 1624.5l2.4 0M629 1478.6l-1.1 1M328.4 1557.9l1.6 0.6M613.6 1514.2l0.6 2.1M621.4 1472l0.6 1M559.6 1534l-1.7 1.7M531.9 1556.3l-0.3 0.4M593.5 1599.9l1.8 0.4M372.8 1513.3l0.3 0.9M532.5 1505.7l-0.2 0.3M408.1 1588.4l0.2 1M476 1580l1 2.2M602.4 1642.9l-0.8 1.9M584.8 1484.8l-0.8 2.3M597.5 1606.2l-0.3 0.3M338.4 1480l1.6 0.8M627.6 1588.4l-1.6 1.6M481.6 1641.6l-0.2 0.2M328.2 1590.5l-1.4 0.7M568.6 1575.5l-0.6 2M573.8 1644.4l0.7 0.1M409.1 1616l2.2 0.9M621.8 1597.6l-0.2 0.6M413.4 1479.2l1.4 1M604.4 1488.1l1.2 0.5M600.5 1514.8l1.6 0.9M623.7 1499l-0.5 0.5M432.5 1599.6l0.5 2M567 1520.1l-2.1 0.2M574 1596.6l-0.3 0.1M565.1 1613.8l1.7 1.7M541.6 1493l1.7 1.9M452.6 1625.5l-0.6 1M461.5 1514.8l0.3 0.1M543.6 1563l1.7 1.2M339.8 1458.1l-0.9 1.5M522.8 1464.4l-0.2 2.2M363.2 1621.8l1.5 0.1M514.2 1533.7l-0.3 0.2M595.4 1541.5l-0.2 0.3M605.7 1582l1 1.9M360.6 1658.8l-0.1 0.8M504.6 1509l0.6 1.4M387.8 1573.6l0 0.8M364 1645l-0.2 0.6M611.4 1551.4l0.6 0.6" fill="none" stroke="#1a1ae8" stroke-width="7.2" stroke-linecap="round"/>
<path d="M395.8 1645.1l-1.6 1.9M397.3 1635.2l-0.7 1.4M511.8 1647.4l0.1 1.1M623.6 1511.4l-0.2 0.4M604.9 1601.2l0.4 0.7M546.8 1601.5l-1.4 0.3M619.1 1582.8l-1.8 0.8M528.6 1612.4l0.9 0.5M427.4 1465.2l1.3 2.1M578.3 1474.3l0.1 2.1M518 1554.6l0.9 0.9M557 1563.2l-0.2 1.3M530.8 1638.3l-0.2 1.1M392.3 1612.6l-0.3 1M501.3 1634.4l0.3 0.3M424 1635.6l0.3 1M337.7 1606.3l0.8 1.8M427.1 1554.2l0.2 1.1M513.9 1590.6l-0.3 0.8M403.3 1602.7l-1.1 1.6M465 1488.8l-2 0.7M497 1646.4l-0.2 0.3M507.1 1613.3l-0.3 0.2M591.4 1609.2l-1 1.6M512.9 1639.6l1.6 1.2M607.1 1594.6l0 0.4M601.5 1589l0.8 1.4M337.5 1468l0.3 0.5M444.5 1505.6l-0.7 1.2M436.5 1624.3l0.4 1.8M561.9 1619.6l-1.9 1.1M603.8 1477.2l-2.1 1.3M481.6 1575.3l-1 0.6M613.2 1466.5l0.6 0.2M539.2 1608.9l0.6 0.1M574.9 1580.6l1.1 0.4M460 1480.6l0.6 0.4M550.6 1473l-0.8 1.5M558.7 1586.2l-0.9 0.4M623.4 1651.1l-0.4 0.1M597.9 1654.5l1.8 0.1M401.3 1585.9l-2 0.1M419.7 1624.2l1.2 1.3M613.2 1616.6l-0.1 1.3M559.8 1592.7l-0.5 1.6M559.2 1463l-0.4 0.6M532.6 1513.8l0.6 0.2M403.7 1531.8l2.4 0.4M404.6 1654.6l-2.1 0.6M456.7 1633.2l-0.8 1.3M460.1 1553.9l0.3 1.7M521.9 1577.4l-1.4 1.5M442 1519.8l0.2 0.5M519 1525.3l-0.8 0.6M478.7 1470.7l-2.1 0.1M579.2 1503.8l-1.2 1.9M408.2 1545.2l0.2 0.2M518.8 1614l0.3 1.3M597 1484.4l2.3 1M579.7 1604.2l0.3 0.5M344.2 1487l-0.9 1.6" fill="none" stroke="#0c18ff" stroke-width="7.2" stroke-linecap="round"/>
<path d="M507.2 1556.6l0 0.3M602.2 1502.3l2.5 0.1" fill="none" stroke="#30d4f2" stroke-width="7" stroke-linecap="round"/>
<path d="M584.4 1588.9l0.1 0.6M420.4 1616.2l-0.7 0M524.2 1483.9l0.7 0.9M528.9 1492.3l1.6 1.7M471.8 1635.5l0.9 0M468.9 1621.9l-1.2 2.1M583.9 1615l0.8 0.3M596.9 1506.5l0.9 0.1M617.3 1560.5l0.5 0.4M570.8 1589l0.3 0.4" fill="none" stroke="#40e0e0" stroke-width="7" stroke-linecap="round"/>
</g>
<rect x="637.9" y="1453.7" width="308.3" height="207" fill="#000"/>
<clipPath id="mc23"><rect x="637.9" y="1453.7" width="308.3" height="207"/></clipPath><g clip-path="url(#mc23)">
<path d="M736.8 1484.2l-0.6 2M802.9 1657.8l2.1 1M888.3 1638.3l0.9 1.3M834.5 1505.1l-0.9 0.1M867.6 1566.2l0.5 1M799.7 1470.1l1.2 0.4M657.8 1582.4l-1.1 0.9M780.1 1538.6l-1.4 0.7M686.3 1462.4l2.2 0.3M842.6 1610l2.5 0.4M803.4 1596.4l1.2 0.7M928.3 1622.3l-0.1 0.7M714.5 1657l-0.5 0.2M882 1557.1l-1.6 0.1M800.7 1563.4l1.3 1.6M722.7 1495.1l-0.5 1.8M761.2 1458.3l0.8 0.1M760.8 1484.3l0.3 1.6M702.2 1619.8l-0.4 0.7M823.6 1515.1l-1.2 1.6M653.6 1559l2.2 0.5M788.2 1489.3l0.3 2M817.1 1500.3l1.9 1M899.2 1548.6l1.8 0.7M719.8 1606.4l-0.1 0.4M881 1474.3l0.8 2M815.8 1546.8l0.3 0.3M877.5 1520.9l0 1.4M894.5 1577.9l0 1M908.3 1576.4l0.3 0M690.5 1578.5l-1.7 0.8M748.3 1589.9l-0.3 1.1M915 1644.3l-1.4 0.1M841.9 1548.1l0.7 0.5M936.5 1579.8l1.5 0.3M943.9 1612.5l-1.9 1.3M892.7 1585.4l-0.1 0.3M644.7 1523.3l0.7 0.3M718.2 1487.4l-0.9 0.9M770.7 1493.2l0.6 0.1M755.7 1568.8l1.7 0.9M767.1 1550.3l-2.1 0.3M871.1 1602.7l0.9 1.6M742.8 1510.4l0 0.4M908.9 1479.4l0.1 0.5M924.7 1520.4l1.4 1.4M807.5 1588.6l-2.2 0.2M823 1602.1l-1.9 0.9" fill="none" stroke="#1422f4" stroke-width="7.2" stroke-linecap="round"/>
<path d="M663.9 1534.4l-2.1 0.8M838.9 1580.8l-2.1 0.8M891.3 1496.5l0 1.6M776.3 1528.1l-0.3 1.1M654.3 1602.4l0.6 0.7M917.9 1514.1l1.4 0.8M796.5 1573.2l-1 1.1M771.7 1466.4l1.8 0.9M784.7 1527.2l0 1.6M746.5 1555.4l0.3 0.6M834.8 1527.1l-0.3 0.9M733.2 1644.6l0.9 0.1M765.4 1526.6l-1.1 0.3M732.8 1476.7l-0.8 1.9M815.8 1653.6l-0.8 0.7M879.3 1653.2l-0.2 1.8M859.9 1483.2l-0.5 0.4M869.7 1621.6l-0.5 0.2M701.8 1564l1 0.6M843.8 1476.3l-0.5 1.3M937 1476.5l-0.3 0.3M661.9 1470l0.9 1M859.9 1576.5l0 1.2M720.7 1506.8l0.2 2.5M730.9 1580.3l-1.9 1M682.6 1515.1l-0.8 0.7M783 1476.8l-1.6 1.9M920.6 1596.3l-0.1 1.4M798.9 1492.3l-0.7 1.4M800.2 1507.2l-1.6 1M943.2 1529.7l-2 0.6M729.3 1504l0.3 1.2M748 1489l2 0.1M686.8 1525.5l0.8 0.9M691.2 1563.8l0 0.7M809.1 1488.5l-1.7 0M722.1 1557.9l0.5 0.6M648 1567.6l-0.7 1M813.5 1610.6l0 1.9M865.9 1650.9l-0.3 1.9M890 1512.6l0.8 0.7M936.9 1503.7l1.4 0.1M696.4 1585.5l1 1.7M917.1 1611.6l0.7 1.5M696.8 1460.3l0.1 1.5M743.8 1532.2l0.1 1M860.7 1497l-1.5 0.1M855.9 1658l-2.1 1M897.3 1461.5l0.6 0.4M656.2 1480.5l0.4 0.1M874.3 1642.1l0.7 0.1M697.1 1570.8l-1.6 1.5M874 1594.9l-1.1 0.9" fill="none" stroke="#1a1ae8" stroke-width="7.2" stroke-linecap="round"/>
<path d="M800.6 1541.1l-0.3 0.3M829.7 1564.1l0.8 0.5M697.3 1503.7l-0.4 0.5M918.2 1502l-1 0.9M722 1523l-0.5 1.5M672.7 1472.7l-2.1 1.1M904.7 1556.7l-1.3 0.1M679.1 1478l-0.2 1.8M897.3 1647.5l-0.3 0.1M647.3 1550.4l-1.4 0.3M729.4 1638.2l-1.3 2.2M931.9 1603.9l0.6 0.1M761.4 1513.9l-1 0.5M751.4 1651.2l-1 0.5M640.1 1485.1l1.1 1M844.9 1656.4l0.2 0.5M665 1483.3l-0.1 0.3M757.9 1502l1 0.5M656.7 1501.7l0.6 0.4M668.3 1564.5l0.3 0.4M788.8 1606l-0.4 0.3M717.9 1645.2l0.2 0.6M897.3 1627.9l-1.8 0.8M795.2 1476.1l-2 0.8M773.3 1484.3l-0.5 1.8M757.9 1530l0.8 0M750 1606.2l2 0.1M713 1506.2l-1.8 1.3M813.3 1584.2l0.4 0.7M721.6 1477.3l2 1M920 1538.6l0.2 1.5M824.8 1555.4l-1.5 0M919 1618.2l1.9 1.7M790.5 1514.8l0.8 1.1M922.9 1629l0 1M852.1 1636.1l-0.4 0.4M828.6 1489.9l-1.4 0.8M780.5 1580.7l-0.5 1.3M683.4 1591l-0.9 1.1M803.9 1477.5l-2.2 1.3M686.5 1604l0.4 0.6M814 1507.9l-2.4 0.6M782.4 1517.5l-1.2 1.1M787.8 1573.6l0.3 1.7M780.9 1497.4l0.4 1.3M742.5 1465.6l0.7 2.3M855.5 1458.2l-1.4 0.2M848.5 1526l-0.5 1.7M772.5 1554.9l0.8 2.1M882.4 1593.5l1.4 0.4M800.7 1616.6l0 0.3M749.9 1465.8l1 1.8M794.7 1521.9l1.9 1.3" fill="none" stroke="#0c18ff" stroke-width="7.2" stroke-linecap="round"/>
<path d="M644.4 1460.1l0.4 0.2M832.4 1611.7l0.7 2.2M805.9 1497.3l0.5 2.3M826.7 1596.2l0.5 0.8M792.7 1579.8l1.6 1.9" fill="none" stroke="#30d4f2" stroke-width="7" stroke-linecap="round"/>
<path d="M928.1 1544.1l0.5 0.9" fill="none" stroke="#40e0e0" stroke-width="7" stroke-linecap="round"/>
</g>
<rect x="951" y="1453.7" width="309.6" height="205.8" fill="#000"/>
<clipPath id="mc24"><rect x="951" y="1453.7" width="309.6" height="205.8"/></clipPath><g clip-path="url(#mc24)">
<path d="M1132.9 1609.2l0 1.6M1003.3 1544.4l0.7 2.5M1161.7 1493.7l0.9 0.4M1199.1 1486l0.3 0.9M1154.5 1605.4l1.4 0.9M982.9 1621.3l0 0.6M1196.7 1583l1.2 0.3M1042.1 1558l-0.7 0M1193.1 1497.1l1.1 2.2M1165.4 1649.8l0.6 0.1M1253.6 1567.9l1 1.8M1023.8 1643.8l-2.3 1.1M1140 1600.7l-1.7 0.4M957.1 1603.2l-0.9 1M1145.7 1638.8l0.1 0.3M1055.8 1571.5l0.2 0.9M1015.3 1474l-0.3 0.7M1247.1 1587.6l0.3 0.2M1141 1555.3l-0.4 1.6M993.2 1517.4l0.3 0.5M1068.7 1644.1l2.3 0.1M1168.3 1629.9l-1.2 0.4M1238.3 1489.2l-0.7 0.4M1174.6 1622.3l-1.3 0.8M1233.7 1508.9l-0.1 1.6M1210.4 1496.5l2.2 0.6M1086.4 1643.5l-1.9 1M1133.1 1562.6l0 1.1M1017.7 1555.5l-1 2M991.7 1646.1l-0.4 2.5M1150.6 1552.9l0.2 0.9M1164.5 1557.6l-2 1.3M955.2 1533.5l-1.9 0.2M1227.4 1490.4l-2.2 0.5M1189.2 1590.3l-0.4 0.2M1230 1498.9l-0.1 0.4M1021.1 1549.4l1.3 0.2M1091.5 1577.3l0.3 2.3M1105.5 1635.1l-0.4 1.9M1222.4 1515.1l1.3 0.1M1102.9 1643.7l-0.8 0.9M1160 1640.7l-0.3 0.8M1209.7 1611.4l1.5 2.1M1122.5 1602.2l-2 0.3M1219 1551.9l-1 1.3M1109.2 1543.7l-1.8 0.2" fill="none" stroke="#1422f4" stroke-width="7.2" stroke-linecap="round"/>
<path d="M1162.6 1528.6l-1.2 1.2M952.5 1640.2l2.2 1.2M1256.3 1516.2l0 0.6M1181.2 1592.2l-0.6 1.8M991.8 1617.9l0.6 2.2M1204.4 1542.4l-0.9 1.6M1161.2 1577.1l-1 2.4M1034.9 1631l-0.5 0.1M1208.8 1503l-0.8 0.9M1184 1601.5l-0.6 0.4M1111.3 1650.5l-1.7 1.5M1172.1 1614.8l-0.6 0.7M1180.9 1575.9l0.3 1.2M1215.9 1534.4l-1.3 1.9M982.8 1592.6l1 0.3M1204.5 1641l-0.3 0M998.2 1531l-0.5 1.6M1188 1507.4l-0.6 0.7M1159.5 1568.3l-1.8 1.3M1146.3 1485l1 1.9M1187.5 1637.5l0.3 0M1015.9 1574.1l-1.7 1.9M1257.9 1477.8l-1.5 1.8M1165.9 1506.2l-0.2 0.4M1249.5 1503.4l0.2 1.1M1193 1523.7l0.5 0.7M994.3 1542.4l0.5 0M1157.4 1535.5l-0.4 1.3M1036 1579.1l1 0.2M1082 1461.4l-0.1 0.8M1100.9 1613.6l-1.1 1.1M1051.1 1565.2l1.4 2.2M1224.1 1506.6l1.6 0.3M1180.7 1552.4l0.2 1.4M1205.1 1629.1l0.1 0.3M1246.8 1544.1l-0.7 1M1165.5 1542.8l0.6 0.4M1150 1644.6l2 0.1M1149.2 1599.6l0.4 0.2M960.6 1524.1l0.2 1.4M1102.1 1589.8l-0.6 2M1048.6 1623.8l1.9 0.4M1185.4 1473.1l1.4 0.5M1132 1580.4l1.3 1.6M1041.7 1531l-0.3 0.5M1199.9 1648.7l0.1 0.6M1018.3 1513.7l-0.9 0.3M1172.2 1521.9l-0.3 1.8M1095 1521.2l1.7 1.3M963.5 1610.3l-0.3 0.8M1058.7 1521.1l-0.6 0.7M1119.8 1543.5l0.8 0.5" fill="none" stroke="#1a1ae8" stroke-width="7.2" stroke-linecap="round"/>
<path d="M1095 1621.4l1.4 0.9M1135.3 1514.4l2.1 0.3M985.2 1469.8l1.4 1.6M1217.9 1644.4l0.4 2.2M1118 1615.2l-2 0.9M1124.1 1610.5l-0.4 2.6M1056.5 1594.2l-0.3 1.2M1084.6 1550.8l-1.5 0.4M1223.3 1476.5l1.9 1.3M1025.7 1590.7l-1.8 1.1M1188.3 1481.6l0 1.5M993.3 1468.5l1.2 0.3M1156.6 1545.3l1.8 0.3M976.7 1550.9l1.4 0.1M1217.7 1469.5l2.1 0.6M1066.8 1633.7l0.1 0.5M1215.2 1517.7l-1.5 0.1M1206.3 1472.9l-0.3 0.6M1029.6 1607.4l-0.5 0.1M952.6 1582.1l1.3 2M1204.8 1483.2l2.1 0.4M1218.7 1602l0.4 0.1M1168.3 1600.8l2.1 0.7M1196.3 1542.4l-0.3 1.4M992.2 1548.5l-1.6 0.4M1063.2 1652.1l-0.7 2.2M992.6 1598.1l-0.3 2M1033.2 1521l-1.4 0.7M1238.6 1459.7l1.3 0.5M1019.6 1607.4l2 1.4M1239.3 1497l-2.1 1.5M1184.5 1544.6l-0.7 2.2M1182.9 1624.6l1.3 0.4M1084.6 1612.5l0.9 2M1188.1 1533.1l-0.2 0.7M1070.9 1591.2l-0.9 1.1M1145.9 1567.4l0.1 1M1063.3 1607.9l0.6 1.2M1123.7 1514.5l1.8 1.3M1236.3 1476.4l-0.4 2.5M1197.9 1478l-1.7 1.1M1195.4 1464.9l-1.7 0.1M1086.5 1624.8l0.4 2.5M1213.4 1563.7l-0.9 0.1M957.2 1571l0.3 0.9M1188.8 1571.5l-1.3 1.9M1082 1481.4l-1.2 1.1M1111.9 1594.8l-1.8 1M1177.9 1582.1l-0.2 2.2M983.5 1488l1.2 0.3M1248.2 1526.6l0.5 0.8" fill="none" stroke="#0c18ff" stroke-width="7.2" stroke-linecap="round"/>
<path d="M1245.9 1535l-0.3 0.4M1249.2 1461.8l0.3 2.2M986 1614l-0.5 1M976 1605.2l-0.6 2.2M1173 1570.1l0.4 1.7M962.2 1632.6l-1.6 0.8M1175.8 1494.4l0.5 0.6M982.5 1503.8l-1.9 1.1" fill="none" stroke="#30d4f2" stroke-width="7" stroke-linecap="round"/>
<path d="M1180.3 1469.3l-1.6 0.1M1132.9 1651.8l1.2 1.1M1196.3 1615.9l1.7 0.7M1137.9 1593.3l0.1 1.4M998.8 1579.7l-0.3 0.2M1145.2 1579.7l-1.4 2.2M1179.8 1503.4l0.6 1.5M1074.3 1637l-0.5 0.3" fill="none" stroke="#40e0e0" stroke-width="7" stroke-linecap="round"/>
</g>
<rect x="1266.7" y="1455" width="310.1" height="206.3" fill="#000"/>
<clipPath id="mc25"><rect x="1266.7" y="1455" width="310.1" height="206.3"/></clipPath><g clip-path="url(#mc25)">
<path d="M1276.4 1616.1l-0.4 0.1M1497.1 1605.4l1.5 1.1M1421.9 1475.3l1.5 1.4M1481.5 1495.9l0.3 1.2M1350 1565.8l0.2 0.5M1379.9 1623.8l0.9 0.4M1395.2 1542l2.6 0.2M1413.6 1524.6l-0.8 0.9M1430.7 1554.4l-1.7 1.8M1274.4 1577.9l0.9 1.5M1320.6 1600.3l0.3 0.3M1273.8 1636.1l1.2 1.4M1442 1638.4l0.1 1.4M1484.2 1463l0.5 2M1504.6 1638.7l0.7 0.4M1525.8 1525.7l0.5 0.1M1389.4 1536.3l-0.2 1.7M1272.5 1607.7l0 1.6M1424.9 1609.5l-0.4 1.4M1304.4 1652.4l1.1 1.7M1361.1 1651.3l0.5 0.9M1406.3 1519.8l1 1.5M1405.4 1557.6l0.3 0.3M1477.5 1566.7l-0.1 1M1456.5 1508l-2 1.3M1461.9 1479.2l0.6 1.4M1483 1532.5l-0.8 1.4M1352.4 1629.2l-1.1 0.5M1419 1558.9l0.2 2.1M1418.7 1586.1l-1.9 0.4M1368.8 1586.4l-0.2 2" fill="none" stroke="#1422f4" stroke-width="7.2" stroke-linecap="round"/>
<path d="M1306.2 1625.7l-1.4 0.1M1520.3 1460.8l-1.6 1.8M1424.4 1510l-2.1 1.3M1327 1573.2l0.1 0.6M1441.3 1604.1l1.1 0.3M1538.6 1546.9l0.4 0.1M1534.6 1468l2.1 0.1M1437 1466.9l-2.3 1.2M1432.6 1614l-0.3 0.6M1312.1 1602.1l0.3 0.5M1280.1 1460.1l-0.6 1.2M1335.9 1591.3l-0.4 1.9M1410.6 1539.5l-1.9 0.5M1482.8 1473.8l1 0.4M1350.1 1591.6l0.3 1.5M1309.9 1638.9l2.1 1.4M1379.6 1578.8l-0.8 0.7M1342 1648.7l-2.2 1.3M1494.5 1473.1l-0.6 0.8M1343.8 1594.3l-2.1 0.5M1397.6 1550.4l-0.9 2M1331.6 1631.6l2.2 0.6M1305.3 1578.2l-0.4 0.1M1362.2 1612.2l-1.1 0.3M1382.4 1637.4l-2.3 1.1M1493.7 1494.6l-1 2.1M1340.4 1605.4l-1.5 0.6M1374.9 1655.9l0.6 0.1M1508.9 1523.9l0.7 0.3M1379.5 1507.3l0.1 1.1M1532 1530.6l-2.2 1.2M1329.8 1645.4l0 0.5M1476.1 1522.6l0.8 2.5M1359.7 1630.3l-1.3 1.1M1273.7 1651.9l-0.3 0.8M1509.5 1534.3l1 2.1M1397.9 1502l-0.9 1.8M1438.3 1626.7l0.3 0M1387.2 1587l0 2.3M1526.4 1565.6l0.6 0.3" fill="none" stroke="#1a1ae8" stroke-width="7.2" stroke-linecap="round"/>
<path d="M1344.4 1502.4l-0.7 0.5M1378.1 1548.3l2 1M1363.9 1640.6l0.3 1.4M1547.8 1464.1l1.5 0.7M1510 1513.5l1.3 1.5M1344.9 1635.7l1.4 0.9M1500.6 1615.9l2.1 0.4M1413.7 1609.2l2.2 0.7M1543.5 1536.2l0.7 0.6M1375.4 1642.1l-0.3 0.6M1391.2 1635.5l-0.7 1.7M1294.7 1616.9l0.1 1.2M1449 1592.6l-1.7 1.4M1401.6 1648.9l-0.9 0.8M1452 1521l1.2 0.4M1367.4 1598.2l-1.1 1.2M1403.3 1638.6l1.9 1.1M1445 1572.5l1.5 1.5M1428.6 1461.8l2 0.6M1430 1593.3l2.2 0.2M1466.1 1469l0.5 0.3M1316.8 1645.9l0.6 1.7M1362.7 1551.6l-0.7 0.6M1286.4 1612.3l1.9 0M1301 1637.4l-1.3 1.3M1380.5 1525.7l1.1 0.8M1441.3 1495.5l1 1.5M1353.9 1656.3l-2.1 1.2M1342.4 1623.8l-1 2.1M1441.9 1475l1.5 1.8M1308.4 1588.3l-0.3 0.4M1419.7 1495l1 1.2M1393.3 1576l-0.5 1.2M1417 1623.1l0.4 0M1485.7 1525.9l-1.4 0.1M1293.8 1609.2l1.6 1.3M1363 1490.3l0.7 0.8M1395 1655.9l-0.7 1.6M1489 1501.8l0.6 2.2M1326.3 1614.3l0.9 0.4" fill="none" stroke="#0c18ff" stroke-width="7.2" stroke-linecap="round"/>
<path d="M1348 1512.1l0.7 2.5M1374.3 1634.3l-2.1 0M1530.3 1481.6l0.6 0.3M1456.2 1589.6l0.2 0.5M1491.7 1482.3l1.9 0M1331.1 1557.9l-0.3 0.2M1430.5 1479.8l-0.1 0.7M1353 1611.8l-0.9 0.5M1347.5 1520.3l1.9 0.7M1349.6 1537.1l1.4 0.4M1449.6 1657.1l-0.9 1.2M1380.4 1649.5l-0.2 0.7M1283.5 1639.4l-2.6 0.3" fill="none" stroke="#30d4f2" stroke-width="7" stroke-linecap="round"/>
<path d="M1483.3 1488.7l0.7 1.1M1410.7 1493.5l-0.1 1.6M1323.5 1620.3l-0.3 1M1355.2 1496.1l1.1 2.2M1502.6 1511.9l0.5 1.2M1568.5 1473.7l-1.1 0.9M1290 1581.8l-1.4 0.3M1332.1 1607.1l0.3 0.3M1326.1 1565.4l0.6 1.5M1405.6 1617.8l0.4 2.5M1436.5 1535l-2.1 0.3" fill="none" stroke="#40e0e0" stroke-width="7" stroke-linecap="round"/>
</g>
<text x="136.18" y="1444.19" class="Sb" font-size="32" textLength="47.32" lengthAdjust="spacingAndGlyphs">NC</text>
<text x="394.21" y="1444.22" class="Sb" font-size="29.02" textLength="192.97" lengthAdjust="spacingAndGlyphs">Exo-mimics NC</text>
<text x="729.51" y="1442.39" class="Sb" font-size="32.05" textLength="144.08" lengthAdjust="spacingAndGlyphs">Exo-mimics</text>
<text x="1011.52" y="1446.69" class="Sb" font-size="32.12" textLength="211.54" lengthAdjust="spacingAndGlyphs">Exo-inhibitor NC</text>
<text x="1354.72" y="1445.48" class="Sb" font-size="32.4" textLength="163.49" lengthAdjust="spacingAndGlyphs">Exo-inhibitor</text>
<rect x="1703.3" y="1537" width="21" height="101.1" fill="#2878b6" stroke="#000" stroke-width="2.5"/>
<rect x="1739.4" y="1544.7" width="21" height="93.4" fill="#bfbd25" stroke="#000" stroke-width="2.5"/>
<rect x="1776" y="1590.8" width="21" height="47.3" fill="#1dbecf" stroke="#000" stroke-width="2.5"/>
<rect x="1812.7" y="1540.2" width="21" height="97.9" fill="#e079c0" stroke="#000" stroke-width="2.5"/>
<rect x="1849.2" y="1468.2" width="21" height="169.9" fill="#2ca02c" stroke="#000" stroke-width="2.5"/>
<line x1="1713.8" y1="1531.8" x2="1713.8" y2="1542.1" stroke="#000" stroke-width="2.2"/>
<line x1="1709.6" y1="1531.8" x2="1718" y2="1531.8" stroke="#000" stroke-width="2.2"/>
<line x1="1709.6" y1="1542.1" x2="1718" y2="1542.1" stroke="#000" stroke-width="2.2"/>
<circle cx="1706.5" cy="1540.2" r="4.3" fill="none" stroke="#000" stroke-width="2.1"/>
<circle cx="1713.8" cy="1531.1" r="4.3" fill="none" stroke="#000" stroke-width="2.1"/>
<circle cx="1721.1" cy="1535.7" r="4.3" fill="none" stroke="#000" stroke-width="2.1"/>
<line x1="1749.9" y1="1539.6" x2="1749.9" y2="1549.9" stroke="#000" stroke-width="2.2"/>
<line x1="1745.7" y1="1539.6" x2="1754.1" y2="1539.6" stroke="#000" stroke-width="2.2"/>
<line x1="1745.7" y1="1549.9" x2="1754.1" y2="1549.9" stroke="#000" stroke-width="2.2"/>
<circle cx="1742.6" cy="1548" r="4.3" fill="none" stroke="#000" stroke-width="2.1"/>
<circle cx="1749.9" cy="1539.6" r="4.3" fill="none" stroke="#000" stroke-width="2.1"/>
<circle cx="1757.2" cy="1544.1" r="4.3" fill="none" stroke="#000" stroke-width="2.1"/>
<line x1="1786.5" y1="1581.7" x2="1786.5" y2="1599.8" stroke="#000" stroke-width="2.2"/>
<line x1="1782.3" y1="1581.7" x2="1790.7" y2="1581.7" stroke="#000" stroke-width="2.2"/>
<line x1="1782.3" y1="1599.8" x2="1790.7" y2="1599.8" stroke="#000" stroke-width="2.2"/>
<circle cx="1786.5" cy="1597.3" r="4.3" fill="none" stroke="#000" stroke-width="2.1"/>
<circle cx="1786.5" cy="1590.8" r="4.3" fill="none" stroke="#000" stroke-width="2.1"/>
<circle cx="1786.5" cy="1581.7" r="4.3" fill="none" stroke="#000" stroke-width="2.1"/>
<line x1="1823.2" y1="1532.4" x2="1823.2" y2="1548" stroke="#000" stroke-width="2.2"/>
<line x1="1819" y1="1532.4" x2="1827.4" y2="1532.4" stroke="#000" stroke-width="2.2"/>
<line x1="1819" y1="1548" x2="1827.4" y2="1548" stroke="#000" stroke-width="2.2"/>
<circle cx="1816.9" cy="1543.4" r="4.3" fill="none" stroke="#000" stroke-width="2.1"/>
<circle cx="1823.2" cy="1531.1" r="4.3" fill="none" stroke="#000" stroke-width="2.1"/>
<circle cx="1830.5" cy="1538.3" r="4.3" fill="none" stroke="#000" stroke-width="2.1"/>
<line x1="1859.7" y1="1464.3" x2="1859.7" y2="1472.1" stroke="#000" stroke-width="2.2"/>
<line x1="1855.5" y1="1464.3" x2="1863.9" y2="1464.3" stroke="#000" stroke-width="2.2"/>
<line x1="1855.5" y1="1472.1" x2="1863.9" y2="1472.1" stroke="#000" stroke-width="2.2"/>
<circle cx="1853.4" cy="1469.5" r="4.3" fill="none" stroke="#000" stroke-width="2.1"/>
<circle cx="1859.7" cy="1464.3" r="4.3" fill="none" stroke="#000" stroke-width="2.1"/>
<circle cx="1868.1" cy="1466.3" r="4.3" fill="none" stroke="#000" stroke-width="2.1"/>
<line x1="1689.6" y1="1442.2" x2="1689.6" y2="1638.1" stroke="#000" stroke-width="2.7"/>
<line x1="1681.1" y1="1638.1" x2="1884.4" y2="1638.1" stroke="#000" stroke-width="2.7"/>
<text x="1648.74" y="1644.71" class="Sb" font-size="20.32" textLength="29.97" lengthAdjust="spacingAndGlyphs">0.0</text>
<line x1="1681.1" y1="1573.3" x2="1689.6" y2="1573.3" stroke="#000" stroke-width="2.7"/>
<text x="1649.07" y="1579.88" class="Sb" font-size="20.32" textLength="29.97" lengthAdjust="spacingAndGlyphs">0.1</text>
<line x1="1681.1" y1="1508.4" x2="1689.6" y2="1508.4" stroke="#000" stroke-width="2.7"/>
<text x="1648.86" y="1515.05" class="Sb" font-size="20.32" textLength="29.97" lengthAdjust="spacingAndGlyphs">0.2</text>
<line x1="1681.1" y1="1443.6" x2="1689.6" y2="1443.6" stroke="#000" stroke-width="2.7"/>
<text x="1648.65" y="1450.21" class="Sb" font-size="20.32" textLength="29.97" lengthAdjust="spacingAndGlyphs">0.3</text>
<line x1="1713.8" y1="1638.1" x2="1713.8" y2="1645.1" stroke="#000" stroke-width="2.7"/>
<line x1="1749.9" y1="1638.1" x2="1749.9" y2="1645.1" stroke="#000" stroke-width="2.7"/>
<line x1="1786.5" y1="1638.1" x2="1786.5" y2="1645.1" stroke="#000" stroke-width="2.7"/>
<line x1="1823.2" y1="1638.1" x2="1823.2" y2="1645.1" stroke="#000" stroke-width="2.7"/>
<line x1="1859.7" y1="1638.1" x2="1859.7" y2="1645.1" stroke="#000" stroke-width="2.7"/>
<text x="1736.7" y="1529.61" class="Sni" font-size="39.5" textLength="32.4" lengthAdjust="spacingAndGlyphs">ns</text>
<text class="Ast" font-size="28.38" transform="translate(1779.92 1574.9) scale(1 1.06)">*</text>
<text class="Sn" font-size="34.49" transform="translate(1851.38 1452) scale(1 1.06)">#</text>
<text x="1609.95" y="1650.6" class="Sb" font-size="25.72" textLength="228.68" lengthAdjust="spacingAndGlyphs" transform="rotate(-90 1609.95 1650.6)">Postive cells/Totel cells</text>
<text x="1637.01" y="1587.07" class="Sb" font-size="18.75" textLength="102.13" lengthAdjust="spacingAndGlyphs" transform="rotate(-90 1637.01 1587.07)">(%) (n=3)</text>
<text x="1521.39" y="1682.75" class="Sb" font-size="25.3" textLength="160.42" lengthAdjust="spacingAndGlyphs">Exo-mimics NC</text>
<text x="1521.4" y="1710.75" class="Sb" font-size="25.58" textLength="117.16" lengthAdjust="spacingAndGlyphs">Exo-mimics</text>
<text x="1521.4" y="1738.76" class="Sb" font-size="24.16" textLength="175.39" lengthAdjust="spacingAndGlyphs">Exo-inhibitor NC</text>
<text x="1521.4" y="1766.26" class="Sb" font-size="24.16" textLength="135.1" lengthAdjust="spacingAndGlyphs">Exo-inhibitor</text>
<text class="Ab" font-size="31.51" transform="translate(1708.77 1682.23) scale(1 0.96)">-</text>
<text class="Sn" font-size="34.38" transform="translate(1739.29 1682.09) scale(1 0.94)">+</text>
<text class="Ab" font-size="31.51" transform="translate(1780.27 1682.23) scale(1 0.96)">-</text>
<text class="Ab" font-size="31.51" transform="translate(1816.77 1682.23) scale(1 0.96)">-</text>
<text class="Ab" font-size="31.51" transform="translate(1851.27 1682.23) scale(1 0.96)">-</text>
<text class="Ab" font-size="31.51" transform="translate(1708.77 1710.03) scale(1 0.96)">-</text>
<text class="Ab" font-size="31.51" transform="translate(1743.77 1710.03) scale(1 0.96)">-</text>
<text class="Sn" font-size="34.38" transform="translate(1775.79 1709.89) scale(1 0.94)">+</text>
<text class="Ab" font-size="31.51" transform="translate(1816.77 1710.03) scale(1 0.96)">-</text>
<text class="Ab" font-size="31.51" transform="translate(1851.27 1710.03) scale(1 0.96)">-</text>
<text class="Ab" font-size="31.51" transform="translate(1708.77 1737.83) scale(1 0.96)">-</text>
<text class="Ab" font-size="31.51" transform="translate(1743.77 1737.83) scale(1 0.96)">-</text>
<text class="Ab" font-size="31.51" transform="translate(1780.27 1737.83) scale(1 0.96)">-</text>
<text class="Sn" font-size="34.38" transform="translate(1812.29 1737.69) scale(1 0.94)">+</text>
<text class="Ab" font-size="31.51" transform="translate(1851.27 1737.83) scale(1 0.96)">-</text>
<text class="Ab" font-size="31.51" transform="translate(1708.77 1765.63) scale(1 0.96)">-</text>
<text class="Ab" font-size="31.51" transform="translate(1743.77 1765.63) scale(1 0.96)">-</text>
<text class="Ab" font-size="31.51" transform="translate(1780.27 1765.63) scale(1 0.96)">-</text>
<text class="Ab" font-size="31.51" transform="translate(1816.77 1765.63) scale(1 0.96)">-</text>
<text class="Sn" font-size="34.38" transform="translate(1846.79 1765.49) scale(1 0.94)">+</text>
<text x="14.76" y="1823.5" class="Sb" font-size="38.94" textLength="25.07" lengthAdjust="spacingAndGlyphs">E</text>
<rect x="210.7" y="2013.2" width="26.5" height="55.9" fill="#2ca02c" stroke="#000" stroke-width="2.7"/>
<rect x="255.4" y="2018.9" width="26.5" height="50.2" fill="#bfbd25" stroke="#000" stroke-width="2.7"/>
<rect x="300.1" y="1931.5" width="26.5" height="137.6" fill="#1dbecf" stroke="#000" stroke-width="2.7"/>
<rect x="344.4" y="2015.7" width="26.5" height="53.4" fill="#e079c0" stroke="#000" stroke-width="2.7"/>
<rect x="388.6" y="2042.4" width="26.5" height="26.7" fill="#2ca02c" stroke="#000" stroke-width="2.7"/>
<line x1="223.9" y1="2010" x2="223.9" y2="2016.5" stroke="#000" stroke-width="2.4"/>
<line x1="218.6" y1="2010" x2="229.2" y2="2010" stroke="#000" stroke-width="2.4"/>
<line x1="218.6" y1="2016.5" x2="229.2" y2="2016.5" stroke="#000" stroke-width="2.4"/>
<circle cx="213.8" cy="2012.6" r="5.3" fill="none" stroke="#000" stroke-width="2.3"/>
<circle cx="219.9" cy="2013.8" r="5.3" fill="none" stroke="#000" stroke-width="2.3"/>
<circle cx="226.6" cy="2012.6" r="5.3" fill="none" stroke="#000" stroke-width="2.3"/>
<circle cx="234" cy="2015.7" r="5.3" fill="none" stroke="#000" stroke-width="2.3"/>
<circle cx="222.6" cy="2010.6" r="5.3" fill="none" stroke="#000" stroke-width="2.3"/>
<circle cx="230.5" cy="2010.5" r="5.3" fill="none" stroke="#000" stroke-width="2.3"/>
<line x1="268.6" y1="2014" x2="268.6" y2="2023.8" stroke="#000" stroke-width="2.4"/>
<line x1="263.3" y1="2014" x2="273.9" y2="2014" stroke="#000" stroke-width="2.4"/>
<line x1="263.3" y1="2023.8" x2="273.9" y2="2023.8" stroke="#000" stroke-width="2.4"/>
<circle cx="258.5" cy="2019.5" r="5.3" fill="none" stroke="#000" stroke-width="2.3"/>
<circle cx="264.6" cy="2018.1" r="5.3" fill="none" stroke="#000" stroke-width="2.3"/>
<circle cx="271.2" cy="2013.5" r="5.3" fill="none" stroke="#000" stroke-width="2.3"/>
<circle cx="278.7" cy="2019.3" r="5.3" fill="none" stroke="#000" stroke-width="2.3"/>
<circle cx="267.3" cy="2018.8" r="5.3" fill="none" stroke="#000" stroke-width="2.3"/>
<circle cx="275.2" cy="2017.8" r="5.3" fill="none" stroke="#000" stroke-width="2.3"/>
<line x1="313.4" y1="1900.7" x2="313.4" y2="1962.2" stroke="#000" stroke-width="2.4"/>
<line x1="308.1" y1="1900.7" x2="318.7" y2="1900.7" stroke="#000" stroke-width="2.4"/>
<line x1="308.1" y1="1962.2" x2="318.7" y2="1962.2" stroke="#000" stroke-width="2.4"/>
<circle cx="304.7" cy="1960.6" r="5.3" fill="none" stroke="#000" stroke-width="2.3"/>
<circle cx="322.1" cy="1960.6" r="5.3" fill="none" stroke="#000" stroke-width="2.3"/>
<circle cx="313.4" cy="1947.7" r="5.3" fill="none" stroke="#000" stroke-width="2.3"/>
<circle cx="313.4" cy="1914.5" r="5.3" fill="none" stroke="#000" stroke-width="2.3"/>
<circle cx="305.4" cy="1898.3" r="5.3" fill="none" stroke="#000" stroke-width="2.3"/>
<circle cx="322.1" cy="1905.5" r="5.3" fill="none" stroke="#000" stroke-width="2.3"/>
<line x1="357.7" y1="2010.8" x2="357.7" y2="2020.5" stroke="#000" stroke-width="2.4"/>
<line x1="352.4" y1="2010.8" x2="363" y2="2010.8" stroke="#000" stroke-width="2.4"/>
<line x1="352.4" y1="2020.5" x2="363" y2="2020.5" stroke="#000" stroke-width="2.4"/>
<line x1="401.9" y1="2040" x2="401.9" y2="2044.8" stroke="#000" stroke-width="2.4"/>
<line x1="396.6" y1="2040" x2="407.2" y2="2040" stroke="#000" stroke-width="2.4"/>
<line x1="396.6" y1="2044.8" x2="407.2" y2="2044.8" stroke="#000" stroke-width="2.4"/>
<circle cx="391.8" cy="2044.9" r="5.3" fill="none" stroke="#000" stroke-width="2.3"/>
<circle cx="397.9" cy="2041.1" r="5.3" fill="none" stroke="#000" stroke-width="2.3"/>
<circle cx="404.5" cy="2041.4" r="5.3" fill="none" stroke="#000" stroke-width="2.3"/>
<circle cx="412" cy="2039.6" r="5.3" fill="none" stroke="#000" stroke-width="2.3"/>
<circle cx="400.6" cy="2043.8" r="5.3" fill="none" stroke="#000" stroke-width="2.3"/>
<circle cx="408.5" cy="2043.9" r="5.3" fill="none" stroke="#000" stroke-width="2.3"/>
<line x1="194.5" y1="1824.7" x2="194.5" y2="2069.1" stroke="#000" stroke-width="3"/>
<line x1="184.5" y1="2069.1" x2="432.5" y2="2069.1" stroke="#000" stroke-width="3"/>
<text x="142.96" y="2078.78" class="Sb" font-size="29.74" textLength="37.18" lengthAdjust="spacingAndGlyphs">0.0</text>
<line x1="184.5" y1="1988.1" x2="194.5" y2="1988.1" stroke="#000" stroke-width="3"/>
<text x="142.91" y="1997.81" class="Sb" font-size="29.74" textLength="37.18" lengthAdjust="spacingAndGlyphs">0.5</text>
<line x1="184.5" y1="1907.2" x2="194.5" y2="1907.2" stroke="#000" stroke-width="3"/>
<text x="142.96" y="1916.85" class="Sb" font-size="29.74" textLength="37.18" lengthAdjust="spacingAndGlyphs">1.0</text>
<line x1="184.5" y1="1826.2" x2="194.5" y2="1826.2" stroke="#000" stroke-width="3"/>
<text x="142.65" y="1835.88" class="Sb" font-size="29.96" textLength="37.45" lengthAdjust="spacingAndGlyphs">1.5</text>
<line x1="223.9" y1="2069.1" x2="223.9" y2="2078.1" stroke="#000" stroke-width="3"/>
<line x1="268.6" y1="2069.1" x2="268.6" y2="2078.1" stroke="#000" stroke-width="3"/>
<line x1="313.4" y1="2069.1" x2="313.4" y2="2078.1" stroke="#000" stroke-width="3"/>
<line x1="357.7" y1="2069.1" x2="357.7" y2="2078.1" stroke="#000" stroke-width="3"/>
<line x1="401.9" y1="2069.1" x2="401.9" y2="2078.1" stroke="#000" stroke-width="3"/>
<text x="250.92" y="2002.53" class="Sni" font-size="47.82" textLength="39.42" lengthAdjust="spacingAndGlyphs">ns</text>
<text class="Ast" font-size="36.18" transform="translate(305.62 1899.04) scale(1 0.92)">*</text>
<text class="Sn" font-size="42.68" transform="translate(395.53 2031) scale(1 1.07)">#</text>
<text x="94.3" y="2057.9" class="Sb" font-size="30.7" textLength="234.61" lengthAdjust="spacingAndGlyphs" transform="rotate(-90 94.3 2057.9)">E-cadherin mRNA</text>
<text x="128.31" y="2044.81" class="Sb" font-size="30" textLength="207.81" lengthAdjust="spacingAndGlyphs" transform="rotate(-90 128.31 2044.81)">expression (n=6)</text>
<text x="3.21" y="2108.29" class="Sb" font-size="31.26" textLength="193.07" lengthAdjust="spacingAndGlyphs">Exo-mimics NC</text>
<text x="3.23" y="2136.12" class="Sb" font-size="28.59" textLength="138.84" lengthAdjust="spacingAndGlyphs">Exo-mimics</text>
<text x="3.23" y="2163.93" class="Sb" font-size="28" textLength="206.17" lengthAdjust="spacingAndGlyphs">Exo-inhibitor NC</text>
<text x="3.23" y="2191.13" class="Sb" font-size="27.15" textLength="159.26" lengthAdjust="spacingAndGlyphs">Exo-inhibitor</text>
<text class="Ab" font-size="38.6" transform="translate(216.89 2104.94) scale(1 0.91)">-</text>
<text class="Sn" font-size="40.4" transform="translate(256.79 2105.27) scale(1 0.93)">+</text>
<text class="Ab" font-size="38.6" transform="translate(305.89 2104.94) scale(1 0.91)">-</text>
<text class="Ab" font-size="38.6" transform="translate(350.19 2104.94) scale(1 0.91)">-</text>
<text class="Ab" font-size="38.6" transform="translate(395.19 2104.94) scale(1 0.91)">-</text>
<text class="Ab" font-size="38.6" transform="translate(216.89 2136.04) scale(1 0.91)">-</text>
<text class="Ab" font-size="38.6" transform="translate(261.79 2136.04) scale(1 0.91)">-</text>
<text class="Sn" font-size="40.4" transform="translate(300.89 2136.37) scale(1 0.93)">+</text>
<text class="Ab" font-size="38.6" transform="translate(350.19 2136.04) scale(1 0.91)">-</text>
<text class="Ab" font-size="38.6" transform="translate(395.19 2136.04) scale(1 0.91)">-</text>
<text class="Ab" font-size="38.6" transform="translate(216.89 2167.34) scale(1 0.91)">-</text>
<text class="Ab" font-size="38.6" transform="translate(261.79 2167.34) scale(1 0.91)">-</text>
<text class="Ab" font-size="38.6" transform="translate(305.89 2167.34) scale(1 0.91)">-</text>
<text class="Sn" font-size="40.4" transform="translate(345.19 2167.67) scale(1 0.93)">+</text>
<text class="Ab" font-size="38.6" transform="translate(395.19 2167.34) scale(1 0.91)">-</text>
<text class="Ab" font-size="38.6" transform="translate(216.89 2199.04) scale(1 0.91)">-</text>
<text class="Ab" font-size="38.6" transform="translate(261.79 2199.04) scale(1 0.91)">-</text>
<text class="Ab" font-size="38.6" transform="translate(305.89 2199.04) scale(1 0.91)">-</text>
<text class="Ab" font-size="38.6" transform="translate(350.19 2199.04) scale(1 0.91)">-</text>
<text class="Sn" font-size="40.4" transform="translate(390.19 2199.37) scale(1 0.93)">+</text>
<rect x="578.7" y="1986.8" width="26" height="79.9" fill="#2ca02c" stroke="#000" stroke-width="2.7"/>
<rect x="623" y="1993.3" width="26" height="73.4" fill="#bfbd25" stroke="#000" stroke-width="2.7"/>
<rect x="668.2" y="2027.4" width="26" height="39.3" fill="#1dbecf" stroke="#000" stroke-width="2.7"/>
<rect x="712.6" y="1982" width="26" height="84.7" fill="#e079c0" stroke="#000" stroke-width="2.7"/>
<rect x="757.6" y="1873.9" width="26" height="192.8" fill="#2ca02c" stroke="#000" stroke-width="2.7"/>
<line x1="591.7" y1="1977.2" x2="591.7" y2="1996.5" stroke="#000" stroke-width="2.4"/>
<line x1="586.5" y1="1977.2" x2="596.9" y2="1977.2" stroke="#000" stroke-width="2.4"/>
<line x1="586.5" y1="1996.5" x2="596.9" y2="1996.5" stroke="#000" stroke-width="2.4"/>
<circle cx="581.8" cy="1976.6" r="5.3" fill="none" stroke="#000" stroke-width="2.3"/>
<circle cx="587.8" cy="1982.2" r="5.3" fill="none" stroke="#000" stroke-width="2.3"/>
<circle cx="594.3" cy="1980.1" r="5.3" fill="none" stroke="#000" stroke-width="2.3"/>
<circle cx="601.6" cy="1976.7" r="5.3" fill="none" stroke="#000" stroke-width="2.3"/>
<circle cx="590.4" cy="1992.9" r="5.3" fill="none" stroke="#000" stroke-width="2.3"/>
<circle cx="598.2" cy="1983.4" r="5.3" fill="none" stroke="#000" stroke-width="2.3"/>
<line x1="636" y1="1983.6" x2="636" y2="2003" stroke="#000" stroke-width="2.4"/>
<line x1="630.8" y1="1983.6" x2="641.2" y2="1983.6" stroke="#000" stroke-width="2.4"/>
<line x1="630.8" y1="2003" x2="641.2" y2="2003" stroke="#000" stroke-width="2.4"/>
<circle cx="626.1" cy="2001.7" r="5.3" fill="none" stroke="#000" stroke-width="2.3"/>
<circle cx="632.1" cy="1988.5" r="5.3" fill="none" stroke="#000" stroke-width="2.3"/>
<circle cx="638.6" cy="1989.9" r="5.3" fill="none" stroke="#000" stroke-width="2.3"/>
<circle cx="645.9" cy="1993.8" r="5.3" fill="none" stroke="#000" stroke-width="2.3"/>
<circle cx="634.7" cy="2000.4" r="5.3" fill="none" stroke="#000" stroke-width="2.3"/>
<circle cx="642.5" cy="1985.9" r="5.3" fill="none" stroke="#000" stroke-width="2.3"/>
<line x1="681.2" y1="2019.3" x2="681.2" y2="2035.5" stroke="#000" stroke-width="2.4"/>
<line x1="676" y1="2019.3" x2="686.4" y2="2019.3" stroke="#000" stroke-width="2.4"/>
<line x1="676" y1="2035.5" x2="686.4" y2="2035.5" stroke="#000" stroke-width="2.4"/>
<circle cx="671.3" cy="2017.8" r="5.3" fill="none" stroke="#000" stroke-width="2.3"/>
<circle cx="677.3" cy="2035" r="5.3" fill="none" stroke="#000" stroke-width="2.3"/>
<circle cx="683.8" cy="2037.4" r="5.3" fill="none" stroke="#000" stroke-width="2.3"/>
<circle cx="691.1" cy="2017" r="5.3" fill="none" stroke="#000" stroke-width="2.3"/>
<circle cx="679.9" cy="2034" r="5.3" fill="none" stroke="#000" stroke-width="2.3"/>
<circle cx="687.7" cy="2035.4" r="5.3" fill="none" stroke="#000" stroke-width="2.3"/>
<line x1="725.6" y1="1978" x2="725.6" y2="1986" stroke="#000" stroke-width="2.4"/>
<line x1="720.4" y1="1978" x2="730.8" y2="1978" stroke="#000" stroke-width="2.4"/>
<line x1="720.4" y1="1986" x2="730.8" y2="1986" stroke="#000" stroke-width="2.4"/>
<circle cx="715.7" cy="1977.5" r="5.3" fill="none" stroke="#000" stroke-width="2.3"/>
<circle cx="721.7" cy="1977.3" r="5.3" fill="none" stroke="#000" stroke-width="2.3"/>
<circle cx="728.2" cy="1977.9" r="5.3" fill="none" stroke="#000" stroke-width="2.3"/>
<circle cx="735.5" cy="1986.4" r="5.3" fill="none" stroke="#000" stroke-width="2.3"/>
<circle cx="724.3" cy="1981" r="5.3" fill="none" stroke="#000" stroke-width="2.3"/>
<circle cx="732.1" cy="1982.8" r="5.3" fill="none" stroke="#000" stroke-width="2.3"/>
<line x1="770.6" y1="1864.2" x2="770.6" y2="1883.6" stroke="#000" stroke-width="2.4"/>
<line x1="765.4" y1="1864.2" x2="775.8" y2="1864.2" stroke="#000" stroke-width="2.4"/>
<line x1="765.4" y1="1883.6" x2="775.8" y2="1883.6" stroke="#000" stroke-width="2.4"/>
<circle cx="760.7" cy="1868.6" r="5.3" fill="none" stroke="#000" stroke-width="2.3"/>
<circle cx="766.7" cy="1865.4" r="5.3" fill="none" stroke="#000" stroke-width="2.3"/>
<circle cx="773.2" cy="1881.9" r="5.3" fill="none" stroke="#000" stroke-width="2.3"/>
<circle cx="780.5" cy="1861.4" r="5.3" fill="none" stroke="#000" stroke-width="2.3"/>
<circle cx="769.3" cy="1881.6" r="5.3" fill="none" stroke="#000" stroke-width="2.3"/>
<circle cx="777.1" cy="1869.6" r="5.3" fill="none" stroke="#000" stroke-width="2.3"/>
<line x1="562.5" y1="1823.2" x2="562.5" y2="2066.7" stroke="#000" stroke-width="3"/>
<line x1="552.5" y1="2066.7" x2="800.9" y2="2066.7" stroke="#000" stroke-width="3"/>
<text x="510.96" y="2076.38" class="Sb" font-size="29.74" textLength="37.18" lengthAdjust="spacingAndGlyphs">0.0</text>
<line x1="552.5" y1="1986" x2="562.5" y2="1986" stroke="#000" stroke-width="3"/>
<text x="510.96" y="1995.71" class="Sb" font-size="29.74" textLength="37.18" lengthAdjust="spacingAndGlyphs">1.0</text>
<line x1="552.5" y1="1905.4" x2="562.5" y2="1905.4" stroke="#000" stroke-width="3"/>
<text x="510.96" y="1915.05" class="Sb" font-size="29.74" textLength="37.18" lengthAdjust="spacingAndGlyphs">2.0</text>
<line x1="552.5" y1="1824.7" x2="562.5" y2="1824.7" stroke="#000" stroke-width="3"/>
<text x="510.96" y="1834.38" class="Sb" font-size="29.74" textLength="37.18" lengthAdjust="spacingAndGlyphs">3.0</text>
<line x1="591.7" y1="2066.7" x2="591.7" y2="2075.7" stroke="#000" stroke-width="3"/>
<line x1="636" y1="2066.7" x2="636" y2="2075.7" stroke="#000" stroke-width="3"/>
<line x1="681.2" y1="2066.7" x2="681.2" y2="2075.7" stroke="#000" stroke-width="3"/>
<line x1="725.6" y1="2066.7" x2="725.6" y2="2075.7" stroke="#000" stroke-width="3"/>
<line x1="770.6" y1="2066.7" x2="770.6" y2="2075.7" stroke="#000" stroke-width="3"/>
<text x="618.88" y="1963.01" class="Sni" font-size="39.71" textLength="40.39" lengthAdjust="spacingAndGlyphs">ns</text>
<text class="Ast" font-size="36.42" transform="translate(671.91 2009.16) scale(1 0.88)">*</text>
<text class="Sn" font-size="42.47" transform="translate(761.23 1841) scale(1 1.08)">#</text>
<text x="462.42" y="2059.16" class="Sb" font-size="28.99" textLength="238.38" lengthAdjust="spacingAndGlyphs" transform="rotate(-90 462.42 2059.16)">N-cadherin mRNA</text>
<text x="497.5" y="2043.61" class="Sb" font-size="30.55" textLength="208.51" lengthAdjust="spacingAndGlyphs" transform="rotate(-90 497.5 2043.61)">expression (n=6)</text>
<text class="Ab" font-size="38.6" transform="translate(585.19 2106.44) scale(1 0.91)">-</text>
<text class="Sn" font-size="40.4" transform="translate(624.29 2106.77) scale(1 0.93)">+</text>
<text class="Ab" font-size="38.6" transform="translate(673.69 2106.44) scale(1 0.91)">-</text>
<text class="Ab" font-size="38.6" transform="translate(718.59 2106.44) scale(1 0.91)">-</text>
<text class="Ab" font-size="38.6" transform="translate(762.99 2106.44) scale(1 0.91)">-</text>
<text class="Ab" font-size="38.6" transform="translate(585.19 2137.34) scale(1 0.91)">-</text>
<text class="Ab" font-size="38.6" transform="translate(629.29 2137.34) scale(1 0.91)">-</text>
<text class="Sn" font-size="40.4" transform="translate(668.69 2137.67) scale(1 0.93)">+</text>
<text class="Ab" font-size="38.6" transform="translate(718.59 2137.34) scale(1 0.91)">-</text>
<text class="Ab" font-size="38.6" transform="translate(762.99 2137.34) scale(1 0.91)">-</text>
<text class="Ab" font-size="38.6" transform="translate(585.19 2168.24) scale(1 0.91)">-</text>
<text class="Ab" font-size="38.6" transform="translate(629.29 2168.24) scale(1 0.91)">-</text>
<text class="Ab" font-size="38.6" transform="translate(673.69 2168.24) scale(1 0.91)">-</text>
<text class="Sn" font-size="40.4" transform="translate(713.59 2168.57) scale(1 0.93)">+</text>
<text class="Ab" font-size="38.6" transform="translate(762.99 2168.24) scale(1 0.91)">-</text>
<text class="Ab" font-size="38.6" transform="translate(585.19 2200.54) scale(1 0.91)">-</text>
<text class="Ab" font-size="38.6" transform="translate(629.29 2200.54) scale(1 0.91)">-</text>
<text class="Ab" font-size="38.6" transform="translate(673.69 2200.54) scale(1 0.91)">-</text>
<text class="Ab" font-size="38.6" transform="translate(718.59 2200.54) scale(1 0.91)">-</text>
<text class="Sn" font-size="40.4" transform="translate(757.99 2200.87) scale(1 0.93)">+</text>
<rect x="958.4" y="2005.7" width="26" height="60.3" fill="#2ca02c" stroke="#000" stroke-width="2.7"/>
<rect x="1002.9" y="2009.9" width="26" height="56.1" fill="#bfbd25" stroke="#000" stroke-width="2.7"/>
<rect x="1047.5" y="2045.5" width="26" height="20.5" fill="#1dbecf" stroke="#000" stroke-width="2.7"/>
<rect x="1092.4" y="2009.9" width="26" height="56.1" fill="#e079c0" stroke="#000" stroke-width="2.7"/>
<rect x="1137.2" y="1895.9" width="26" height="170.1" fill="#2ca02c" stroke="#000" stroke-width="2.7"/>
<line x1="971.4" y1="2002.7" x2="971.4" y2="2008.7" stroke="#000" stroke-width="2.4"/>
<line x1="966.2" y1="2002.7" x2="976.6" y2="2002.7" stroke="#000" stroke-width="2.4"/>
<line x1="966.2" y1="2008.7" x2="976.6" y2="2008.7" stroke="#000" stroke-width="2.4"/>
<circle cx="961.5" cy="2005.4" r="5.3" fill="none" stroke="#000" stroke-width="2.3"/>
<circle cx="967.5" cy="2007.3" r="5.3" fill="none" stroke="#000" stroke-width="2.3"/>
<circle cx="974" cy="2009.4" r="5.3" fill="none" stroke="#000" stroke-width="2.3"/>
<circle cx="981.3" cy="2004.5" r="5.3" fill="none" stroke="#000" stroke-width="2.3"/>
<circle cx="970.1" cy="2007.9" r="5.3" fill="none" stroke="#000" stroke-width="2.3"/>
<circle cx="977.9" cy="2007.6" r="5.3" fill="none" stroke="#000" stroke-width="2.3"/>
<line x1="1015.9" y1="2006.9" x2="1015.9" y2="2012.9" stroke="#000" stroke-width="2.4"/>
<line x1="1010.7" y1="2006.9" x2="1021.1" y2="2006.9" stroke="#000" stroke-width="2.4"/>
<line x1="1010.7" y1="2012.9" x2="1021.1" y2="2012.9" stroke="#000" stroke-width="2.4"/>
<circle cx="1006" cy="2013.7" r="5.3" fill="none" stroke="#000" stroke-width="2.3"/>
<circle cx="1012" cy="2012.9" r="5.3" fill="none" stroke="#000" stroke-width="2.3"/>
<circle cx="1018.5" cy="2010.7" r="5.3" fill="none" stroke="#000" stroke-width="2.3"/>
<circle cx="1025.8" cy="2008.5" r="5.3" fill="none" stroke="#000" stroke-width="2.3"/>
<circle cx="1014.6" cy="2012.7" r="5.3" fill="none" stroke="#000" stroke-width="2.3"/>
<circle cx="1022.4" cy="2012.9" r="5.3" fill="none" stroke="#000" stroke-width="2.3"/>
<line x1="1060.5" y1="2043.1" x2="1060.5" y2="2047.9" stroke="#000" stroke-width="2.4"/>
<line x1="1055.3" y1="2043.1" x2="1065.7" y2="2043.1" stroke="#000" stroke-width="2.4"/>
<line x1="1055.3" y1="2047.9" x2="1065.7" y2="2047.9" stroke="#000" stroke-width="2.4"/>
<circle cx="1050.6" cy="2048.1" r="5.3" fill="none" stroke="#000" stroke-width="2.3"/>
<circle cx="1056.6" cy="2047.3" r="5.3" fill="none" stroke="#000" stroke-width="2.3"/>
<circle cx="1063.1" cy="2046.7" r="5.3" fill="none" stroke="#000" stroke-width="2.3"/>
<circle cx="1070.4" cy="2043" r="5.3" fill="none" stroke="#000" stroke-width="2.3"/>
<circle cx="1059.2" cy="2045.5" r="5.3" fill="none" stroke="#000" stroke-width="2.3"/>
<circle cx="1067" cy="2044.1" r="5.3" fill="none" stroke="#000" stroke-width="2.3"/>
<line x1="1105.4" y1="2003.9" x2="1105.4" y2="2015.9" stroke="#000" stroke-width="2.4"/>
<line x1="1100.2" y1="2003.9" x2="1110.6" y2="2003.9" stroke="#000" stroke-width="2.4"/>
<line x1="1100.2" y1="2015.9" x2="1110.6" y2="2015.9" stroke="#000" stroke-width="2.4"/>
<circle cx="1095.5" cy="2008.8" r="5.3" fill="none" stroke="#000" stroke-width="2.3"/>
<circle cx="1101.5" cy="2007.8" r="5.3" fill="none" stroke="#000" stroke-width="2.3"/>
<circle cx="1108" cy="2004.9" r="5.3" fill="none" stroke="#000" stroke-width="2.3"/>
<circle cx="1115.3" cy="2013.4" r="5.3" fill="none" stroke="#000" stroke-width="2.3"/>
<circle cx="1104.1" cy="2007.5" r="5.3" fill="none" stroke="#000" stroke-width="2.3"/>
<circle cx="1111.9" cy="2003.8" r="5.3" fill="none" stroke="#000" stroke-width="2.3"/>
<line x1="1150.2" y1="1891.1" x2="1150.2" y2="1900.7" stroke="#000" stroke-width="2.4"/>
<line x1="1145" y1="1891.1" x2="1155.4" y2="1891.1" stroke="#000" stroke-width="2.4"/>
<line x1="1145" y1="1900.7" x2="1155.4" y2="1900.7" stroke="#000" stroke-width="2.4"/>
<circle cx="1140.3" cy="1895.5" r="5.3" fill="none" stroke="#000" stroke-width="2.3"/>
<circle cx="1146.3" cy="1894.8" r="5.3" fill="none" stroke="#000" stroke-width="2.3"/>
<circle cx="1152.8" cy="1891.6" r="5.3" fill="none" stroke="#000" stroke-width="2.3"/>
<circle cx="1160.1" cy="1890.9" r="5.3" fill="none" stroke="#000" stroke-width="2.3"/>
<circle cx="1148.9" cy="1891.1" r="5.3" fill="none" stroke="#000" stroke-width="2.3"/>
<circle cx="1156.7" cy="1897.6" r="5.3" fill="none" stroke="#000" stroke-width="2.3"/>
<line x1="942.3" y1="1823.2" x2="942.3" y2="2066" stroke="#000" stroke-width="3"/>
<line x1="932.3" y1="2066" x2="1181" y2="2066" stroke="#000" stroke-width="3"/>
<text x="890.76" y="2075.68" class="Sb" font-size="29.74" textLength="37.18" lengthAdjust="spacingAndGlyphs">0.0</text>
<line x1="932.3" y1="2005.7" x2="942.3" y2="2005.7" stroke="#000" stroke-width="3"/>
<text x="890.76" y="2015.35" class="Sb" font-size="29.74" textLength="37.18" lengthAdjust="spacingAndGlyphs">1.0</text>
<line x1="932.3" y1="1945.3" x2="942.3" y2="1945.3" stroke="#000" stroke-width="3"/>
<text x="890.76" y="1955.03" class="Sb" font-size="29.74" textLength="37.18" lengthAdjust="spacingAndGlyphs">2.0</text>
<line x1="932.3" y1="1885" x2="942.3" y2="1885" stroke="#000" stroke-width="3"/>
<text x="890.76" y="1894.7" class="Sb" font-size="29.74" textLength="37.18" lengthAdjust="spacingAndGlyphs">3.0</text>
<line x1="932.3" y1="1824.7" x2="942.3" y2="1824.7" stroke="#000" stroke-width="3"/>
<text x="890.76" y="1834.38" class="Sb" font-size="29.74" textLength="37.18" lengthAdjust="spacingAndGlyphs">4.0</text>
<line x1="971.4" y1="2066" x2="971.4" y2="2075" stroke="#000" stroke-width="3"/>
<line x1="1015.9" y1="2066" x2="1015.9" y2="2075" stroke="#000" stroke-width="3"/>
<line x1="1060.5" y1="2066" x2="1060.5" y2="2075" stroke="#000" stroke-width="3"/>
<line x1="1105.4" y1="2066" x2="1105.4" y2="2075" stroke="#000" stroke-width="3"/>
<line x1="1150.2" y1="2066" x2="1150.2" y2="2075" stroke="#000" stroke-width="3"/>
<text x="1000.4" y="1989.57" class="Sni" font-size="43.66" textLength="39.96" lengthAdjust="spacingAndGlyphs">ns</text>
<text class="Ast" font-size="37.84" transform="translate(1050.56 2034.42) scale(1 0.9)">*</text>
<text class="Sn" font-size="43.76" transform="translate(1140.91 1878.3) scale(1 1.03)">#</text>
<text x="841.53" y="2042.92" class="Sb" font-size="31.1" textLength="208.53" lengthAdjust="spacingAndGlyphs" transform="rotate(-90 841.53 2042.92)">Vimentin mRNA</text>
<text x="876.48" y="2043.01" class="Sb" font-size="29.23" textLength="208.51" lengthAdjust="spacingAndGlyphs" transform="rotate(-90 876.48 2043.01)">expression (n=6)</text>
<text class="Ab" font-size="38.6" transform="translate(965.59 2105.04) scale(1 0.91)">-</text>
<text class="Sn" font-size="40.4" transform="translate(1005.09 2105.37) scale(1 0.93)">+</text>
<text class="Ab" font-size="38.6" transform="translate(1054.19 2105.04) scale(1 0.91)">-</text>
<text class="Ab" font-size="38.6" transform="translate(1098.59 2105.04) scale(1 0.91)">-</text>
<text class="Ab" font-size="38.6" transform="translate(1143.09 2105.04) scale(1 0.91)">-</text>
<text class="Ab" font-size="38.6" transform="translate(965.59 2136.74) scale(1 0.91)">-</text>
<text class="Ab" font-size="38.6" transform="translate(1010.09 2136.74) scale(1 0.91)">-</text>
<text class="Sn" font-size="40.4" transform="translate(1049.19 2137.07) scale(1 0.93)">+</text>
<text class="Ab" font-size="38.6" transform="translate(1098.59 2136.74) scale(1 0.91)">-</text>
<text class="Ab" font-size="38.6" transform="translate(1143.09 2136.74) scale(1 0.91)">-</text>
<text class="Ab" font-size="38.6" transform="translate(965.59 2167.54) scale(1 0.91)">-</text>
<text class="Ab" font-size="38.6" transform="translate(1010.09 2167.54) scale(1 0.91)">-</text>
<text class="Ab" font-size="38.6" transform="translate(1054.19 2167.54) scale(1 0.91)">-</text>
<text class="Sn" font-size="40.4" transform="translate(1093.59 2167.87) scale(1 0.93)">+</text>
<text class="Ab" font-size="38.6" transform="translate(1143.09 2167.54) scale(1 0.91)">-</text>
<text class="Ab" font-size="38.6" transform="translate(965.59 2199.34) scale(1 0.91)">-</text>
<text class="Ab" font-size="38.6" transform="translate(1010.09 2199.34) scale(1 0.91)">-</text>
<text class="Ab" font-size="38.6" transform="translate(1054.19 2199.34) scale(1 0.91)">-</text>
<text class="Ab" font-size="38.6" transform="translate(1098.59 2199.34) scale(1 0.91)">-</text>
<text class="Sn" font-size="40.4" transform="translate(1138.09 2199.67) scale(1 0.93)">+</text>
<rect x="1318.3" y="2007" width="26" height="59.7" fill="#2878b6" stroke="#000" stroke-width="2.7"/>
<rect x="1361.8" y="2008.8" width="26" height="57.9" fill="#bfbd25" stroke="#000" stroke-width="2.7"/>
<rect x="1406.4" y="2033.9" width="26" height="32.8" fill="#1dbecf" stroke="#000" stroke-width="2.7"/>
<rect x="1450.5" y="2005.3" width="26" height="61.4" fill="#e079c0" stroke="#000" stroke-width="2.7"/>
<rect x="1494" y="1892.5" width="26" height="174.2" fill="#2ca02c" stroke="#000" stroke-width="2.7"/>
<line x1="1331.3" y1="2005.3" x2="1331.3" y2="2008.8" stroke="#000" stroke-width="2.4"/>
<line x1="1326.1" y1="2005.3" x2="1336.5" y2="2005.3" stroke="#000" stroke-width="2.4"/>
<line x1="1326.1" y1="2008.8" x2="1336.5" y2="2008.8" stroke="#000" stroke-width="2.4"/>
<circle cx="1321.4" cy="2007.2" r="5.3" fill="none" stroke="#000" stroke-width="2.3"/>
<circle cx="1327.4" cy="2005.3" r="5.3" fill="none" stroke="#000" stroke-width="2.3"/>
<circle cx="1333.9" cy="2009.2" r="5.3" fill="none" stroke="#000" stroke-width="2.3"/>
<circle cx="1341.2" cy="2008.1" r="5.3" fill="none" stroke="#000" stroke-width="2.3"/>
<circle cx="1330" cy="2004.9" r="5.3" fill="none" stroke="#000" stroke-width="2.3"/>
<circle cx="1337.8" cy="2006.3" r="5.3" fill="none" stroke="#000" stroke-width="2.3"/>
<line x1="1374.8" y1="2007" x2="1374.8" y2="2010.6" stroke="#000" stroke-width="2.4"/>
<line x1="1369.6" y1="2007" x2="1380" y2="2007" stroke="#000" stroke-width="2.4"/>
<line x1="1369.6" y1="2010.6" x2="1380" y2="2010.6" stroke="#000" stroke-width="2.4"/>
<circle cx="1364.9" cy="2009.4" r="5.3" fill="none" stroke="#000" stroke-width="2.3"/>
<circle cx="1370.9" cy="2010.1" r="5.3" fill="none" stroke="#000" stroke-width="2.3"/>
<circle cx="1377.4" cy="2010.4" r="5.3" fill="none" stroke="#000" stroke-width="2.3"/>
<circle cx="1384.7" cy="2006.9" r="5.3" fill="none" stroke="#000" stroke-width="2.3"/>
<circle cx="1373.5" cy="2008.5" r="5.3" fill="none" stroke="#000" stroke-width="2.3"/>
<circle cx="1381.3" cy="2008" r="5.3" fill="none" stroke="#000" stroke-width="2.3"/>
<line x1="1419.4" y1="2030.3" x2="1419.4" y2="2037.5" stroke="#000" stroke-width="2.4"/>
<line x1="1414.2" y1="2030.3" x2="1424.6" y2="2030.3" stroke="#000" stroke-width="2.4"/>
<line x1="1414.2" y1="2037.5" x2="1424.6" y2="2037.5" stroke="#000" stroke-width="2.4"/>
<circle cx="1409.5" cy="2032.6" r="5.3" fill="none" stroke="#000" stroke-width="2.3"/>
<circle cx="1415.5" cy="2038.3" r="5.3" fill="none" stroke="#000" stroke-width="2.3"/>
<circle cx="1422" cy="2036" r="5.3" fill="none" stroke="#000" stroke-width="2.3"/>
<circle cx="1429.3" cy="2036.5" r="5.3" fill="none" stroke="#000" stroke-width="2.3"/>
<circle cx="1418.1" cy="2031.7" r="5.3" fill="none" stroke="#000" stroke-width="2.3"/>
<circle cx="1425.9" cy="2032.2" r="5.3" fill="none" stroke="#000" stroke-width="2.3"/>
<line x1="1463.5" y1="2003.5" x2="1463.5" y2="2007" stroke="#000" stroke-width="2.4"/>
<line x1="1458.3" y1="2003.5" x2="1468.7" y2="2003.5" stroke="#000" stroke-width="2.4"/>
<line x1="1458.3" y1="2007" x2="1468.7" y2="2007" stroke="#000" stroke-width="2.4"/>
<circle cx="1453.6" cy="2007.4" r="5.3" fill="none" stroke="#000" stroke-width="2.3"/>
<circle cx="1459.6" cy="2004.3" r="5.3" fill="none" stroke="#000" stroke-width="2.3"/>
<circle cx="1466.1" cy="2006.9" r="5.3" fill="none" stroke="#000" stroke-width="2.3"/>
<circle cx="1473.4" cy="2005.4" r="5.3" fill="none" stroke="#000" stroke-width="2.3"/>
<circle cx="1462.2" cy="2004.5" r="5.3" fill="none" stroke="#000" stroke-width="2.3"/>
<circle cx="1470" cy="2003.9" r="5.3" fill="none" stroke="#000" stroke-width="2.3"/>
<line x1="1507" y1="1887.8" x2="1507" y2="1897.3" stroke="#000" stroke-width="2.4"/>
<line x1="1501.8" y1="1887.8" x2="1512.2" y2="1887.8" stroke="#000" stroke-width="2.4"/>
<line x1="1501.8" y1="1897.3" x2="1512.2" y2="1897.3" stroke="#000" stroke-width="2.4"/>
<circle cx="1497.1" cy="1893.7" r="5.3" fill="none" stroke="#000" stroke-width="2.3"/>
<circle cx="1503.1" cy="1892" r="5.3" fill="none" stroke="#000" stroke-width="2.3"/>
<circle cx="1509.6" cy="1888" r="5.3" fill="none" stroke="#000" stroke-width="2.3"/>
<circle cx="1516.9" cy="1896.5" r="5.3" fill="none" stroke="#000" stroke-width="2.3"/>
<circle cx="1505.7" cy="1895.9" r="5.3" fill="none" stroke="#000" stroke-width="2.3"/>
<circle cx="1513.5" cy="1898.4" r="5.3" fill="none" stroke="#000" stroke-width="2.3"/>
<line x1="1302.5" y1="1826.6" x2="1302.5" y2="2066.7" stroke="#000" stroke-width="3"/>
<line x1="1292.5" y1="2066.7" x2="1537.5" y2="2066.7" stroke="#000" stroke-width="3"/>
<text x="1250.96" y="2076.38" class="Sb" font-size="29.74" textLength="37.18" lengthAdjust="spacingAndGlyphs">0.0</text>
<line x1="1292.5" y1="2007" x2="1302.5" y2="2007" stroke="#000" stroke-width="3"/>
<text x="1250.96" y="2016.73" class="Sb" font-size="29.74" textLength="37.18" lengthAdjust="spacingAndGlyphs">1.0</text>
<line x1="1292.5" y1="1947.4" x2="1302.5" y2="1947.4" stroke="#000" stroke-width="3"/>
<text x="1250.96" y="1957.08" class="Sb" font-size="29.74" textLength="37.18" lengthAdjust="spacingAndGlyphs">2.0</text>
<line x1="1292.5" y1="1887.8" x2="1302.5" y2="1887.8" stroke="#000" stroke-width="3"/>
<text x="1250.96" y="1897.43" class="Sb" font-size="29.74" textLength="37.18" lengthAdjust="spacingAndGlyphs">3.0</text>
<line x1="1292.5" y1="1828.1" x2="1302.5" y2="1828.1" stroke="#000" stroke-width="3"/>
<text x="1250.96" y="1837.78" class="Sb" font-size="29.74" textLength="37.18" lengthAdjust="spacingAndGlyphs">4.0</text>
<line x1="1331.3" y1="2066.7" x2="1331.3" y2="2075.7" stroke="#000" stroke-width="3"/>
<line x1="1374.8" y1="2066.7" x2="1374.8" y2="2075.7" stroke="#000" stroke-width="3"/>
<line x1="1419.4" y1="2066.7" x2="1419.4" y2="2075.7" stroke="#000" stroke-width="3"/>
<line x1="1463.5" y1="2066.7" x2="1463.5" y2="2075.7" stroke="#000" stroke-width="3"/>
<line x1="1507" y1="2066.7" x2="1507" y2="2075.7" stroke="#000" stroke-width="3"/>
<text x="1361.15" y="1994.5" class="Sni" font-size="40.96" textLength="38.67" lengthAdjust="spacingAndGlyphs">ns</text>
<text class="Ast" font-size="38.31" transform="translate(1410.34 2024.98) scale(1 0.84)">*</text>
<text class="Sn" font-size="43.98" transform="translate(1499.51 1873.4) scale(1 1.02)">#</text>
<text x="1204.29" y="2035.07" class="Sb" font-size="31.26" textLength="186.49" lengthAdjust="spacingAndGlyphs" transform="rotate(-90 1204.29 2035.07)">α-SMA mRNA</text>
<text x="1238.08" y="2044.8" class="Sb" font-size="27.79" textLength="206.59" lengthAdjust="spacingAndGlyphs" transform="rotate(-90 1238.08 2044.8)">expression (n=6)</text>
<text class="Ab" font-size="38.6" transform="translate(1325.59 2104.64) scale(1 0.91)">-</text>
<text class="Sn" font-size="40.4" transform="translate(1364.59 2104.97) scale(1 0.93)">+</text>
<text class="Ab" font-size="38.6" transform="translate(1413.19 2104.64) scale(1 0.91)">-</text>
<text class="Ab" font-size="38.6" transform="translate(1457.09 2104.64) scale(1 0.91)">-</text>
<text class="Ab" font-size="38.6" transform="translate(1500.09 2104.64) scale(1 0.91)">-</text>
<text class="Ab" font-size="38.6" transform="translate(1325.59 2135.94) scale(1 0.91)">-</text>
<text class="Ab" font-size="38.6" transform="translate(1369.59 2135.94) scale(1 0.91)">-</text>
<text class="Sn" font-size="40.4" transform="translate(1408.19 2136.27) scale(1 0.93)">+</text>
<text class="Ab" font-size="38.6" transform="translate(1457.09 2135.94) scale(1 0.91)">-</text>
<text class="Ab" font-size="38.6" transform="translate(1500.09 2135.94) scale(1 0.91)">-</text>
<text class="Ab" font-size="38.6" transform="translate(1325.59 2166.64) scale(1 0.91)">-</text>
<text class="Ab" font-size="38.6" transform="translate(1369.59 2166.64) scale(1 0.91)">-</text>
<text class="Ab" font-size="38.6" transform="translate(1413.19 2166.64) scale(1 0.91)">-</text>
<text class="Sn" font-size="40.4" transform="translate(1452.09 2166.97) scale(1 0.93)">+</text>
<text class="Ab" font-size="38.6" transform="translate(1500.09 2166.64) scale(1 0.91)">-</text>
<text class="Ab" font-size="38.6" transform="translate(1325.59 2198.64) scale(1 0.91)">-</text>
<text class="Ab" font-size="38.6" transform="translate(1369.59 2198.64) scale(1 0.91)">-</text>
<text class="Ab" font-size="38.6" transform="translate(1413.19 2198.64) scale(1 0.91)">-</text>
<text class="Ab" font-size="38.6" transform="translate(1457.09 2198.64) scale(1 0.91)">-</text>
<text class="Sn" font-size="40.4" transform="translate(1495.09 2198.97) scale(1 0.93)">+</text>
<rect x="1675.5" y="2030.1" width="25.5" height="37.8" fill="#2878b6" stroke="#000" stroke-width="2.7"/>
<rect x="1719.2" y="2028.5" width="25.5" height="39.4" fill="#bfbd25" stroke="#000" stroke-width="2.7"/>
<rect x="1763.8" y="2052" width="25.5" height="15.9" fill="#1dbecf" stroke="#000" stroke-width="2.7"/>
<rect x="1808" y="2031.7" width="25.5" height="36.2" fill="#e079c0" stroke="#000" stroke-width="2.7"/>
<rect x="1852.5" y="1889.8" width="25.5" height="178.1" fill="#2ca02c" stroke="#000" stroke-width="2.7"/>
<line x1="1688.3" y1="2026.2" x2="1688.3" y2="2034.1" stroke="#000" stroke-width="2.4"/>
<line x1="1683.2" y1="2026.2" x2="1693.4" y2="2026.2" stroke="#000" stroke-width="2.4"/>
<line x1="1683.2" y1="2034.1" x2="1693.4" y2="2034.1" stroke="#000" stroke-width="2.4"/>
<circle cx="1678.6" cy="2030.2" r="5.3" fill="none" stroke="#000" stroke-width="2.3"/>
<circle cx="1684.5" cy="2032.6" r="5.3" fill="none" stroke="#000" stroke-width="2.3"/>
<circle cx="1690.8" cy="2028.7" r="5.3" fill="none" stroke="#000" stroke-width="2.3"/>
<circle cx="1698" cy="2032.8" r="5.3" fill="none" stroke="#000" stroke-width="2.3"/>
<circle cx="1687" cy="2030.4" r="5.3" fill="none" stroke="#000" stroke-width="2.3"/>
<circle cx="1694.7" cy="2025.3" r="5.3" fill="none" stroke="#000" stroke-width="2.3"/>
<line x1="1732" y1="2026.6" x2="1732" y2="2030.5" stroke="#000" stroke-width="2.4"/>
<line x1="1726.9" y1="2026.6" x2="1737.1" y2="2026.6" stroke="#000" stroke-width="2.4"/>
<line x1="1726.9" y1="2030.5" x2="1737.1" y2="2030.5" stroke="#000" stroke-width="2.4"/>
<circle cx="1722.3" cy="2029.9" r="5.3" fill="none" stroke="#000" stroke-width="2.3"/>
<circle cx="1728.2" cy="2028.5" r="5.3" fill="none" stroke="#000" stroke-width="2.3"/>
<circle cx="1734.5" cy="2030.3" r="5.3" fill="none" stroke="#000" stroke-width="2.3"/>
<circle cx="1741.7" cy="2026.9" r="5.3" fill="none" stroke="#000" stroke-width="2.3"/>
<circle cx="1730.7" cy="2029.9" r="5.3" fill="none" stroke="#000" stroke-width="2.3"/>
<circle cx="1738.4" cy="2028.3" r="5.3" fill="none" stroke="#000" stroke-width="2.3"/>
<line x1="1776.5" y1="2050.8" x2="1776.5" y2="2053.2" stroke="#000" stroke-width="2.4"/>
<line x1="1771.4" y1="2050.8" x2="1781.6" y2="2050.8" stroke="#000" stroke-width="2.4"/>
<line x1="1771.4" y1="2053.2" x2="1781.6" y2="2053.2" stroke="#000" stroke-width="2.4"/>
<circle cx="1766.8" cy="2050.5" r="5.3" fill="none" stroke="#000" stroke-width="2.3"/>
<circle cx="1772.7" cy="2053.4" r="5.3" fill="none" stroke="#000" stroke-width="2.3"/>
<circle cx="1779" cy="2051.3" r="5.3" fill="none" stroke="#000" stroke-width="2.3"/>
<circle cx="1786.2" cy="2052.1" r="5.3" fill="none" stroke="#000" stroke-width="2.3"/>
<circle cx="1775.2" cy="2050.6" r="5.3" fill="none" stroke="#000" stroke-width="2.3"/>
<circle cx="1782.9" cy="2052.3" r="5.3" fill="none" stroke="#000" stroke-width="2.3"/>
<line x1="1820.8" y1="2028.5" x2="1820.8" y2="2034.9" stroke="#000" stroke-width="2.4"/>
<line x1="1815.7" y1="2028.5" x2="1825.9" y2="2028.5" stroke="#000" stroke-width="2.4"/>
<line x1="1815.7" y1="2034.9" x2="1825.9" y2="2034.9" stroke="#000" stroke-width="2.4"/>
<circle cx="1811.1" cy="2030.8" r="5.3" fill="none" stroke="#000" stroke-width="2.3"/>
<circle cx="1817" cy="2028.5" r="5.3" fill="none" stroke="#000" stroke-width="2.3"/>
<circle cx="1823.3" cy="2032.1" r="5.3" fill="none" stroke="#000" stroke-width="2.3"/>
<circle cx="1830.5" cy="2030" r="5.3" fill="none" stroke="#000" stroke-width="2.3"/>
<circle cx="1819.5" cy="2028.1" r="5.3" fill="none" stroke="#000" stroke-width="2.3"/>
<circle cx="1827.2" cy="2031.6" r="5.3" fill="none" stroke="#000" stroke-width="2.3"/>
<line x1="1865.3" y1="1879.9" x2="1865.3" y2="1899.8" stroke="#000" stroke-width="2.4"/>
<line x1="1860.2" y1="1879.9" x2="1870.4" y2="1879.9" stroke="#000" stroke-width="2.4"/>
<line x1="1860.2" y1="1899.8" x2="1870.4" y2="1899.8" stroke="#000" stroke-width="2.4"/>
<circle cx="1855.6" cy="1879.1" r="5.3" fill="none" stroke="#000" stroke-width="2.3"/>
<circle cx="1861.5" cy="1899.2" r="5.3" fill="none" stroke="#000" stroke-width="2.3"/>
<circle cx="1867.8" cy="1888.4" r="5.3" fill="none" stroke="#000" stroke-width="2.3"/>
<circle cx="1875" cy="1890.3" r="5.3" fill="none" stroke="#000" stroke-width="2.3"/>
<circle cx="1864" cy="1878" r="5.3" fill="none" stroke="#000" stroke-width="2.3"/>
<circle cx="1871.7" cy="1892.9" r="5.3" fill="none" stroke="#000" stroke-width="2.3"/>
<line x1="1659.2" y1="1827.9" x2="1659.2" y2="2067.9" stroke="#000" stroke-width="3"/>
<line x1="1649.2" y1="2067.9" x2="1893.5" y2="2067.9" stroke="#000" stroke-width="3"/>
<text x="1607.66" y="2077.58" class="Sb" font-size="29.74" textLength="37.18" lengthAdjust="spacingAndGlyphs">0.0</text>
<line x1="1649.2" y1="1988.4" x2="1659.2" y2="1988.4" stroke="#000" stroke-width="3"/>
<text x="1607.66" y="1998.08" class="Sb" font-size="29.74" textLength="37.18" lengthAdjust="spacingAndGlyphs">2.0</text>
<line x1="1649.2" y1="1908.9" x2="1659.2" y2="1908.9" stroke="#000" stroke-width="3"/>
<text x="1607.66" y="1918.58" class="Sb" font-size="29.74" textLength="37.18" lengthAdjust="spacingAndGlyphs">4.0</text>
<line x1="1649.2" y1="1829.4" x2="1659.2" y2="1829.4" stroke="#000" stroke-width="3"/>
<text x="1607.66" y="1839.08" class="Sb" font-size="29.74" textLength="37.18" lengthAdjust="spacingAndGlyphs">6.0</text>
<line x1="1688.3" y1="2067.9" x2="1688.3" y2="2076.9" stroke="#000" stroke-width="3"/>
<line x1="1732" y1="2067.9" x2="1732" y2="2076.9" stroke="#000" stroke-width="3"/>
<line x1="1776.5" y1="2067.9" x2="1776.5" y2="2076.9" stroke="#000" stroke-width="3"/>
<line x1="1820.8" y1="2067.9" x2="1820.8" y2="2076.9" stroke="#000" stroke-width="3"/>
<line x1="1865.3" y1="2067.9" x2="1865.3" y2="2076.9" stroke="#000" stroke-width="3"/>
<text x="1719.01" y="2014.12" class="Sni" font-size="39.3" textLength="37.15" lengthAdjust="spacingAndGlyphs">ns</text>
<text class="Ast" font-size="36.66" transform="translate(1768.2 2045.56) scale(1 0.92)">*</text>
<text class="Sn" font-size="39.45" transform="translate(1857.39 1857.2) scale(1 1.14)">#</text>
<text x="1559.98" y="2060.05" class="Sb" font-size="29.09" textLength="228.17" lengthAdjust="spacingAndGlyphs" transform="rotate(-90 1559.98 2060.05)">Collagen I mRNA</text>
<text x="1593.22" y="2046.7" class="Sb" font-size="27.13" textLength="206.59" lengthAdjust="spacingAndGlyphs" transform="rotate(-90 1593.22 2046.7)">expression (n=6)</text>
<text class="Ab" font-size="38.6" transform="translate(1681.59 2099.44) scale(1 0.91)">-</text>
<text class="Sn" font-size="40.4" transform="translate(1720.79 2099.77) scale(1 0.93)">+</text>
<text class="Ab" font-size="38.6" transform="translate(1769.79 2099.44) scale(1 0.91)">-</text>
<text class="Ab" font-size="38.6" transform="translate(1814.19 2099.44) scale(1 0.91)">-</text>
<text class="Ab" font-size="38.6" transform="translate(1858.59 2099.44) scale(1 0.91)">-</text>
<text class="Ab" font-size="38.6" transform="translate(1681.59 2130.04) scale(1 0.91)">-</text>
<text class="Ab" font-size="38.6" transform="translate(1725.79 2130.04) scale(1 0.91)">-</text>
<text class="Sn" font-size="40.4" transform="translate(1764.79 2130.37) scale(1 0.93)">+</text>
<text class="Ab" font-size="38.6" transform="translate(1814.19 2130.04) scale(1 0.91)">-</text>
<text class="Ab" font-size="38.6" transform="translate(1858.59 2130.04) scale(1 0.91)">-</text>
<text class="Ab" font-size="38.6" transform="translate(1681.59 2162.44) scale(1 0.91)">-</text>
<text class="Ab" font-size="38.6" transform="translate(1725.79 2162.44) scale(1 0.91)">-</text>
<text class="Ab" font-size="38.6" transform="translate(1769.79 2162.44) scale(1 0.91)">-</text>
<text class="Sn" font-size="40.4" transform="translate(1809.19 2162.77) scale(1 0.93)">+</text>
<text class="Ab" font-size="38.6" transform="translate(1858.59 2162.44) scale(1 0.91)">-</text>
<text class="Ab" font-size="38.6" transform="translate(1681.59 2190.84) scale(1 0.91)">-</text>
<text class="Ab" font-size="38.6" transform="translate(1725.79 2190.84) scale(1 0.91)">-</text>
<text class="Ab" font-size="38.6" transform="translate(1769.79 2190.84) scale(1 0.91)">-</text>
<text class="Ab" font-size="38.6" transform="translate(1814.19 2190.84) scale(1 0.91)">-</text>
<text class="Sn" font-size="40.4" transform="translate(1853.59 2191.17) scale(1 0.93)">+</text>
<text x="13.83" y="2242.6" class="Sb" font-size="40.62" textLength="24.06" lengthAdjust="spacingAndGlyphs">F</text>
<defs><filter id="bl" x="-20%" y="-100%" width="140%" height="300%"><feGaussianBlur stdDeviation="1.1 1.3"/></filter></defs>
<rect x="201.1" y="2216.7" width="230.5" height="40.8" fill="#dcdcdc"/>
<rect x="210.6" y="2235.6" width="34.4" height="5.1" fill="#101010" rx="2.5" filter="url(#bl)" opacity="0.78"/>
<rect x="253.5" y="2235.6" width="35" height="4.9" fill="#101010" rx="2.5" filter="url(#bl)" opacity="0.68"/>
<rect x="297.5" y="2235.4" width="36.5" height="5.4" fill="#101010" rx="2.5" filter="url(#bl)" opacity="0.97"/>
<rect x="342" y="2235.6" width="36.5" height="5" fill="#101010" rx="2.5" filter="url(#bl)" opacity="0.72"/>
<rect x="386" y="2236" width="36.5" height="4.2" fill="#101010" rx="2.5" filter="url(#bl)" opacity="0.22"/>
<rect x="201.1" y="2264.3" width="230.5" height="40.5" fill="#b9b9b9"/>
<rect x="210.6" y="2282.6" width="34.4" height="5.2" fill="#101010" rx="2.5" filter="url(#bl)" opacity="0.88"/>
<rect x="253.5" y="2282.6" width="35" height="5.2" fill="#101010" rx="2.5" filter="url(#bl)" opacity="0.85"/>
<rect x="297.5" y="2283" width="36.5" height="4.3" fill="#101010" rx="2.5" filter="url(#bl)" opacity="0.30"/>
<rect x="342" y="2282.6" width="36.5" height="5.2" fill="#101010" rx="2.5" filter="url(#bl)" opacity="0.88"/>
<rect x="386" y="2282.5" width="36.5" height="5.4" fill="#101010" rx="2.5" filter="url(#bl)" opacity="0.97"/>
<rect x="201.1" y="2312.2" width="230.5" height="40.5" fill="#cdcdcd"/>
<rect x="210.6" y="2330.5" width="34.4" height="5" fill="#101010" rx="2.5" filter="url(#bl)" opacity="0.75"/>
<rect x="253.5" y="2329.9" width="35" height="5.1" fill="#101010" rx="2.5" filter="url(#bl)" opacity="0.78"/>
<rect x="297.5" y="2329.5" width="36.5" height="4.7" fill="#101010" rx="2.5" filter="url(#bl)" opacity="0.50"/>
<rect x="342" y="2328.7" width="36.5" height="5" fill="#101010" rx="2.5" filter="url(#bl)" opacity="0.74"/>
<rect x="386" y="2328" width="36.5" height="5.2" fill="#101010" rx="2.5" filter="url(#bl)" opacity="0.90"/>
<rect x="201.1" y="2360.6" width="230.5" height="40.6" fill="#d2d2d2"/>
<rect x="210.6" y="2377.9" width="34.4" height="5.3" fill="#101010" rx="2.5" filter="url(#bl)" opacity="0.92"/>
<rect x="253.5" y="2377.9" width="35" height="5.2" fill="#101010" rx="2.5" filter="url(#bl)" opacity="0.85"/>
<rect x="297.5" y="2378.3" width="36.5" height="4.4" fill="#101010" rx="2.5" filter="url(#bl)" opacity="0.32"/>
<rect x="342" y="2377.9" width="36.5" height="5.2" fill="#101010" rx="2.5" filter="url(#bl)" opacity="0.90"/>
<rect x="386" y="2377.8" width="36.5" height="5.4" fill="#101010" rx="2.5" filter="url(#bl)" opacity="0.97"/>
<rect x="201.1" y="2412.1" width="230.5" height="40.4" fill="#e2e2e2"/>
<rect x="210.6" y="2426.8" width="34.4" height="4.8" fill="#101010" rx="2.5" filter="url(#bl)" opacity="0.62"/>
<rect x="253.5" y="2426.2" width="35" height="4.9" fill="#101010" rx="2.5" filter="url(#bl)" opacity="0.66"/>
<rect x="297.5" y="2425.8" width="36.5" height="4.3" fill="#101010" rx="2.5" filter="url(#bl)" opacity="0.30"/>
<rect x="342" y="2425" width="36.5" height="4.9" fill="#101010" rx="2.5" filter="url(#bl)" opacity="0.66"/>
<rect x="386" y="2424.2" width="36.5" height="5.2" fill="#101010" rx="2.5" filter="url(#bl)" opacity="0.85"/>
<rect x="201.1" y="2460" width="230.5" height="40.3" fill="#cecece"/>
<rect x="210.6" y="2478.8" width="34.4" height="5.4" fill="#101010" rx="2.5" filter="url(#bl)" opacity="0.97"/>
<rect x="253.5" y="2478.8" width="35" height="5.4" fill="#101010" rx="2.5" filter="url(#bl)" opacity="0.97"/>
<rect x="297.5" y="2478.9" width="36.5" height="5.3" fill="#101010" rx="2.5" filter="url(#bl)" opacity="0.93"/>
<rect x="342" y="2478.8" width="36.5" height="5.4" fill="#101010" rx="2.5" filter="url(#bl)" opacity="0.97"/>
<rect x="386" y="2478.8" width="36.5" height="5.3" fill="#101010" rx="2.5" filter="url(#bl)" opacity="0.95"/>
<text x="117.44" y="2238.63" class="Sb" font-size="17.05" textLength="64.06" lengthAdjust="spacingAndGlyphs">135kDa</text>
<text x="117.44" y="2289.23" class="Sb" font-size="17.05" textLength="64.06" lengthAdjust="spacingAndGlyphs">140kDa</text>
<text x="118.23" y="2339.54" class="Sb" font-size="16.63" textLength="53.56" lengthAdjust="spacingAndGlyphs">55kDa</text>
<text x="118.74" y="2390.83" class="Sb" font-size="17.05" textLength="53.05" lengthAdjust="spacingAndGlyphs">45kDa</text>
<text x="117.44" y="2441.33" class="Sb" font-size="17.48" textLength="64.06" lengthAdjust="spacingAndGlyphs">130kDa</text>
<text x="118.74" y="2492.63" class="Sb" font-size="17.48" textLength="53.05" lengthAdjust="spacingAndGlyphs">42kDa</text>
<text x="446.87" y="2238.63" class="Sb" font-size="17.91" textLength="91.92" lengthAdjust="spacingAndGlyphs">E-cadherin</text>
<text x="446.83" y="2289.22" class="Sb" font-size="18.48" textLength="93.66" lengthAdjust="spacingAndGlyphs">N-cadherin</text>
<text x="446.99" y="2339.41" class="Sb" font-size="18.96" textLength="76.4" lengthAdjust="spacingAndGlyphs">Vimentin</text>
<text x="446.5" y="2390.82" class="Sb" font-size="18.9" textLength="59.64" lengthAdjust="spacingAndGlyphs">α-SMA</text>
<text x="446.24" y="2440.26" class="Sb" font-size="16.95" textLength="86.72" lengthAdjust="spacingAndGlyphs">Collagen I</text>
<text x="446.12" y="2491.62" class="Sb" font-size="16.79" textLength="56.77" lengthAdjust="spacingAndGlyphs">β-actin</text>
<text x="5.71" y="2532.53" class="Sb" font-size="27.98" textLength="193.07" lengthAdjust="spacingAndGlyphs">Exo-mimics NC</text>
<text x="5.73" y="2561.62" class="Sb" font-size="28.44" textLength="138.54" lengthAdjust="spacingAndGlyphs">Exo-mimics</text>
<text x="5.73" y="2588.94" class="Sb" font-size="26.72" textLength="204.86" lengthAdjust="spacingAndGlyphs">Exo-inhibitor NC</text>
<text x="5.73" y="2616.36" class="Sb" font-size="24.3" textLength="158.96" lengthAdjust="spacingAndGlyphs">Exo-inhibitor</text>
<text class="Ab" font-size="39.38" transform="translate(216.36 2530.26) scale(1 0.92)">-</text>
<text class="Sn" font-size="38.25" transform="translate(257.59 2531.3) scale(1 1.06)">+</text>
<text class="Ab" font-size="39.38" transform="translate(306.26 2530.26) scale(1 0.92)">-</text>
<text class="Ab" font-size="39.38" transform="translate(351.76 2530.26) scale(1 0.92)">-</text>
<text class="Ab" font-size="39.38" transform="translate(396.86 2530.26) scale(1 0.92)">-</text>
<text class="Ab" font-size="39.38" transform="translate(216.36 2560.96) scale(1 0.92)">-</text>
<text class="Ab" font-size="39.38" transform="translate(261.86 2560.96) scale(1 0.92)">-</text>
<text class="Sn" font-size="38.25" transform="translate(301.99 2562) scale(1 1.06)">+</text>
<text class="Ab" font-size="39.38" transform="translate(351.76 2560.96) scale(1 0.92)">-</text>
<text class="Ab" font-size="39.38" transform="translate(396.86 2560.96) scale(1 0.92)">-</text>
<text class="Ab" font-size="39.38" transform="translate(216.36 2591.76) scale(1 0.92)">-</text>
<text class="Ab" font-size="39.38" transform="translate(261.86 2591.76) scale(1 0.92)">-</text>
<text class="Ab" font-size="39.38" transform="translate(306.26 2591.76) scale(1 0.92)">-</text>
<text class="Sn" font-size="38.25" transform="translate(347.49 2592.8) scale(1 1.06)">+</text>
<text class="Ab" font-size="39.38" transform="translate(396.86 2591.76) scale(1 0.92)">-</text>
<text class="Ab" font-size="39.38" transform="translate(216.36 2622.56) scale(1 0.92)">-</text>
<text class="Ab" font-size="39.38" transform="translate(261.86 2622.56) scale(1 0.92)">-</text>
<text class="Ab" font-size="39.38" transform="translate(306.26 2622.56) scale(1 0.92)">-</text>
<text class="Ab" font-size="39.38" transform="translate(351.76 2622.56) scale(1 0.92)">-</text>
<text class="Sn" font-size="38.25" transform="translate(392.59 2623.6) scale(1 1.06)">+</text>
<rect x="654.7" y="2338.8" width="18" height="84.1" fill="#2878b6" stroke="#000" stroke-width="2.1"/>
<rect x="686.9" y="2339.1" width="18" height="83.8" fill="#bfbd25" stroke="#000" stroke-width="2.1"/>
<rect x="718.7" y="2275.2" width="18" height="147.7" fill="#1dbecf" stroke="#000" stroke-width="2.1"/>
<rect x="750.3" y="2333" width="18" height="89.9" fill="#e079c0" stroke="#000" stroke-width="2.1"/>
<rect x="782.6" y="2379" width="18" height="43.9" fill="#2ca02c" stroke="#000" stroke-width="2.1"/>
<line x1="663.7" y1="2330.1" x2="663.7" y2="2347.5" stroke="#000" stroke-width="2"/>
<line x1="660.1" y1="2330.1" x2="667.3" y2="2330.1" stroke="#000" stroke-width="2"/>
<line x1="660.1" y1="2347.5" x2="667.3" y2="2347.5" stroke="#000" stroke-width="2"/>
<circle cx="663.7" cy="2347.8" r="3.9" fill="none" stroke="#000" stroke-width="2"/>
<circle cx="663.7" cy="2336.2" r="3.9" fill="none" stroke="#000" stroke-width="2"/>
<circle cx="672.7" cy="2331.9" r="3.9" fill="none" stroke="#000" stroke-width="2"/>
<line x1="695.9" y1="2330.4" x2="695.9" y2="2347.8" stroke="#000" stroke-width="2"/>
<line x1="692.3" y1="2330.4" x2="699.5" y2="2330.4" stroke="#000" stroke-width="2"/>
<line x1="692.3" y1="2347.8" x2="699.5" y2="2347.8" stroke="#000" stroke-width="2"/>
<circle cx="695.9" cy="2347.8" r="3.9" fill="none" stroke="#000" stroke-width="2"/>
<circle cx="695.9" cy="2342" r="3.9" fill="none" stroke="#000" stroke-width="2"/>
<circle cx="695.9" cy="2331.9" r="3.9" fill="none" stroke="#000" stroke-width="2"/>
<line x1="727.7" y1="2263.7" x2="727.7" y2="2286.8" stroke="#000" stroke-width="2"/>
<line x1="724.1" y1="2263.7" x2="731.3" y2="2263.7" stroke="#000" stroke-width="2"/>
<line x1="724.1" y1="2286.8" x2="731.3" y2="2286.8" stroke="#000" stroke-width="2"/>
<circle cx="727.7" cy="2284.2" r="3.9" fill="none" stroke="#000" stroke-width="2"/>
<circle cx="727.7" cy="2278.4" r="3.9" fill="none" stroke="#000" stroke-width="2"/>
<circle cx="727.7" cy="2263.9" r="3.9" fill="none" stroke="#000" stroke-width="2"/>
<line x1="759.3" y1="2330.1" x2="759.3" y2="2335.9" stroke="#000" stroke-width="2"/>
<line x1="755.7" y1="2330.1" x2="762.9" y2="2330.1" stroke="#000" stroke-width="2"/>
<line x1="755.7" y1="2335.9" x2="762.9" y2="2335.9" stroke="#000" stroke-width="2"/>
<circle cx="753" cy="2333.3" r="3.9" fill="none" stroke="#000" stroke-width="2"/>
<circle cx="759.3" cy="2330.4" r="3.9" fill="none" stroke="#000" stroke-width="2"/>
<circle cx="765.6" cy="2333.3" r="3.9" fill="none" stroke="#000" stroke-width="2"/>
<line x1="791.6" y1="2373.2" x2="791.6" y2="2384.8" stroke="#000" stroke-width="2"/>
<line x1="788" y1="2373.2" x2="795.2" y2="2373.2" stroke="#000" stroke-width="2"/>
<line x1="788" y1="2384.8" x2="795.2" y2="2384.8" stroke="#000" stroke-width="2"/>
<circle cx="785.3" cy="2379.6" r="3.9" fill="none" stroke="#000" stroke-width="2"/>
<circle cx="791.6" cy="2370.9" r="3.9" fill="none" stroke="#000" stroke-width="2"/>
<circle cx="797.9" cy="2379.6" r="3.9" fill="none" stroke="#000" stroke-width="2"/>
<line x1="642.7" y1="2248.3" x2="642.7" y2="2422.9" stroke="#000" stroke-width="2.4"/>
<line x1="635.2" y1="2422.9" x2="813.5" y2="2422.9" stroke="#000" stroke-width="2.4"/>
<text x="607.45" y="2429.46" class="Sb" font-size="20.17" textLength="25.21" lengthAdjust="spacingAndGlyphs">0.0</text>
<line x1="635.2" y1="2365.1" x2="642.7" y2="2365.1" stroke="#000" stroke-width="2.4"/>
<text x="607.55" y="2371.66" class="Sb" font-size="20.17" textLength="25.21" lengthAdjust="spacingAndGlyphs">0.2</text>
<line x1="635.2" y1="2307.3" x2="642.7" y2="2307.3" stroke="#000" stroke-width="2.4"/>
<text x="607.06" y="2313.86" class="Sb" font-size="20.17" textLength="25.21" lengthAdjust="spacingAndGlyphs">0.4</text>
<line x1="635.2" y1="2249.5" x2="642.7" y2="2249.5" stroke="#000" stroke-width="2.4"/>
<text x="607.28" y="2256.06" class="Sb" font-size="20.17" textLength="25.21" lengthAdjust="spacingAndGlyphs">0.6</text>
<line x1="663.7" y1="2422.9" x2="663.7" y2="2429.4" stroke="#000" stroke-width="2.4"/>
<line x1="695.9" y1="2422.9" x2="695.9" y2="2429.4" stroke="#000" stroke-width="2.4"/>
<line x1="727.7" y1="2422.9" x2="727.7" y2="2429.4" stroke="#000" stroke-width="2.4"/>
<line x1="759.3" y1="2422.9" x2="759.3" y2="2429.4" stroke="#000" stroke-width="2.4"/>
<line x1="791.6" y1="2422.9" x2="791.6" y2="2429.4" stroke="#000" stroke-width="2.4"/>
<text x="684.92" y="2321.61" class="Sni" font-size="39.5" textLength="27" lengthAdjust="spacingAndGlyphs">ns</text>
<text class="Ast" font-size="28.38" transform="translate(719.92 2263.16) scale(1 1.13)">*</text>
<text class="Sn" font-size="30.18" transform="translate(784.45 2363) scale(1 1.06)">#</text>
<text x="567.83" y="2415.86" class="Sb" font-size="16.76" textLength="169.57" lengthAdjust="spacingAndGlyphs" transform="rotate(-90 567.83 2415.86)">E-cadherin protein</text>
<text x="596.45" y="2405.52" class="Sb" font-size="19.96" textLength="148.65" lengthAdjust="spacingAndGlyphs" transform="rotate(-90 596.45 2405.52)">expression (n=3)</text>
<text class="Ab" font-size="37.42" transform="translate(654.09 2450.4) scale(1 0.9)">-</text>
<text class="Sn" font-size="36.53" transform="translate(682.48 2451.32) scale(1 1)">+</text>
<text class="Ab" font-size="37.42" transform="translate(718.39 2450.4) scale(1 0.9)">-</text>
<text class="Ab" font-size="37.42" transform="translate(750.19 2450.4) scale(1 0.9)">-</text>
<text class="Ab" font-size="37.42" transform="translate(783.39 2450.4) scale(1 0.9)">-</text>
<text class="Ab" font-size="37.42" transform="translate(654.09 2481.2) scale(1 0.9)">-</text>
<text class="Ab" font-size="37.42" transform="translate(686.59 2481.2) scale(1 0.9)">-</text>
<text class="Sn" font-size="36.53" transform="translate(714.28 2482.12) scale(1 1)">+</text>
<text class="Ab" font-size="37.42" transform="translate(750.19 2481.2) scale(1 0.9)">-</text>
<text class="Ab" font-size="37.42" transform="translate(783.39 2481.2) scale(1 0.9)">-</text>
<text class="Ab" font-size="37.42" transform="translate(654.09 2512.7) scale(1 0.9)">-</text>
<text class="Ab" font-size="37.42" transform="translate(686.59 2512.7) scale(1 0.9)">-</text>
<text class="Ab" font-size="37.42" transform="translate(718.39 2512.7) scale(1 0.9)">-</text>
<text class="Sn" font-size="36.53" transform="translate(746.08 2513.62) scale(1 1)">+</text>
<text class="Ab" font-size="37.42" transform="translate(783.39 2512.7) scale(1 0.9)">-</text>
<text class="Ab" font-size="37.42" transform="translate(654.09 2543.4) scale(1 0.9)">-</text>
<text class="Ab" font-size="37.42" transform="translate(686.59 2543.4) scale(1 0.9)">-</text>
<text class="Ab" font-size="37.42" transform="translate(718.39 2543.4) scale(1 0.9)">-</text>
<text class="Ab" font-size="37.42" transform="translate(750.19 2543.4) scale(1 0.9)">-</text>
<text class="Sn" font-size="36.53" transform="translate(779.28 2544.32) scale(1 1)">+</text>
<rect x="932.1" y="2331.2" width="18.5" height="92.2" fill="#2878b6" stroke="#000" stroke-width="2.1"/>
<rect x="964.9" y="2332.1" width="18.5" height="91.3" fill="#bfbd25" stroke="#000" stroke-width="2.1"/>
<rect x="997.8" y="2376.3" width="18.5" height="47.1" fill="#1dbecf" stroke="#000" stroke-width="2.1"/>
<rect x="1030.5" y="2332.1" width="18.5" height="91.3" fill="#e079c0" stroke="#000" stroke-width="2.1"/>
<rect x="1063.8" y="2289.3" width="18.5" height="134.1" fill="#2ca02c" stroke="#000" stroke-width="2.1"/>
<line x1="941.4" y1="2322.3" x2="941.4" y2="2340" stroke="#000" stroke-width="2"/>
<line x1="937.7" y1="2322.3" x2="945.1" y2="2322.3" stroke="#000" stroke-width="2"/>
<line x1="937.7" y1="2340" x2="945.1" y2="2340" stroke="#000" stroke-width="2"/>
<circle cx="941.4" cy="2340.9" r="3.9" fill="none" stroke="#000" stroke-width="2"/>
<circle cx="941.4" cy="2329.1" r="3.9" fill="none" stroke="#000" stroke-width="2"/>
<circle cx="941.4" cy="2326.2" r="3.9" fill="none" stroke="#000" stroke-width="2"/>
<line x1="974.1" y1="2326.2" x2="974.1" y2="2337.9" stroke="#000" stroke-width="2"/>
<line x1="970.4" y1="2326.2" x2="977.8" y2="2326.2" stroke="#000" stroke-width="2"/>
<line x1="970.4" y1="2337.9" x2="977.8" y2="2337.9" stroke="#000" stroke-width="2"/>
<circle cx="968.6" cy="2337.9" r="3.9" fill="none" stroke="#000" stroke-width="2"/>
<circle cx="974.1" cy="2329.1" r="3.9" fill="none" stroke="#000" stroke-width="2"/>
<circle cx="981.5" cy="2332.1" r="3.9" fill="none" stroke="#000" stroke-width="2"/>
<line x1="1007" y1="2370.4" x2="1007" y2="2382.1" stroke="#000" stroke-width="2"/>
<line x1="1003.3" y1="2370.4" x2="1010.7" y2="2370.4" stroke="#000" stroke-width="2"/>
<line x1="1003.3" y1="2382.1" x2="1010.7" y2="2382.1" stroke="#000" stroke-width="2"/>
<circle cx="1007" cy="2382.1" r="3.9" fill="none" stroke="#000" stroke-width="2"/>
<circle cx="1007" cy="2376.3" r="3.9" fill="none" stroke="#000" stroke-width="2"/>
<circle cx="1014.4" cy="2370.4" r="3.9" fill="none" stroke="#000" stroke-width="2"/>
<line x1="1039.8" y1="2329.1" x2="1039.8" y2="2335" stroke="#000" stroke-width="2"/>
<line x1="1036.1" y1="2329.1" x2="1043.5" y2="2329.1" stroke="#000" stroke-width="2"/>
<line x1="1036.1" y1="2335" x2="1043.5" y2="2335" stroke="#000" stroke-width="2"/>
<circle cx="1033.3" cy="2332.1" r="3.9" fill="none" stroke="#000" stroke-width="2"/>
<circle cx="1039.8" cy="2329.1" r="3.9" fill="none" stroke="#000" stroke-width="2"/>
<circle cx="1046.3" cy="2330.6" r="3.9" fill="none" stroke="#000" stroke-width="2"/>
<line x1="1073" y1="2280.5" x2="1073" y2="2298.2" stroke="#000" stroke-width="2"/>
<line x1="1069.3" y1="2280.5" x2="1076.7" y2="2280.5" stroke="#000" stroke-width="2"/>
<line x1="1069.3" y1="2298.2" x2="1076.7" y2="2298.2" stroke="#000" stroke-width="2"/>
<circle cx="1073" cy="2299.6" r="3.9" fill="none" stroke="#000" stroke-width="2"/>
<circle cx="1073" cy="2287.9" r="3.9" fill="none" stroke="#000" stroke-width="2"/>
<circle cx="1073" cy="2279" r="3.9" fill="none" stroke="#000" stroke-width="2"/>
<line x1="919.6" y1="2245.4" x2="919.6" y2="2423.4" stroke="#000" stroke-width="2.4"/>
<line x1="912.1" y1="2423.4" x2="1095.6" y2="2423.4" stroke="#000" stroke-width="2.4"/>
<text x="884.35" y="2429.96" class="Sb" font-size="20.17" textLength="25.21" lengthAdjust="spacingAndGlyphs">0.0</text>
<line x1="912.1" y1="2364.5" x2="919.6" y2="2364.5" stroke="#000" stroke-width="2.4"/>
<text x="884.45" y="2371.03" class="Sb" font-size="20.17" textLength="25.21" lengthAdjust="spacingAndGlyphs">0.2</text>
<line x1="912.1" y1="2305.5" x2="919.6" y2="2305.5" stroke="#000" stroke-width="2.4"/>
<text x="883.96" y="2312.1" class="Sb" font-size="20.17" textLength="25.21" lengthAdjust="spacingAndGlyphs">0.4</text>
<line x1="912.1" y1="2246.6" x2="919.6" y2="2246.6" stroke="#000" stroke-width="2.4"/>
<text x="884.18" y="2253.16" class="Sb" font-size="20.17" textLength="25.21" lengthAdjust="spacingAndGlyphs">0.6</text>
<line x1="941.4" y1="2423.4" x2="941.4" y2="2429.9" stroke="#000" stroke-width="2.4"/>
<line x1="974.1" y1="2423.4" x2="974.1" y2="2429.9" stroke="#000" stroke-width="2.4"/>
<line x1="1007" y1="2423.4" x2="1007" y2="2429.9" stroke="#000" stroke-width="2.4"/>
<line x1="1039.8" y1="2423.4" x2="1039.8" y2="2429.9" stroke="#000" stroke-width="2.4"/>
<line x1="1073" y1="2423.4" x2="1073" y2="2429.9" stroke="#000" stroke-width="2.4"/>
<text x="962.32" y="2318.91" class="Sni" font-size="29.94" textLength="29.38" lengthAdjust="spacingAndGlyphs">ns</text>
<text class="Ast" font-size="27.67" transform="translate(1000.35 2367.42) scale(1 0.93)">*</text>
<text class="Sn" font-size="28.67" transform="translate(1066.08 2268.5) scale(1 1.2)">#</text>
<text x="842.24" y="2417.41" class="Sb" font-size="17.2" textLength="175.03" lengthAdjust="spacingAndGlyphs" transform="rotate(-90 842.24 2417.41)">N-cadherin protein</text>
<text x="870.98" y="2405.54" class="Sb" font-size="22.17" textLength="153.1" lengthAdjust="spacingAndGlyphs" transform="rotate(-90 870.98 2405.54)">expression (n=3)</text>
<text class="Ab" font-size="37.42" transform="translate(933.79 2451.1) scale(1 0.9)">-</text>
<text class="Sn" font-size="36.53" transform="translate(962.18 2452.02) scale(1 1)">+</text>
<text class="Ab" font-size="37.42" transform="translate(998.29 2451.1) scale(1 0.9)">-</text>
<text class="Ab" font-size="37.42" transform="translate(1030.39 2451.1) scale(1 0.9)">-</text>
<text class="Ab" font-size="37.42" transform="translate(1062.79 2451.1) scale(1 0.9)">-</text>
<text class="Ab" font-size="37.42" transform="translate(933.79 2482.7) scale(1 0.9)">-</text>
<text class="Ab" font-size="37.42" transform="translate(966.29 2482.7) scale(1 0.9)">-</text>
<text class="Sn" font-size="36.53" transform="translate(994.18 2483.62) scale(1 1)">+</text>
<text class="Ab" font-size="37.42" transform="translate(1030.39 2482.7) scale(1 0.9)">-</text>
<text class="Ab" font-size="37.42" transform="translate(1062.79 2482.7) scale(1 0.9)">-</text>
<text class="Ab" font-size="37.42" transform="translate(933.79 2514.5) scale(1 0.9)">-</text>
<text class="Ab" font-size="37.42" transform="translate(966.29 2514.5) scale(1 0.9)">-</text>
<text class="Ab" font-size="37.42" transform="translate(998.29 2514.5) scale(1 0.9)">-</text>
<text class="Sn" font-size="36.53" transform="translate(1026.28 2515.42) scale(1 1)">+</text>
<text class="Ab" font-size="37.42" transform="translate(1062.79 2514.5) scale(1 0.9)">-</text>
<text class="Ab" font-size="37.42" transform="translate(933.79 2545.7) scale(1 0.9)">-</text>
<text class="Ab" font-size="37.42" transform="translate(966.29 2545.7) scale(1 0.9)">-</text>
<text class="Ab" font-size="37.42" transform="translate(998.29 2545.7) scale(1 0.9)">-</text>
<text class="Ab" font-size="37.42" transform="translate(1030.39 2545.7) scale(1 0.9)">-</text>
<text class="Sn" font-size="36.53" transform="translate(1058.68 2546.62) scale(1 1)">+</text>
<rect x="1203.2" y="2326.8" width="18.5" height="92.4" fill="#2878b6" stroke="#000" stroke-width="2.1"/>
<rect x="1233.8" y="2328.9" width="18.5" height="90.3" fill="#bfbd25" stroke="#000" stroke-width="2.1"/>
<rect x="1264.2" y="2364.5" width="18.5" height="54.7" fill="#1dbecf" stroke="#000" stroke-width="2.1"/>
<rect x="1295.2" y="2322.7" width="18.5" height="96.5" fill="#e079c0" stroke="#000" stroke-width="2.1"/>
<rect x="1325.5" y="2282.4" width="18.5" height="136.8" fill="#2ca02c" stroke="#000" stroke-width="2.1"/>
<line x1="1212.5" y1="2315.8" x2="1212.5" y2="2337.7" stroke="#000" stroke-width="2"/>
<line x1="1208.8" y1="2315.8" x2="1216.2" y2="2315.8" stroke="#000" stroke-width="2"/>
<line x1="1208.8" y1="2337.7" x2="1216.2" y2="2337.7" stroke="#000" stroke-width="2"/>
<circle cx="1207" cy="2328.9" r="3.9" fill="none" stroke="#000" stroke-width="2"/>
<circle cx="1212.5" cy="2315.3" r="3.9" fill="none" stroke="#000" stroke-width="2"/>
<circle cx="1218" cy="2328.9" r="3.9" fill="none" stroke="#000" stroke-width="2"/>
<line x1="1243" y1="2320.7" x2="1243" y2="2337.1" stroke="#000" stroke-width="2"/>
<line x1="1239.3" y1="2320.7" x2="1246.7" y2="2320.7" stroke="#000" stroke-width="2"/>
<line x1="1239.3" y1="2337.1" x2="1246.7" y2="2337.1" stroke="#000" stroke-width="2"/>
<circle cx="1237.5" cy="2331.7" r="3.9" fill="none" stroke="#000" stroke-width="2"/>
<circle cx="1243" cy="2320.7" r="3.9" fill="none" stroke="#000" stroke-width="2"/>
<circle cx="1248.5" cy="2331.7" r="3.9" fill="none" stroke="#000" stroke-width="2"/>
<line x1="1273.5" y1="2363.1" x2="1273.5" y2="2365.9" stroke="#000" stroke-width="2"/>
<line x1="1269.8" y1="2363.1" x2="1277.2" y2="2363.1" stroke="#000" stroke-width="2"/>
<line x1="1269.8" y1="2365.9" x2="1277.2" y2="2365.9" stroke="#000" stroke-width="2"/>
<circle cx="1268" cy="2364.5" r="3.9" fill="none" stroke="#000" stroke-width="2"/>
<circle cx="1273.5" cy="2364.5" r="3.9" fill="none" stroke="#000" stroke-width="2"/>
<circle cx="1279" cy="2364.5" r="3.9" fill="none" stroke="#000" stroke-width="2"/>
<line x1="1304.5" y1="2317.2" x2="1304.5" y2="2328.1" stroke="#000" stroke-width="2"/>
<line x1="1300.8" y1="2317.2" x2="1308.2" y2="2317.2" stroke="#000" stroke-width="2"/>
<line x1="1300.8" y1="2328.1" x2="1308.2" y2="2328.1" stroke="#000" stroke-width="2"/>
<circle cx="1299" cy="2323.5" r="3.9" fill="none" stroke="#000" stroke-width="2"/>
<circle cx="1304.5" cy="2316.6" r="3.9" fill="none" stroke="#000" stroke-width="2"/>
<circle cx="1310" cy="2322.1" r="3.9" fill="none" stroke="#000" stroke-width="2"/>
<line x1="1334.8" y1="2277" x2="1334.8" y2="2287.9" stroke="#000" stroke-width="2"/>
<line x1="1331.1" y1="2277" x2="1338.5" y2="2277" stroke="#000" stroke-width="2"/>
<line x1="1331.1" y1="2287.9" x2="1338.5" y2="2287.9" stroke="#000" stroke-width="2"/>
<circle cx="1329.2" cy="2282.4" r="3.9" fill="none" stroke="#000" stroke-width="2"/>
<circle cx="1334.8" cy="2274.2" r="3.9" fill="none" stroke="#000" stroke-width="2"/>
<circle cx="1340.3" cy="2282.4" r="3.9" fill="none" stroke="#000" stroke-width="2"/>
<line x1="1191.8" y1="2253.9" x2="1191.8" y2="2419.2" stroke="#000" stroke-width="2.4"/>
<line x1="1184.3" y1="2419.2" x2="1355.7" y2="2419.2" stroke="#000" stroke-width="2.4"/>
<text x="1156.55" y="2425.76" class="Sb" font-size="20.17" textLength="25.21" lengthAdjust="spacingAndGlyphs">0.0</text>
<line x1="1184.3" y1="2364.5" x2="1191.8" y2="2364.5" stroke="#000" stroke-width="2.4"/>
<text x="1156.65" y="2371.06" class="Sb" font-size="20.17" textLength="25.21" lengthAdjust="spacingAndGlyphs">0.2</text>
<line x1="1184.3" y1="2309.8" x2="1191.8" y2="2309.8" stroke="#000" stroke-width="2.4"/>
<text x="1156.16" y="2316.36" class="Sb" font-size="20.17" textLength="25.21" lengthAdjust="spacingAndGlyphs">0.4</text>
<line x1="1184.3" y1="2255.1" x2="1191.8" y2="2255.1" stroke="#000" stroke-width="2.4"/>
<text x="1156.38" y="2261.66" class="Sb" font-size="20.17" textLength="25.21" lengthAdjust="spacingAndGlyphs">0.6</text>
<line x1="1212.5" y1="2419.2" x2="1212.5" y2="2425.7" stroke="#000" stroke-width="2.4"/>
<line x1="1243" y1="2419.2" x2="1243" y2="2425.7" stroke="#000" stroke-width="2.4"/>
<line x1="1273.5" y1="2419.2" x2="1273.5" y2="2425.7" stroke="#000" stroke-width="2.4"/>
<line x1="1304.5" y1="2419.2" x2="1304.5" y2="2425.7" stroke="#000" stroke-width="2.4"/>
<line x1="1334.8" y1="2419.2" x2="1334.8" y2="2425.7" stroke="#000" stroke-width="2.4"/>
<text x="1230.87" y="2314.63" class="Sni" font-size="37.43" textLength="28.08" lengthAdjust="spacingAndGlyphs">ns</text>
<text class="Ast" font-size="26.01" transform="translate(1267.01 2360.64) scale(1 1.08)">*</text>
<text class="Sn" font-size="28.03" transform="translate(1327.49 2268) scale(1 1.09)">#</text>
<text x="1122.45" y="2405.22" class="Sb" font-size="18.56" textLength="144.52" lengthAdjust="spacingAndGlyphs" transform="rotate(-90 1122.45 2405.22)">Vimentin protein</text>
<text x="1146.9" y="2405.29" class="Sb" font-size="18.31" textLength="143.19" lengthAdjust="spacingAndGlyphs" transform="rotate(-90 1146.9 2405.29)">expression (n=3)</text>
<text class="Ab" font-size="37.42" transform="translate(1203.39 2450.4) scale(1 0.9)">-</text>
<text class="Sn" font-size="36.53" transform="translate(1231.28 2451.32) scale(1 1)">+</text>
<text class="Ab" font-size="37.42" transform="translate(1267.39 2450.4) scale(1 0.9)">-</text>
<text class="Ab" font-size="37.42" transform="translate(1298.79 2450.4) scale(1 0.9)">-</text>
<text class="Ab" font-size="37.42" transform="translate(1330.79 2450.4) scale(1 0.9)">-</text>
<text class="Ab" font-size="37.42" transform="translate(1203.39 2481.4) scale(1 0.9)">-</text>
<text class="Ab" font-size="37.42" transform="translate(1235.39 2481.4) scale(1 0.9)">-</text>
<text class="Sn" font-size="36.53" transform="translate(1263.28 2482.32) scale(1 1)">+</text>
<text class="Ab" font-size="37.42" transform="translate(1298.79 2481.4) scale(1 0.9)">-</text>
<text class="Ab" font-size="37.42" transform="translate(1330.79 2481.4) scale(1 0.9)">-</text>
<text class="Ab" font-size="37.42" transform="translate(1203.39 2513.4) scale(1 0.9)">-</text>
<text class="Ab" font-size="37.42" transform="translate(1235.39 2513.4) scale(1 0.9)">-</text>
<text class="Ab" font-size="37.42" transform="translate(1267.39 2513.4) scale(1 0.9)">-</text>
<text class="Sn" font-size="36.53" transform="translate(1294.68 2514.32) scale(1 1)">+</text>
<text class="Ab" font-size="37.42" transform="translate(1330.79 2513.4) scale(1 0.9)">-</text>
<text class="Ab" font-size="37.42" transform="translate(1203.39 2543.9) scale(1 0.9)">-</text>
<text class="Ab" font-size="37.42" transform="translate(1235.39 2543.9) scale(1 0.9)">-</text>
<text class="Ab" font-size="37.42" transform="translate(1267.39 2543.9) scale(1 0.9)">-</text>
<text class="Ab" font-size="37.42" transform="translate(1298.79 2543.9) scale(1 0.9)">-</text>
<text class="Sn" font-size="36.53" transform="translate(1326.68 2544.82) scale(1 1)">+</text>
<rect x="1471.5" y="2330.8" width="18.5" height="85" fill="#2878b6" stroke="#000" stroke-width="2.1"/>
<rect x="1502" y="2331.4" width="18.5" height="84.4" fill="#bfbd25" stroke="#000" stroke-width="2.1"/>
<rect x="1533" y="2370.1" width="18.5" height="45.7" fill="#1dbecf" stroke="#000" stroke-width="2.1"/>
<rect x="1563.5" y="2325.9" width="18.5" height="89.9" fill="#e079c0" stroke="#000" stroke-width="2.1"/>
<rect x="1593.5" y="2306.1" width="18.5" height="109.7" fill="#2ca02c" stroke="#000" stroke-width="2.1"/>
<line x1="1480.7" y1="2322.6" x2="1480.7" y2="2339.1" stroke="#000" stroke-width="2"/>
<line x1="1477" y1="2322.6" x2="1484.4" y2="2322.6" stroke="#000" stroke-width="2"/>
<line x1="1477" y1="2339.1" x2="1484.4" y2="2339.1" stroke="#000" stroke-width="2"/>
<circle cx="1475.2" cy="2333.5" r="3.9" fill="none" stroke="#000" stroke-width="2"/>
<circle cx="1480.7" cy="2323.2" r="3.9" fill="none" stroke="#000" stroke-width="2"/>
<circle cx="1486.2" cy="2333.5" r="3.9" fill="none" stroke="#000" stroke-width="2"/>
<line x1="1511.2" y1="2327.3" x2="1511.2" y2="2335.6" stroke="#000" stroke-width="2"/>
<line x1="1507.5" y1="2327.3" x2="1514.9" y2="2327.3" stroke="#000" stroke-width="2"/>
<line x1="1507.5" y1="2335.6" x2="1514.9" y2="2335.6" stroke="#000" stroke-width="2"/>
<circle cx="1505.7" cy="2331.4" r="3.9" fill="none" stroke="#000" stroke-width="2"/>
<circle cx="1511.2" cy="2327.3" r="3.9" fill="none" stroke="#000" stroke-width="2"/>
<circle cx="1516.8" cy="2331.4" r="3.9" fill="none" stroke="#000" stroke-width="2"/>
<line x1="1542.2" y1="2366" x2="1542.2" y2="2374.2" stroke="#000" stroke-width="2"/>
<line x1="1538.5" y1="2366" x2="1545.9" y2="2366" stroke="#000" stroke-width="2"/>
<line x1="1538.5" y1="2374.2" x2="1545.9" y2="2374.2" stroke="#000" stroke-width="2"/>
<circle cx="1536.7" cy="2370.5" r="3.9" fill="none" stroke="#000" stroke-width="2"/>
<circle cx="1542.2" cy="2366.4" r="3.9" fill="none" stroke="#000" stroke-width="2"/>
<circle cx="1547.8" cy="2370.5" r="3.9" fill="none" stroke="#000" stroke-width="2"/>
<line x1="1572.7" y1="2323.8" x2="1572.7" y2="2327.9" stroke="#000" stroke-width="2"/>
<line x1="1569" y1="2323.8" x2="1576.4" y2="2323.8" stroke="#000" stroke-width="2"/>
<line x1="1569" y1="2327.9" x2="1576.4" y2="2327.9" stroke="#000" stroke-width="2"/>
<circle cx="1567.2" cy="2326.3" r="3.9" fill="none" stroke="#000" stroke-width="2"/>
<circle cx="1572.7" cy="2324.2" r="3.9" fill="none" stroke="#000" stroke-width="2"/>
<circle cx="1578.2" cy="2326.3" r="3.9" fill="none" stroke="#000" stroke-width="2"/>
<line x1="1602.7" y1="2300" x2="1602.7" y2="2312.3" stroke="#000" stroke-width="2"/>
<line x1="1599" y1="2300" x2="1606.4" y2="2300" stroke="#000" stroke-width="2"/>
<line x1="1599" y1="2312.3" x2="1606.4" y2="2312.3" stroke="#000" stroke-width="2"/>
<circle cx="1600.9" cy="2310.9" r="3.9" fill="none" stroke="#000" stroke-width="2"/>
<circle cx="1602.7" cy="2306.8" r="3.9" fill="none" stroke="#000" stroke-width="2"/>
<circle cx="1609.2" cy="2300.6" r="3.9" fill="none" stroke="#000" stroke-width="2"/>
<line x1="1461.3" y1="2250" x2="1461.3" y2="2415.8" stroke="#000" stroke-width="2.4"/>
<line x1="1453.8" y1="2415.8" x2="1623.9" y2="2415.8" stroke="#000" stroke-width="2.4"/>
<text x="1426.05" y="2422.36" class="Sb" font-size="20.17" textLength="25.21" lengthAdjust="spacingAndGlyphs">0.0</text>
<line x1="1453.8" y1="2374.7" x2="1461.3" y2="2374.7" stroke="#000" stroke-width="2.4"/>
<text x="1426.15" y="2381.21" class="Sb" font-size="20.17" textLength="25.21" lengthAdjust="spacingAndGlyphs">0.2</text>
<line x1="1453.8" y1="2333.5" x2="1461.3" y2="2333.5" stroke="#000" stroke-width="2.4"/>
<text x="1425.66" y="2340.06" class="Sb" font-size="20.17" textLength="25.21" lengthAdjust="spacingAndGlyphs">0.4</text>
<line x1="1453.8" y1="2292.3" x2="1461.3" y2="2292.3" stroke="#000" stroke-width="2.4"/>
<text x="1425.88" y="2298.91" class="Sb" font-size="20.17" textLength="25.21" lengthAdjust="spacingAndGlyphs">0.6</text>
<line x1="1453.8" y1="2251.2" x2="1461.3" y2="2251.2" stroke="#000" stroke-width="2.4"/>
<text x="1425.96" y="2257.76" class="Sb" font-size="20.17" textLength="25.21" lengthAdjust="spacingAndGlyphs">0.8</text>
<line x1="1480.7" y1="2415.8" x2="1480.7" y2="2422.3" stroke="#000" stroke-width="2.4"/>
<line x1="1511.2" y1="2415.8" x2="1511.2" y2="2422.3" stroke="#000" stroke-width="2.4"/>
<line x1="1542.2" y1="2415.8" x2="1542.2" y2="2422.3" stroke="#000" stroke-width="2.4"/>
<line x1="1572.7" y1="2415.8" x2="1572.7" y2="2422.3" stroke="#000" stroke-width="2.4"/>
<line x1="1602.7" y1="2415.8" x2="1602.7" y2="2422.3" stroke="#000" stroke-width="2.4"/>
<text x="1500.87" y="2316.65" class="Sni" font-size="35.35" textLength="28.08" lengthAdjust="spacingAndGlyphs">ns</text>
<text class="Ast" font-size="23.65" transform="translate(1536.1 2361.38) scale(1 1.1)">*</text>
<text class="Sn" font-size="28.03" transform="translate(1596.49 2296) scale(1 1.04)">#</text>
<text x="1389.73" y="2396.05" class="Sb" font-size="17.26" textLength="131.95" lengthAdjust="spacingAndGlyphs" transform="rotate(-90 1389.73 2396.05)">α-SMA protein</text>
<text x="1416.17" y="2398.88" class="Sb" font-size="19.41" textLength="140.76" lengthAdjust="spacingAndGlyphs" transform="rotate(-90 1416.17 2398.88)">expression (n=3)</text>
<text class="Ab" font-size="37.42" transform="translate(1470.99 2447) scale(1 0.9)">-</text>
<text class="Sn" font-size="36.53" transform="translate(1498.88 2447.92) scale(1 1)">+</text>
<text class="Ab" font-size="37.42" transform="translate(1534.79 2447) scale(1 0.9)">-</text>
<text class="Ab" font-size="37.42" transform="translate(1567.49 2447) scale(1 0.9)">-</text>
<text class="Ab" font-size="37.42" transform="translate(1599.79 2447) scale(1 0.9)">-</text>
<text class="Ab" font-size="37.42" transform="translate(1470.99 2477.5) scale(1 0.9)">-</text>
<text class="Ab" font-size="37.42" transform="translate(1502.99 2477.5) scale(1 0.9)">-</text>
<text class="Sn" font-size="36.53" transform="translate(1530.68 2478.42) scale(1 1)">+</text>
<text class="Ab" font-size="37.42" transform="translate(1567.49 2477.5) scale(1 0.9)">-</text>
<text class="Ab" font-size="37.42" transform="translate(1599.79 2477.5) scale(1 0.9)">-</text>
<text class="Ab" font-size="37.42" transform="translate(1470.99 2508) scale(1 0.9)">-</text>
<text class="Ab" font-size="37.42" transform="translate(1502.99 2508) scale(1 0.9)">-</text>
<text class="Ab" font-size="37.42" transform="translate(1534.79 2508) scale(1 0.9)">-</text>
<text class="Sn" font-size="36.53" transform="translate(1563.38 2508.92) scale(1 1)">+</text>
<text class="Ab" font-size="37.42" transform="translate(1599.79 2508) scale(1 0.9)">-</text>
<text class="Ab" font-size="37.42" transform="translate(1470.99 2539) scale(1 0.9)">-</text>
<text class="Ab" font-size="37.42" transform="translate(1502.99 2539) scale(1 0.9)">-</text>
<text class="Ab" font-size="37.42" transform="translate(1534.79 2539) scale(1 0.9)">-</text>
<text class="Ab" font-size="37.42" transform="translate(1567.49 2539) scale(1 0.9)">-</text>
<text class="Sn" font-size="36.53" transform="translate(1595.68 2539.92) scale(1 1)">+</text>
<rect x="1729.8" y="2323.2" width="18.5" height="92.6" fill="#2878b6" stroke="#000" stroke-width="2.1"/>
<rect x="1760.2" y="2321.9" width="18.5" height="93.9" fill="#bfbd25" stroke="#000" stroke-width="2.1"/>
<rect x="1790.2" y="2363.4" width="18.5" height="52.4" fill="#1dbecf" stroke="#000" stroke-width="2.1"/>
<rect x="1820.8" y="2318.3" width="18.5" height="97.5" fill="#e079c0" stroke="#000" stroke-width="2.1"/>
<rect x="1850.8" y="2282.3" width="18.5" height="133.5" fill="#2ca02c" stroke="#000" stroke-width="2.1"/>
<line x1="1739" y1="2322.2" x2="1739" y2="2324.2" stroke="#000" stroke-width="2"/>
<line x1="1735.3" y1="2322.2" x2="1742.7" y2="2322.2" stroke="#000" stroke-width="2"/>
<line x1="1735.3" y1="2324.2" x2="1742.7" y2="2324.2" stroke="#000" stroke-width="2"/>
<circle cx="1733.5" cy="2322.9" r="3.9" fill="none" stroke="#000" stroke-width="2"/>
<circle cx="1739" cy="2322.9" r="3.9" fill="none" stroke="#000" stroke-width="2"/>
<circle cx="1744.5" cy="2322.9" r="3.9" fill="none" stroke="#000" stroke-width="2"/>
<line x1="1769.5" y1="2320.3" x2="1769.5" y2="2323.5" stroke="#000" stroke-width="2"/>
<line x1="1765.8" y1="2320.3" x2="1773.2" y2="2320.3" stroke="#000" stroke-width="2"/>
<line x1="1765.8" y1="2323.5" x2="1773.2" y2="2323.5" stroke="#000" stroke-width="2"/>
<circle cx="1764" cy="2321.9" r="3.9" fill="none" stroke="#000" stroke-width="2"/>
<circle cx="1769.5" cy="2320.3" r="3.9" fill="none" stroke="#000" stroke-width="2"/>
<circle cx="1775" cy="2321.9" r="3.9" fill="none" stroke="#000" stroke-width="2"/>
<line x1="1799.5" y1="2361.8" x2="1799.5" y2="2365.1" stroke="#000" stroke-width="2"/>
<line x1="1795.8" y1="2361.8" x2="1803.2" y2="2361.8" stroke="#000" stroke-width="2"/>
<line x1="1795.8" y1="2365.1" x2="1803.2" y2="2365.1" stroke="#000" stroke-width="2"/>
<circle cx="1794" cy="2363.4" r="3.9" fill="none" stroke="#000" stroke-width="2"/>
<circle cx="1799.5" cy="2362.8" r="3.9" fill="none" stroke="#000" stroke-width="2"/>
<circle cx="1805" cy="2363.4" r="3.9" fill="none" stroke="#000" stroke-width="2"/>
<line x1="1830" y1="2311.8" x2="1830" y2="2324.8" stroke="#000" stroke-width="2"/>
<line x1="1826.3" y1="2311.8" x2="1833.7" y2="2311.8" stroke="#000" stroke-width="2"/>
<line x1="1826.3" y1="2324.8" x2="1833.7" y2="2324.8" stroke="#000" stroke-width="2"/>
<circle cx="1824.5" cy="2320.9" r="3.9" fill="none" stroke="#000" stroke-width="2"/>
<circle cx="1830" cy="2311.1" r="3.9" fill="none" stroke="#000" stroke-width="2"/>
<circle cx="1835.5" cy="2319.3" r="3.9" fill="none" stroke="#000" stroke-width="2"/>
<line x1="1860" y1="2279.7" x2="1860" y2="2284.9" stroke="#000" stroke-width="2"/>
<line x1="1856.3" y1="2279.7" x2="1863.7" y2="2279.7" stroke="#000" stroke-width="2"/>
<line x1="1856.3" y1="2284.9" x2="1863.7" y2="2284.9" stroke="#000" stroke-width="2"/>
<circle cx="1854.5" cy="2283.3" r="3.9" fill="none" stroke="#000" stroke-width="2"/>
<circle cx="1860" cy="2281" r="3.9" fill="none" stroke="#000" stroke-width="2"/>
<circle cx="1865.5" cy="2281.6" r="3.9" fill="none" stroke="#000" stroke-width="2"/>
<line x1="1719.3" y1="2251" x2="1719.3" y2="2415.8" stroke="#000" stroke-width="2.4"/>
<line x1="1711.8" y1="2415.8" x2="1879.7" y2="2415.8" stroke="#000" stroke-width="2.4"/>
<text x="1684.05" y="2422.36" class="Sb" font-size="20.17" textLength="25.21" lengthAdjust="spacingAndGlyphs">0.0</text>
<line x1="1711.8" y1="2383.1" x2="1719.3" y2="2383.1" stroke="#000" stroke-width="2.4"/>
<text x="1684.33" y="2389.64" class="Sb" font-size="20.17" textLength="25.21" lengthAdjust="spacingAndGlyphs">0.1</text>
<line x1="1711.8" y1="2350.4" x2="1719.3" y2="2350.4" stroke="#000" stroke-width="2.4"/>
<text x="1684.15" y="2356.92" class="Sb" font-size="20.17" textLength="25.21" lengthAdjust="spacingAndGlyphs">0.2</text>
<line x1="1711.8" y1="2317.6" x2="1719.3" y2="2317.6" stroke="#000" stroke-width="2.4"/>
<text x="1683.98" y="2324.2" class="Sb" font-size="20.17" textLength="25.21" lengthAdjust="spacingAndGlyphs">0.3</text>
<line x1="1711.8" y1="2284.9" x2="1719.3" y2="2284.9" stroke="#000" stroke-width="2.4"/>
<text x="1683.66" y="2291.48" class="Sb" font-size="20.17" textLength="25.21" lengthAdjust="spacingAndGlyphs">0.4</text>
<line x1="1711.8" y1="2252.2" x2="1719.3" y2="2252.2" stroke="#000" stroke-width="2.4"/>
<text x="1684.03" y="2258.76" class="Sb" font-size="20.17" textLength="25.21" lengthAdjust="spacingAndGlyphs">0.5</text>
<line x1="1739" y1="2415.8" x2="1739" y2="2422.3" stroke="#000" stroke-width="2.4"/>
<line x1="1769.5" y1="2415.8" x2="1769.5" y2="2422.3" stroke="#000" stroke-width="2.4"/>
<line x1="1799.5" y1="2415.8" x2="1799.5" y2="2422.3" stroke="#000" stroke-width="2.4"/>
<line x1="1830" y1="2415.8" x2="1830" y2="2422.3" stroke="#000" stroke-width="2.4"/>
<line x1="1860" y1="2415.8" x2="1860" y2="2422.3" stroke="#000" stroke-width="2.4"/>
<text x="1759.83" y="2314.63" class="Sni" font-size="37.43" textLength="29.16" lengthAdjust="spacingAndGlyphs">ns</text>
<text class="Ast" font-size="26.01" transform="translate(1793.01 2360.64) scale(1 1.08)">*</text>
<text class="Sn" font-size="28.03" transform="translate(1854.49 2270) scale(1 1.04)">#</text>
<text x="1651.93" y="2407.98" class="Sb" font-size="19.79" textLength="155.58" lengthAdjust="spacingAndGlyphs" transform="rotate(-90 1651.93 2407.98)">Collagen I protein</text>
<text x="1674.07" y="2397.87" class="Sb" font-size="19.41" textLength="137.22" lengthAdjust="spacingAndGlyphs" transform="rotate(-90 1674.07 2397.87)">expression (n=3)</text>
<text class="Ab" font-size="37.42" transform="translate(1729.79 2444.5) scale(1 0.9)">-</text>
<text class="Sn" font-size="36.53" transform="translate(1757.68 2445.42) scale(1 1)">+</text>
<text class="Ab" font-size="37.42" transform="translate(1793.49 2444.5) scale(1 0.9)">-</text>
<text class="Ab" font-size="37.42" transform="translate(1825.79 2444.5) scale(1 0.9)">-</text>
<text class="Ab" font-size="37.42" transform="translate(1857.79 2444.5) scale(1 0.9)">-</text>
<text class="Ab" font-size="37.42" transform="translate(1729.79 2475) scale(1 0.9)">-</text>
<text class="Ab" font-size="37.42" transform="translate(1761.79 2475) scale(1 0.9)">-</text>
<text class="Sn" font-size="36.53" transform="translate(1789.38 2475.92) scale(1 1)">+</text>
<text class="Ab" font-size="37.42" transform="translate(1825.79 2475) scale(1 0.9)">-</text>
<text class="Ab" font-size="37.42" transform="translate(1857.79 2475) scale(1 0.9)">-</text>
<text class="Ab" font-size="37.42" transform="translate(1729.79 2505.6) scale(1 0.9)">-</text>
<text class="Ab" font-size="37.42" transform="translate(1761.79 2505.6) scale(1 0.9)">-</text>
<text class="Ab" font-size="37.42" transform="translate(1793.49 2505.6) scale(1 0.9)">-</text>
<text class="Sn" font-size="36.53" transform="translate(1821.68 2506.52) scale(1 1)">+</text>
<text class="Ab" font-size="37.42" transform="translate(1857.79 2505.6) scale(1 0.9)">-</text>
<text class="Ab" font-size="37.42" transform="translate(1729.79 2535.6) scale(1 0.9)">-</text>
<text class="Ab" font-size="37.42" transform="translate(1761.79 2535.6) scale(1 0.9)">-</text>
<text class="Ab" font-size="37.42" transform="translate(1793.49 2535.6) scale(1 0.9)">-</text>
<text class="Ab" font-size="37.42" transform="translate(1825.79 2535.6) scale(1 0.9)">-</text>
<text class="Sn" font-size="36.53" transform="translate(1853.68 2536.52) scale(1 1)">+</text>
</svg></body></html>
